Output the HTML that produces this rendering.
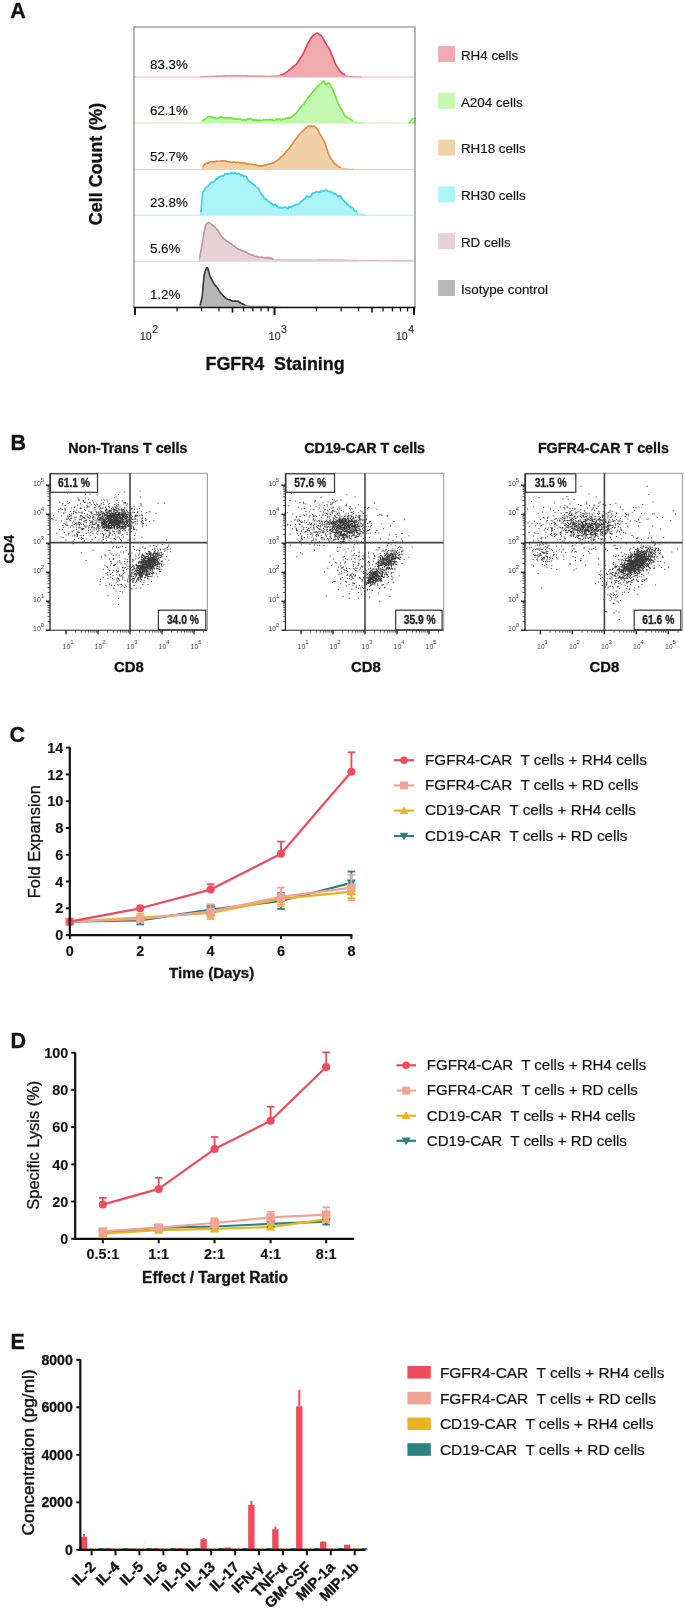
<!DOCTYPE html><html><head><meta charset="utf-8"><style>html,body{margin:0;padding:0;background:#fff;width:685px;height:1609px;overflow:hidden}svg{display:block;filter:blur(0.45px)}text{font-family:'Liberation Sans',sans-serif;white-space:pre}</style></head><body>
<svg width="685" height="1609" viewBox="0 0 685 1609">
<rect width="685" height="1609" fill="#fff"/>
<text x="10.2" y="17.8" font-size="21.5" font-weight="bold" text-anchor="start" fill="#111"  stroke="#111" stroke-width="0.3">A</text>
<line x1="134" y1="77" x2="415" y2="77" stroke="#e2485a" stroke-opacity="0.45" stroke-width="0.9"/>
<path d="M200.0,77.0 L200.4,77.0 L200.8,76.9 L201.2,76.9 L201.7,76.8 L202.3,76.8 L202.9,76.7 L203.5,76.6 L204.2,76.6 L205.0,76.5 L205.8,76.5 L206.8,76.4 L207.7,76.3 L208.8,76.3 L210.0,76.2 L210.5,76.2 L211.1,76.2 L211.6,76.1 L212.2,76.1 L212.8,76.1 L213.4,76.0 L214.1,76.0 L214.7,76.0 L215.4,76.0 L216.1,75.9 L216.8,75.9 L217.6,75.9 L218.3,75.8 L219.0,75.8 L219.8,75.8 L220.5,75.8 L221.3,75.7 L222.1,75.7 L222.9,75.7 L223.6,75.6 L224.4,75.6 L225.2,75.6 L226.0,75.6 L226.7,75.5 L227.5,75.5 L228.3,75.5 L229.0,75.5 L229.8,75.5 L230.5,75.5 L231.2,75.4 L231.9,75.4 L232.6,75.4 L233.3,75.4 L234.0,75.4 L234.7,75.4 L235.5,75.4 L236.2,75.4 L237.0,75.4 L237.7,75.4 L238.4,75.4 L239.1,75.4 L239.9,75.4 L240.6,75.4 L241.3,75.5 L242.0,75.5 L242.7,75.5 L243.4,75.5 L244.1,75.5 L244.8,75.6 L245.5,75.6 L246.2,75.6 L246.9,75.6 L247.6,75.6 L248.3,75.7 L248.9,75.7 L249.6,75.7 L250.3,75.7 L251.0,75.7 L251.7,75.7 L252.3,75.8 L253.0,75.8 L253.7,75.8 L254.3,75.8 L255.0,75.8 L255.7,75.8 L256.5,75.8 L257.2,75.8 L258.0,75.8 L258.8,75.9 L259.5,75.9 L260.3,75.9 L261.1,75.9 L261.8,75.9 L262.6,75.9 L263.3,75.9 L264.1,75.9 L264.8,76.0 L265.6,76.0 L266.3,76.0 L267.0,76.0 L267.7,76.0 L268.4,76.0 L269.1,76.0 L269.8,76.0 L270.4,76.0 L271.1,75.9 L271.7,75.9 L272.3,75.9 L272.9,75.9 L273.5,75.8 L274.0,75.8 L275.0,75.7 L275.9,75.7 L276.7,75.6 L277.5,75.5 L278.2,75.4 L278.9,75.3 L279.5,75.2 L280.1,75.1 L280.7,75.1 L281.3,74.5 L282.0,74.7 L282.6,74.5 L283.3,74.4 L284.0,74.1 L284.7,73.5 L285.4,72.9 L286.2,72.2 L286.9,72.0 L287.7,71.2 L288.5,70.5 L289.2,70.0 L290.0,69.4 L290.8,69.0 L291.5,68.3 L292.3,67.5 L293.0,67.0 L293.7,66.3 L294.4,65.9 L295.0,65.1 L295.9,64.7 L296.7,63.8 L297.5,62.5 L298.3,61.3 L299.0,60.2 L299.7,59.1 L300.4,57.8 L301.1,57.1 L301.8,56.4 L302.4,55.1 L303.0,54.0 L303.9,52.1 L304.7,50.3 L305.4,48.7 L306.1,47.2 L306.7,46.1 L307.4,44.4 L308.0,42.9 L308.9,41.8 L309.7,40.4 L310.4,38.9 L311.2,37.9 L312.0,36.6 L312.8,35.8 L313.6,35.3 L314.3,34.7 L315.1,34.1 L316.0,33.5 L316.7,33.3 L317.4,33.1 L318.1,33.6 L318.8,33.9 L319.5,34.5 L320.3,34.9 L321.0,35.3 L321.7,36.4 L322.4,37.6 L323.1,38.8 L323.8,39.9 L324.5,41.2 L325.2,42.5 L326.0,43.5 L326.7,44.8 L327.4,46.0 L328.2,47.1 L328.9,48.4 L329.7,50.0 L330.5,51.6 L331.2,53.5 L332.0,55.4 L332.7,56.9 L333.5,58.9 L334.2,60.9 L334.9,62.8 L335.6,64.1 L336.4,65.5 L337.2,66.8 L338.0,68.1 L338.6,68.9 L339.3,70.0 L340.0,71.1 L340.7,72.0 L341.4,72.5 L342.2,73.2 L342.9,73.9 L343.7,74.0 L344.5,74.6 L345.2,75.3 L346.0,75.4 L346.7,75.7 L347.5,76.0 L348.2,76.2 L349.0,76.3 L349.8,76.4 L350.6,76.5 L351.3,76.6 L352.1,76.6 L352.9,76.7 L353.6,76.7 L354.3,76.7 L355.0,76.8 L355.8,76.9 L356.6,76.9 L357.5,77.0 L358.3,77.0 L359.1,77.0 L359.8,77.0 L360.5,77.0 L361.1,77.0 L361.6,77.0 L362.0,77.0 L362.0,77 L200.0,77 Z" fill="#f0aab0" stroke="none"/>
<path d="M200.0,77.0 L200.4,77.0 L200.8,76.9 L201.2,76.9 L201.7,76.8 L202.3,76.8 L202.9,76.7 L203.5,76.6 L204.2,76.6 L205.0,76.5 L205.8,76.5 L206.8,76.4 L207.7,76.3 L208.8,76.3 L210.0,76.2 L210.5,76.2 L211.1,76.2 L211.6,76.1 L212.2,76.1 L212.8,76.1 L213.4,76.0 L214.1,76.0 L214.7,76.0 L215.4,76.0 L216.1,75.9 L216.8,75.9 L217.6,75.9 L218.3,75.8 L219.0,75.8 L219.8,75.8 L220.5,75.8 L221.3,75.7 L222.1,75.7 L222.9,75.7 L223.6,75.6 L224.4,75.6 L225.2,75.6 L226.0,75.6 L226.7,75.5 L227.5,75.5 L228.3,75.5 L229.0,75.5 L229.8,75.5 L230.5,75.5 L231.2,75.4 L231.9,75.4 L232.6,75.4 L233.3,75.4 L234.0,75.4 L234.7,75.4 L235.5,75.4 L236.2,75.4 L237.0,75.4 L237.7,75.4 L238.4,75.4 L239.1,75.4 L239.9,75.4 L240.6,75.4 L241.3,75.5 L242.0,75.5 L242.7,75.5 L243.4,75.5 L244.1,75.5 L244.8,75.6 L245.5,75.6 L246.2,75.6 L246.9,75.6 L247.6,75.6 L248.3,75.7 L248.9,75.7 L249.6,75.7 L250.3,75.7 L251.0,75.7 L251.7,75.7 L252.3,75.8 L253.0,75.8 L253.7,75.8 L254.3,75.8 L255.0,75.8 L255.7,75.8 L256.5,75.8 L257.2,75.8 L258.0,75.8 L258.8,75.9 L259.5,75.9 L260.3,75.9 L261.1,75.9 L261.8,75.9 L262.6,75.9 L263.3,75.9 L264.1,75.9 L264.8,76.0 L265.6,76.0 L266.3,76.0 L267.0,76.0 L267.7,76.0 L268.4,76.0 L269.1,76.0 L269.8,76.0 L270.4,76.0 L271.1,75.9 L271.7,75.9 L272.3,75.9 L272.9,75.9 L273.5,75.8 L274.0,75.8 L275.0,75.7 L275.9,75.7 L276.7,75.6 L277.5,75.5 L278.2,75.4 L278.9,75.3 L279.5,75.2 L280.1,75.1 L280.7,75.1 L281.3,74.5 L282.0,74.7 L282.6,74.5 L283.3,74.4 L284.0,74.1 L284.7,73.5 L285.4,72.9 L286.2,72.2 L286.9,72.0 L287.7,71.2 L288.5,70.5 L289.2,70.0 L290.0,69.4 L290.8,69.0 L291.5,68.3 L292.3,67.5 L293.0,67.0 L293.7,66.3 L294.4,65.9 L295.0,65.1 L295.9,64.7 L296.7,63.8 L297.5,62.5 L298.3,61.3 L299.0,60.2 L299.7,59.1 L300.4,57.8 L301.1,57.1 L301.8,56.4 L302.4,55.1 L303.0,54.0 L303.9,52.1 L304.7,50.3 L305.4,48.7 L306.1,47.2 L306.7,46.1 L307.4,44.4 L308.0,42.9 L308.9,41.8 L309.7,40.4 L310.4,38.9 L311.2,37.9 L312.0,36.6 L312.8,35.8 L313.6,35.3 L314.3,34.7 L315.1,34.1 L316.0,33.5 L316.7,33.3 L317.4,33.1 L318.1,33.6 L318.8,33.9 L319.5,34.5 L320.3,34.9 L321.0,35.3 L321.7,36.4 L322.4,37.6 L323.1,38.8 L323.8,39.9 L324.5,41.2 L325.2,42.5 L326.0,43.5 L326.7,44.8 L327.4,46.0 L328.2,47.1 L328.9,48.4 L329.7,50.0 L330.5,51.6 L331.2,53.5 L332.0,55.4 L332.7,56.9 L333.5,58.9 L334.2,60.9 L334.9,62.8 L335.6,64.1 L336.4,65.5 L337.2,66.8 L338.0,68.1 L338.6,68.9 L339.3,70.0 L340.0,71.1 L340.7,72.0 L341.4,72.5 L342.2,73.2 L342.9,73.9 L343.7,74.0 L344.5,74.6 L345.2,75.3 L346.0,75.4 L346.7,75.7 L347.5,76.0 L348.2,76.2 L349.0,76.3 L349.8,76.4 L350.6,76.5 L351.3,76.6 L352.1,76.6 L352.9,76.7 L353.6,76.7 L354.3,76.7 L355.0,76.8 L355.8,76.9 L356.6,76.9 L357.5,77.0 L358.3,77.0 L359.1,77.0 L359.8,77.0 L360.5,77.0 L361.1,77.0 L361.6,77.0 L362.0,77.0" fill="none" stroke="#e2485a" stroke-opacity="0.45" stroke-width="1.1" stroke-linejoin="round"/>
<path d="M281.3,74.5 L282.0,74.7 L282.6,74.5 L283.3,74.4 L284.0,74.1 L284.7,73.5 L285.4,72.9 L286.2,72.2 L286.9,72.0 L287.7,71.2 L288.5,70.5 L289.2,70.0 L290.0,69.4 L290.8,69.0 L291.5,68.3 L292.3,67.5 L293.0,67.0 L293.7,66.3 L294.4,65.9 L295.0,65.1 L295.9,64.7 L296.7,63.8 L297.5,62.5 L298.3,61.3 L299.0,60.2 L299.7,59.1 L300.4,57.8 L301.1,57.1 L301.8,56.4 L302.4,55.1 L303.0,54.0 L303.9,52.1 L304.7,50.3 L305.4,48.7 L306.1,47.2 L306.7,46.1 L307.4,44.4 L308.0,42.9 L308.9,41.8 L309.7,40.4 L310.4,38.9 L311.2,37.9 L312.0,36.6 L312.8,35.8 L313.6,35.3 L314.3,34.7 L315.1,34.1 L316.0,33.5 L316.7,33.3 L317.4,33.1 L318.1,33.6 L318.8,33.9 L319.5,34.5 L320.3,34.9 L321.0,35.3 L321.7,36.4 L322.4,37.6 L323.1,38.8 L323.8,39.9 L324.5,41.2 L325.2,42.5 L326.0,43.5 L326.7,44.8 L327.4,46.0 L328.2,47.1 L328.9,48.4 L329.7,50.0 L330.5,51.6 L331.2,53.5 L332.0,55.4 L332.7,56.9 L333.5,58.9 L334.2,60.9 L334.9,62.8 L335.6,64.1 L336.4,65.5 L337.2,66.8 L338.0,68.1 L338.6,68.9 L339.3,70.0 L340.0,71.1 L340.7,72.0 L341.4,72.5 L342.2,73.2 L342.9,73.9 L343.7,74.0 L344.5,74.6" fill="none" stroke="#e2485a" stroke-width="1.6" stroke-linejoin="round" stroke-linecap="round"/>
<text x="150" y="69" font-size="13.3" font-weight="normal" text-anchor="start" fill="#111" stroke="#111" stroke-width="0.15">83.3%</text>
<line x1="134" y1="123" x2="415" y2="123" stroke="#6ee63a" stroke-opacity="0.45" stroke-width="0.9"/>
<path d="M200.3,123.0 L200.9,122.2 L201.8,121.1 L203.0,120.2 L203.6,119.7 L204.2,119.8 L204.9,118.9 L205.6,118.7 L206.4,118.5 L207.2,117.4 L208.0,116.7 L208.6,116.5 L209.2,116.3 L209.8,116.7 L210.4,116.6 L211.1,116.8 L211.8,116.6 L212.5,117.6 L213.3,117.5 L214.1,117.6 L215.0,117.8 L215.6,118.4 L216.1,118.1 L216.7,118.6 L217.3,118.3 L217.9,118.2 L218.5,118.1 L219.1,117.3 L219.7,117.4 L220.4,117.2 L221.1,116.7 L221.9,117.6 L222.7,117.3 L223.5,117.5 L224.5,118.0 L225.4,118.1 L226.5,117.8 L227.0,118.0 L227.6,118.1 L228.2,118.5 L228.8,117.8 L229.4,118.1 L230.0,117.8 L230.7,117.7 L231.4,118.3 L232.0,118.4 L232.7,118.5 L233.4,118.9 L234.1,119.3 L234.9,119.0 L235.6,119.0 L236.3,118.9 L237.1,118.9 L237.8,119.1 L238.6,119.0 L239.4,119.0 L240.1,119.0 L240.9,119.6 L241.7,119.7 L242.5,120.0 L243.2,120.3 L244.0,119.5 L244.8,119.5 L245.5,120.1 L246.3,120.3 L247.1,119.4 L247.8,118.9 L248.5,119.1 L249.3,118.6 L250.0,118.6 L250.7,118.4 L251.4,119.1 L252.1,119.7 L252.8,120.3 L253.6,119.6 L254.3,119.9 L255.0,120.1 L255.8,119.5 L256.5,120.2 L257.3,120.7 L258.0,120.0 L258.8,120.6 L259.5,120.2 L260.2,120.1 L261.0,120.7 L261.7,120.9 L262.5,120.1 L263.2,120.0 L263.9,120.0 L264.7,119.8 L265.4,119.5 L266.1,119.5 L266.8,120.1 L267.5,119.4 L268.2,119.8 L268.9,119.8 L269.6,119.3 L270.2,119.4 L270.9,119.8 L271.5,119.9 L272.2,119.4 L272.8,120.3 L273.4,120.6 L274.0,121.0 L274.9,120.0 L275.8,119.6 L276.6,119.0 L277.5,119.7 L278.3,119.4 L279.1,118.9 L279.9,119.1 L280.7,119.8 L281.4,120.1 L282.2,119.4 L282.9,118.8 L283.6,119.5 L284.3,119.4 L285.0,119.4 L285.6,118.5 L286.3,117.9 L286.9,118.3 L287.6,118.1 L288.2,117.4 L288.8,118.1 L289.4,118.0 L290.0,118.1 L290.9,116.9 L291.8,117.0 L292.6,115.7 L293.4,115.8 L294.1,115.1 L294.8,114.2 L295.5,113.7 L296.2,113.7 L296.8,112.4 L297.5,111.2 L298.1,110.8 L298.7,109.8 L299.4,108.8 L300.0,108.0 L300.8,106.9 L301.6,106.1 L302.3,105.4 L303.1,104.5 L303.8,104.3 L304.5,103.1 L305.2,102.2 L305.9,100.9 L306.6,100.0 L307.3,98.5 L308.0,97.6 L308.7,96.4 L309.5,96.2 L310.2,95.4 L311.0,94.0 L311.7,93.2 L312.4,92.9 L313.2,91.2 L313.9,90.9 L314.6,89.7 L315.3,88.8 L316.0,88.5 L316.8,87.3 L317.5,86.4 L318.3,85.8 L319.1,85.5 L319.8,84.2 L320.5,83.8 L321.2,83.3 L321.9,82.7 L322.5,82.0 L323.0,81.4 L324.0,81.1 L324.7,82.0 L325.3,83.1 L326.0,84.6 L326.7,84.4 L327.5,83.6 L328.4,82.8 L329.2,83.5 L330.0,84.4 L330.8,85.6 L331.5,86.7 L332.2,88.3 L333.0,90.4 L334.0,92.9 L334.6,93.9 L335.2,95.6 L335.9,97.1 L336.6,99.7 L337.4,102.0 L338.1,103.4 L338.9,104.5 L339.6,106.8 L340.3,107.8 L341.0,108.9 L341.8,109.7 L342.5,111.3 L343.1,112.8 L343.8,114.1 L344.4,114.9 L345.2,116.2 L346.0,116.5 L347.0,117.4 L347.6,117.6 L348.3,118.3 L349.0,118.4 L349.7,118.5 L350.5,119.1 L351.3,119.5 L352.1,120.3 L352.9,121.1 L353.7,121.3 L354.5,121.6 L355.3,121.8 L356.0,122.0 L356.7,122.2 L357.4,122.3 L358.0,122.5 L359.0,122.7 L360.0,122.9 L360.9,123.0 L361.7,123.0 L362.4,123.0 L363.0,123.0 L363.6,123.0 L364.0,123.0 L364.0,123 L200.3,123 Z" fill="#c4f7b0" stroke="none"/>
<path d="M200.3,123.0 L200.9,122.2 L201.8,121.1 L203.0,120.2 L203.6,119.7 L204.2,119.8 L204.9,118.9 L205.6,118.7 L206.4,118.5 L207.2,117.4 L208.0,116.7 L208.6,116.5 L209.2,116.3 L209.8,116.7 L210.4,116.6 L211.1,116.8 L211.8,116.6 L212.5,117.6 L213.3,117.5 L214.1,117.6 L215.0,117.8 L215.6,118.4 L216.1,118.1 L216.7,118.6 L217.3,118.3 L217.9,118.2 L218.5,118.1 L219.1,117.3 L219.7,117.4 L220.4,117.2 L221.1,116.7 L221.9,117.6 L222.7,117.3 L223.5,117.5 L224.5,118.0 L225.4,118.1 L226.5,117.8 L227.0,118.0 L227.6,118.1 L228.2,118.5 L228.8,117.8 L229.4,118.1 L230.0,117.8 L230.7,117.7 L231.4,118.3 L232.0,118.4 L232.7,118.5 L233.4,118.9 L234.1,119.3 L234.9,119.0 L235.6,119.0 L236.3,118.9 L237.1,118.9 L237.8,119.1 L238.6,119.0 L239.4,119.0 L240.1,119.0 L240.9,119.6 L241.7,119.7 L242.5,120.0 L243.2,120.3 L244.0,119.5 L244.8,119.5 L245.5,120.1 L246.3,120.3 L247.1,119.4 L247.8,118.9 L248.5,119.1 L249.3,118.6 L250.0,118.6 L250.7,118.4 L251.4,119.1 L252.1,119.7 L252.8,120.3 L253.6,119.6 L254.3,119.9 L255.0,120.1 L255.8,119.5 L256.5,120.2 L257.3,120.7 L258.0,120.0 L258.8,120.6 L259.5,120.2 L260.2,120.1 L261.0,120.7 L261.7,120.9 L262.5,120.1 L263.2,120.0 L263.9,120.0 L264.7,119.8 L265.4,119.5 L266.1,119.5 L266.8,120.1 L267.5,119.4 L268.2,119.8 L268.9,119.8 L269.6,119.3 L270.2,119.4 L270.9,119.8 L271.5,119.9 L272.2,119.4 L272.8,120.3 L273.4,120.6 L274.0,121.0 L274.9,120.0 L275.8,119.6 L276.6,119.0 L277.5,119.7 L278.3,119.4 L279.1,118.9 L279.9,119.1 L280.7,119.8 L281.4,120.1 L282.2,119.4 L282.9,118.8 L283.6,119.5 L284.3,119.4 L285.0,119.4 L285.6,118.5 L286.3,117.9 L286.9,118.3 L287.6,118.1 L288.2,117.4 L288.8,118.1 L289.4,118.0 L290.0,118.1 L290.9,116.9 L291.8,117.0 L292.6,115.7 L293.4,115.8 L294.1,115.1 L294.8,114.2 L295.5,113.7 L296.2,113.7 L296.8,112.4 L297.5,111.2 L298.1,110.8 L298.7,109.8 L299.4,108.8 L300.0,108.0 L300.8,106.9 L301.6,106.1 L302.3,105.4 L303.1,104.5 L303.8,104.3 L304.5,103.1 L305.2,102.2 L305.9,100.9 L306.6,100.0 L307.3,98.5 L308.0,97.6 L308.7,96.4 L309.5,96.2 L310.2,95.4 L311.0,94.0 L311.7,93.2 L312.4,92.9 L313.2,91.2 L313.9,90.9 L314.6,89.7 L315.3,88.8 L316.0,88.5 L316.8,87.3 L317.5,86.4 L318.3,85.8 L319.1,85.5 L319.8,84.2 L320.5,83.8 L321.2,83.3 L321.9,82.7 L322.5,82.0 L323.0,81.4 L324.0,81.1 L324.7,82.0 L325.3,83.1 L326.0,84.6 L326.7,84.4 L327.5,83.6 L328.4,82.8 L329.2,83.5 L330.0,84.4 L330.8,85.6 L331.5,86.7 L332.2,88.3 L333.0,90.4 L334.0,92.9 L334.6,93.9 L335.2,95.6 L335.9,97.1 L336.6,99.7 L337.4,102.0 L338.1,103.4 L338.9,104.5 L339.6,106.8 L340.3,107.8 L341.0,108.9 L341.8,109.7 L342.5,111.3 L343.1,112.8 L343.8,114.1 L344.4,114.9 L345.2,116.2 L346.0,116.5 L347.0,117.4 L347.6,117.6 L348.3,118.3 L349.0,118.4 L349.7,118.5 L350.5,119.1 L351.3,119.5 L352.1,120.3 L352.9,121.1 L353.7,121.3 L354.5,121.6 L355.3,121.8 L356.0,122.0 L356.7,122.2 L357.4,122.3 L358.0,122.5 L359.0,122.7 L360.0,122.9 L360.9,123.0 L361.7,123.0 L362.4,123.0 L363.0,123.0 L363.6,123.0 L364.0,123.0" fill="none" stroke="#6ee63a" stroke-opacity="0.45" stroke-width="1.1" stroke-linejoin="round"/>
<path d="M203.0,120.2 L203.6,119.7 L204.2,119.8 L204.9,118.9 L205.6,118.7 L206.4,118.5 L207.2,117.4 L208.0,116.7 L208.6,116.5 L209.2,116.3 L209.8,116.7 L210.4,116.6 L211.1,116.8 L211.8,116.6 L212.5,117.6 L213.3,117.5 L214.1,117.6 L215.0,117.8 L215.6,118.4 L216.1,118.1 L216.7,118.6 L217.3,118.3 L217.9,118.2 L218.5,118.1 L219.1,117.3 L219.7,117.4 L220.4,117.2 L221.1,116.7 L221.9,117.6 L222.7,117.3 L223.5,117.5 L224.5,118.0 L225.4,118.1 L226.5,117.8 L227.0,118.0 L227.6,118.1 L228.2,118.5 L228.8,117.8 L229.4,118.1 L230.0,117.8 L230.7,117.7 L231.4,118.3 L232.0,118.4 L232.7,118.5 L233.4,118.9 L234.1,119.3 L234.9,119.0 L235.6,119.0 L236.3,118.9 L237.1,118.9 L237.8,119.1 L238.6,119.0 L239.4,119.0 L240.1,119.0 L240.9,119.6 L241.7,119.7 L242.5,120.0 L243.2,120.3 L244.0,119.5 L244.8,119.5 L245.5,120.1 L246.3,120.3 L247.1,119.4 L247.8,118.9 L248.5,119.1 L249.3,118.6 L250.0,118.6 L250.7,118.4 L251.4,119.1 L252.1,119.7 L252.8,120.3 L253.6,119.6 L254.3,119.9 L255.0,120.1 L255.8,119.5 L256.5,120.2 L257.3,120.7 L258.0,120.0 L258.8,120.6 L259.5,120.2 L260.2,120.1 L261.0,120.7M262.5,120.1 L263.2,120.0 L263.9,120.0 L264.7,119.8 L265.4,119.5 L266.1,119.5 L266.8,120.1 L267.5,119.4 L268.2,119.8 L268.9,119.8 L269.6,119.3 L270.2,119.4 L270.9,119.8 L271.5,119.9 L272.2,119.4 L272.8,120.3 L273.4,120.6M274.9,120.0 L275.8,119.6 L276.6,119.0 L277.5,119.7 L278.3,119.4 L279.1,118.9 L279.9,119.1 L280.7,119.8 L281.4,120.1 L282.2,119.4 L282.9,118.8 L283.6,119.5 L284.3,119.4 L285.0,119.4 L285.6,118.5 L286.3,117.9 L286.9,118.3 L287.6,118.1 L288.2,117.4 L288.8,118.1 L289.4,118.0 L290.0,118.1 L290.9,116.9 L291.8,117.0 L292.6,115.7 L293.4,115.8 L294.1,115.1 L294.8,114.2 L295.5,113.7 L296.2,113.7 L296.8,112.4 L297.5,111.2 L298.1,110.8 L298.7,109.8 L299.4,108.8 L300.0,108.0 L300.8,106.9 L301.6,106.1 L302.3,105.4 L303.1,104.5 L303.8,104.3 L304.5,103.1 L305.2,102.2 L305.9,100.9 L306.6,100.0 L307.3,98.5 L308.0,97.6 L308.7,96.4 L309.5,96.2 L310.2,95.4 L311.0,94.0 L311.7,93.2 L312.4,92.9 L313.2,91.2 L313.9,90.9 L314.6,89.7 L315.3,88.8 L316.0,88.5 L316.8,87.3 L317.5,86.4 L318.3,85.8 L319.1,85.5 L319.8,84.2 L320.5,83.8 L321.2,83.3 L321.9,82.7 L322.5,82.0 L323.0,81.4 L324.0,81.1 L324.7,82.0 L325.3,83.1 L326.0,84.6 L326.7,84.4 L327.5,83.6 L328.4,82.8 L329.2,83.5 L330.0,84.4 L330.8,85.6 L331.5,86.7 L332.2,88.3 L333.0,90.4 L334.0,92.9 L334.6,93.9 L335.2,95.6 L335.9,97.1 L336.6,99.7 L337.4,102.0 L338.1,103.4 L338.9,104.5 L339.6,106.8 L340.3,107.8 L341.0,108.9 L341.8,109.7 L342.5,111.3 L343.1,112.8 L343.8,114.1 L344.4,114.9 L345.2,116.2 L346.0,116.5 L347.0,117.4 L347.6,117.6 L348.3,118.3 L349.0,118.4 L349.7,118.5 L350.5,119.1 L351.3,119.5 L352.1,120.3" fill="none" stroke="#6ee63a" stroke-width="1.6" stroke-linejoin="round" stroke-linecap="round"/>
<text x="150" y="115" font-size="13.3" font-weight="normal" text-anchor="start" fill="#111" stroke="#111" stroke-width="0.15">62.1%</text>
<line x1="134" y1="169.4" x2="415" y2="169.4" stroke="#de8e3e" stroke-opacity="0.45" stroke-width="0.9"/>
<path d="M201.6,169.4 L202.2,168.2 L203.1,166.4 L204.0,165.0 L204.5,164.5 L204.8,164.1 L205.5,163.7 L207.0,163.1 L207.5,163.2 L208.0,163.0 L208.5,162.9 L209.1,162.4 L209.8,161.9 L210.4,161.7 L211.1,161.7 L211.9,161.4 L212.6,161.7 L213.4,161.7 L214.2,161.7 L214.9,161.6 L215.7,161.6 L216.5,161.4 L217.3,160.9 L218.1,161.2 L218.8,161.3 L219.6,161.2 L220.3,161.1 L221.0,161.2 L221.7,160.8 L222.5,161.1 L223.2,160.9 L223.9,160.7 L224.7,160.7 L225.4,161.1 L226.1,161.0 L226.8,161.4 L227.5,161.8 L228.2,161.8 L229.0,161.7 L229.7,161.8 L230.4,162.0 L231.1,162.2 L231.8,162.3 L232.5,162.4 L233.3,162.1 L234.0,162.0 L234.7,162.0 L235.4,162.4 L236.1,162.3 L236.8,162.5 L237.5,162.2 L238.2,162.2 L238.9,162.3 L239.6,162.6 L240.3,162.9 L241.0,163.1 L241.7,162.9 L242.4,163.0 L243.1,163.1 L243.9,163.2 L244.6,163.0 L245.3,163.4 L246.0,163.3 L246.8,163.8 L247.5,164.1 L248.2,163.6 L248.9,163.7 L249.6,164.1 L250.4,164.5 L251.1,164.4 L251.9,164.3 L252.6,164.3 L253.3,164.8 L254.1,164.7 L254.8,164.9 L255.6,164.8 L256.3,165.1 L257.1,165.6 L257.8,165.3 L258.5,165.7 L259.2,165.7 L260.0,166.0 L260.6,166.0 L261.3,165.7 L262.0,166.0 L262.8,165.8 L263.5,165.3 L264.3,165.0 L265.0,165.1 L265.8,165.0 L266.5,164.8 L267.2,164.5 L267.9,164.4 L268.6,164.2 L269.3,164.3 L270.0,163.7 L270.7,163.8 L271.4,163.8 L272.0,163.1 L272.7,163.2 L273.4,162.9 L274.0,162.7 L274.8,162.0 L275.6,161.4 L276.3,160.9 L277.1,160.7 L277.8,160.2 L278.5,159.4 L279.2,158.8 L280.0,158.0 L280.7,157.2 L281.3,156.4 L282.0,156.3 L282.7,155.5 L283.4,155.2 L284.0,154.3 L284.8,153.3 L285.6,152.5 L286.3,151.4 L287.1,150.5 L287.8,149.9 L288.5,149.2 L289.2,148.2 L289.9,147.2 L290.6,146.3 L291.3,145.5 L292.0,144.3 L292.7,143.4 L293.5,141.9 L294.2,141.1 L295.0,140.1 L295.7,139.3 L296.5,138.4 L297.2,137.2 L298.0,136.0 L298.7,135.6 L299.3,134.5 L300.0,133.8 L300.9,132.7 L301.7,131.8 L302.4,131.2 L303.2,130.8 L303.9,129.8 L304.6,129.2 L305.3,128.5 L306.0,128.0 L306.8,127.4 L307.5,126.7 L308.2,126.3 L308.9,125.9 L309.6,126.2 L310.3,126.0 L311.0,125.8 L311.7,126.2 L312.3,126.4 L313.0,126.3 L313.6,126.1 L314.4,126.3 L315.1,126.7 L316.0,127.7 L316.6,128.4 L317.3,129.3 L318.0,130.4 L318.8,131.7 L319.5,133.3 L320.3,134.8 L321.1,135.9 L321.9,137.2 L322.6,138.6 L323.3,139.9 L324.0,141.1 L324.8,142.8 L325.6,144.8 L326.3,147.4 L327.0,149.2 L327.7,151.4 L328.4,153.5 L329.2,155.6 L330.0,157.0 L330.6,157.9 L331.3,158.9 L332.0,159.9 L332.7,160.9 L333.4,162.2 L334.2,163.2 L334.9,164.1 L335.7,164.3 L336.5,164.7 L337.2,165.6 L338.0,166.4 L338.7,166.8 L339.5,167.2 L340.2,167.1 L341.0,167.7 L341.8,167.9 L342.6,168.1 L343.3,168.3 L344.1,168.4 L344.9,168.5 L345.6,168.7 L346.3,168.8 L347.0,168.9 L347.8,169.0 L348.6,169.1 L349.5,169.2 L350.3,169.3 L351.1,169.3 L351.8,169.3 L352.5,169.4 L353.1,169.4 L353.6,169.4 L354.0,169.4 L354.0,169.4 L201.6,169.4 Z" fill="#f2d0a8" stroke="none"/>
<path d="M201.6,169.4 L202.2,168.2 L203.1,166.4 L204.0,165.0 L204.5,164.5 L204.8,164.1 L205.5,163.7 L207.0,163.1 L207.5,163.2 L208.0,163.0 L208.5,162.9 L209.1,162.4 L209.8,161.9 L210.4,161.7 L211.1,161.7 L211.9,161.4 L212.6,161.7 L213.4,161.7 L214.2,161.7 L214.9,161.6 L215.7,161.6 L216.5,161.4 L217.3,160.9 L218.1,161.2 L218.8,161.3 L219.6,161.2 L220.3,161.1 L221.0,161.2 L221.7,160.8 L222.5,161.1 L223.2,160.9 L223.9,160.7 L224.7,160.7 L225.4,161.1 L226.1,161.0 L226.8,161.4 L227.5,161.8 L228.2,161.8 L229.0,161.7 L229.7,161.8 L230.4,162.0 L231.1,162.2 L231.8,162.3 L232.5,162.4 L233.3,162.1 L234.0,162.0 L234.7,162.0 L235.4,162.4 L236.1,162.3 L236.8,162.5 L237.5,162.2 L238.2,162.2 L238.9,162.3 L239.6,162.6 L240.3,162.9 L241.0,163.1 L241.7,162.9 L242.4,163.0 L243.1,163.1 L243.9,163.2 L244.6,163.0 L245.3,163.4 L246.0,163.3 L246.8,163.8 L247.5,164.1 L248.2,163.6 L248.9,163.7 L249.6,164.1 L250.4,164.5 L251.1,164.4 L251.9,164.3 L252.6,164.3 L253.3,164.8 L254.1,164.7 L254.8,164.9 L255.6,164.8 L256.3,165.1 L257.1,165.6 L257.8,165.3 L258.5,165.7 L259.2,165.7 L260.0,166.0 L260.6,166.0 L261.3,165.7 L262.0,166.0 L262.8,165.8 L263.5,165.3 L264.3,165.0 L265.0,165.1 L265.8,165.0 L266.5,164.8 L267.2,164.5 L267.9,164.4 L268.6,164.2 L269.3,164.3 L270.0,163.7 L270.7,163.8 L271.4,163.8 L272.0,163.1 L272.7,163.2 L273.4,162.9 L274.0,162.7 L274.8,162.0 L275.6,161.4 L276.3,160.9 L277.1,160.7 L277.8,160.2 L278.5,159.4 L279.2,158.8 L280.0,158.0 L280.7,157.2 L281.3,156.4 L282.0,156.3 L282.7,155.5 L283.4,155.2 L284.0,154.3 L284.8,153.3 L285.6,152.5 L286.3,151.4 L287.1,150.5 L287.8,149.9 L288.5,149.2 L289.2,148.2 L289.9,147.2 L290.6,146.3 L291.3,145.5 L292.0,144.3 L292.7,143.4 L293.5,141.9 L294.2,141.1 L295.0,140.1 L295.7,139.3 L296.5,138.4 L297.2,137.2 L298.0,136.0 L298.7,135.6 L299.3,134.5 L300.0,133.8 L300.9,132.7 L301.7,131.8 L302.4,131.2 L303.2,130.8 L303.9,129.8 L304.6,129.2 L305.3,128.5 L306.0,128.0 L306.8,127.4 L307.5,126.7 L308.2,126.3 L308.9,125.9 L309.6,126.2 L310.3,126.0 L311.0,125.8 L311.7,126.2 L312.3,126.4 L313.0,126.3 L313.6,126.1 L314.4,126.3 L315.1,126.7 L316.0,127.7 L316.6,128.4 L317.3,129.3 L318.0,130.4 L318.8,131.7 L319.5,133.3 L320.3,134.8 L321.1,135.9 L321.9,137.2 L322.6,138.6 L323.3,139.9 L324.0,141.1 L324.8,142.8 L325.6,144.8 L326.3,147.4 L327.0,149.2 L327.7,151.4 L328.4,153.5 L329.2,155.6 L330.0,157.0 L330.6,157.9 L331.3,158.9 L332.0,159.9 L332.7,160.9 L333.4,162.2 L334.2,163.2 L334.9,164.1 L335.7,164.3 L336.5,164.7 L337.2,165.6 L338.0,166.4 L338.7,166.8 L339.5,167.2 L340.2,167.1 L341.0,167.7 L341.8,167.9 L342.6,168.1 L343.3,168.3 L344.1,168.4 L344.9,168.5 L345.6,168.7 L346.3,168.8 L347.0,168.9 L347.8,169.0 L348.6,169.1 L349.5,169.2 L350.3,169.3 L351.1,169.3 L351.8,169.3 L352.5,169.4 L353.1,169.4 L353.6,169.4 L354.0,169.4" fill="none" stroke="#de8e3e" stroke-opacity="0.45" stroke-width="1.1" stroke-linejoin="round"/>
<path d="M203.1,166.4 L204.0,165.0 L204.5,164.5 L204.8,164.1 L205.5,163.7 L207.0,163.1 L207.5,163.2 L208.0,163.0 L208.5,162.9 L209.1,162.4 L209.8,161.9 L210.4,161.7 L211.1,161.7 L211.9,161.4 L212.6,161.7 L213.4,161.7 L214.2,161.7 L214.9,161.6 L215.7,161.6 L216.5,161.4 L217.3,160.9 L218.1,161.2 L218.8,161.3 L219.6,161.2 L220.3,161.1 L221.0,161.2 L221.7,160.8 L222.5,161.1 L223.2,160.9 L223.9,160.7 L224.7,160.7 L225.4,161.1 L226.1,161.0 L226.8,161.4 L227.5,161.8 L228.2,161.8 L229.0,161.7 L229.7,161.8 L230.4,162.0 L231.1,162.2 L231.8,162.3 L232.5,162.4 L233.3,162.1 L234.0,162.0 L234.7,162.0 L235.4,162.4 L236.1,162.3 L236.8,162.5 L237.5,162.2 L238.2,162.2 L238.9,162.3 L239.6,162.6 L240.3,162.9 L241.0,163.1 L241.7,162.9 L242.4,163.0 L243.1,163.1 L243.9,163.2 L244.6,163.0 L245.3,163.4 L246.0,163.3 L246.8,163.8 L247.5,164.1 L248.2,163.6 L248.9,163.7 L249.6,164.1 L250.4,164.5 L251.1,164.4 L251.9,164.3 L252.6,164.3 L253.3,164.8 L254.1,164.7 L254.8,164.9 L255.6,164.8 L256.3,165.1 L257.1,165.6 L257.8,165.3 L258.5,165.7 L259.2,165.7 L260.0,166.0 L260.6,166.0 L261.3,165.7 L262.0,166.0 L262.8,165.8 L263.5,165.3 L264.3,165.0 L265.0,165.1 L265.8,165.0 L266.5,164.8 L267.2,164.5 L267.9,164.4 L268.6,164.2 L269.3,164.3 L270.0,163.7 L270.7,163.8 L271.4,163.8 L272.0,163.1 L272.7,163.2 L273.4,162.9 L274.0,162.7 L274.8,162.0 L275.6,161.4 L276.3,160.9 L277.1,160.7 L277.8,160.2 L278.5,159.4 L279.2,158.8 L280.0,158.0 L280.7,157.2 L281.3,156.4 L282.0,156.3 L282.7,155.5 L283.4,155.2 L284.0,154.3 L284.8,153.3 L285.6,152.5 L286.3,151.4 L287.1,150.5 L287.8,149.9 L288.5,149.2 L289.2,148.2 L289.9,147.2 L290.6,146.3 L291.3,145.5 L292.0,144.3 L292.7,143.4 L293.5,141.9 L294.2,141.1 L295.0,140.1 L295.7,139.3 L296.5,138.4 L297.2,137.2 L298.0,136.0 L298.7,135.6 L299.3,134.5 L300.0,133.8 L300.9,132.7 L301.7,131.8 L302.4,131.2 L303.2,130.8 L303.9,129.8 L304.6,129.2 L305.3,128.5 L306.0,128.0 L306.8,127.4 L307.5,126.7 L308.2,126.3 L308.9,125.9 L309.6,126.2 L310.3,126.0 L311.0,125.8 L311.7,126.2 L312.3,126.4 L313.0,126.3 L313.6,126.1 L314.4,126.3 L315.1,126.7 L316.0,127.7 L316.6,128.4 L317.3,129.3 L318.0,130.4 L318.8,131.7 L319.5,133.3 L320.3,134.8 L321.1,135.9 L321.9,137.2 L322.6,138.6 L323.3,139.9 L324.0,141.1 L324.8,142.8 L325.6,144.8 L326.3,147.4 L327.0,149.2 L327.7,151.4 L328.4,153.5 L329.2,155.6 L330.0,157.0 L330.6,157.9 L331.3,158.9 L332.0,159.9 L332.7,160.9 L333.4,162.2 L334.2,163.2 L334.9,164.1 L335.7,164.3 L336.5,164.7 L337.2,165.6 L338.0,166.4 L338.7,166.8 L339.5,167.2 L340.2,167.1" fill="none" stroke="#de8e3e" stroke-width="1.6" stroke-linejoin="round" stroke-linecap="round"/>
<text x="150" y="161.4" font-size="13.3" font-weight="normal" text-anchor="start" fill="#111" stroke="#111" stroke-width="0.15">52.7%</text>
<line x1="134" y1="215.2" x2="415" y2="215.2" stroke="#3ed0ee" stroke-opacity="0.45" stroke-width="0.9"/>
<path d="M200.5,215.2 L200.9,211.6 L201.5,205.1 L202.1,198.0 L203.0,192.2 L203.6,191.1 L204.3,190.5 L205.1,188.8 L206.0,187.4 L206.7,187.0 L207.5,186.7 L208.3,185.8 L209.1,184.6 L210.0,184.3 L210.6,182.9 L211.3,182.3 L212.0,181.9 L212.7,182.4 L213.4,181.8 L214.2,181.6 L215.0,180.6 L215.6,179.4 L216.2,178.6 L216.8,179.2 L217.5,179.0 L218.1,178.0 L218.8,176.7 L219.5,176.6 L220.3,176.7 L221.1,176.2 L222.0,175.5 L222.6,175.7 L223.3,176.3 L223.9,175.2 L224.6,174.1 L225.3,173.9 L226.1,173.8 L226.8,174.1 L227.6,173.3 L228.3,173.8 L229.1,174.0 L229.9,173.6 L230.7,172.8 L231.5,173.7 L232.2,173.0 L233.0,173.6 L233.7,172.9 L234.4,172.5 L235.1,173.3 L235.8,173.1 L236.5,174.1 L237.2,174.1 L238.0,173.6 L238.7,173.4 L239.4,173.8 L240.2,174.6 L240.9,175.7 L241.6,175.1 L242.3,175.3 L243.0,175.2 L243.7,176.7 L244.3,176.2 L245.0,176.0 L245.8,176.1 L246.5,176.9 L247.3,178.6 L248.0,179.8 L248.7,180.5 L249.4,181.7 L250.1,182.5 L250.7,182.2 L251.4,182.1 L252.1,183.6 L252.8,184.5 L253.5,184.1 L254.3,185.3 L255.0,185.8 L255.7,186.5 L256.4,187.1 L257.2,187.6 L257.9,188.0 L258.7,189.2 L259.4,190.4 L260.2,192.6 L260.9,192.9 L261.7,194.9 L262.4,195.2 L263.2,195.9 L263.9,197.6 L264.6,198.8 L265.3,199.2 L266.0,198.9 L266.8,199.9 L267.6,200.5 L268.4,202.1 L269.1,201.9 L269.8,202.3 L270.6,203.7 L271.3,203.1 L272.0,203.6 L272.7,204.7 L273.5,205.4 L274.2,204.7 L275.0,204.4 L275.7,204.3 L276.4,206.0 L277.1,205.8 L277.8,206.7 L278.5,207.6 L279.2,207.2 L279.9,206.9 L280.6,208.0 L281.3,208.1 L282.0,207.6 L282.8,208.1 L283.5,207.7 L284.3,207.3 L285.0,206.6 L285.7,207.5 L286.4,208.3 L287.1,208.2 L287.8,208.6 L288.6,207.1 L289.3,206.5 L290.0,206.5 L290.7,207.2 L291.5,207.6 L292.2,206.6 L293.0,205.7 L293.7,205.3 L294.5,205.1 L295.2,205.5 L296.0,204.3 L296.7,204.6 L297.4,204.5 L298.1,204.4 L298.8,204.1 L299.5,203.4 L300.3,202.3 L301.0,201.4 L301.8,200.7 L302.5,200.9 L303.2,199.5 L303.9,198.7 L304.7,199.1 L305.4,198.2 L306.0,197.1 L306.7,196.3 L307.4,196.6 L308.0,196.2 L308.9,196.9 L309.7,196.9 L310.5,196.9 L311.3,195.4 L312.1,194.0 L312.8,193.1 L313.5,193.1 L314.3,193.3 L315.0,192.8 L315.7,192.0 L316.3,191.8 L317.0,191.9 L317.8,192.0 L318.5,192.1 L319.2,192.3 L319.8,192.1 L320.5,190.9 L321.2,191.6 L321.8,190.9 L322.5,191.1 L323.2,190.8 L324.0,191.3 L324.7,190.7 L325.4,190.4 L326.1,190.3 L326.9,190.0 L327.7,191.3 L328.4,191.5 L329.2,191.3 L330.0,191.3 L330.8,192.5 L331.5,192.4 L332.3,192.0 L333.0,192.9 L333.8,193.3 L334.5,194.4 L335.3,193.6 L336.0,193.9 L336.8,195.0 L337.5,195.8 L338.2,196.7 L338.9,195.9 L339.6,196.0 L340.3,196.0 L341.0,196.4 L341.7,198.3 L342.5,199.0 L343.2,200.4 L343.9,200.5 L344.6,201.8 L345.3,202.1 L346.0,202.2 L346.7,203.5 L347.3,204.9 L348.0,204.4 L348.8,205.4 L349.6,206.4 L350.4,206.6 L351.1,207.3 L351.9,207.6 L352.6,208.1 L353.3,208.8 L354.0,210.0 L354.8,211.1 L355.5,211.2 L356.2,211.1 L356.8,211.8 L357.5,213.2 L358.2,213.6 L359.0,214.0 L359.7,214.3 L360.6,214.5 L361.4,214.7 L362.3,214.8 L363.1,214.9 L363.9,215.0 L364.5,215.1 L365.0,215.2 L365.0,215.2 L200.5,215.2 Z" fill="#abf4f8" stroke="none"/>
<path d="M200.5,215.2 L200.9,211.6 L201.5,205.1 L202.1,198.0 L203.0,192.2 L203.6,191.1 L204.3,190.5 L205.1,188.8 L206.0,187.4 L206.7,187.0 L207.5,186.7 L208.3,185.8 L209.1,184.6 L210.0,184.3 L210.6,182.9 L211.3,182.3 L212.0,181.9 L212.7,182.4 L213.4,181.8 L214.2,181.6 L215.0,180.6 L215.6,179.4 L216.2,178.6 L216.8,179.2 L217.5,179.0 L218.1,178.0 L218.8,176.7 L219.5,176.6 L220.3,176.7 L221.1,176.2 L222.0,175.5 L222.6,175.7 L223.3,176.3 L223.9,175.2 L224.6,174.1 L225.3,173.9 L226.1,173.8 L226.8,174.1 L227.6,173.3 L228.3,173.8 L229.1,174.0 L229.9,173.6 L230.7,172.8 L231.5,173.7 L232.2,173.0 L233.0,173.6 L233.7,172.9 L234.4,172.5 L235.1,173.3 L235.8,173.1 L236.5,174.1 L237.2,174.1 L238.0,173.6 L238.7,173.4 L239.4,173.8 L240.2,174.6 L240.9,175.7 L241.6,175.1 L242.3,175.3 L243.0,175.2 L243.7,176.7 L244.3,176.2 L245.0,176.0 L245.8,176.1 L246.5,176.9 L247.3,178.6 L248.0,179.8 L248.7,180.5 L249.4,181.7 L250.1,182.5 L250.7,182.2 L251.4,182.1 L252.1,183.6 L252.8,184.5 L253.5,184.1 L254.3,185.3 L255.0,185.8 L255.7,186.5 L256.4,187.1 L257.2,187.6 L257.9,188.0 L258.7,189.2 L259.4,190.4 L260.2,192.6 L260.9,192.9 L261.7,194.9 L262.4,195.2 L263.2,195.9 L263.9,197.6 L264.6,198.8 L265.3,199.2 L266.0,198.9 L266.8,199.9 L267.6,200.5 L268.4,202.1 L269.1,201.9 L269.8,202.3 L270.6,203.7 L271.3,203.1 L272.0,203.6 L272.7,204.7 L273.5,205.4 L274.2,204.7 L275.0,204.4 L275.7,204.3 L276.4,206.0 L277.1,205.8 L277.8,206.7 L278.5,207.6 L279.2,207.2 L279.9,206.9 L280.6,208.0 L281.3,208.1 L282.0,207.6 L282.8,208.1 L283.5,207.7 L284.3,207.3 L285.0,206.6 L285.7,207.5 L286.4,208.3 L287.1,208.2 L287.8,208.6 L288.6,207.1 L289.3,206.5 L290.0,206.5 L290.7,207.2 L291.5,207.6 L292.2,206.6 L293.0,205.7 L293.7,205.3 L294.5,205.1 L295.2,205.5 L296.0,204.3 L296.7,204.6 L297.4,204.5 L298.1,204.4 L298.8,204.1 L299.5,203.4 L300.3,202.3 L301.0,201.4 L301.8,200.7 L302.5,200.9 L303.2,199.5 L303.9,198.7 L304.7,199.1 L305.4,198.2 L306.0,197.1 L306.7,196.3 L307.4,196.6 L308.0,196.2 L308.9,196.9 L309.7,196.9 L310.5,196.9 L311.3,195.4 L312.1,194.0 L312.8,193.1 L313.5,193.1 L314.3,193.3 L315.0,192.8 L315.7,192.0 L316.3,191.8 L317.0,191.9 L317.8,192.0 L318.5,192.1 L319.2,192.3 L319.8,192.1 L320.5,190.9 L321.2,191.6 L321.8,190.9 L322.5,191.1 L323.2,190.8 L324.0,191.3 L324.7,190.7 L325.4,190.4 L326.1,190.3 L326.9,190.0 L327.7,191.3 L328.4,191.5 L329.2,191.3 L330.0,191.3 L330.8,192.5 L331.5,192.4 L332.3,192.0 L333.0,192.9 L333.8,193.3 L334.5,194.4 L335.3,193.6 L336.0,193.9 L336.8,195.0 L337.5,195.8 L338.2,196.7 L338.9,195.9 L339.6,196.0 L340.3,196.0 L341.0,196.4 L341.7,198.3 L342.5,199.0 L343.2,200.4 L343.9,200.5 L344.6,201.8 L345.3,202.1 L346.0,202.2 L346.7,203.5 L347.3,204.9 L348.0,204.4 L348.8,205.4 L349.6,206.4 L350.4,206.6 L351.1,207.3 L351.9,207.6 L352.6,208.1 L353.3,208.8 L354.0,210.0 L354.8,211.1 L355.5,211.2 L356.2,211.1 L356.8,211.8 L357.5,213.2 L358.2,213.6 L359.0,214.0 L359.7,214.3 L360.6,214.5 L361.4,214.7 L362.3,214.8 L363.1,214.9 L363.9,215.0 L364.5,215.1 L365.0,215.2" fill="none" stroke="#3ed0ee" stroke-opacity="0.45" stroke-width="1.1" stroke-linejoin="round"/>
<path d="M200.9,211.6 L201.5,205.1 L202.1,198.0 L203.0,192.2 L203.6,191.1 L204.3,190.5 L205.1,188.8 L206.0,187.4 L206.7,187.0 L207.5,186.7 L208.3,185.8 L209.1,184.6 L210.0,184.3 L210.6,182.9 L211.3,182.3 L212.0,181.9 L212.7,182.4 L213.4,181.8 L214.2,181.6 L215.0,180.6 L215.6,179.4 L216.2,178.6 L216.8,179.2 L217.5,179.0 L218.1,178.0 L218.8,176.7 L219.5,176.6 L220.3,176.7 L221.1,176.2 L222.0,175.5 L222.6,175.7 L223.3,176.3 L223.9,175.2 L224.6,174.1 L225.3,173.9 L226.1,173.8 L226.8,174.1 L227.6,173.3 L228.3,173.8 L229.1,174.0 L229.9,173.6 L230.7,172.8 L231.5,173.7 L232.2,173.0 L233.0,173.6 L233.7,172.9 L234.4,172.5 L235.1,173.3 L235.8,173.1 L236.5,174.1 L237.2,174.1 L238.0,173.6 L238.7,173.4 L239.4,173.8 L240.2,174.6 L240.9,175.7 L241.6,175.1 L242.3,175.3 L243.0,175.2 L243.7,176.7 L244.3,176.2 L245.0,176.0 L245.8,176.1 L246.5,176.9 L247.3,178.6 L248.0,179.8 L248.7,180.5 L249.4,181.7 L250.1,182.5 L250.7,182.2 L251.4,182.1 L252.1,183.6 L252.8,184.5 L253.5,184.1 L254.3,185.3 L255.0,185.8 L255.7,186.5 L256.4,187.1 L257.2,187.6 L257.9,188.0 L258.7,189.2 L259.4,190.4 L260.2,192.6 L260.9,192.9 L261.7,194.9 L262.4,195.2 L263.2,195.9 L263.9,197.6 L264.6,198.8 L265.3,199.2 L266.0,198.9 L266.8,199.9 L267.6,200.5 L268.4,202.1 L269.1,201.9 L269.8,202.3 L270.6,203.7 L271.3,203.1 L272.0,203.6 L272.7,204.7 L273.5,205.4 L274.2,204.7 L275.0,204.4 L275.7,204.3 L276.4,206.0 L277.1,205.8 L277.8,206.7 L278.5,207.6 L279.2,207.2 L279.9,206.9 L280.6,208.0 L281.3,208.1 L282.0,207.6 L282.8,208.1 L283.5,207.7 L284.3,207.3 L285.0,206.6 L285.7,207.5 L286.4,208.3 L287.1,208.2 L287.8,208.6 L288.6,207.1 L289.3,206.5 L290.0,206.5 L290.7,207.2 L291.5,207.6 L292.2,206.6 L293.0,205.7 L293.7,205.3 L294.5,205.1 L295.2,205.5 L296.0,204.3 L296.7,204.6 L297.4,204.5 L298.1,204.4 L298.8,204.1 L299.5,203.4 L300.3,202.3 L301.0,201.4 L301.8,200.7 L302.5,200.9 L303.2,199.5 L303.9,198.7 L304.7,199.1 L305.4,198.2 L306.0,197.1 L306.7,196.3 L307.4,196.6 L308.0,196.2 L308.9,196.9 L309.7,196.9 L310.5,196.9 L311.3,195.4 L312.1,194.0 L312.8,193.1 L313.5,193.1 L314.3,193.3 L315.0,192.8 L315.7,192.0 L316.3,191.8 L317.0,191.9 L317.8,192.0 L318.5,192.1 L319.2,192.3 L319.8,192.1 L320.5,190.9 L321.2,191.6 L321.8,190.9 L322.5,191.1 L323.2,190.8 L324.0,191.3 L324.7,190.7 L325.4,190.4 L326.1,190.3 L326.9,190.0 L327.7,191.3 L328.4,191.5 L329.2,191.3 L330.0,191.3 L330.8,192.5 L331.5,192.4 L332.3,192.0 L333.0,192.9 L333.8,193.3 L334.5,194.4 L335.3,193.6 L336.0,193.9 L336.8,195.0 L337.5,195.8 L338.2,196.7 L338.9,195.9 L339.6,196.0 L340.3,196.0 L341.0,196.4 L341.7,198.3 L342.5,199.0 L343.2,200.4 L343.9,200.5 L344.6,201.8 L345.3,202.1 L346.0,202.2 L346.7,203.5 L347.3,204.9 L348.0,204.4 L348.8,205.4 L349.6,206.4 L350.4,206.6 L351.1,207.3 L351.9,207.6 L352.6,208.1 L353.3,208.8 L354.0,210.0 L354.8,211.1 L355.5,211.2 L356.2,211.1 L356.8,211.8" fill="none" stroke="#3ed0ee" stroke-width="1.6" stroke-linejoin="round" stroke-linecap="round"/>
<text x="150" y="207.2" font-size="13.3" font-weight="normal" text-anchor="start" fill="#111" stroke="#111" stroke-width="0.15">23.8%</text>
<line x1="134" y1="261.3" x2="415" y2="261.3" stroke="#c4959b" stroke-opacity="0.45" stroke-width="0.9"/>
<path d="M199.0,261.3 L199.5,258.0 L200.3,254.1 L201.2,249.4 L202.0,244.8 L202.8,240.3 L203.5,236.0 L204.2,231.4 L205.0,228.0 L205.7,225.5 L206.4,223.9 L207.2,223.1 L208.0,222.9 L208.7,222.6 L209.5,222.7 L210.4,223.6 L211.2,224.2 L212.0,224.6 L212.8,225.5 L213.6,226.0 L214.4,226.8 L215.2,227.3 L216.0,228.3 L216.8,229.2 L217.6,230.1 L218.4,231.1 L219.2,232.6 L220.0,234.0 L220.8,235.3 L221.5,236.0 L222.3,237.1 L223.1,238.0 L224.0,239.0 L224.6,239.3 L225.3,239.7 L226.1,240.4 L226.8,241.2 L227.6,241.3 L228.4,241.9 L229.2,242.6 L230.0,243.4 L230.7,243.5 L231.3,243.7 L232.0,244.6 L232.7,245.4 L233.4,245.7 L234.1,245.9 L234.8,246.7 L235.5,247.1 L236.3,247.8 L237.0,248.3 L237.7,248.8 L238.4,248.8 L239.1,249.4 L239.8,249.5 L240.5,249.8 L241.2,250.4 L241.9,250.9 L242.7,250.9 L243.4,251.1 L244.2,251.4 L245.0,251.9 L245.7,252.2 L246.4,252.3 L247.1,252.6 L247.9,253.2 L248.6,253.9 L249.4,253.8 L250.2,254.3 L250.9,254.8 L251.7,254.7 L252.4,255.3 L253.1,255.3 L253.8,255.7 L254.5,256.0 L255.3,256.3 L256.1,256.4 L256.9,256.6 L257.7,256.8 L258.4,256.9 L259.1,257.2 L259.8,257.2 L260.6,257.3 L261.3,257.0 L262.0,257.4 L262.7,257.5 L263.4,257.4 L264.1,257.7 L264.8,257.9 L265.5,257.9 L266.2,257.6 L266.8,257.7 L267.5,257.5 L268.3,257.4 L269.0,257.7 L269.6,257.6 L270.2,257.9 L270.7,258.2 L271.2,258.1 L271.7,258.5 L272.3,258.5 L272.9,258.9 L273.7,259.3 L274.6,259.4 L275.7,259.4 L277.0,259.5 L277.5,259.5 L278.0,259.6 L278.6,259.6 L279.1,259.6 L279.7,259.6 L280.3,259.6 L280.9,259.7 L281.5,259.7 L282.2,259.7 L282.8,259.7 L283.5,259.7 L284.2,259.7 L284.9,259.7 L285.6,259.7 L286.4,259.7 L287.1,259.8 L287.9,259.8 L288.6,259.8 L289.4,259.8 L290.2,259.8 L291.0,259.8 L291.8,259.8 L292.6,259.8 L293.4,259.8 L294.2,259.8 L295.0,259.8 L295.9,259.8 L296.7,259.8 L297.5,259.8 L298.3,259.8 L299.2,259.8 L300.0,259.8 L300.6,259.8 L301.3,259.8 L301.9,259.8 L302.6,259.8 L303.2,259.8 L303.9,259.8 L304.6,259.8 L305.3,259.8 L306.0,259.8 L306.7,259.8 L307.4,259.8 L308.1,259.8 L308.8,259.7 L309.5,259.7 L310.2,259.7 L310.9,259.7 L311.6,259.7 L312.4,259.7 L313.1,259.7 L313.8,259.7 L314.6,259.7 L315.3,259.7 L316.0,259.7 L316.8,259.7 L317.5,259.6 L318.3,259.6 L319.0,259.6 L319.7,259.6 L320.5,259.6 L321.2,259.6 L322.0,259.6 L322.7,259.6 L323.4,259.6 L324.2,259.6 L324.9,259.6 L325.7,259.6 L326.4,259.6 L327.1,259.6 L327.8,259.6 L328.6,259.6 L329.3,259.6 L330.0,259.6 L330.7,259.6 L331.4,259.6 L332.1,259.6 L332.8,259.6 L333.5,259.6 L334.2,259.6 L334.9,259.7 L335.6,259.7 L336.2,259.7 L336.9,259.7 L337.6,259.7 L338.3,259.7 L339.0,259.7 L339.6,259.7 L340.3,259.8 L341.0,259.8 L341.7,259.8 L342.3,259.8 L343.0,259.8 L343.7,259.8 L344.4,259.9 L345.1,259.9 L345.8,259.9 L346.4,259.9 L347.1,259.9 L347.8,260.0 L348.5,260.0 L349.3,260.0 L350.0,260.0 L350.7,260.0 L351.4,260.0 L352.2,260.1 L352.9,260.1 L353.7,260.1 L354.4,260.1 L355.2,260.1 L356.0,260.1 L356.8,260.1 L357.5,260.2 L358.4,260.2 L359.2,260.2 L360.0,260.2 L360.6,260.2 L361.3,260.2 L361.9,260.2 L362.6,260.2 L363.2,260.2 L363.9,260.3 L364.6,260.3 L365.3,260.3 L366.0,260.3 L366.8,260.3 L367.5,260.3 L368.2,260.3 L369.0,260.3 L369.7,260.3 L370.5,260.3 L371.3,260.3 L372.0,260.4 L372.8,260.4 L373.6,260.4 L374.4,260.4 L375.2,260.4 L375.9,260.4 L376.7,260.4 L377.5,260.4 L378.3,260.4 L379.1,260.4 L379.9,260.4 L380.7,260.5 L381.5,260.5 L382.2,260.5 L383.0,260.5 L383.8,260.5 L384.5,260.5 L385.3,260.5 L386.1,260.5 L386.8,260.5 L387.6,260.5 L388.3,260.5 L389.0,260.5 L389.7,260.5 L390.4,260.6 L391.1,260.6 L391.8,260.6 L392.5,260.6 L393.2,260.6 L393.8,260.6 L394.5,260.6 L395.1,260.6 L395.7,260.6 L396.3,260.6 L396.9,260.6 L397.4,260.6 L398.0,260.6 L398.5,260.6 L399.0,260.6 L399.5,260.6 L400.0,260.6 L401.4,260.6 L402.7,260.6 L403.9,260.6 L405.0,260.6 L405.9,260.5 L406.8,260.5 L407.6,260.5 L408.3,260.5 L409.0,260.4 L409.6,260.4 L410.1,260.4 L410.6,260.3 L411.1,260.3 L411.5,260.3 L411.9,260.3 L412.3,260.2 L412.6,260.2 L413.0,260.2 L413.0,261.3 L199.0,261.3 Z" fill="#e6d2d5" stroke="none"/>
<path d="M199.0,261.3 L199.5,258.0 L200.3,254.1 L201.2,249.4 L202.0,244.8 L202.8,240.3 L203.5,236.0 L204.2,231.4 L205.0,228.0 L205.7,225.5 L206.4,223.9 L207.2,223.1 L208.0,222.9 L208.7,222.6 L209.5,222.7 L210.4,223.6 L211.2,224.2 L212.0,224.6 L212.8,225.5 L213.6,226.0 L214.4,226.8 L215.2,227.3 L216.0,228.3 L216.8,229.2 L217.6,230.1 L218.4,231.1 L219.2,232.6 L220.0,234.0 L220.8,235.3 L221.5,236.0 L222.3,237.1 L223.1,238.0 L224.0,239.0 L224.6,239.3 L225.3,239.7 L226.1,240.4 L226.8,241.2 L227.6,241.3 L228.4,241.9 L229.2,242.6 L230.0,243.4 L230.7,243.5 L231.3,243.7 L232.0,244.6 L232.7,245.4 L233.4,245.7 L234.1,245.9 L234.8,246.7 L235.5,247.1 L236.3,247.8 L237.0,248.3 L237.7,248.8 L238.4,248.8 L239.1,249.4 L239.8,249.5 L240.5,249.8 L241.2,250.4 L241.9,250.9 L242.7,250.9 L243.4,251.1 L244.2,251.4 L245.0,251.9 L245.7,252.2 L246.4,252.3 L247.1,252.6 L247.9,253.2 L248.6,253.9 L249.4,253.8 L250.2,254.3 L250.9,254.8 L251.7,254.7 L252.4,255.3 L253.1,255.3 L253.8,255.7 L254.5,256.0 L255.3,256.3 L256.1,256.4 L256.9,256.6 L257.7,256.8 L258.4,256.9 L259.1,257.2 L259.8,257.2 L260.6,257.3 L261.3,257.0 L262.0,257.4 L262.7,257.5 L263.4,257.4 L264.1,257.7 L264.8,257.9 L265.5,257.9 L266.2,257.6 L266.8,257.7 L267.5,257.5 L268.3,257.4 L269.0,257.7 L269.6,257.6 L270.2,257.9 L270.7,258.2 L271.2,258.1 L271.7,258.5 L272.3,258.5 L272.9,258.9 L273.7,259.3 L274.6,259.4 L275.7,259.4 L277.0,259.5 L277.5,259.5 L278.0,259.6 L278.6,259.6 L279.1,259.6 L279.7,259.6 L280.3,259.6 L280.9,259.7 L281.5,259.7 L282.2,259.7 L282.8,259.7 L283.5,259.7 L284.2,259.7 L284.9,259.7 L285.6,259.7 L286.4,259.7 L287.1,259.8 L287.9,259.8 L288.6,259.8 L289.4,259.8 L290.2,259.8 L291.0,259.8 L291.8,259.8 L292.6,259.8 L293.4,259.8 L294.2,259.8 L295.0,259.8 L295.9,259.8 L296.7,259.8 L297.5,259.8 L298.3,259.8 L299.2,259.8 L300.0,259.8 L300.6,259.8 L301.3,259.8 L301.9,259.8 L302.6,259.8 L303.2,259.8 L303.9,259.8 L304.6,259.8 L305.3,259.8 L306.0,259.8 L306.7,259.8 L307.4,259.8 L308.1,259.8 L308.8,259.7 L309.5,259.7 L310.2,259.7 L310.9,259.7 L311.6,259.7 L312.4,259.7 L313.1,259.7 L313.8,259.7 L314.6,259.7 L315.3,259.7 L316.0,259.7 L316.8,259.7 L317.5,259.6 L318.3,259.6 L319.0,259.6 L319.7,259.6 L320.5,259.6 L321.2,259.6 L322.0,259.6 L322.7,259.6 L323.4,259.6 L324.2,259.6 L324.9,259.6 L325.7,259.6 L326.4,259.6 L327.1,259.6 L327.8,259.6 L328.6,259.6 L329.3,259.6 L330.0,259.6 L330.7,259.6 L331.4,259.6 L332.1,259.6 L332.8,259.6 L333.5,259.6 L334.2,259.6 L334.9,259.7 L335.6,259.7 L336.2,259.7 L336.9,259.7 L337.6,259.7 L338.3,259.7 L339.0,259.7 L339.6,259.7 L340.3,259.8 L341.0,259.8 L341.7,259.8 L342.3,259.8 L343.0,259.8 L343.7,259.8 L344.4,259.9 L345.1,259.9 L345.8,259.9 L346.4,259.9 L347.1,259.9 L347.8,260.0 L348.5,260.0 L349.3,260.0 L350.0,260.0 L350.7,260.0 L351.4,260.0 L352.2,260.1 L352.9,260.1 L353.7,260.1 L354.4,260.1 L355.2,260.1 L356.0,260.1 L356.8,260.1 L357.5,260.2 L358.4,260.2 L359.2,260.2 L360.0,260.2 L360.6,260.2 L361.3,260.2 L361.9,260.2 L362.6,260.2 L363.2,260.2 L363.9,260.3 L364.6,260.3 L365.3,260.3 L366.0,260.3 L366.8,260.3 L367.5,260.3 L368.2,260.3 L369.0,260.3 L369.7,260.3 L370.5,260.3 L371.3,260.3 L372.0,260.4 L372.8,260.4 L373.6,260.4 L374.4,260.4 L375.2,260.4 L375.9,260.4 L376.7,260.4 L377.5,260.4 L378.3,260.4 L379.1,260.4 L379.9,260.4 L380.7,260.5 L381.5,260.5 L382.2,260.5 L383.0,260.5 L383.8,260.5 L384.5,260.5 L385.3,260.5 L386.1,260.5 L386.8,260.5 L387.6,260.5 L388.3,260.5 L389.0,260.5 L389.7,260.5 L390.4,260.6 L391.1,260.6 L391.8,260.6 L392.5,260.6 L393.2,260.6 L393.8,260.6 L394.5,260.6 L395.1,260.6 L395.7,260.6 L396.3,260.6 L396.9,260.6 L397.4,260.6 L398.0,260.6 L398.5,260.6 L399.0,260.6 L399.5,260.6 L400.0,260.6 L401.4,260.6 L402.7,260.6 L403.9,260.6 L405.0,260.6 L405.9,260.5 L406.8,260.5 L407.6,260.5 L408.3,260.5 L409.0,260.4 L409.6,260.4 L410.1,260.4 L410.6,260.3 L411.1,260.3 L411.5,260.3 L411.9,260.3 L412.3,260.2 L412.6,260.2 L413.0,260.2" fill="none" stroke="#c4959b" stroke-opacity="0.45" stroke-width="1.1" stroke-linejoin="round"/>
<path d="M199.5,258.0 L200.3,254.1 L201.2,249.4 L202.0,244.8 L202.8,240.3 L203.5,236.0 L204.2,231.4 L205.0,228.0 L205.7,225.5 L206.4,223.9 L207.2,223.1 L208.0,222.9 L208.7,222.6 L209.5,222.7 L210.4,223.6 L211.2,224.2 L212.0,224.6 L212.8,225.5 L213.6,226.0 L214.4,226.8 L215.2,227.3 L216.0,228.3 L216.8,229.2 L217.6,230.1 L218.4,231.1 L219.2,232.6 L220.0,234.0 L220.8,235.3 L221.5,236.0 L222.3,237.1 L223.1,238.0 L224.0,239.0 L224.6,239.3 L225.3,239.7 L226.1,240.4 L226.8,241.2 L227.6,241.3 L228.4,241.9 L229.2,242.6 L230.0,243.4 L230.7,243.5 L231.3,243.7 L232.0,244.6 L232.7,245.4 L233.4,245.7 L234.1,245.9 L234.8,246.7 L235.5,247.1 L236.3,247.8 L237.0,248.3 L237.7,248.8 L238.4,248.8 L239.1,249.4 L239.8,249.5 L240.5,249.8 L241.2,250.4 L241.9,250.9 L242.7,250.9 L243.4,251.1 L244.2,251.4 L245.0,251.9 L245.7,252.2 L246.4,252.3 L247.1,252.6 L247.9,253.2 L248.6,253.9 L249.4,253.8 L250.2,254.3 L250.9,254.8 L251.7,254.7 L252.4,255.3 L253.1,255.3 L253.8,255.7 L254.5,256.0 L255.3,256.3 L256.1,256.4 L256.9,256.6 L257.7,256.8 L258.4,256.9 L259.1,257.2 L259.8,257.2 L260.6,257.3 L261.3,257.0 L262.0,257.4 L262.7,257.5 L263.4,257.4 L264.1,257.7 L264.8,257.9 L265.5,257.9 L266.2,257.6 L266.8,257.7 L267.5,257.5 L268.3,257.4 L269.0,257.7 L269.6,257.6 L270.2,257.9 L270.7,258.2 L271.2,258.1 L271.7,258.5 L272.3,258.5 L272.9,258.9" fill="none" stroke="#c4959b" stroke-width="1.6" stroke-linejoin="round" stroke-linecap="round"/>
<text x="150" y="253.3" font-size="13.3" font-weight="normal" text-anchor="start" fill="#111" stroke="#111" stroke-width="0.15">5.6%</text>
<line x1="134" y1="307.3" x2="415" y2="307.3" stroke="#3c3c3c" stroke-opacity="0.45" stroke-width="0.9"/>
<path d="M199.6,307.3 L200.3,304.7 L201.4,300.1 L202.3,295.3 L203.2,285.3 L204.0,276.2 L204.8,272.3 L205.8,269.7 L206.6,267.6 L207.5,268.0 L208.4,270.4 L209.1,273.0 L209.9,275.7 L211.0,278.5 L211.6,279.5 L212.3,280.4 L213.0,281.9 L213.8,283.2 L214.6,284.4 L215.4,285.6 L216.3,286.8 L216.9,287.4 L217.6,288.1 L218.2,289.0 L218.9,290.4 L219.6,291.3 L220.3,292.3 L221.0,293.4 L221.8,294.1 L222.5,295.0 L223.3,295.8 L224.0,296.7 L224.7,297.2 L225.4,297.6 L226.2,298.5 L227.0,298.8 L227.8,299.4 L228.5,299.8 L229.3,299.7 L230.0,300.0 L230.7,300.3 L231.4,300.8 L232.0,300.9 L232.9,301.3 L233.6,301.3 L234.2,301.1 L234.8,301.3 L235.5,300.9 L236.3,301.3 L237.3,301.2 L237.8,301.1 L238.4,301.3 L239.0,302.0 L239.6,302.7 L240.2,302.5 L240.9,303.0 L241.5,303.4 L242.2,303.9 L243.0,304.0 L243.7,304.4 L244.5,304.7 L245.3,305.3 L246.1,305.4 L246.9,305.6 L247.8,305.8 L248.4,305.9 L249.1,306.0 L249.7,306.1 L250.4,306.1 L251.1,306.2 L251.9,306.2 L252.6,306.2 L253.4,306.2 L254.2,306.2 L254.9,306.2 L255.7,306.2 L256.5,306.2 L257.3,306.2 L258.0,306.2 L258.8,306.2 L259.5,306.2 L260.3,306.2 L261.0,306.2 L261.7,306.2 L262.3,306.2 L263.0,306.2 L263.6,306.2 L264.5,306.2 L265.4,306.3 L266.2,306.4 L267.0,306.4 L267.8,306.5 L268.6,306.5 L269.3,306.6 L270.0,306.7 L270.7,306.7 L271.4,306.8 L272.0,306.9 L272.7,306.9 L273.3,307.0 L274.0,307.0 L274.8,307.0 L275.7,307.1 L276.6,307.1 L277.4,307.2 L278.2,307.2 L279.0,307.2 L279.8,307.2 L280.5,307.3 L281.1,307.3 L281.6,307.3 L282.0,307.3 L282.0,307.3 L199.6,307.3 Z" fill="#b7b7b7" stroke="none"/>
<path d="M199.6,307.3 L200.3,304.7 L201.4,300.1 L202.3,295.3 L203.2,285.3 L204.0,276.2 L204.8,272.3 L205.8,269.7 L206.6,267.6 L207.5,268.0 L208.4,270.4 L209.1,273.0 L209.9,275.7 L211.0,278.5 L211.6,279.5 L212.3,280.4 L213.0,281.9 L213.8,283.2 L214.6,284.4 L215.4,285.6 L216.3,286.8 L216.9,287.4 L217.6,288.1 L218.2,289.0 L218.9,290.4 L219.6,291.3 L220.3,292.3 L221.0,293.4 L221.8,294.1 L222.5,295.0 L223.3,295.8 L224.0,296.7 L224.7,297.2 L225.4,297.6 L226.2,298.5 L227.0,298.8 L227.8,299.4 L228.5,299.8 L229.3,299.7 L230.0,300.0 L230.7,300.3 L231.4,300.8 L232.0,300.9 L232.9,301.3 L233.6,301.3 L234.2,301.1 L234.8,301.3 L235.5,300.9 L236.3,301.3 L237.3,301.2 L237.8,301.1 L238.4,301.3 L239.0,302.0 L239.6,302.7 L240.2,302.5 L240.9,303.0 L241.5,303.4 L242.2,303.9 L243.0,304.0 L243.7,304.4 L244.5,304.7 L245.3,305.3 L246.1,305.4 L246.9,305.6 L247.8,305.8 L248.4,305.9 L249.1,306.0 L249.7,306.1 L250.4,306.1 L251.1,306.2 L251.9,306.2 L252.6,306.2 L253.4,306.2 L254.2,306.2 L254.9,306.2 L255.7,306.2 L256.5,306.2 L257.3,306.2 L258.0,306.2 L258.8,306.2 L259.5,306.2 L260.3,306.2 L261.0,306.2 L261.7,306.2 L262.3,306.2 L263.0,306.2 L263.6,306.2 L264.5,306.2 L265.4,306.3 L266.2,306.4 L267.0,306.4 L267.8,306.5 L268.6,306.5 L269.3,306.6 L270.0,306.7 L270.7,306.7 L271.4,306.8 L272.0,306.9 L272.7,306.9 L273.3,307.0 L274.0,307.0 L274.8,307.0 L275.7,307.1 L276.6,307.1 L277.4,307.2 L278.2,307.2 L279.0,307.2 L279.8,307.2 L280.5,307.3 L281.1,307.3 L281.6,307.3 L282.0,307.3" fill="none" stroke="#3c3c3c" stroke-opacity="0.45" stroke-width="1.1" stroke-linejoin="round"/>
<path d="M200.3,304.7 L201.4,300.1 L202.3,295.3 L203.2,285.3 L204.0,276.2 L204.8,272.3 L205.8,269.7 L206.6,267.6 L207.5,268.0 L208.4,270.4 L209.1,273.0 L209.9,275.7 L211.0,278.5 L211.6,279.5 L212.3,280.4 L213.0,281.9 L213.8,283.2 L214.6,284.4 L215.4,285.6 L216.3,286.8 L216.9,287.4 L217.6,288.1 L218.2,289.0 L218.9,290.4 L219.6,291.3 L220.3,292.3 L221.0,293.4 L221.8,294.1 L222.5,295.0 L223.3,295.8 L224.0,296.7 L224.7,297.2 L225.4,297.6 L226.2,298.5 L227.0,298.8 L227.8,299.4 L228.5,299.8 L229.3,299.7 L230.0,300.0 L230.7,300.3 L231.4,300.8 L232.0,300.9 L232.9,301.3 L233.6,301.3 L234.2,301.1 L234.8,301.3 L235.5,300.9 L236.3,301.3 L237.3,301.2 L237.8,301.1 L238.4,301.3 L239.0,302.0 L239.6,302.7 L240.2,302.5 L240.9,303.0 L241.5,303.4 L242.2,303.9 L243.0,304.0 L243.7,304.4 L244.5,304.7" fill="none" stroke="#3c3c3c" stroke-width="1.6" stroke-linejoin="round" stroke-linecap="round"/>
<text x="150" y="299.3" font-size="13.3" font-weight="normal" text-anchor="start" fill="#111" stroke="#111" stroke-width="0.15">1.2%</text>
<path d="M409,123 L412,119 L415,118 L415,123 Z" fill="#c4f7b0" stroke="#6ee63a" stroke-width="1.2"/>
<path d="M134,307.5 L134,27 L415,27 L415,307.5" fill="none" stroke="#7a7a7a" stroke-width="1.1"/>
<line x1="133.5" y1="307.5" x2="415.5" y2="307.5" stroke="#111" stroke-width="1.5"/>
<line x1="177.0" y1="307.5" x2="177.0" y2="311.5" stroke="#111" stroke-width="1.2"/>
<line x1="201.6" y1="307.5" x2="201.6" y2="311.5" stroke="#111" stroke-width="1.2"/>
<line x1="219.0" y1="307.5" x2="219.0" y2="311.5" stroke="#111" stroke-width="1.2"/>
<line x1="232.5" y1="307.5" x2="232.5" y2="312.5" stroke="#111" stroke-width="1.6"/>
<line x1="243.6" y1="307.5" x2="243.6" y2="311.5" stroke="#111" stroke-width="1.2"/>
<line x1="252.9" y1="307.5" x2="252.9" y2="311.5" stroke="#111" stroke-width="1.2"/>
<line x1="261.0" y1="307.5" x2="261.0" y2="311.5" stroke="#111" stroke-width="1.2"/>
<line x1="268.1" y1="307.5" x2="268.1" y2="311.5" stroke="#111" stroke-width="1.2"/>
<line x1="316.5" y1="307.5" x2="316.5" y2="311.5" stroke="#111" stroke-width="1.2"/>
<line x1="341.1" y1="307.5" x2="341.1" y2="311.5" stroke="#111" stroke-width="1.2"/>
<line x1="358.5" y1="307.5" x2="358.5" y2="311.5" stroke="#111" stroke-width="1.2"/>
<line x1="372.0" y1="307.5" x2="372.0" y2="312.5" stroke="#111" stroke-width="1.6"/>
<line x1="383.1" y1="307.5" x2="383.1" y2="311.5" stroke="#111" stroke-width="1.2"/>
<line x1="392.4" y1="307.5" x2="392.4" y2="311.5" stroke="#111" stroke-width="1.2"/>
<line x1="400.5" y1="307.5" x2="400.5" y2="311.5" stroke="#111" stroke-width="1.2"/>
<line x1="407.6" y1="307.5" x2="407.6" y2="311.5" stroke="#111" stroke-width="1.2"/>
<line x1="135" y1="307.5" x2="135" y2="315" stroke="#111" stroke-width="2"/>
<line x1="274.5" y1="307.5" x2="274.5" y2="315" stroke="#111" stroke-width="2"/>
<line x1="414" y1="307.5" x2="414" y2="315" stroke="#111" stroke-width="2"/>
<text x="140" y="340" font-size="10.5" font-weight="normal" text-anchor="start" fill="#333"  stroke="#333" stroke-width="0.18">10</text>
<text x="152.2" y="333" font-size="10.5" font-weight="normal" text-anchor="start" fill="#333"  stroke="#333" stroke-width="0.18">2</text>
<text x="268.8" y="340" font-size="10.5" font-weight="normal" text-anchor="start" fill="#333"  stroke="#333" stroke-width="0.18">10</text>
<text x="281.0" y="333" font-size="10.5" font-weight="normal" text-anchor="start" fill="#333"  stroke="#333" stroke-width="0.18">3</text>
<text x="396" y="340" font-size="10.5" font-weight="normal" text-anchor="start" fill="#333"  stroke="#333" stroke-width="0.18">10</text>
<text x="408.2" y="333" font-size="10.5" font-weight="normal" text-anchor="start" fill="#333"  stroke="#333" stroke-width="0.18">4</text>
<text x="205.5" y="370.3" font-size="17.9" font-weight="bold" text-anchor="start" fill="#111"  stroke="#111" stroke-width="0.3">FGFR4  Staining</text>
<text x="0" y="0" font-size="17.9" font-weight="bold" text-anchor="middle" fill="#111" transform="translate(102.2,164) rotate(-90)" stroke="#111" stroke-width="0.3">Cell Count (%)</text>
<rect x="438.2" y="46.0" width="16.8" height="16" fill="#f0aab0"/>
<text x="460.9" y="59.7" font-size="13.4" font-weight="normal" text-anchor="start" fill="#111" stroke="#111" stroke-width="0.15">RH4 cells</text>
<rect x="438.2" y="92.8" width="16.8" height="16" fill="#c6f8b2"/>
<text x="460.9" y="106.5" font-size="13.4" font-weight="normal" text-anchor="start" fill="#111" stroke="#111" stroke-width="0.15">A204 cells</text>
<rect x="438.2" y="139.6" width="16.8" height="16" fill="#f2d2aa"/>
<text x="460.9" y="153.3" font-size="13.4" font-weight="normal" text-anchor="start" fill="#111" stroke="#111" stroke-width="0.15">RH18 cells</text>
<rect x="438.2" y="186.4" width="16.8" height="16" fill="#abf6f8"/>
<text x="460.9" y="200.1" font-size="13.4" font-weight="normal" text-anchor="start" fill="#111" stroke="#111" stroke-width="0.15">RH30 cells</text>
<rect x="438.2" y="233.2" width="16.8" height="16" fill="#e6d2d5"/>
<text x="460.9" y="246.9" font-size="13.4" font-weight="normal" text-anchor="start" fill="#111" stroke="#111" stroke-width="0.15">RD cells</text>
<rect x="438.2" y="280.0" width="16.8" height="16" fill="#b8b8b8"/>
<text x="460.9" y="293.7" font-size="13.4" font-weight="normal" text-anchor="start" fill="#111" stroke="#111" stroke-width="0.15">Isotype control</text>
<text x="10.6" y="450.3" font-size="21.5" font-weight="bold" text-anchor="start" fill="#111"  stroke="#111" stroke-width="0.3">B</text>
<text x="68.3" y="453" font-size="14.3" font-weight="bold" text-anchor="start" fill="#111"  stroke="#111" stroke-width="0.3">Non-Trans T cells</text>
<path d="M117.5,521.9h1v1h-1zM114.6,524.2h1v1h-1zM109.2,519.5h1v1h-1zM111.8,522.7h1v1h-1zM128.9,517.5h1v1h-1zM133.0,526.4h1v1h-1zM121.6,522.2h1v1h-1zM130.4,517.7h1v1h-1zM113.5,514.2h1v1h-1zM118.8,526.3h1v1h-1zM119.3,521.5h1v1h-1zM112.7,520.6h1v1h-1zM101.7,525.8h1v1h-1zM110.8,514.1h1v1h-1zM107.7,515.7h1v1h-1zM122.2,524.6h1v1h-1zM102.3,525.1h1v1h-1zM122.5,516.1h1v1h-1zM101.1,516.5h1v1h-1zM108.8,521.7h1v1h-1zM111.3,509.3h1v1h-1zM116.6,511.5h1v1h-1zM122.6,512.9h1v1h-1zM108.3,515.5h1v1h-1zM109.6,526.6h1v1h-1zM122.2,522.3h1v1h-1zM117.4,511.4h1v1h-1zM109.8,517.0h1v1h-1zM105.7,522.7h1v1h-1zM107.8,516.3h1v1h-1zM105.1,509.5h1v1h-1zM119.9,526.2h1v1h-1zM116.1,514.5h1v1h-1zM90.2,521.9h1v1h-1zM125.4,520.5h1v1h-1zM122.8,526.8h1v1h-1zM124.6,516.7h1v1h-1zM124.0,523.1h1v1h-1zM100.7,518.3h1v1h-1zM101.7,519.8h1v1h-1zM119.7,513.8h1v1h-1zM96.0,527.4h1v1h-1zM117.9,527.0h1v1h-1zM102.6,525.8h1v1h-1zM133.2,528.9h1v1h-1zM112.6,521.1h1v1h-1zM113.1,524.8h1v1h-1zM123.8,519.5h1v1h-1zM102.3,524.1h1v1h-1zM110.3,523.1h1v1h-1zM116.9,527.9h1v1h-1zM124.7,516.7h1v1h-1zM117.6,528.5h1v1h-1zM109.7,522.1h1v1h-1zM125.2,525.5h1v1h-1zM119.2,512.5h1v1h-1zM103.2,521.5h1v1h-1zM118.0,532.6h1v1h-1zM106.7,525.9h1v1h-1zM121.4,510.6h1v1h-1zM107.1,520.9h1v1h-1zM110.1,519.1h1v1h-1zM118.7,515.2h1v1h-1zM118.7,516.1h1v1h-1zM109.6,522.7h1v1h-1zM109.3,521.4h1v1h-1zM128.9,518.9h1v1h-1zM113.2,523.5h1v1h-1zM111.2,525.4h1v1h-1zM103.0,523.5h1v1h-1zM109.9,515.7h1v1h-1zM130.4,514.3h1v1h-1zM130.3,522.1h1v1h-1zM127.6,513.8h1v1h-1zM125.3,526.5h1v1h-1zM113.5,519.0h1v1h-1zM136.6,519.2h1v1h-1zM110.7,516.6h1v1h-1zM118.5,521.1h1v1h-1zM116.1,528.4h1v1h-1zM111.5,522.2h1v1h-1zM127.6,513.6h1v1h-1zM123.8,528.5h1v1h-1zM102.3,514.6h1v1h-1zM105.2,510.6h1v1h-1zM118.6,509.8h1v1h-1zM119.0,526.9h1v1h-1zM100.0,518.8h1v1h-1zM97.2,524.6h1v1h-1zM107.9,518.6h1v1h-1zM115.0,522.4h1v1h-1zM111.4,519.9h1v1h-1zM109.6,520.5h1v1h-1zM103.9,520.5h1v1h-1zM97.1,518.1h1v1h-1zM131.7,519.0h1v1h-1zM103.2,521.6h1v1h-1zM105.7,511.6h1v1h-1zM107.9,523.8h1v1h-1zM118.0,518.9h1v1h-1zM106.2,514.5h1v1h-1zM126.6,520.2h1v1h-1zM105.9,509.2h1v1h-1zM102.2,533.1h1v1h-1zM104.2,519.8h1v1h-1zM116.4,518.7h1v1h-1zM112.0,512.6h1v1h-1zM105.0,528.9h1v1h-1zM107.7,524.4h1v1h-1zM99.3,519.1h1v1h-1zM116.8,524.8h1v1h-1zM104.4,523.3h1v1h-1zM118.0,515.6h1v1h-1zM118.8,514.7h1v1h-1zM107.3,519.9h1v1h-1zM90.1,520.4h1v1h-1zM105.5,512.6h1v1h-1zM110.7,523.8h1v1h-1zM110.9,526.4h1v1h-1zM104.1,513.4h1v1h-1zM128.5,520.9h1v1h-1zM123.0,514.8h1v1h-1zM121.7,520.5h1v1h-1zM120.3,519.4h1v1h-1zM125.4,515.6h1v1h-1zM105.8,512.5h1v1h-1zM124.9,515.2h1v1h-1zM105.1,515.3h1v1h-1zM110.5,513.3h1v1h-1zM111.9,516.5h1v1h-1zM109.5,514.9h1v1h-1zM114.8,517.2h1v1h-1zM115.5,520.8h1v1h-1zM117.6,508.1h1v1h-1zM109.7,515.8h1v1h-1zM121.5,511.0h1v1h-1zM108.1,518.5h1v1h-1zM111.5,524.9h1v1h-1zM110.5,524.8h1v1h-1zM101.3,511.0h1v1h-1zM125.5,521.2h1v1h-1zM118.9,520.0h1v1h-1zM118.9,513.1h1v1h-1zM123.0,516.4h1v1h-1zM123.4,519.5h1v1h-1zM96.7,514.0h1v1h-1zM124.6,518.3h1v1h-1zM110.9,521.1h1v1h-1zM110.7,517.0h1v1h-1zM115.4,520.3h1v1h-1zM128.2,519.0h1v1h-1zM131.4,527.9h1v1h-1zM129.9,524.2h1v1h-1zM115.7,520.2h1v1h-1zM113.2,515.9h1v1h-1zM113.9,516.3h1v1h-1zM129.3,521.5h1v1h-1zM110.5,509.9h1v1h-1zM114.0,517.5h1v1h-1zM104.7,514.3h1v1h-1zM94.2,523.7h1v1h-1zM113.9,533.0h1v1h-1zM114.2,518.8h1v1h-1zM127.5,519.5h1v1h-1zM116.0,517.6h1v1h-1zM109.1,527.7h1v1h-1zM123.5,528.0h1v1h-1zM111.4,519.9h1v1h-1zM106.6,525.1h1v1h-1zM102.0,523.2h1v1h-1zM124.4,526.3h1v1h-1zM106.0,525.7h1v1h-1zM108.1,516.1h1v1h-1zM102.6,526.3h1v1h-1zM129.3,515.7h1v1h-1zM107.7,518.2h1v1h-1zM137.1,523.5h1v1h-1zM109.6,510.6h1v1h-1zM108.4,526.1h1v1h-1zM131.3,517.3h1v1h-1zM108.3,517.3h1v1h-1zM97.5,525.3h1v1h-1zM104.7,525.7h1v1h-1zM99.1,513.9h1v1h-1zM117.1,515.5h1v1h-1zM121.5,519.2h1v1h-1zM103.9,523.4h1v1h-1zM122.1,509.3h1v1h-1zM130.9,521.2h1v1h-1zM121.3,509.6h1v1h-1zM108.0,518.2h1v1h-1zM124.2,511.5h1v1h-1zM106.5,509.6h1v1h-1zM112.3,521.5h1v1h-1zM99.3,517.4h1v1h-1zM119.1,527.5h1v1h-1zM120.5,517.7h1v1h-1zM103.9,515.4h1v1h-1zM108.5,520.7h1v1h-1zM114.1,528.3h1v1h-1zM117.1,513.9h1v1h-1zM128.4,523.7h1v1h-1zM115.4,515.8h1v1h-1zM97.7,515.3h1v1h-1zM122.7,515.0h1v1h-1zM102.6,521.3h1v1h-1zM116.7,522.6h1v1h-1zM120.4,526.5h1v1h-1zM106.9,525.1h1v1h-1zM105.6,523.7h1v1h-1zM116.1,520.8h1v1h-1zM123.2,519.0h1v1h-1zM124.5,523.6h1v1h-1zM115.7,516.6h1v1h-1zM107.7,517.3h1v1h-1zM112.7,519.6h1v1h-1zM141.3,521.4h1v1h-1zM121.4,514.7h1v1h-1zM108.1,518.3h1v1h-1zM116.2,514.1h1v1h-1zM129.0,515.8h1v1h-1zM124.2,507.0h1v1h-1zM114.4,521.0h1v1h-1zM116.2,522.6h1v1h-1zM117.0,520.3h1v1h-1zM97.5,516.9h1v1h-1zM93.4,524.1h1v1h-1zM117.3,518.4h1v1h-1zM107.1,517.0h1v1h-1zM131.1,527.6h1v1h-1zM114.0,526.3h1v1h-1zM100.2,510.4h1v1h-1zM110.2,515.3h1v1h-1zM109.5,520.9h1v1h-1zM141.7,514.6h1v1h-1zM114.9,521.0h1v1h-1zM114.2,524.4h1v1h-1zM130.5,512.2h1v1h-1zM116.0,518.1h1v1h-1zM117.7,511.5h1v1h-1zM98.7,508.5h1v1h-1zM119.2,520.3h1v1h-1zM115.2,507.3h1v1h-1zM111.1,515.9h1v1h-1zM101.8,515.6h1v1h-1zM120.8,522.1h1v1h-1zM114.3,522.3h1v1h-1zM109.1,520.3h1v1h-1zM114.9,522.4h1v1h-1zM113.9,518.9h1v1h-1zM113.3,516.3h1v1h-1zM134.6,521.1h1v1h-1zM118.4,531.2h1v1h-1zM127.1,510.8h1v1h-1zM120.8,523.6h1v1h-1zM131.5,525.4h1v1h-1zM121.4,513.1h1v1h-1zM106.7,521.4h1v1h-1zM119.0,514.1h1v1h-1zM111.0,517.7h1v1h-1zM115.0,521.3h1v1h-1zM111.9,513.3h1v1h-1zM125.7,527.2h1v1h-1zM113.5,525.0h1v1h-1zM118.5,522.8h1v1h-1zM118.8,515.4h1v1h-1zM119.7,524.5h1v1h-1zM106.4,530.2h1v1h-1zM133.3,527.9h1v1h-1zM132.4,522.4h1v1h-1zM111.5,516.7h1v1h-1zM107.2,520.6h1v1h-1zM114.2,523.1h1v1h-1zM96.3,532.6h1v1h-1zM135.0,518.3h1v1h-1zM120.6,521.7h1v1h-1zM117.0,518.4h1v1h-1zM113.4,515.4h1v1h-1zM116.1,519.4h1v1h-1zM117.4,515.0h1v1h-1zM114.9,519.8h1v1h-1zM119.9,513.8h1v1h-1zM118.3,524.5h1v1h-1zM119.9,517.4h1v1h-1zM110.1,518.6h1v1h-1zM121.1,527.3h1v1h-1zM113.1,516.4h1v1h-1zM117.9,520.5h1v1h-1zM106.3,516.3h1v1h-1zM113.6,523.1h1v1h-1zM103.8,515.0h1v1h-1zM119.0,513.0h1v1h-1zM115.5,521.4h1v1h-1zM113.5,514.4h1v1h-1zM114.0,517.9h1v1h-1zM117.5,515.1h1v1h-1zM124.3,510.4h1v1h-1zM112.9,519.7h1v1h-1zM123.2,516.0h1v1h-1zM119.4,516.4h1v1h-1zM121.1,528.2h1v1h-1zM110.9,522.1h1v1h-1zM106.2,525.1h1v1h-1zM125.4,519.2h1v1h-1zM104.3,522.3h1v1h-1zM124.8,524.6h1v1h-1zM121.8,509.7h1v1h-1zM108.4,527.3h1v1h-1zM103.5,526.1h1v1h-1zM131.4,522.6h1v1h-1zM124.6,517.3h1v1h-1zM103.5,519.7h1v1h-1zM112.7,519.5h1v1h-1zM120.8,518.5h1v1h-1zM116.2,521.7h1v1h-1zM114.5,529.1h1v1h-1zM118.5,519.8h1v1h-1zM112.6,516.5h1v1h-1zM126.6,519.7h1v1h-1zM104.8,517.3h1v1h-1zM113.3,517.4h1v1h-1zM124.3,513.0h1v1h-1zM118.9,520.1h1v1h-1zM103.9,520.5h1v1h-1zM113.7,522.2h1v1h-1zM110.4,521.4h1v1h-1zM99.5,514.9h1v1h-1zM121.6,524.6h1v1h-1zM114.4,516.5h1v1h-1zM124.2,508.2h1v1h-1zM107.3,523.5h1v1h-1zM120.4,513.9h1v1h-1zM97.5,528.1h1v1h-1zM115.9,514.9h1v1h-1zM115.0,524.2h1v1h-1zM91.2,526.7h1v1h-1zM121.2,508.4h1v1h-1zM121.4,510.0h1v1h-1zM124.8,521.1h1v1h-1zM134.8,515.3h1v1h-1zM114.5,525.0h1v1h-1zM108.7,516.3h1v1h-1zM111.2,519.4h1v1h-1zM104.8,522.7h1v1h-1zM119.4,519.7h1v1h-1zM129.8,517.0h1v1h-1zM126.3,516.1h1v1h-1zM121.3,509.2h1v1h-1zM116.3,518.6h1v1h-1zM110.0,516.7h1v1h-1zM111.4,516.1h1v1h-1zM94.8,517.7h1v1h-1zM109.6,517.2h1v1h-1zM105.0,519.4h1v1h-1zM121.6,517.9h1v1h-1zM110.1,526.9h1v1h-1zM123.3,523.9h1v1h-1zM124.9,517.3h1v1h-1zM113.3,525.4h1v1h-1zM109.5,519.3h1v1h-1zM117.9,521.3h1v1h-1zM112.0,524.8h1v1h-1zM112.9,523.4h1v1h-1zM124.1,522.5h1v1h-1zM121.1,513.2h1v1h-1zM102.7,517.1h1v1h-1zM118.8,527.1h1v1h-1zM103.5,521.8h1v1h-1zM106.8,516.3h1v1h-1zM112.0,523.3h1v1h-1zM116.4,525.6h1v1h-1zM105.6,524.7h1v1h-1zM122.9,519.5h1v1h-1zM118.8,516.4h1v1h-1zM104.7,518.1h1v1h-1zM108.7,534.9h1v1h-1zM110.1,528.4h1v1h-1zM116.3,521.1h1v1h-1zM121.2,515.2h1v1h-1zM122.7,521.1h1v1h-1zM100.9,523.5h1v1h-1zM119.5,521.7h1v1h-1zM128.8,516.6h1v1h-1zM119.1,523.2h1v1h-1zM106.4,526.3h1v1h-1zM101.4,513.6h1v1h-1zM119.2,513.7h1v1h-1zM113.5,511.1h1v1h-1zM115.1,513.7h1v1h-1zM117.6,511.5h1v1h-1zM118.5,518.0h1v1h-1zM115.1,519.2h1v1h-1zM115.7,512.7h1v1h-1zM91.4,521.1h1v1h-1zM106.1,517.7h1v1h-1zM118.3,509.1h1v1h-1zM107.6,516.8h1v1h-1zM105.0,521.8h1v1h-1zM113.2,515.4h1v1h-1zM105.6,524.3h1v1h-1zM108.6,523.0h1v1h-1zM118.5,509.6h1v1h-1zM104.7,520.2h1v1h-1zM117.6,523.5h1v1h-1zM121.7,524.5h1v1h-1zM111.1,518.7h1v1h-1zM121.5,517.0h1v1h-1zM124.0,510.8h1v1h-1zM120.4,518.4h1v1h-1zM96.8,525.7h1v1h-1zM117.3,519.5h1v1h-1zM104.8,517.8h1v1h-1zM128.1,514.5h1v1h-1zM83.3,517.0h1v1h-1zM103.7,519.5h1v1h-1zM111.0,515.1h1v1h-1zM106.9,525.5h1v1h-1zM101.5,530.5h1v1h-1zM109.6,514.2h1v1h-1zM121.6,522.1h1v1h-1zM105.1,524.0h1v1h-1zM97.9,515.8h1v1h-1zM124.6,517.7h1v1h-1zM102.8,522.9h1v1h-1zM122.8,519.0h1v1h-1zM98.2,518.7h1v1h-1zM118.3,523.4h1v1h-1zM131.2,517.3h1v1h-1zM110.2,519.7h1v1h-1zM125.4,514.1h1v1h-1zM126.2,504.7h1v1h-1zM121.7,515.7h1v1h-1zM118.6,522.9h1v1h-1zM103.9,519.8h1v1h-1zM116.7,522.5h1v1h-1zM106.1,515.0h1v1h-1zM97.2,533.7h1v1h-1zM112.8,518.5h1v1h-1zM101.0,525.2h1v1h-1zM109.7,527.3h1v1h-1zM122.2,519.3h1v1h-1zM121.0,513.5h1v1h-1zM111.6,516.8h1v1h-1zM103.1,520.3h1v1h-1zM113.2,527.1h1v1h-1zM84.3,517.9h1v1h-1zM106.2,517.7h1v1h-1zM118.3,521.5h1v1h-1zM114.8,517.1h1v1h-1zM119.0,521.2h1v1h-1zM97.9,519.2h1v1h-1zM102.1,514.2h1v1h-1zM115.8,519.8h1v1h-1zM115.5,515.0h1v1h-1zM112.7,515.0h1v1h-1zM117.9,523.0h1v1h-1zM130.3,525.2h1v1h-1zM107.3,517.7h1v1h-1zM106.1,521.7h1v1h-1zM132.3,522.2h1v1h-1zM94.7,514.2h1v1h-1zM102.9,522.9h1v1h-1zM114.5,521.2h1v1h-1zM130.5,514.4h1v1h-1zM106.9,530.2h1v1h-1zM117.6,515.4h1v1h-1zM96.2,512.8h1v1h-1zM92.5,521.2h1v1h-1zM114.9,524.7h1v1h-1zM113.2,516.1h1v1h-1zM107.8,529.8h1v1h-1zM98.6,521.4h1v1h-1zM114.7,522.8h1v1h-1zM110.9,522.4h1v1h-1zM121.8,518.4h1v1h-1zM110.4,518.9h1v1h-1zM105.8,519.0h1v1h-1zM111.8,520.8h1v1h-1zM126.5,525.7h1v1h-1zM110.5,523.0h1v1h-1zM117.2,523.4h1v1h-1zM114.7,521.0h1v1h-1zM110.3,515.8h1v1h-1zM122.3,525.9h1v1h-1zM120.5,521.5h1v1h-1zM116.9,517.1h1v1h-1zM98.5,524.0h1v1h-1zM116.3,516.6h1v1h-1zM105.8,526.7h1v1h-1zM98.3,529.7h1v1h-1zM120.3,531.5h1v1h-1zM108.0,519.9h1v1h-1zM109.9,520.7h1v1h-1zM112.6,515.8h1v1h-1zM124.2,515.0h1v1h-1zM109.9,522.7h1v1h-1zM109.7,517.6h1v1h-1zM117.7,517.5h1v1h-1zM103.3,519.7h1v1h-1zM112.5,528.5h1v1h-1zM104.6,525.2h1v1h-1zM107.4,518.2h1v1h-1zM111.6,521.2h1v1h-1zM122.3,528.2h1v1h-1zM108.8,526.8h1v1h-1zM123.5,523.3h1v1h-1zM107.7,524.7h1v1h-1zM113.5,521.5h1v1h-1zM112.1,523.2h1v1h-1zM124.5,524.9h1v1h-1zM112.7,524.9h1v1h-1zM127.6,514.0h1v1h-1zM127.8,511.9h1v1h-1zM119.4,522.4h1v1h-1zM127.8,520.3h1v1h-1zM110.2,515.7h1v1h-1zM103.2,524.2h1v1h-1zM112.4,516.0h1v1h-1zM119.3,515.4h1v1h-1zM110.6,517.5h1v1h-1zM129.4,526.3h1v1h-1zM113.1,511.6h1v1h-1zM117.0,519.8h1v1h-1zM117.6,522.3h1v1h-1zM111.6,524.6h1v1h-1zM122.0,520.3h1v1h-1zM110.8,517.3h1v1h-1zM120.7,513.6h1v1h-1zM113.1,515.8h1v1h-1zM102.0,523.4h1v1h-1zM114.3,519.8h1v1h-1zM122.4,511.4h1v1h-1zM113.9,521.1h1v1h-1zM122.0,513.6h1v1h-1zM120.9,520.4h1v1h-1zM126.7,524.8h1v1h-1zM119.4,530.4h1v1h-1zM114.5,517.4h1v1h-1zM111.4,514.9h1v1h-1zM114.2,509.9h1v1h-1zM113.7,521.8h1v1h-1zM123.4,517.3h1v1h-1zM127.0,515.5h1v1h-1zM113.3,510.0h1v1h-1zM107.6,515.9h1v1h-1zM127.6,521.5h1v1h-1zM104.8,522.9h1v1h-1zM118.7,518.2h1v1h-1zM114.7,518.0h1v1h-1zM109.7,510.9h1v1h-1zM113.7,526.1h1v1h-1zM127.1,517.5h1v1h-1zM107.9,518.9h1v1h-1zM122.4,520.9h1v1h-1zM109.4,521.7h1v1h-1zM112.7,522.3h1v1h-1zM110.9,512.4h1v1h-1zM115.0,523.4h1v1h-1zM104.8,519.6h1v1h-1zM122.2,517.3h1v1h-1zM108.8,530.2h1v1h-1zM121.8,524.4h1v1h-1zM106.2,528.3h1v1h-1zM100.0,517.8h1v1h-1zM121.0,525.9h1v1h-1zM106.4,516.7h1v1h-1zM116.2,509.8h1v1h-1zM120.1,522.1h1v1h-1zM110.6,522.5h1v1h-1zM121.3,520.8h1v1h-1zM119.1,526.9h1v1h-1zM110.3,520.7h1v1h-1zM109.9,525.1h1v1h-1zM110.9,522.2h1v1h-1zM115.7,519.9h1v1h-1zM129.5,518.3h1v1h-1zM126.9,523.0h1v1h-1zM126.0,518.1h1v1h-1zM122.6,522.9h1v1h-1zM109.2,521.3h1v1h-1zM113.4,519.5h1v1h-1zM125.8,515.3h1v1h-1zM99.9,511.7h1v1h-1zM110.6,516.6h1v1h-1zM114.6,522.4h1v1h-1zM129.8,520.3h1v1h-1zM118.5,515.7h1v1h-1zM119.5,526.1h1v1h-1zM126.1,509.2h1v1h-1zM122.2,527.1h1v1h-1zM121.7,511.7h1v1h-1zM111.8,522.7h1v1h-1zM118.1,515.3h1v1h-1zM106.8,524.9h1v1h-1zM102.9,527.4h1v1h-1zM114.7,521.1h1v1h-1zM102.9,517.3h1v1h-1zM120.5,511.9h1v1h-1zM132.4,511.6h1v1h-1zM103.9,520.4h1v1h-1zM118.7,523.0h1v1h-1zM111.3,518.8h1v1h-1zM112.5,516.9h1v1h-1zM92.2,525.7h1v1h-1zM116.7,520.3h1v1h-1zM109.1,521.2h1v1h-1zM114.4,519.2h1v1h-1zM124.1,510.5h1v1h-1zM116.7,514.2h1v1h-1zM111.8,527.2h1v1h-1zM105.1,519.6h1v1h-1zM109.4,524.6h1v1h-1zM106.0,511.7h1v1h-1zM118.9,517.6h1v1h-1zM111.7,525.1h1v1h-1zM106.8,518.2h1v1h-1zM115.8,521.6h1v1h-1zM110.0,525.0h1v1h-1zM133.9,516.5h1v1h-1zM130.7,508.2h1v1h-1zM126.7,517.2h1v1h-1zM115.7,517.8h1v1h-1zM109.0,513.6h1v1h-1zM111.1,526.2h1v1h-1zM124.4,517.3h1v1h-1zM109.9,516.4h1v1h-1zM104.1,529.2h1v1h-1zM120.2,519.9h1v1h-1zM110.3,514.8h1v1h-1zM125.9,522.8h1v1h-1zM106.3,525.0h1v1h-1zM104.9,523.3h1v1h-1zM106.2,518.0h1v1h-1zM118.8,521.5h1v1h-1zM123.2,514.9h1v1h-1zM128.1,525.5h1v1h-1zM114.4,521.9h1v1h-1zM107.8,519.2h1v1h-1zM103.1,520.7h1v1h-1zM116.2,526.2h1v1h-1zM122.7,523.2h1v1h-1zM111.4,518.7h1v1h-1zM111.6,520.9h1v1h-1zM97.8,524.4h1v1h-1zM101.0,517.8h1v1h-1zM114.7,517.0h1v1h-1zM128.9,518.3h1v1h-1zM128.1,524.6h1v1h-1zM110.2,521.8h1v1h-1zM125.7,517.3h1v1h-1zM115.3,516.8h1v1h-1zM115.0,517.8h1v1h-1zM115.2,524.5h1v1h-1zM126.5,519.6h1v1h-1zM116.2,523.8h1v1h-1zM112.0,514.5h1v1h-1zM124.1,514.4h1v1h-1zM122.5,514.3h1v1h-1zM130.3,513.5h1v1h-1zM121.8,526.6h1v1h-1zM106.2,527.5h1v1h-1zM107.4,511.2h1v1h-1zM120.7,522.7h1v1h-1zM112.7,507.2h1v1h-1zM114.0,518.1h1v1h-1zM111.2,518.4h1v1h-1zM99.0,517.7h1v1h-1zM130.1,526.4h1v1h-1zM111.4,516.2h1v1h-1zM117.9,524.7h1v1h-1zM120.7,513.4h1v1h-1zM115.9,520.2h1v1h-1zM126.9,524.8h1v1h-1zM119.0,525.4h1v1h-1zM111.1,527.4h1v1h-1zM110.8,521.8h1v1h-1zM122.4,514.6h1v1h-1zM108.4,511.2h1v1h-1zM115.9,519.2h1v1h-1zM111.7,522.2h1v1h-1zM96.2,520.5h1v1h-1zM115.3,518.2h1v1h-1zM121.4,527.9h1v1h-1zM110.6,515.2h1v1h-1zM109.3,520.4h1v1h-1zM119.6,515.0h1v1h-1zM123.1,514.0h1v1h-1zM121.6,521.3h1v1h-1zM118.5,530.1h1v1h-1zM112.2,518.9h1v1h-1zM118.6,523.6h1v1h-1zM102.9,521.6h1v1h-1zM108.1,523.1h1v1h-1zM126.3,519.2h1v1h-1zM113.6,520.6h1v1h-1zM89.0,524.9h1v1h-1zM119.3,520.1h1v1h-1zM111.1,516.2h1v1h-1zM113.0,525.7h1v1h-1zM113.6,526.3h1v1h-1zM92.3,518.6h1v1h-1zM116.9,519.4h1v1h-1zM100.2,517.1h1v1h-1zM125.3,512.6h1v1h-1zM105.9,514.6h1v1h-1zM109.7,523.1h1v1h-1zM119.6,509.2h1v1h-1zM127.1,515.9h1v1h-1zM109.4,528.2h1v1h-1zM113.8,513.5h1v1h-1zM109.0,516.3h1v1h-1zM105.8,518.4h1v1h-1zM122.1,520.9h1v1h-1zM102.6,534.1h1v1h-1zM105.9,520.7h1v1h-1zM114.8,523.4h1v1h-1zM111.7,522.0h1v1h-1zM132.7,519.0h1v1h-1zM105.1,521.8h1v1h-1zM107.6,518.2h1v1h-1zM116.1,521.2h1v1h-1zM112.0,524.0h1v1h-1zM112.8,513.2h1v1h-1zM122.1,517.4h1v1h-1zM125.0,515.7h1v1h-1zM119.4,520.9h1v1h-1zM91.2,513.5h1v1h-1zM104.8,527.1h1v1h-1zM98.2,525.1h1v1h-1zM123.9,521.5h1v1h-1zM120.3,516.8h1v1h-1zM114.4,520.7h1v1h-1zM118.1,522.9h1v1h-1zM112.7,516.2h1v1h-1zM109.6,521.9h1v1h-1zM100.1,514.2h1v1h-1zM110.9,517.1h1v1h-1zM112.2,506.5h1v1h-1zM111.6,518.5h1v1h-1zM121.2,509.4h1v1h-1zM111.9,522.1h1v1h-1zM118.7,525.3h1v1h-1zM123.6,513.9h1v1h-1zM120.0,517.6h1v1h-1zM107.6,527.6h1v1h-1zM109.1,515.7h1v1h-1zM111.0,515.6h1v1h-1zM123.2,521.0h1v1h-1zM126.6,520.9h1v1h-1zM109.2,525.1h1v1h-1zM108.8,517.6h1v1h-1zM113.0,519.9h1v1h-1zM124.8,516.0h1v1h-1zM117.5,519.3h1v1h-1zM103.6,514.8h1v1h-1zM112.6,521.7h1v1h-1zM117.3,521.8h1v1h-1zM114.9,517.3h1v1h-1zM118.2,514.4h1v1h-1zM102.9,518.6h1v1h-1zM102.1,517.8h1v1h-1zM108.0,517.2h1v1h-1zM114.1,515.6h1v1h-1zM110.8,511.3h1v1h-1zM115.8,515.1h1v1h-1zM118.0,505.3h1v1h-1zM107.5,521.2h1v1h-1zM93.3,519.0h1v1h-1zM115.3,520.1h1v1h-1zM101.5,521.5h1v1h-1zM115.8,514.7h1v1h-1zM121.0,519.0h1v1h-1zM114.7,517.3h1v1h-1zM119.3,519.8h1v1h-1zM124.4,521.3h1v1h-1zM109.1,518.8h1v1h-1zM122.5,517.3h1v1h-1zM117.8,522.0h1v1h-1zM112.9,508.1h1v1h-1zM115.6,520.6h1v1h-1zM115.7,515.7h1v1h-1zM125.0,518.3h1v1h-1zM109.1,516.3h1v1h-1zM117.6,514.0h1v1h-1zM105.8,530.1h1v1h-1zM125.9,524.2h1v1h-1zM126.4,521.9h1v1h-1zM99.8,526.4h1v1h-1zM125.3,521.4h1v1h-1zM97.5,526.8h1v1h-1zM126.4,516.4h1v1h-1zM115.6,523.4h1v1h-1zM113.8,525.1h1v1h-1zM115.2,523.0h1v1h-1zM115.2,512.1h1v1h-1zM105.8,536.0h1v1h-1zM116.9,526.0h1v1h-1zM124.4,527.6h1v1h-1zM119.3,516.3h1v1h-1zM114.7,510.0h1v1h-1zM112.9,524.2h1v1h-1zM95.6,521.7h1v1h-1zM121.7,525.8h1v1h-1zM106.4,516.8h1v1h-1zM98.1,515.4h1v1h-1zM119.2,529.7h1v1h-1zM104.5,527.1h1v1h-1zM118.2,516.9h1v1h-1zM133.7,505.8h1v1h-1zM113.9,520.7h1v1h-1zM133.1,527.6h1v1h-1zM134.3,519.1h1v1h-1zM123.1,526.0h1v1h-1zM119.0,521.2h1v1h-1zM112.9,517.6h1v1h-1zM103.8,530.0h1v1h-1zM110.6,509.4h1v1h-1zM116.8,519.3h1v1h-1zM116.0,528.6h1v1h-1zM113.6,518.3h1v1h-1zM108.0,519.9h1v1h-1zM110.7,520.9h1v1h-1zM141.8,520.0h1v1h-1zM107.0,529.7h1v1h-1zM122.1,523.3h1v1h-1zM120.8,523.4h1v1h-1zM120.4,526.4h1v1h-1zM123.3,525.9h1v1h-1zM110.1,519.8h1v1h-1zM108.1,524.8h1v1h-1zM121.8,516.8h1v1h-1zM119.6,532.5h1v1h-1zM125.3,513.4h1v1h-1zM113.7,522.8h1v1h-1zM114.2,521.6h1v1h-1zM124.8,520.7h1v1h-1zM104.9,523.8h1v1h-1zM113.6,520.2h1v1h-1zM109.5,512.9h1v1h-1zM103.6,518.5h1v1h-1zM105.1,506.5h1v1h-1zM124.6,513.2h1v1h-1zM108.1,522.6h1v1h-1zM93.4,527.6h1v1h-1zM107.8,523.3h1v1h-1zM110.3,521.4h1v1h-1zM115.4,519.5h1v1h-1zM98.5,513.1h1v1h-1zM114.1,526.7h1v1h-1zM109.7,522.6h1v1h-1zM115.9,522.0h1v1h-1zM123.2,511.5h1v1h-1zM116.9,518.6h1v1h-1zM111.8,515.5h1v1h-1zM107.6,514.8h1v1h-1zM104.9,532.8h1v1h-1zM129.4,518.8h1v1h-1zM121.0,514.3h1v1h-1zM90.1,511.8h1v1h-1zM115.7,526.8h1v1h-1zM114.1,514.6h1v1h-1zM112.4,514.7h1v1h-1zM102.3,519.1h1v1h-1zM111.0,515.7h1v1h-1zM106.7,515.4h1v1h-1zM116.6,526.5h1v1h-1zM112.7,531.0h1v1h-1zM100.3,521.8h1v1h-1zM104.4,519.4h1v1h-1zM115.4,522.4h1v1h-1zM124.4,516.2h1v1h-1zM103.6,519.3h1v1h-1zM117.1,515.9h1v1h-1zM122.3,527.6h1v1h-1zM102.0,522.1h1v1h-1zM123.4,509.4h1v1h-1zM116.3,518.4h1v1h-1zM102.0,527.0h1v1h-1zM116.4,517.1h1v1h-1zM118.4,522.6h1v1h-1zM121.2,522.1h1v1h-1zM118.1,513.5h1v1h-1zM110.8,520.5h1v1h-1zM90.2,531.8h1v1h-1zM111.2,514.5h1v1h-1zM98.5,521.8h1v1h-1zM114.8,516.6h1v1h-1zM110.8,515.3h1v1h-1zM107.9,519.5h1v1h-1zM108.9,523.3h1v1h-1zM113.2,520.3h1v1h-1zM118.1,525.8h1v1h-1zM119.8,520.4h1v1h-1zM113.1,515.6h1v1h-1zM111.5,523.2h1v1h-1zM116.5,517.5h1v1h-1zM102.8,512.5h1v1h-1zM117.3,524.6h1v1h-1zM117.8,512.5h1v1h-1zM112.6,520.8h1v1h-1zM106.4,521.8h1v1h-1zM112.7,515.5h1v1h-1zM103.6,524.3h1v1h-1zM117.6,514.9h1v1h-1zM105.6,524.6h1v1h-1zM119.7,517.8h1v1h-1zM128.5,517.3h1v1h-1zM105.2,525.6h1v1h-1zM112.8,521.4h1v1h-1zM114.8,514.5h1v1h-1zM104.1,519.2h1v1h-1zM126.8,513.8h1v1h-1zM126.4,520.0h1v1h-1zM104.8,521.5h1v1h-1zM119.5,514.8h1v1h-1zM95.8,522.5h1v1h-1zM104.8,522.4h1v1h-1zM97.8,519.9h1v1h-1zM107.4,512.6h1v1h-1zM112.4,520.6h1v1h-1zM109.6,513.9h1v1h-1zM116.4,510.7h1v1h-1zM119.2,521.8h1v1h-1zM129.2,523.2h1v1h-1zM117.6,520.7h1v1h-1zM114.7,512.9h1v1h-1zM127.3,521.5h1v1h-1zM112.0,514.0h1v1h-1zM127.5,521.5h1v1h-1zM104.1,523.6h1v1h-1zM131.1,518.5h1v1h-1zM118.0,517.3h1v1h-1zM109.0,525.3h1v1h-1zM141.4,518.6h1v1h-1zM113.4,523.7h1v1h-1zM111.8,523.4h1v1h-1zM121.7,514.1h1v1h-1zM105.1,519.8h1v1h-1zM121.8,520.6h1v1h-1zM125.3,512.1h1v1h-1zM118.8,516.2h1v1h-1zM115.4,521.2h1v1h-1zM106.0,518.9h1v1h-1zM104.3,521.5h1v1h-1zM107.1,517.5h1v1h-1zM116.4,516.2h1v1h-1zM124.5,515.8h1v1h-1zM121.9,520.6h1v1h-1zM105.5,519.0h1v1h-1zM107.2,518.2h1v1h-1zM103.0,535.6h1v1h-1zM100.3,533.2h1v1h-1zM116.2,505.3h1v1h-1zM65.4,524.6h1v1h-1zM71.3,525.0h1v1h-1zM126.9,521.8h1v1h-1zM104.1,515.6h1v1h-1zM112.8,515.1h1v1h-1zM98.1,514.4h1v1h-1zM129.5,512.0h1v1h-1zM115.0,506.8h1v1h-1zM94.9,504.7h1v1h-1zM104.4,524.6h1v1h-1zM113.6,513.2h1v1h-1zM119.3,514.6h1v1h-1zM114.8,520.6h1v1h-1zM118.0,494.0h1v1h-1zM84.0,525.5h1v1h-1zM106.0,539.7h1v1h-1zM103.7,512.7h1v1h-1zM135.5,523.4h1v1h-1zM142.9,522.9h1v1h-1zM104.3,525.0h1v1h-1zM93.5,513.7h1v1h-1zM97.8,515.9h1v1h-1zM122.3,513.3h1v1h-1zM113.9,513.2h1v1h-1zM124.2,491.3h1v1h-1zM104.2,519.6h1v1h-1zM88.2,527.8h1v1h-1zM112.0,530.4h1v1h-1zM125.7,524.2h1v1h-1zM105.3,507.5h1v1h-1zM104.0,513.6h1v1h-1zM112.6,513.5h1v1h-1zM164.1,502.6h1v1h-1zM129.6,513.5h1v1h-1zM103.5,526.9h1v1h-1zM108.1,506.3h1v1h-1zM115.6,516.1h1v1h-1zM70.2,519.9h1v1h-1zM88.6,510.8h1v1h-1zM116.9,520.9h1v1h-1zM102.7,539.0h1v1h-1zM115.7,512.1h1v1h-1zM112.3,516.8h1v1h-1zM67.6,502.8h1v1h-1zM82.5,537.9h1v1h-1zM104.6,515.3h1v1h-1zM97.6,527.5h1v1h-1zM108.5,534.5h1v1h-1zM122.5,533.9h1v1h-1zM105.8,521.6h1v1h-1zM100.1,516.4h1v1h-1zM76.3,512.4h1v1h-1zM90.6,511.7h1v1h-1zM130.3,520.5h1v1h-1zM130.5,526.3h1v1h-1zM124.9,527.7h1v1h-1zM96.9,525.7h1v1h-1zM102.1,512.9h1v1h-1zM129.9,538.9h1v1h-1zM90.1,534.7h1v1h-1zM123.2,509.8h1v1h-1zM113.0,521.6h1v1h-1zM114.9,514.6h1v1h-1zM84.5,518.3h1v1h-1zM123.8,525.6h1v1h-1zM120.1,528.6h1v1h-1zM89.8,517.6h1v1h-1zM114.2,527.6h1v1h-1zM110.9,523.0h1v1h-1zM110.4,538.2h1v1h-1zM68.0,517.8h1v1h-1zM153.3,520.3h1v1h-1zM74.5,519.3h1v1h-1zM81.8,511.5h1v1h-1zM112.1,534.5h1v1h-1zM116.5,524.4h1v1h-1zM126.6,519.9h1v1h-1zM92.3,517.1h1v1h-1zM114.2,515.3h1v1h-1zM95.8,514.5h1v1h-1zM80.5,508.1h1v1h-1zM106.3,514.5h1v1h-1zM108.7,531.5h1v1h-1zM113.5,517.7h1v1h-1zM86.5,507.6h1v1h-1zM114.9,509.6h1v1h-1zM115.9,507.7h1v1h-1zM110.5,517.3h1v1h-1zM126.2,514.2h1v1h-1zM101.2,520.4h1v1h-1zM109.0,534.3h1v1h-1zM103.3,512.8h1v1h-1zM102.2,522.6h1v1h-1zM112.3,524.7h1v1h-1zM82.7,541.8h1v1h-1zM141.6,517.7h1v1h-1zM85.9,519.5h1v1h-1zM115.6,496.5h1v1h-1zM108.2,503.8h1v1h-1zM116.4,531.3h1v1h-1zM126.9,503.5h1v1h-1zM133.3,526.7h1v1h-1zM101.4,522.8h1v1h-1zM135.7,514.8h1v1h-1zM107.7,512.6h1v1h-1zM129.1,497.3h1v1h-1zM134.0,508.7h1v1h-1zM124.9,502.4h1v1h-1zM90.9,512.2h1v1h-1zM123.1,502.4h1v1h-1zM119.0,511.9h1v1h-1zM130.7,515.0h1v1h-1zM116.9,516.3h1v1h-1zM140.8,514.5h1v1h-1zM107.5,537.1h1v1h-1zM109.4,524.6h1v1h-1zM94.5,519.9h1v1h-1zM66.5,519.0h1v1h-1zM96.2,503.5h1v1h-1zM82.1,529.0h1v1h-1zM115.8,503.4h1v1h-1zM141.2,511.3h1v1h-1zM101.3,520.4h1v1h-1zM87.2,502.4h1v1h-1zM94.4,529.4h1v1h-1zM125.4,502.8h1v1h-1zM130.0,518.3h1v1h-1zM117.2,518.5h1v1h-1zM115.6,508.4h1v1h-1zM91.4,511.2h1v1h-1zM101.3,524.0h1v1h-1zM85.8,533.3h1v1h-1zM96.4,512.3h1v1h-1zM120.9,522.2h1v1h-1zM101.8,507.7h1v1h-1zM89.7,502.6h1v1h-1zM128.9,528.4h1v1h-1zM142.2,522.8h1v1h-1zM114.1,525.3h1v1h-1zM125.4,515.5h1v1h-1zM114.4,538.7h1v1h-1zM77.0,504.5h1v1h-1zM90.4,525.3h1v1h-1zM129.7,514.7h1v1h-1zM120.3,517.5h1v1h-1zM113.5,512.8h1v1h-1zM107.5,518.0h1v1h-1zM128.7,539.5h1v1h-1zM74.8,523.1h1v1h-1zM107.9,527.3h1v1h-1zM127.4,525.5h1v1h-1zM122.8,508.9h1v1h-1zM76.8,534.1h1v1h-1zM130.1,508.8h1v1h-1zM131.6,524.4h1v1h-1zM63.1,526.7h1v1h-1zM89.9,529.2h1v1h-1zM95.5,510.8h1v1h-1zM79.7,515.9h1v1h-1zM126.6,511.5h1v1h-1zM74.0,538.7h1v1h-1zM141.8,524.6h1v1h-1zM98.2,506.3h1v1h-1zM78.0,523.4h1v1h-1zM131.8,507.8h1v1h-1zM108.0,515.3h1v1h-1zM103.3,522.8h1v1h-1zM146.3,511.9h1v1h-1zM123.6,528.5h1v1h-1zM102.8,516.6h1v1h-1zM83.4,528.4h1v1h-1zM98.3,511.7h1v1h-1zM109.2,509.7h1v1h-1zM88.9,515.1h1v1h-1zM135.2,516.0h1v1h-1zM117.7,503.9h1v1h-1zM72.3,535.5h1v1h-1zM100.7,503.2h1v1h-1zM106.1,523.9h1v1h-1zM76.4,509.5h1v1h-1zM112.8,509.1h1v1h-1zM122.6,527.3h1v1h-1zM116.1,513.9h1v1h-1zM107.1,511.9h1v1h-1zM105.6,521.1h1v1h-1zM102.5,527.4h1v1h-1zM155.6,512.7h1v1h-1zM114.3,525.9h1v1h-1zM119.8,515.7h1v1h-1zM99.2,527.7h1v1h-1zM119.5,522.9h1v1h-1zM93.3,524.1h1v1h-1zM122.6,516.2h1v1h-1zM119.9,539.0h1v1h-1zM73.6,523.9h1v1h-1zM86.5,504.8h1v1h-1zM103.7,523.3h1v1h-1zM109.0,506.7h1v1h-1zM81.6,512.6h1v1h-1zM108.3,510.0h1v1h-1zM80.4,535.0h1v1h-1zM92.6,516.5h1v1h-1zM97.9,512.3h1v1h-1zM108.7,515.1h1v1h-1zM119.4,506.5h1v1h-1zM80.7,536.9h1v1h-1zM106.6,525.4h1v1h-1zM129.7,523.4h1v1h-1zM108.7,502.9h1v1h-1zM78.6,527.5h1v1h-1zM120.5,523.5h1v1h-1zM77.5,497.4h1v1h-1zM88.6,506.6h1v1h-1zM110.9,508.1h1v1h-1zM137.1,512.0h1v1h-1zM97.7,526.4h1v1h-1zM114.0,509.3h1v1h-1zM123.1,536.6h1v1h-1zM85.4,515.6h1v1h-1zM88.2,499.2h1v1h-1zM119.5,524.8h1v1h-1zM126.0,522.2h1v1h-1zM70.9,517.7h1v1h-1zM95.7,506.6h1v1h-1zM87.6,525.4h1v1h-1zM102.5,537.1h1v1h-1zM116.7,499.5h1v1h-1zM124.5,530.1h1v1h-1zM108.6,506.2h1v1h-1zM140.7,505.2h1v1h-1zM106.5,499.5h1v1h-1zM84.8,501.5h1v1h-1zM128.1,529.5h1v1h-1zM100.5,504.8h1v1h-1zM106.9,521.7h1v1h-1zM79.8,506.7h1v1h-1zM106.1,524.9h1v1h-1zM109.4,522.4h1v1h-1zM84.9,493.7h1v1h-1zM113.8,509.1h1v1h-1zM105.7,514.3h1v1h-1zM116.9,510.5h1v1h-1zM134.8,518.3h1v1h-1zM117.8,524.1h1v1h-1zM127.2,521.9h1v1h-1zM75.5,511.9h1v1h-1zM142.5,522.6h1v1h-1zM118.4,522.6h1v1h-1zM96.1,511.4h1v1h-1zM96.0,529.3h1v1h-1zM114.8,535.4h1v1h-1zM117.3,536.5h1v1h-1zM116.5,506.4h1v1h-1zM140.4,521.3h1v1h-1zM130.2,520.1h1v1h-1zM101.9,519.7h1v1h-1zM87.1,506.3h1v1h-1zM91.5,512.9h1v1h-1zM82.7,517.0h1v1h-1zM113.7,537.9h1v1h-1zM142.3,517.5h1v1h-1zM124.5,515.8h1v1h-1zM115.3,517.7h1v1h-1zM97.9,518.7h1v1h-1zM80.4,522.3h1v1h-1zM102.6,507.4h1v1h-1zM101.3,523.4h1v1h-1zM95.3,522.7h1v1h-1zM118.6,533.3h1v1h-1zM87.7,516.9h1v1h-1zM117.6,532.8h1v1h-1zM112.9,525.4h1v1h-1zM80.6,512.3h1v1h-1zM139.1,515.2h1v1h-1zM148.5,510.8h1v1h-1zM102.8,502.3h1v1h-1zM119.9,520.6h1v1h-1zM145.8,519.6h1v1h-1zM103.3,504.1h1v1h-1zM106.5,527.3h1v1h-1zM121.9,530.1h1v1h-1zM124.2,517.5h1v1h-1zM119.3,519.7h1v1h-1zM83.0,534.9h1v1h-1zM115.0,507.6h1v1h-1zM115.2,520.8h1v1h-1zM126.7,532.3h1v1h-1zM136.7,508.6h1v1h-1zM73.1,520.8h1v1h-1zM114.3,521.5h1v1h-1zM87.1,513.4h1v1h-1zM111.7,525.4h1v1h-1zM149.2,520.9h1v1h-1zM96.7,494.6h1v1h-1zM128.2,516.7h1v1h-1zM105.9,508.2h1v1h-1zM121.8,500.2h1v1h-1zM110.0,519.2h1v1h-1zM113.6,530.9h1v1h-1zM106.1,518.9h1v1h-1zM124.1,502.6h1v1h-1zM102.5,518.7h1v1h-1zM126.0,510.1h1v1h-1zM123.2,521.8h1v1h-1zM80.0,503.3h1v1h-1zM81.0,519.4h1v1h-1zM111.9,525.2h1v1h-1zM123.5,512.5h1v1h-1zM128.2,526.1h1v1h-1zM116.9,522.8h1v1h-1zM83.7,521.6h1v1h-1zM88.5,506.2h1v1h-1zM101.4,519.4h1v1h-1zM107.0,514.7h1v1h-1zM89.1,519.9h1v1h-1zM94.0,504.0h1v1h-1zM109.8,532.5h1v1h-1zM100.4,507.4h1v1h-1zM134.2,535.0h1v1h-1zM102.4,515.9h1v1h-1zM112.0,547.4h1v1h-1zM110.5,527.9h1v1h-1zM116.4,499.9h1v1h-1zM87.2,505.7h1v1h-1zM116.2,519.1h1v1h-1zM141.8,515.3h1v1h-1zM113.8,518.7h1v1h-1zM110.6,541.1h1v1h-1zM113.4,532.7h1v1h-1zM132.6,512.0h1v1h-1zM121.0,514.2h1v1h-1zM110.1,519.6h1v1h-1zM108.4,513.3h1v1h-1zM137.5,515.4h1v1h-1zM121.3,534.7h1v1h-1zM119.9,528.2h1v1h-1zM134.3,528.8h1v1h-1zM140.6,503.8h1v1h-1zM145.1,518.3h1v1h-1zM74.9,511.6h1v1h-1zM81.6,517.8h1v1h-1zM79.8,508.0h1v1h-1zM113.6,519.6h1v1h-1zM92.9,515.7h1v1h-1zM106.1,518.7h1v1h-1zM107.9,515.8h1v1h-1zM124.7,502.0h1v1h-1zM98.6,519.3h1v1h-1zM100.4,512.5h1v1h-1zM99.7,520.1h1v1h-1zM131.6,516.1h1v1h-1zM102.9,521.6h1v1h-1zM103.4,498.7h1v1h-1zM113.1,514.2h1v1h-1zM97.1,524.3h1v1h-1zM108.8,512.4h1v1h-1zM66.7,500.8h1v1h-1zM108.3,516.8h1v1h-1zM116.3,520.2h1v1h-1zM98.9,505.4h1v1h-1zM87.2,516.6h1v1h-1zM86.2,525.6h1v1h-1zM82.8,500.1h1v1h-1zM104.3,500.3h1v1h-1zM138.9,508.1h1v1h-1zM107.0,515.6h1v1h-1zM92.4,500.3h1v1h-1zM72.6,526.6h1v1h-1zM127.4,539.6h1v1h-1zM80.2,523.6h1v1h-1zM107.7,526.5h1v1h-1zM98.2,525.2h1v1h-1zM125.0,524.1h1v1h-1zM135.5,516.3h1v1h-1zM137.3,511.0h1v1h-1zM139.7,490.5h1v1h-1zM108.3,510.0h1v1h-1zM108.0,528.3h1v1h-1zM121.6,518.9h1v1h-1zM140.3,503.2h1v1h-1zM92.5,533.1h1v1h-1zM114.2,497.3h1v1h-1zM114.5,506.2h1v1h-1zM136.1,529.4h1v1h-1zM97.6,530.9h1v1h-1zM92.2,527.2h1v1h-1zM119.0,516.7h1v1h-1zM81.0,515.2h1v1h-1zM64.5,512.4h1v1h-1zM72.8,530.2h1v1h-1zM89.6,493.7h1v1h-1zM119.1,521.7h1v1h-1zM98.4,539.2h1v1h-1zM122.7,518.7h1v1h-1zM95.7,488.4h1v1h-1zM117.1,527.6h1v1h-1zM96.8,503.9h1v1h-1zM107.2,501.3h1v1h-1zM108.1,525.7h1v1h-1zM136.7,520.7h1v1h-1zM111.7,525.5h1v1h-1zM134.6,514.8h1v1h-1zM84.7,510.1h1v1h-1zM84.1,509.1h1v1h-1zM105.7,521.4h1v1h-1zM111.0,518.7h1v1h-1zM101.2,522.2h1v1h-1zM124.8,525.6h1v1h-1zM136.5,515.1h1v1h-1zM103.2,534.9h1v1h-1zM111.8,522.1h1v1h-1zM101.6,527.7h1v1h-1zM100.4,507.9h1v1h-1zM106.8,513.6h1v1h-1zM123.8,514.2h1v1h-1zM110.3,515.8h1v1h-1zM114.5,511.7h1v1h-1zM129.0,503.8h1v1h-1zM100.7,510.9h1v1h-1zM120.3,518.4h1v1h-1zM117.2,514.7h1v1h-1zM94.4,506.8h1v1h-1zM101.7,512.6h1v1h-1zM113.3,521.5h1v1h-1zM126.6,516.9h1v1h-1zM93.8,507.4h1v1h-1zM109.2,521.6h1v1h-1zM145.0,519.8h1v1h-1zM141.4,536.7h1v1h-1zM88.1,530.1h1v1h-1zM129.6,531.5h1v1h-1zM107.8,527.6h1v1h-1zM98.9,517.3h1v1h-1zM108.4,535.8h1v1h-1zM103.9,527.6h1v1h-1zM109.3,510.9h1v1h-1zM112.6,524.6h1v1h-1zM94.5,524.3h1v1h-1zM94.5,509.2h1v1h-1zM112.2,515.6h1v1h-1zM89.3,501.7h1v1h-1zM108.4,520.4h1v1h-1zM99.3,519.9h1v1h-1zM79.0,521.9h1v1h-1zM115.9,520.8h1v1h-1zM96.4,518.8h1v1h-1zM77.0,534.8h1v1h-1zM79.1,525.0h1v1h-1zM64.1,532.3h1v1h-1zM92.6,516.1h1v1h-1zM84.6,525.7h1v1h-1zM74.3,506.6h1v1h-1zM101.3,499.6h1v1h-1zM79.5,517.5h1v1h-1zM92.2,516.9h1v1h-1zM75.6,529.3h1v1h-1zM81.8,515.8h1v1h-1zM85.2,526.7h1v1h-1zM89.8,515.9h1v1h-1zM74.3,517.3h1v1h-1zM62.4,525.1h1v1h-1zM81.1,539.0h1v1h-1zM70.1,526.6h1v1h-1zM92.1,520.6h1v1h-1zM75.9,523.6h1v1h-1zM64.7,510.2h1v1h-1zM91.7,524.1h1v1h-1zM73.9,507.1h1v1h-1zM76.8,536.0h1v1h-1zM57.8,511.3h1v1h-1zM91.6,539.1h1v1h-1zM98.2,515.4h1v1h-1zM84.0,513.0h1v1h-1zM82.8,517.6h1v1h-1zM77.9,538.0h1v1h-1zM80.1,519.1h1v1h-1zM75.8,525.2h1v1h-1zM67.3,524.5h1v1h-1zM84.0,540.6h1v1h-1zM56.5,532.5h1v1h-1zM111.4,524.3h1v1h-1zM76.8,535.6h1v1h-1zM67.4,516.2h1v1h-1zM80.1,515.0h1v1h-1zM91.6,522.0h1v1h-1zM80.7,552.3h1v1h-1zM68.3,533.0h1v1h-1zM62.7,536.9h1v1h-1zM89.4,523.7h1v1h-1zM89.8,541.2h1v1h-1zM95.5,522.0h1v1h-1zM74.2,535.2h1v1h-1zM53.1,514.8h1v1h-1zM82.2,528.8h1v1h-1zM102.7,542.9h1v1h-1zM79.8,527.3h1v1h-1zM55.4,519.8h1v1h-1zM78.9,519.3h1v1h-1zM75.9,529.2h1v1h-1zM60.9,515.3h1v1h-1zM59.3,501.8h1v1h-1zM86.4,519.5h1v1h-1zM89.3,517.6h1v1h-1zM106.6,530.5h1v1h-1zM77.2,523.4h1v1h-1zM71.9,531.6h1v1h-1zM104.7,517.0h1v1h-1zM58.9,529.1h1v1h-1zM90.8,504.3h1v1h-1zM64.7,510.2h1v1h-1zM83.3,528.0h1v1h-1zM64.1,508.6h1v1h-1zM85.1,497.6h1v1h-1zM84.5,520.2h1v1h-1zM103.4,533.8h1v1h-1zM66.4,518.8h1v1h-1zM70.9,513.4h1v1h-1zM76.2,533.4h1v1h-1zM52.7,519.3h1v1h-1zM97.1,530.8h1v1h-1zM63.0,512.5h1v1h-1zM62.4,503.0h1v1h-1zM92.0,522.8h1v1h-1zM64.7,505.0h1v1h-1zM69.3,515.9h1v1h-1zM100.4,516.6h1v1h-1zM76.7,534.7h1v1h-1zM84.9,519.9h1v1h-1zM83.8,516.9h1v1h-1zM73.7,510.7h1v1h-1zM61.7,504.5h1v1h-1zM82.4,528.1h1v1h-1zM77.6,531.2h1v1h-1zM82.9,523.4h1v1h-1zM62.0,529.0h1v1h-1zM92.5,529.4h1v1h-1zM93.4,516.4h1v1h-1zM60.6,536.8h1v1h-1zM66.4,524.9h1v1h-1zM72.2,522.3h1v1h-1zM71.0,515.6h1v1h-1zM78.0,499.3h1v1h-1zM61.6,508.7h1v1h-1zM64.1,492.0h1v1h-1zM83.5,541.3h1v1h-1zM71.4,530.8h1v1h-1zM83.8,507.3h1v1h-1zM92.9,502.2h1v1h-1zM66.5,517.8h1v1h-1zM93.5,523.4h1v1h-1zM73.2,512.5h1v1h-1zM76.3,522.5h1v1h-1zM85.7,538.4h1v1h-1zM85.8,522.2h1v1h-1zM72.8,540.8h1v1h-1zM78.0,521.8h1v1h-1zM101.4,540.4h1v1h-1zM83.4,520.7h1v1h-1zM65.7,534.5h1v1h-1zM68.3,533.3h1v1h-1zM63.5,523.2h1v1h-1zM80.9,523.7h1v1h-1zM78.4,526.5h1v1h-1zM58.5,509.0h1v1h-1zM72.8,543.2h1v1h-1zM73.2,511.1h1v1h-1zM65.3,522.4h1v1h-1zM92.3,515.4h1v1h-1zM83.2,524.2h1v1h-1zM69.8,510.9h1v1h-1zM72.8,513.5h1v1h-1zM82.9,501.3h1v1h-1zM91.5,530.9h1v1h-1zM83.5,539.6h1v1h-1zM83.8,502.0h1v1h-1zM75.8,527.3h1v1h-1zM65.0,508.7h1v1h-1zM81.3,528.0h1v1h-1zM68.8,519.2h1v1h-1zM67.6,515.4h1v1h-1zM74.2,534.6h1v1h-1zM51.4,518.0h1v1h-1zM98.6,525.7h1v1h-1zM77.3,531.8h1v1h-1zM60.3,507.8h1v1h-1zM78.6,531.9h1v1h-1zM68.9,514.0h1v1h-1zM80.9,529.2h1v1h-1zM78.8,499.7h1v1h-1zM67.0,492.4h1v1h-1zM78.6,512.1h1v1h-1zM65.4,539.6h1v1h-1zM94.3,527.6h1v1h-1zM79.0,524.0h1v1h-1zM66.4,521.4h1v1h-1zM102.9,511.8h1v1h-1zM65.3,523.9h1v1h-1zM88.0,531.7h1v1h-1zM60.9,520.5h1v1h-1zM71.1,507.6h1v1h-1zM76.1,516.4h1v1h-1zM88.4,527.1h1v1h-1zM63.6,522.9h1v1h-1zM69.8,514.6h1v1h-1zM67.9,534.4h1v1h-1zM69.0,502.0h1v1h-1zM63.7,531.4h1v1h-1zM106.4,509.7h1v1h-1zM69.8,518.2h1v1h-1zM137.8,571.4h1v1h-1zM146.4,565.6h1v1h-1zM160.9,554.2h1v1h-1zM151.7,565.2h1v1h-1zM142.7,563.4h1v1h-1zM156.5,561.7h1v1h-1zM147.6,557.9h1v1h-1zM152.3,563.3h1v1h-1zM160.6,563.1h1v1h-1zM151.8,562.3h1v1h-1zM147.1,561.0h1v1h-1zM148.7,564.1h1v1h-1zM150.8,567.0h1v1h-1zM148.7,560.1h1v1h-1zM151.8,568.8h1v1h-1zM141.4,569.3h1v1h-1zM150.2,564.6h1v1h-1zM149.9,561.6h1v1h-1zM146.1,572.9h1v1h-1zM157.6,550.3h1v1h-1zM130.7,575.8h1v1h-1zM142.4,563.9h1v1h-1zM136.6,571.8h1v1h-1zM146.4,561.5h1v1h-1zM152.4,572.9h1v1h-1zM156.0,564.3h1v1h-1zM144.1,568.9h1v1h-1zM146.5,570.0h1v1h-1zM150.4,561.6h1v1h-1zM150.2,558.3h1v1h-1zM151.7,568.6h1v1h-1zM144.4,568.2h1v1h-1zM136.2,575.0h1v1h-1zM152.2,555.5h1v1h-1zM157.7,558.0h1v1h-1zM135.8,563.6h1v1h-1zM152.2,559.3h1v1h-1zM153.7,552.0h1v1h-1zM146.1,569.3h1v1h-1zM142.4,570.0h1v1h-1zM144.4,567.1h1v1h-1zM148.7,574.1h1v1h-1zM138.9,572.6h1v1h-1zM155.0,553.3h1v1h-1zM147.2,575.4h1v1h-1zM153.3,545.0h1v1h-1zM145.2,556.3h1v1h-1zM148.6,559.2h1v1h-1zM143.2,561.9h1v1h-1zM148.6,560.5h1v1h-1zM141.0,566.3h1v1h-1zM149.3,558.1h1v1h-1zM153.7,551.4h1v1h-1zM149.3,560.5h1v1h-1zM156.6,554.8h1v1h-1zM142.5,559.7h1v1h-1zM159.2,559.6h1v1h-1zM139.9,566.4h1v1h-1zM140.7,575.3h1v1h-1zM149.3,552.1h1v1h-1zM148.0,567.8h1v1h-1zM146.7,566.4h1v1h-1zM146.0,565.5h1v1h-1zM148.0,559.6h1v1h-1zM148.9,563.5h1v1h-1zM146.5,560.7h1v1h-1zM140.3,569.1h1v1h-1zM151.9,548.7h1v1h-1zM143.3,572.9h1v1h-1zM152.5,556.9h1v1h-1zM155.2,553.9h1v1h-1zM141.7,576.8h1v1h-1zM143.9,564.6h1v1h-1zM136.3,565.1h1v1h-1zM139.3,567.8h1v1h-1zM135.1,576.3h1v1h-1zM144.5,562.3h1v1h-1zM142.7,570.2h1v1h-1zM156.4,556.1h1v1h-1zM156.9,566.0h1v1h-1zM155.2,560.4h1v1h-1zM137.3,573.1h1v1h-1zM144.1,566.5h1v1h-1zM134.8,569.7h1v1h-1zM148.2,558.4h1v1h-1zM148.6,571.3h1v1h-1zM148.2,559.7h1v1h-1zM161.8,544.1h1v1h-1zM140.9,569.6h1v1h-1zM143.0,554.6h1v1h-1zM148.3,567.2h1v1h-1zM141.7,574.4h1v1h-1zM149.9,568.1h1v1h-1zM137.0,569.8h1v1h-1zM156.8,568.1h1v1h-1zM155.0,559.0h1v1h-1zM147.9,560.1h1v1h-1zM153.7,556.3h1v1h-1zM147.5,553.1h1v1h-1zM137.2,578.7h1v1h-1zM147.1,564.9h1v1h-1zM132.8,572.2h1v1h-1zM159.8,548.5h1v1h-1zM131.6,572.2h1v1h-1zM143.3,565.0h1v1h-1zM138.7,561.9h1v1h-1zM138.9,572.0h1v1h-1zM146.4,568.4h1v1h-1zM139.9,571.1h1v1h-1zM143.9,566.1h1v1h-1zM152.6,560.6h1v1h-1zM144.5,556.9h1v1h-1zM147.1,567.7h1v1h-1zM142.7,566.1h1v1h-1zM135.5,564.0h1v1h-1zM149.3,569.1h1v1h-1zM144.7,556.7h1v1h-1zM144.3,557.5h1v1h-1zM144.9,574.9h1v1h-1zM148.6,562.1h1v1h-1zM153.3,558.1h1v1h-1zM148.8,563.8h1v1h-1zM149.5,554.8h1v1h-1zM151.2,565.8h1v1h-1zM132.2,558.9h1v1h-1zM141.0,575.0h1v1h-1zM146.8,567.4h1v1h-1zM150.2,566.4h1v1h-1zM142.6,563.5h1v1h-1zM149.1,565.7h1v1h-1zM150.4,563.5h1v1h-1zM143.6,571.5h1v1h-1zM149.7,567.6h1v1h-1zM130.5,578.9h1v1h-1zM131.1,574.4h1v1h-1zM142.5,567.2h1v1h-1zM143.7,564.2h1v1h-1zM147.9,565.0h1v1h-1zM141.6,554.1h1v1h-1zM141.7,569.8h1v1h-1zM141.3,569.4h1v1h-1zM144.3,560.6h1v1h-1zM154.2,568.0h1v1h-1zM146.0,564.1h1v1h-1zM152.8,553.5h1v1h-1zM141.1,573.2h1v1h-1zM152.5,558.0h1v1h-1zM141.7,568.8h1v1h-1zM137.7,566.9h1v1h-1zM145.2,552.3h1v1h-1zM150.5,565.7h1v1h-1zM153.6,552.5h1v1h-1zM138.4,564.8h1v1h-1zM138.3,579.6h1v1h-1zM140.4,566.2h1v1h-1zM148.0,565.6h1v1h-1zM156.0,552.8h1v1h-1zM152.4,561.4h1v1h-1zM139.2,569.3h1v1h-1zM137.7,577.8h1v1h-1zM142.0,572.0h1v1h-1zM155.1,555.8h1v1h-1zM140.9,568.1h1v1h-1zM139.9,572.7h1v1h-1zM147.8,559.4h1v1h-1zM142.3,570.4h1v1h-1zM137.3,578.3h1v1h-1zM141.6,566.0h1v1h-1zM140.7,576.0h1v1h-1zM152.0,567.5h1v1h-1zM150.9,561.9h1v1h-1zM157.7,560.9h1v1h-1zM149.5,565.3h1v1h-1zM151.5,562.6h1v1h-1zM145.6,556.4h1v1h-1zM160.0,549.3h1v1h-1zM132.8,568.7h1v1h-1zM159.2,562.8h1v1h-1zM142.8,567.7h1v1h-1zM146.5,553.8h1v1h-1zM144.5,566.8h1v1h-1zM154.3,553.2h1v1h-1zM132.1,564.6h1v1h-1zM148.8,563.1h1v1h-1zM147.7,564.2h1v1h-1zM144.3,558.3h1v1h-1zM149.6,564.2h1v1h-1zM150.4,568.2h1v1h-1zM138.7,556.7h1v1h-1zM135.1,582.0h1v1h-1zM140.8,569.6h1v1h-1zM146.6,567.8h1v1h-1zM167.5,548.8h1v1h-1zM145.6,561.6h1v1h-1zM148.3,565.7h1v1h-1zM140.4,574.6h1v1h-1zM154.1,561.8h1v1h-1zM146.0,563.2h1v1h-1zM136.0,573.8h1v1h-1zM140.4,565.2h1v1h-1zM153.2,555.3h1v1h-1zM143.3,570.5h1v1h-1zM158.8,553.2h1v1h-1zM153.9,556.3h1v1h-1zM149.2,565.0h1v1h-1zM139.3,573.8h1v1h-1zM158.4,557.3h1v1h-1zM148.5,556.9h1v1h-1zM158.3,557.4h1v1h-1zM138.4,573.0h1v1h-1zM137.2,566.1h1v1h-1zM132.8,579.5h1v1h-1zM161.1,552.1h1v1h-1zM142.5,563.5h1v1h-1zM143.0,569.1h1v1h-1zM156.2,553.1h1v1h-1zM149.6,552.9h1v1h-1zM156.6,557.6h1v1h-1zM142.1,574.7h1v1h-1zM146.0,571.5h1v1h-1zM153.7,568.4h1v1h-1zM141.5,567.4h1v1h-1zM149.1,561.6h1v1h-1zM156.6,554.3h1v1h-1zM153.2,567.2h1v1h-1zM134.0,566.6h1v1h-1zM140.8,564.7h1v1h-1zM149.2,561.6h1v1h-1zM147.2,561.3h1v1h-1zM146.2,566.8h1v1h-1zM151.5,557.0h1v1h-1zM146.0,560.5h1v1h-1zM145.5,557.2h1v1h-1zM152.9,563.8h1v1h-1zM145.9,560.9h1v1h-1zM143.7,562.3h1v1h-1zM136.7,578.5h1v1h-1zM168.1,544.8h1v1h-1zM139.1,571.6h1v1h-1zM150.6,553.5h1v1h-1zM134.2,574.3h1v1h-1zM133.8,579.2h1v1h-1zM143.5,566.4h1v1h-1zM146.7,561.1h1v1h-1zM145.8,563.0h1v1h-1zM154.8,558.7h1v1h-1zM146.5,561.4h1v1h-1zM142.6,562.6h1v1h-1zM146.8,573.5h1v1h-1zM153.9,560.9h1v1h-1zM157.5,562.8h1v1h-1zM148.0,562.3h1v1h-1zM139.6,569.6h1v1h-1zM144.6,557.0h1v1h-1zM138.3,579.1h1v1h-1zM148.1,565.8h1v1h-1zM148.0,560.8h1v1h-1zM149.7,567.8h1v1h-1zM144.7,567.9h1v1h-1zM153.4,557.5h1v1h-1zM147.8,559.5h1v1h-1zM150.6,559.7h1v1h-1zM154.2,555.6h1v1h-1zM157.7,555.8h1v1h-1zM141.2,562.6h1v1h-1zM151.0,557.0h1v1h-1zM158.4,563.6h1v1h-1zM150.1,554.6h1v1h-1zM146.5,560.3h1v1h-1zM134.9,573.3h1v1h-1zM161.0,552.6h1v1h-1zM152.0,567.5h1v1h-1zM140.5,566.0h1v1h-1zM148.4,565.4h1v1h-1zM139.3,569.6h1v1h-1zM146.0,569.4h1v1h-1zM136.3,567.3h1v1h-1zM143.4,564.3h1v1h-1zM151.4,557.9h1v1h-1zM164.5,549.6h1v1h-1zM152.2,566.0h1v1h-1zM153.0,559.2h1v1h-1zM141.3,565.9h1v1h-1zM151.0,562.0h1v1h-1zM150.5,564.7h1v1h-1zM141.0,562.6h1v1h-1zM156.1,555.9h1v1h-1zM136.4,579.8h1v1h-1zM141.3,562.4h1v1h-1zM153.0,554.3h1v1h-1zM141.0,572.8h1v1h-1zM141.4,580.2h1v1h-1zM147.3,577.6h1v1h-1zM147.5,563.8h1v1h-1zM142.5,565.3h1v1h-1zM143.4,565.8h1v1h-1zM151.7,554.4h1v1h-1zM140.7,556.7h1v1h-1zM156.5,557.7h1v1h-1zM146.6,563.8h1v1h-1zM153.2,561.8h1v1h-1zM152.2,559.8h1v1h-1zM145.9,564.2h1v1h-1zM134.6,576.9h1v1h-1zM136.4,565.0h1v1h-1zM151.1,561.7h1v1h-1zM152.0,569.7h1v1h-1zM158.8,563.9h1v1h-1zM145.2,575.5h1v1h-1zM141.0,567.0h1v1h-1zM153.2,559.0h1v1h-1zM145.9,562.6h1v1h-1zM155.6,545.8h1v1h-1zM155.0,564.5h1v1h-1zM146.2,567.2h1v1h-1zM140.4,573.5h1v1h-1zM166.6,547.3h1v1h-1zM155.8,558.3h1v1h-1zM144.5,562.8h1v1h-1zM145.5,558.2h1v1h-1zM137.9,577.9h1v1h-1zM146.6,566.9h1v1h-1zM148.7,565.3h1v1h-1zM136.8,565.0h1v1h-1zM150.8,566.7h1v1h-1zM139.3,565.5h1v1h-1zM139.8,571.6h1v1h-1zM148.9,562.8h1v1h-1zM142.5,568.3h1v1h-1zM146.9,560.0h1v1h-1zM148.9,559.2h1v1h-1zM152.9,563.5h1v1h-1zM142.2,569.7h1v1h-1zM147.1,560.1h1v1h-1zM140.8,558.9h1v1h-1zM139.4,570.2h1v1h-1zM154.5,556.0h1v1h-1zM147.7,565.2h1v1h-1zM151.8,563.3h1v1h-1zM154.7,563.2h1v1h-1zM141.7,569.0h1v1h-1zM131.5,572.2h1v1h-1zM146.8,566.9h1v1h-1zM144.7,569.5h1v1h-1zM155.3,554.5h1v1h-1zM143.2,567.5h1v1h-1zM149.9,562.8h1v1h-1zM152.1,554.6h1v1h-1zM151.7,567.0h1v1h-1zM153.9,561.9h1v1h-1zM145.2,567.0h1v1h-1zM146.2,556.0h1v1h-1zM142.8,566.2h1v1h-1zM143.3,561.2h1v1h-1zM145.2,563.0h1v1h-1zM147.1,563.5h1v1h-1zM147.8,568.5h1v1h-1zM147.6,565.6h1v1h-1zM138.8,553.4h1v1h-1zM144.1,569.1h1v1h-1zM144.5,562.1h1v1h-1zM138.6,573.5h1v1h-1zM143.3,567.3h1v1h-1zM154.1,562.4h1v1h-1zM161.3,554.6h1v1h-1zM152.9,563.9h1v1h-1zM142.4,566.8h1v1h-1zM143.0,560.9h1v1h-1zM148.6,558.8h1v1h-1zM157.6,553.6h1v1h-1zM143.2,566.6h1v1h-1zM143.3,566.3h1v1h-1zM142.7,559.0h1v1h-1zM131.0,566.7h1v1h-1zM156.6,560.4h1v1h-1zM147.7,561.0h1v1h-1zM145.8,566.1h1v1h-1zM137.7,565.3h1v1h-1zM140.9,574.0h1v1h-1zM139.8,574.2h1v1h-1zM143.7,580.0h1v1h-1zM146.2,564.5h1v1h-1zM155.5,563.3h1v1h-1zM152.8,554.8h1v1h-1zM154.1,568.3h1v1h-1zM146.0,561.9h1v1h-1zM139.6,573.5h1v1h-1zM148.6,562.9h1v1h-1zM138.7,577.2h1v1h-1zM152.4,560.5h1v1h-1zM156.3,553.3h1v1h-1zM152.4,555.4h1v1h-1zM155.9,557.1h1v1h-1zM154.6,557.1h1v1h-1zM149.3,568.4h1v1h-1zM140.8,568.0h1v1h-1zM141.3,571.7h1v1h-1zM142.8,564.4h1v1h-1zM145.4,570.8h1v1h-1zM139.9,567.9h1v1h-1zM144.6,562.4h1v1h-1zM141.6,566.2h1v1h-1zM148.0,555.2h1v1h-1zM148.2,556.9h1v1h-1zM146.8,575.8h1v1h-1zM140.4,567.4h1v1h-1zM145.0,570.1h1v1h-1zM143.6,556.6h1v1h-1zM136.2,571.2h1v1h-1zM148.3,568.6h1v1h-1zM143.2,569.6h1v1h-1zM139.8,574.9h1v1h-1zM146.2,560.8h1v1h-1zM147.9,572.4h1v1h-1zM141.2,560.9h1v1h-1zM140.1,562.0h1v1h-1zM146.4,566.0h1v1h-1zM145.6,565.7h1v1h-1zM154.4,557.9h1v1h-1zM138.6,557.0h1v1h-1zM148.3,559.5h1v1h-1zM145.1,567.1h1v1h-1zM149.7,554.0h1v1h-1zM140.5,568.1h1v1h-1zM145.8,570.5h1v1h-1zM143.4,555.2h1v1h-1zM154.3,550.9h1v1h-1zM140.4,569.8h1v1h-1zM139.8,581.1h1v1h-1zM148.2,565.9h1v1h-1zM143.9,577.2h1v1h-1zM150.2,558.2h1v1h-1zM154.9,550.3h1v1h-1zM142.9,567.8h1v1h-1zM147.6,558.5h1v1h-1zM157.0,565.5h1v1h-1zM140.6,569.6h1v1h-1zM142.6,564.2h1v1h-1zM153.1,560.8h1v1h-1zM146.0,565.0h1v1h-1zM139.1,574.9h1v1h-1zM141.8,573.7h1v1h-1zM143.7,563.4h1v1h-1zM156.4,559.2h1v1h-1zM142.5,563.7h1v1h-1zM150.6,571.4h1v1h-1zM150.7,559.6h1v1h-1zM139.4,564.9h1v1h-1zM145.9,565.7h1v1h-1zM142.4,573.2h1v1h-1zM140.5,564.0h1v1h-1zM149.9,564.6h1v1h-1zM144.2,570.5h1v1h-1zM137.5,578.0h1v1h-1zM160.9,565.6h1v1h-1zM147.5,573.8h1v1h-1zM147.0,570.7h1v1h-1zM145.4,565.8h1v1h-1zM150.1,552.9h1v1h-1zM145.3,573.7h1v1h-1zM127.7,577.4h1v1h-1zM152.7,562.1h1v1h-1zM148.0,570.5h1v1h-1zM148.9,552.9h1v1h-1zM140.6,566.1h1v1h-1zM147.6,561.1h1v1h-1zM146.0,573.1h1v1h-1zM127.6,581.4h1v1h-1zM152.8,563.5h1v1h-1zM146.8,564.3h1v1h-1zM149.1,563.8h1v1h-1zM142.0,570.9h1v1h-1zM141.3,567.0h1v1h-1zM144.4,559.4h1v1h-1zM150.6,561.3h1v1h-1zM139.1,568.1h1v1h-1zM137.8,576.8h1v1h-1zM150.1,572.3h1v1h-1zM143.0,569.9h1v1h-1zM140.4,563.3h1v1h-1zM146.1,566.5h1v1h-1zM152.7,559.0h1v1h-1zM153.9,564.7h1v1h-1zM141.0,566.5h1v1h-1zM140.8,576.4h1v1h-1zM143.1,570.7h1v1h-1zM152.6,559.1h1v1h-1zM143.5,567.7h1v1h-1zM141.7,560.5h1v1h-1zM140.4,569.5h1v1h-1zM147.9,572.4h1v1h-1zM134.9,573.7h1v1h-1zM139.2,574.5h1v1h-1zM151.2,562.0h1v1h-1zM156.2,556.3h1v1h-1zM143.3,560.6h1v1h-1zM142.5,567.1h1v1h-1zM151.1,568.0h1v1h-1zM145.0,561.3h1v1h-1zM144.5,563.1h1v1h-1zM143.7,563.7h1v1h-1zM141.1,567.1h1v1h-1zM143.4,565.1h1v1h-1zM137.7,570.1h1v1h-1zM150.4,565.1h1v1h-1zM143.2,560.2h1v1h-1zM138.3,563.0h1v1h-1zM142.5,564.9h1v1h-1zM135.3,574.3h1v1h-1zM136.8,566.4h1v1h-1zM142.0,571.1h1v1h-1zM158.6,555.1h1v1h-1zM144.9,563.0h1v1h-1zM145.4,563.9h1v1h-1zM162.6,548.8h1v1h-1zM146.0,560.4h1v1h-1zM149.0,559.9h1v1h-1zM150.4,556.2h1v1h-1zM160.3,556.9h1v1h-1zM135.3,574.4h1v1h-1zM143.7,559.9h1v1h-1zM149.5,559.6h1v1h-1zM151.5,558.3h1v1h-1zM152.5,561.3h1v1h-1zM149.0,563.4h1v1h-1zM144.4,563.6h1v1h-1zM149.6,565.9h1v1h-1zM144.1,577.1h1v1h-1zM157.6,551.6h1v1h-1zM153.7,559.4h1v1h-1zM148.2,559.1h1v1h-1zM157.3,553.4h1v1h-1zM146.2,560.6h1v1h-1zM159.1,563.0h1v1h-1zM138.2,566.8h1v1h-1zM149.0,560.4h1v1h-1zM144.4,559.8h1v1h-1zM148.3,557.4h1v1h-1zM152.0,573.1h1v1h-1zM144.6,573.7h1v1h-1zM149.1,559.1h1v1h-1zM144.5,560.4h1v1h-1zM147.4,567.1h1v1h-1zM152.7,559.0h1v1h-1zM139.0,568.2h1v1h-1zM157.4,559.0h1v1h-1zM146.3,553.6h1v1h-1zM143.9,568.5h1v1h-1zM140.6,574.5h1v1h-1zM143.1,561.7h1v1h-1zM143.0,565.8h1v1h-1zM153.1,557.3h1v1h-1zM135.3,570.5h1v1h-1zM150.0,569.9h1v1h-1zM139.5,575.9h1v1h-1zM151.0,563.7h1v1h-1zM141.8,562.5h1v1h-1zM140.6,572.4h1v1h-1zM148.1,568.6h1v1h-1zM158.3,557.1h1v1h-1zM146.4,574.0h1v1h-1zM138.4,566.7h1v1h-1zM144.3,563.5h1v1h-1zM147.6,559.2h1v1h-1zM154.1,552.6h1v1h-1zM141.5,558.5h1v1h-1zM137.7,572.4h1v1h-1zM150.7,560.6h1v1h-1zM152.1,563.9h1v1h-1zM143.0,566.0h1v1h-1zM149.0,572.9h1v1h-1zM143.9,567.6h1v1h-1zM150.2,568.1h1v1h-1zM149.4,567.9h1v1h-1zM139.9,566.8h1v1h-1zM134.3,571.2h1v1h-1zM161.6,556.3h1v1h-1zM147.3,565.0h1v1h-1zM147.6,556.7h1v1h-1zM142.3,565.8h1v1h-1zM147.8,559.0h1v1h-1zM146.0,560.7h1v1h-1zM138.3,565.7h1v1h-1zM141.6,571.4h1v1h-1zM155.3,561.8h1v1h-1zM145.3,562.0h1v1h-1zM136.7,567.4h1v1h-1zM156.7,563.9h1v1h-1zM148.1,561.9h1v1h-1zM146.7,566.2h1v1h-1zM146.7,566.2h1v1h-1zM141.8,567.2h1v1h-1zM144.5,570.8h1v1h-1zM138.8,575.4h1v1h-1zM146.2,561.8h1v1h-1zM146.8,564.6h1v1h-1zM145.2,567.1h1v1h-1zM143.0,557.7h1v1h-1zM151.1,561.2h1v1h-1zM157.3,559.6h1v1h-1zM133.9,578.0h1v1h-1zM142.3,569.4h1v1h-1zM160.9,561.1h1v1h-1zM139.7,567.8h1v1h-1zM136.4,573.6h1v1h-1zM150.3,556.7h1v1h-1zM149.6,567.0h1v1h-1zM151.9,557.5h1v1h-1zM142.3,561.0h1v1h-1zM138.4,570.6h1v1h-1zM147.0,570.5h1v1h-1zM148.5,561.4h1v1h-1zM137.6,577.3h1v1h-1zM147.8,563.3h1v1h-1zM140.3,562.6h1v1h-1zM150.7,556.7h1v1h-1zM150.4,565.0h1v1h-1zM144.3,557.3h1v1h-1zM149.3,569.6h1v1h-1zM141.4,560.8h1v1h-1zM153.7,560.6h1v1h-1zM142.7,572.6h1v1h-1zM144.9,567.4h1v1h-1zM144.1,561.8h1v1h-1zM148.1,558.9h1v1h-1zM135.4,568.1h1v1h-1zM154.6,564.9h1v1h-1zM160.6,560.7h1v1h-1zM157.0,559.1h1v1h-1zM143.9,568.1h1v1h-1zM140.6,571.4h1v1h-1zM143.8,567.1h1v1h-1zM141.3,566.6h1v1h-1zM153.0,559.2h1v1h-1zM142.4,568.1h1v1h-1zM152.3,559.7h1v1h-1zM139.2,560.7h1v1h-1zM138.2,574.6h1v1h-1zM146.1,566.8h1v1h-1zM153.5,561.4h1v1h-1zM149.8,559.7h1v1h-1zM136.4,573.4h1v1h-1zM146.1,567.3h1v1h-1zM139.9,567.4h1v1h-1zM159.5,552.1h1v1h-1zM147.3,570.3h1v1h-1zM145.2,565.6h1v1h-1zM133.1,576.1h1v1h-1zM143.9,572.2h1v1h-1zM146.1,562.5h1v1h-1zM149.5,561.2h1v1h-1zM143.4,573.8h1v1h-1zM153.0,560.9h1v1h-1zM151.9,565.1h1v1h-1zM150.4,562.1h1v1h-1zM147.2,565.8h1v1h-1zM150.3,563.7h1v1h-1zM143.2,565.8h1v1h-1zM149.6,557.4h1v1h-1zM146.6,567.9h1v1h-1zM147.8,562.0h1v1h-1zM146.6,561.7h1v1h-1zM153.0,558.4h1v1h-1zM136.1,564.4h1v1h-1zM148.6,564.0h1v1h-1zM143.7,559.3h1v1h-1zM145.8,560.4h1v1h-1zM142.5,566.6h1v1h-1zM141.8,568.6h1v1h-1zM142.0,564.6h1v1h-1zM145.3,572.2h1v1h-1zM156.7,562.8h1v1h-1zM142.0,566.9h1v1h-1zM152.5,564.6h1v1h-1zM136.3,570.0h1v1h-1zM142.0,570.6h1v1h-1zM150.8,559.0h1v1h-1zM160.3,554.5h1v1h-1zM162.2,553.9h1v1h-1zM146.2,573.9h1v1h-1zM143.4,563.7h1v1h-1zM156.1,558.3h1v1h-1zM149.7,556.0h1v1h-1zM158.1,562.1h1v1h-1zM149.0,566.2h1v1h-1zM143.5,563.6h1v1h-1zM136.7,571.9h1v1h-1zM154.6,563.6h1v1h-1zM152.6,564.1h1v1h-1zM140.8,561.1h1v1h-1zM150.8,562.5h1v1h-1zM153.0,559.0h1v1h-1zM141.1,569.7h1v1h-1zM143.2,558.1h1v1h-1zM142.8,562.0h1v1h-1zM139.6,565.6h1v1h-1zM152.7,572.1h1v1h-1zM157.7,555.4h1v1h-1zM154.0,559.4h1v1h-1zM149.3,559.2h1v1h-1zM146.2,556.1h1v1h-1zM158.1,553.5h1v1h-1zM150.4,558.9h1v1h-1zM148.4,557.2h1v1h-1zM144.3,570.0h1v1h-1zM150.5,552.2h1v1h-1zM152.1,554.3h1v1h-1zM148.5,565.6h1v1h-1zM142.6,565.0h1v1h-1zM145.1,567.0h1v1h-1zM152.5,567.3h1v1h-1zM148.8,572.7h1v1h-1zM140.7,576.5h1v1h-1zM145.0,568.9h1v1h-1zM145.9,565.0h1v1h-1zM140.9,569.5h1v1h-1zM159.6,557.1h1v1h-1zM146.6,564.2h1v1h-1zM151.2,560.4h1v1h-1zM146.7,565.2h1v1h-1zM155.0,563.8h1v1h-1zM140.0,565.0h1v1h-1zM146.8,568.2h1v1h-1zM152.9,559.4h1v1h-1zM160.2,555.2h1v1h-1zM155.6,565.8h1v1h-1zM156.9,559.0h1v1h-1zM150.4,554.3h1v1h-1zM135.4,567.9h1v1h-1zM151.3,566.6h1v1h-1zM146.0,569.6h1v1h-1zM150.4,569.4h1v1h-1zM136.6,566.1h1v1h-1zM140.6,562.6h1v1h-1zM157.2,553.2h1v1h-1zM141.4,565.3h1v1h-1zM152.3,558.4h1v1h-1zM151.4,564.0h1v1h-1zM142.6,554.9h1v1h-1zM140.9,561.4h1v1h-1zM157.1,554.3h1v1h-1zM139.9,570.0h1v1h-1zM147.0,559.3h1v1h-1zM153.7,564.4h1v1h-1zM148.5,559.3h1v1h-1zM141.1,557.3h1v1h-1zM149.1,564.6h1v1h-1zM140.8,567.7h1v1h-1zM167.6,546.0h1v1h-1zM135.8,573.6h1v1h-1zM141.8,563.3h1v1h-1zM152.1,561.4h1v1h-1zM155.7,564.5h1v1h-1zM157.4,560.9h1v1h-1zM124.9,584.7h1v1h-1zM129.3,580.3h1v1h-1zM148.5,553.7h1v1h-1zM146.7,571.3h1v1h-1zM136.0,569.9h1v1h-1zM138.8,560.9h1v1h-1zM139.9,577.3h1v1h-1zM152.7,561.9h1v1h-1zM145.2,566.4h1v1h-1zM148.8,565.2h1v1h-1zM129.2,579.5h1v1h-1zM137.6,549.6h1v1h-1zM152.9,553.1h1v1h-1zM144.6,565.0h1v1h-1zM140.2,571.7h1v1h-1zM143.3,564.2h1v1h-1zM136.6,567.2h1v1h-1zM135.8,570.0h1v1h-1zM159.0,566.7h1v1h-1zM150.2,553.1h1v1h-1zM156.1,567.5h1v1h-1zM166.2,539.3h1v1h-1zM146.2,562.5h1v1h-1zM156.7,552.2h1v1h-1zM142.3,584.0h1v1h-1zM155.8,545.9h1v1h-1zM146.2,575.1h1v1h-1zM139.9,572.2h1v1h-1zM147.0,553.8h1v1h-1zM139.8,576.3h1v1h-1zM157.6,555.4h1v1h-1zM157.1,554.8h1v1h-1zM148.4,563.8h1v1h-1zM133.7,573.0h1v1h-1zM142.2,546.4h1v1h-1zM137.9,562.5h1v1h-1zM137.8,561.5h1v1h-1zM139.2,549.9h1v1h-1zM154.8,561.7h1v1h-1zM148.5,562.0h1v1h-1zM146.6,562.8h1v1h-1zM135.3,558.6h1v1h-1zM146.7,572.3h1v1h-1zM148.3,576.0h1v1h-1zM132.6,569.1h1v1h-1zM139.9,576.9h1v1h-1zM162.7,553.7h1v1h-1zM153.2,560.0h1v1h-1zM136.2,568.6h1v1h-1zM135.8,581.2h1v1h-1zM151.8,571.3h1v1h-1zM149.5,545.4h1v1h-1zM153.9,562.2h1v1h-1zM122.6,576.4h1v1h-1zM155.9,573.3h1v1h-1zM135.9,575.4h1v1h-1zM149.3,562.3h1v1h-1zM143.2,570.2h1v1h-1zM151.7,567.4h1v1h-1zM142.0,557.0h1v1h-1zM159.0,568.9h1v1h-1zM140.4,567.3h1v1h-1zM153.9,548.4h1v1h-1zM150.9,580.9h1v1h-1zM148.7,558.6h1v1h-1zM166.1,556.1h1v1h-1zM148.1,560.9h1v1h-1zM147.8,550.8h1v1h-1zM133.4,559.7h1v1h-1zM154.9,560.3h1v1h-1zM157.3,544.7h1v1h-1zM140.1,578.5h1v1h-1zM138.2,554.6h1v1h-1zM138.7,565.7h1v1h-1zM145.9,574.8h1v1h-1zM159.1,570.7h1v1h-1zM151.7,558.7h1v1h-1zM141.1,556.2h1v1h-1zM158.5,568.7h1v1h-1zM146.9,558.0h1v1h-1zM152.6,565.7h1v1h-1zM147.5,555.7h1v1h-1zM148.4,559.7h1v1h-1zM153.3,566.2h1v1h-1zM150.3,559.9h1v1h-1zM161.0,564.1h1v1h-1zM158.5,565.7h1v1h-1zM152.5,565.0h1v1h-1zM135.5,556.2h1v1h-1zM136.8,573.7h1v1h-1zM155.0,562.4h1v1h-1zM146.9,578.3h1v1h-1zM142.1,553.4h1v1h-1zM130.8,569.4h1v1h-1zM152.9,567.4h1v1h-1zM143.8,572.1h1v1h-1zM145.5,559.8h1v1h-1zM142.3,572.3h1v1h-1zM155.4,552.4h1v1h-1zM136.3,570.3h1v1h-1zM166.9,546.9h1v1h-1zM133.7,573.7h1v1h-1zM151.0,558.2h1v1h-1zM145.7,568.7h1v1h-1zM128.9,572.5h1v1h-1zM151.9,569.3h1v1h-1zM157.4,559.3h1v1h-1zM131.9,581.4h1v1h-1zM153.6,556.8h1v1h-1zM156.2,568.2h1v1h-1zM144.6,548.0h1v1h-1zM141.4,561.4h1v1h-1zM137.8,568.1h1v1h-1zM135.4,572.7h1v1h-1zM164.5,547.8h1v1h-1zM156.2,556.4h1v1h-1zM151.3,561.7h1v1h-1zM158.6,554.0h1v1h-1zM153.2,556.0h1v1h-1zM148.2,563.9h1v1h-1zM156.7,548.4h1v1h-1zM132.8,581.4h1v1h-1zM149.8,576.0h1v1h-1zM135.9,571.1h1v1h-1zM151.9,575.5h1v1h-1zM145.5,561.9h1v1h-1zM153.0,561.1h1v1h-1zM138.7,574.0h1v1h-1zM127.4,565.8h1v1h-1zM159.3,555.3h1v1h-1zM142.8,569.2h1v1h-1zM157.0,564.0h1v1h-1zM136.6,565.0h1v1h-1zM156.3,559.5h1v1h-1zM139.8,574.3h1v1h-1zM157.2,576.2h1v1h-1zM135.5,564.5h1v1h-1zM139.2,570.7h1v1h-1zM141.3,575.4h1v1h-1zM119.7,584.0h1v1h-1zM139.7,565.8h1v1h-1zM151.6,564.0h1v1h-1zM136.1,580.7h1v1h-1zM151.6,558.8h1v1h-1zM148.0,555.8h1v1h-1zM134.0,568.2h1v1h-1zM149.6,564.2h1v1h-1zM138.4,558.1h1v1h-1zM129.6,584.3h1v1h-1zM149.6,557.4h1v1h-1zM157.6,563.8h1v1h-1zM142.0,562.2h1v1h-1zM157.1,562.4h1v1h-1zM162.0,560.5h1v1h-1zM140.3,563.1h1v1h-1zM139.1,570.0h1v1h-1zM148.5,568.4h1v1h-1zM150.4,555.2h1v1h-1zM144.0,558.9h1v1h-1zM150.7,553.1h1v1h-1zM140.3,561.1h1v1h-1zM140.0,565.8h1v1h-1zM160.7,556.5h1v1h-1zM132.0,569.0h1v1h-1zM153.3,565.9h1v1h-1zM148.3,578.8h1v1h-1zM156.8,560.8h1v1h-1zM157.8,549.7h1v1h-1zM144.4,559.3h1v1h-1zM147.7,576.3h1v1h-1zM141.2,579.1h1v1h-1zM136.1,580.1h1v1h-1zM129.5,566.1h1v1h-1zM155.7,559.9h1v1h-1zM147.4,564.3h1v1h-1zM147.8,562.9h1v1h-1zM136.5,567.1h1v1h-1zM147.1,557.8h1v1h-1zM150.5,576.1h1v1h-1zM130.0,568.1h1v1h-1zM143.3,566.4h1v1h-1zM146.9,559.2h1v1h-1zM145.7,565.2h1v1h-1zM145.2,576.9h1v1h-1zM147.3,553.4h1v1h-1zM130.8,576.3h1v1h-1zM142.7,561.9h1v1h-1zM132.8,568.6h1v1h-1zM145.1,560.3h1v1h-1zM142.6,573.2h1v1h-1zM153.6,565.7h1v1h-1zM144.3,555.6h1v1h-1zM153.5,572.8h1v1h-1zM158.4,568.1h1v1h-1zM148.7,566.6h1v1h-1zM145.9,574.4h1v1h-1zM143.4,582.2h1v1h-1zM153.6,559.2h1v1h-1zM146.0,553.0h1v1h-1zM138.9,566.0h1v1h-1zM169.8,548.2h1v1h-1zM154.9,561.6h1v1h-1zM143.1,571.0h1v1h-1zM126.6,580.8h1v1h-1zM164.8,558.8h1v1h-1zM145.4,566.5h1v1h-1zM152.4,558.4h1v1h-1zM147.2,568.2h1v1h-1zM142.6,569.4h1v1h-1zM149.2,568.9h1v1h-1zM136.4,565.3h1v1h-1zM141.9,575.8h1v1h-1zM148.4,551.5h1v1h-1zM133.6,585.1h1v1h-1zM149.3,553.8h1v1h-1zM137.2,570.0h1v1h-1zM159.9,570.9h1v1h-1zM142.5,564.4h1v1h-1zM164.6,549.3h1v1h-1zM161.2,560.7h1v1h-1zM146.9,574.2h1v1h-1zM150.7,556.6h1v1h-1zM131.2,571.8h1v1h-1zM151.0,573.0h1v1h-1zM120.6,586.5h1v1h-1zM152.0,573.6h1v1h-1zM153.7,563.1h1v1h-1zM150.2,566.1h1v1h-1zM139.9,566.9h1v1h-1zM147.2,561.1h1v1h-1zM131.8,560.6h1v1h-1zM150.9,566.7h1v1h-1zM147.1,555.8h1v1h-1zM154.3,558.4h1v1h-1zM125.9,585.8h1v1h-1zM131.5,588.4h1v1h-1zM151.2,559.4h1v1h-1zM123.2,570.0h1v1h-1zM160.4,568.7h1v1h-1zM148.5,551.0h1v1h-1zM142.3,564.5h1v1h-1zM150.5,562.0h1v1h-1zM149.4,551.3h1v1h-1zM139.8,578.6h1v1h-1zM131.9,578.3h1v1h-1zM168.4,559.8h1v1h-1zM132.5,580.4h1v1h-1zM128.0,575.6h1v1h-1zM142.0,576.1h1v1h-1zM157.4,561.3h1v1h-1zM163.4,564.5h1v1h-1zM141.4,559.7h1v1h-1zM169.9,551.2h1v1h-1zM150.0,562.3h1v1h-1zM141.4,555.0h1v1h-1zM144.6,564.8h1v1h-1zM126.6,561.6h1v1h-1zM104.3,554.6h1v1h-1zM117.7,571.1h1v1h-1zM124.3,563.2h1v1h-1zM122.7,569.8h1v1h-1zM132.8,567.3h1v1h-1zM119.3,575.1h1v1h-1zM128.7,556.5h1v1h-1zM113.9,564.6h1v1h-1zM99.4,584.3h1v1h-1zM127.4,568.3h1v1h-1zM147.4,583.9h1v1h-1zM135.7,587.7h1v1h-1zM125.9,550.3h1v1h-1zM131.4,573.3h1v1h-1zM107.5,568.7h1v1h-1zM124.6,580.3h1v1h-1zM119.5,561.5h1v1h-1zM124.7,558.5h1v1h-1zM117.3,577.6h1v1h-1zM105.4,572.7h1v1h-1zM100.9,556.4h1v1h-1zM107.2,566.9h1v1h-1zM124.3,567.4h1v1h-1zM126.0,569.2h1v1h-1zM116.2,574.2h1v1h-1zM115.9,569.7h1v1h-1zM127.1,560.9h1v1h-1zM128.1,554.1h1v1h-1zM116.1,546.3h1v1h-1zM113.4,587.9h1v1h-1zM121.1,583.9h1v1h-1zM105.2,555.3h1v1h-1zM122.1,578.4h1v1h-1zM125.3,547.0h1v1h-1zM122.5,567.1h1v1h-1zM119.1,574.0h1v1h-1zM115.6,546.8h1v1h-1zM108.7,549.9h1v1h-1zM106.5,566.3h1v1h-1zM129.4,559.1h1v1h-1zM111.3,553.6h1v1h-1zM102.9,568.8h1v1h-1zM113.8,565.0h1v1h-1zM109.6,574.1h1v1h-1zM107.5,574.9h1v1h-1zM112.2,577.9h1v1h-1zM110.2,573.6h1v1h-1zM121.9,567.0h1v1h-1zM132.3,570.2h1v1h-1zM110.2,576.7h1v1h-1zM110.8,561.2h1v1h-1zM118.1,570.3h1v1h-1zM132.9,546.1h1v1h-1zM115.7,582.2h1v1h-1zM116.6,572.0h1v1h-1zM131.4,552.6h1v1h-1zM118.4,578.0h1v1h-1zM112.9,546.0h1v1h-1zM109.3,570.4h1v1h-1zM119.7,591.1h1v1h-1zM129.6,548.6h1v1h-1zM127.1,579.5h1v1h-1zM132.2,566.1h1v1h-1zM113.1,569.8h1v1h-1zM131.6,575.8h1v1h-1zM132.9,577.9h1v1h-1zM112.8,555.3h1v1h-1zM134.2,549.0h1v1h-1zM114.9,564.0h1v1h-1zM110.0,560.8h1v1h-1zM118.1,597.9h1v1h-1zM117.4,561.4h1v1h-1zM119.1,579.8h1v1h-1zM110.8,562.9h1v1h-1zM102.7,576.8h1v1h-1zM124.0,586.9h1v1h-1zM107.5,595.3h1v1h-1zM125.7,564.5h1v1h-1zM114.6,564.1h1v1h-1zM107.4,577.7h1v1h-1zM112.7,558.9h1v1h-1zM122.5,569.4h1v1h-1zM112.9,565.0h1v1h-1zM113.7,584.9h1v1h-1zM126.8,558.9h1v1h-1zM117.6,585.3h1v1h-1zM115.5,590.4h1v1h-1zM121.9,576.4h1v1h-1zM99.8,578.7h1v1h-1zM121.0,575.3h1v1h-1zM122.2,574.6h1v1h-1zM113.5,579.3h1v1h-1zM118.6,554.8h1v1h-1zM109.1,570.0h1v1h-1zM120.9,540.2h1v1h-1zM99.9,581.2h1v1h-1zM117.9,603.9h1v1h-1zM104.5,564.9h1v1h-1zM112.7,575.0h1v1h-1zM130.4,588.3h1v1h-1zM109.1,583.5h1v1h-1zM107.3,571.9h1v1h-1zM119.5,575.8h1v1h-1zM111.0,584.8h1v1h-1zM117.4,567.8h1v1h-1zM115.7,554.6h1v1h-1zM124.3,572.2h1v1h-1zM122.0,591.5h1v1h-1zM110.4,564.4h1v1h-1zM118.1,578.8h1v1h-1zM116.4,579.8h1v1h-1zM122.0,545.8h1v1h-1zM112.0,542.4h1v1h-1zM115.5,562.7h1v1h-1zM123.2,570.2h1v1h-1zM117.4,583.9h1v1h-1zM123.2,552.5h1v1h-1zM111.9,572.1h1v1h-1zM133.0,565.5h1v1h-1zM116.5,571.4h1v1h-1zM124.9,566.9h1v1h-1zM120.6,562.7h1v1h-1zM113.2,558.0h1v1h-1zM123.8,561.0h1v1h-1zM122.8,573.1h1v1h-1zM126.6,534.1h1v1h-1zM109.5,552.6h1v1h-1zM116.6,578.2h1v1h-1zM140.3,587.5h1v1h-1zM154.5,548.2h1v1h-1zM120.4,551.4h1v1h-1zM85.5,559.9h1v1h-1zM128.2,553.2h1v1h-1zM107.9,516.6h1v1h-1zM115.4,539.1h1v1h-1zM134.8,532.4h1v1h-1zM134.8,554.5h1v1h-1zM105.3,537.8h1v1h-1zM97.6,528.3h1v1h-1zM145.7,524.7h1v1h-1zM164.4,550.8h1v1h-1zM145.4,542.2h1v1h-1zM144.9,563.4h1v1h-1zM130.1,528.7h1v1h-1zM117.3,581.3h1v1h-1zM124.4,530.2h1v1h-1zM114.2,504.0h1v1h-1zM118.2,546.9h1v1h-1zM118.5,523.8h1v1h-1zM136.0,549.8h1v1h-1zM119.5,546.6h1v1h-1zM109.0,558.4h1v1h-1zM108.7,532.8h1v1h-1zM130.7,531.0h1v1h-1zM105.6,584.9h1v1h-1zM157.6,502.7h1v1h-1zM130.4,512.9h1v1h-1zM134.1,512.1h1v1h-1zM139.4,551.4h1v1h-1zM161.4,565.8h1v1h-1zM119.1,560.2h1v1h-1zM119.0,537.6h1v1h-1zM118.2,502.3h1v1h-1zM139.8,496.5h1v1h-1zM123.4,551.2h1v1h-1zM130.2,506.3h1v1h-1zM115.3,554.6h1v1h-1zM149.5,574.2h1v1h-1zM92.5,549.8h1v1h-1zM118.6,556.4h1v1h-1zM95.0,537.0h1v1h-1zM141.8,526.2h1v1h-1zM120.9,519.0h1v1h-1zM149.8,511.6h1v1h-1zM110.2,532.9h1v1h-1zM121.8,585.2h1v1h-1zM133.4,522.2h1v1h-1zM139.4,547.4h1v1h-1zM133.5,538.6h1v1h-1z" fill="#0a0a0a" fill-opacity="0.8"/>
<path d="M50,630.2 L50,473.3 L207.4,473.3 L207.4,630.2" fill="none" stroke="#9a9a9a" stroke-width="1"/>
<line x1="49.5" y1="630.2" x2="207.4" y2="630.2" stroke="#222" stroke-width="1.1"/>
<line x1="50" y1="473.3" x2="50" y2="630.2" stroke="#222" stroke-width="1.1"/>
<line x1="130" y1="473.3" x2="130" y2="630.2" stroke="#444" stroke-width="1.6"/>
<line x1="50" y1="542.6" x2="207.4" y2="542.6" stroke="#444" stroke-width="1.6"/>
<rect x="50.5" y="473.8" width="47" height="18.5" fill="#fff" stroke="#333" stroke-width="1.2"/>
<text x="74.0" y="487" font-size="12" font-weight="bold" text-anchor="middle" fill="#222" textLength="32" lengthAdjust="spacingAndGlyphs"  stroke="#222" stroke-width="0.3">61.1 %</text>
<rect x="158.4" y="610.2" width="47.4" height="19.6" fill="#fff" stroke="#333" stroke-width="1.2"/>
<text x="182.9" y="624" font-size="12" font-weight="bold" text-anchor="middle" fill="#222" textLength="32" lengthAdjust="spacingAndGlyphs"  stroke="#222" stroke-width="0.3">34.0 %</text>
<line x1="46" y1="630.2" x2="50" y2="630.2" stroke="#111" stroke-width="1.3"/>
<text x="33" y="631.2" font-size="7" font-weight="normal" text-anchor="start" fill="#444" >10</text>
<text x="40.7" y="626.6" font-size="6" font-weight="normal" text-anchor="start" fill="#444" >0</text>
<line x1="47.5" y1="621.5" x2="50" y2="621.5" stroke="#333" stroke-width="0.8"/>
<line x1="47.5" y1="616.4" x2="50" y2="616.4" stroke="#333" stroke-width="0.8"/>
<line x1="47.5" y1="612.7" x2="50" y2="612.7" stroke="#333" stroke-width="0.8"/>
<line x1="47.5" y1="609.9" x2="50" y2="609.9" stroke="#333" stroke-width="0.8"/>
<line x1="47.5" y1="607.6" x2="50" y2="607.6" stroke="#333" stroke-width="0.8"/>
<line x1="47.5" y1="605.7" x2="50" y2="605.7" stroke="#333" stroke-width="0.8"/>
<line x1="47.5" y1="604.0" x2="50" y2="604.0" stroke="#333" stroke-width="0.8"/>
<line x1="47.5" y1="602.5" x2="50" y2="602.5" stroke="#333" stroke-width="0.8"/>
<line x1="46" y1="601.2" x2="50" y2="601.2" stroke="#111" stroke-width="1.3"/>
<text x="33" y="602.2" font-size="7" font-weight="normal" text-anchor="start" fill="#444" >10</text>
<text x="40.7" y="597.6" font-size="6" font-weight="normal" text-anchor="start" fill="#444" >1</text>
<line x1="47.5" y1="592.5" x2="50" y2="592.5" stroke="#333" stroke-width="0.8"/>
<line x1="47.5" y1="587.4" x2="50" y2="587.4" stroke="#333" stroke-width="0.8"/>
<line x1="47.5" y1="583.7" x2="50" y2="583.7" stroke="#333" stroke-width="0.8"/>
<line x1="47.5" y1="580.9" x2="50" y2="580.9" stroke="#333" stroke-width="0.8"/>
<line x1="47.5" y1="578.6" x2="50" y2="578.6" stroke="#333" stroke-width="0.8"/>
<line x1="47.5" y1="576.7" x2="50" y2="576.7" stroke="#333" stroke-width="0.8"/>
<line x1="47.5" y1="575.0" x2="50" y2="575.0" stroke="#333" stroke-width="0.8"/>
<line x1="47.5" y1="573.5" x2="50" y2="573.5" stroke="#333" stroke-width="0.8"/>
<line x1="46" y1="572.2" x2="50" y2="572.2" stroke="#111" stroke-width="1.3"/>
<text x="33" y="573.2" font-size="7" font-weight="normal" text-anchor="start" fill="#444" >10</text>
<text x="40.7" y="568.6" font-size="6" font-weight="normal" text-anchor="start" fill="#444" >2</text>
<line x1="47.5" y1="563.5" x2="50" y2="563.5" stroke="#333" stroke-width="0.8"/>
<line x1="47.5" y1="558.4" x2="50" y2="558.4" stroke="#333" stroke-width="0.8"/>
<line x1="47.5" y1="554.7" x2="50" y2="554.7" stroke="#333" stroke-width="0.8"/>
<line x1="47.5" y1="551.9" x2="50" y2="551.9" stroke="#333" stroke-width="0.8"/>
<line x1="47.5" y1="549.6" x2="50" y2="549.6" stroke="#333" stroke-width="0.8"/>
<line x1="47.5" y1="547.7" x2="50" y2="547.7" stroke="#333" stroke-width="0.8"/>
<line x1="47.5" y1="546.0" x2="50" y2="546.0" stroke="#333" stroke-width="0.8"/>
<line x1="47.5" y1="544.5" x2="50" y2="544.5" stroke="#333" stroke-width="0.8"/>
<line x1="46" y1="543.2" x2="50" y2="543.2" stroke="#111" stroke-width="1.3"/>
<text x="33" y="544.2" font-size="7" font-weight="normal" text-anchor="start" fill="#444" >10</text>
<text x="40.7" y="539.6" font-size="6" font-weight="normal" text-anchor="start" fill="#444" >3</text>
<line x1="47.5" y1="534.5" x2="50" y2="534.5" stroke="#333" stroke-width="0.8"/>
<line x1="47.5" y1="529.4" x2="50" y2="529.4" stroke="#333" stroke-width="0.8"/>
<line x1="47.5" y1="525.7" x2="50" y2="525.7" stroke="#333" stroke-width="0.8"/>
<line x1="47.5" y1="522.9" x2="50" y2="522.9" stroke="#333" stroke-width="0.8"/>
<line x1="47.5" y1="520.6" x2="50" y2="520.6" stroke="#333" stroke-width="0.8"/>
<line x1="47.5" y1="518.7" x2="50" y2="518.7" stroke="#333" stroke-width="0.8"/>
<line x1="47.5" y1="517.0" x2="50" y2="517.0" stroke="#333" stroke-width="0.8"/>
<line x1="47.5" y1="515.5" x2="50" y2="515.5" stroke="#333" stroke-width="0.8"/>
<line x1="46" y1="514.2" x2="50" y2="514.2" stroke="#111" stroke-width="1.3"/>
<text x="33" y="515.2" font-size="7" font-weight="normal" text-anchor="start" fill="#444" >10</text>
<text x="40.7" y="510.6" font-size="6" font-weight="normal" text-anchor="start" fill="#444" >4</text>
<line x1="47.5" y1="505.5" x2="50" y2="505.5" stroke="#333" stroke-width="0.8"/>
<line x1="47.5" y1="500.4" x2="50" y2="500.4" stroke="#333" stroke-width="0.8"/>
<line x1="47.5" y1="496.7" x2="50" y2="496.7" stroke="#333" stroke-width="0.8"/>
<line x1="47.5" y1="493.9" x2="50" y2="493.9" stroke="#333" stroke-width="0.8"/>
<line x1="47.5" y1="491.6" x2="50" y2="491.6" stroke="#333" stroke-width="0.8"/>
<line x1="47.5" y1="489.7" x2="50" y2="489.7" stroke="#333" stroke-width="0.8"/>
<line x1="47.5" y1="488.0" x2="50" y2="488.0" stroke="#333" stroke-width="0.8"/>
<line x1="47.5" y1="486.5" x2="50" y2="486.5" stroke="#333" stroke-width="0.8"/>
<line x1="46" y1="485.2" x2="50" y2="485.2" stroke="#111" stroke-width="1.3"/>
<text x="33" y="486.2" font-size="7" font-weight="normal" text-anchor="start" fill="#444" >10</text>
<text x="40.7" y="481.6" font-size="6" font-weight="normal" text-anchor="start" fill="#444" >5</text>
<line x1="66.0" y1="630.2" x2="66.0" y2="634.2" stroke="#111" stroke-width="1.3"/>
<line x1="75.6" y1="630.2" x2="75.6" y2="632.7" stroke="#333" stroke-width="0.8"/>
<line x1="81.3" y1="630.2" x2="81.3" y2="632.7" stroke="#333" stroke-width="0.8"/>
<line x1="85.3" y1="630.2" x2="85.3" y2="632.7" stroke="#333" stroke-width="0.8"/>
<line x1="88.4" y1="630.2" x2="88.4" y2="632.7" stroke="#333" stroke-width="0.8"/>
<line x1="90.9" y1="630.2" x2="90.9" y2="632.7" stroke="#333" stroke-width="0.8"/>
<line x1="93.0" y1="630.2" x2="93.0" y2="632.7" stroke="#333" stroke-width="0.8"/>
<line x1="94.9" y1="630.2" x2="94.9" y2="632.7" stroke="#333" stroke-width="0.8"/>
<line x1="96.5" y1="630.2" x2="96.5" y2="632.7" stroke="#333" stroke-width="0.8"/>
<text x="62.5" y="648.5" font-size="7" font-weight="normal" text-anchor="start" fill="#444" >10</text>
<text x="70.2" y="644" font-size="6" font-weight="normal" text-anchor="start" fill="#444" >1</text>
<line x1="98.0" y1="630.2" x2="98.0" y2="634.2" stroke="#111" stroke-width="1.3"/>
<line x1="107.6" y1="630.2" x2="107.6" y2="632.7" stroke="#333" stroke-width="0.8"/>
<line x1="113.3" y1="630.2" x2="113.3" y2="632.7" stroke="#333" stroke-width="0.8"/>
<line x1="117.3" y1="630.2" x2="117.3" y2="632.7" stroke="#333" stroke-width="0.8"/>
<line x1="120.4" y1="630.2" x2="120.4" y2="632.7" stroke="#333" stroke-width="0.8"/>
<line x1="122.9" y1="630.2" x2="122.9" y2="632.7" stroke="#333" stroke-width="0.8"/>
<line x1="125.0" y1="630.2" x2="125.0" y2="632.7" stroke="#333" stroke-width="0.8"/>
<line x1="126.9" y1="630.2" x2="126.9" y2="632.7" stroke="#333" stroke-width="0.8"/>
<line x1="128.5" y1="630.2" x2="128.5" y2="632.7" stroke="#333" stroke-width="0.8"/>
<text x="94.5" y="648.5" font-size="7" font-weight="normal" text-anchor="start" fill="#444" >10</text>
<text x="102.2" y="644" font-size="6" font-weight="normal" text-anchor="start" fill="#444" >2</text>
<line x1="130.0" y1="630.2" x2="130.0" y2="634.2" stroke="#111" stroke-width="1.3"/>
<line x1="139.6" y1="630.2" x2="139.6" y2="632.7" stroke="#333" stroke-width="0.8"/>
<line x1="145.3" y1="630.2" x2="145.3" y2="632.7" stroke="#333" stroke-width="0.8"/>
<line x1="149.3" y1="630.2" x2="149.3" y2="632.7" stroke="#333" stroke-width="0.8"/>
<line x1="152.4" y1="630.2" x2="152.4" y2="632.7" stroke="#333" stroke-width="0.8"/>
<line x1="154.9" y1="630.2" x2="154.9" y2="632.7" stroke="#333" stroke-width="0.8"/>
<line x1="157.0" y1="630.2" x2="157.0" y2="632.7" stroke="#333" stroke-width="0.8"/>
<line x1="158.9" y1="630.2" x2="158.9" y2="632.7" stroke="#333" stroke-width="0.8"/>
<line x1="160.5" y1="630.2" x2="160.5" y2="632.7" stroke="#333" stroke-width="0.8"/>
<text x="126.5" y="648.5" font-size="7" font-weight="normal" text-anchor="start" fill="#444" >10</text>
<text x="134.2" y="644" font-size="6" font-weight="normal" text-anchor="start" fill="#444" >3</text>
<line x1="162.0" y1="630.2" x2="162.0" y2="634.2" stroke="#111" stroke-width="1.3"/>
<line x1="171.6" y1="630.2" x2="171.6" y2="632.7" stroke="#333" stroke-width="0.8"/>
<line x1="177.3" y1="630.2" x2="177.3" y2="632.7" stroke="#333" stroke-width="0.8"/>
<line x1="181.3" y1="630.2" x2="181.3" y2="632.7" stroke="#333" stroke-width="0.8"/>
<line x1="184.4" y1="630.2" x2="184.4" y2="632.7" stroke="#333" stroke-width="0.8"/>
<line x1="186.9" y1="630.2" x2="186.9" y2="632.7" stroke="#333" stroke-width="0.8"/>
<line x1="189.0" y1="630.2" x2="189.0" y2="632.7" stroke="#333" stroke-width="0.8"/>
<line x1="190.9" y1="630.2" x2="190.9" y2="632.7" stroke="#333" stroke-width="0.8"/>
<line x1="192.5" y1="630.2" x2="192.5" y2="632.7" stroke="#333" stroke-width="0.8"/>
<text x="158.5" y="648.5" font-size="7" font-weight="normal" text-anchor="start" fill="#444" >10</text>
<text x="166.2" y="644" font-size="6" font-weight="normal" text-anchor="start" fill="#444" >4</text>
<line x1="194.0" y1="630.2" x2="194.0" y2="634.2" stroke="#111" stroke-width="1.3"/>
<line x1="203.6" y1="630.2" x2="203.6" y2="632.7" stroke="#333" stroke-width="0.8"/>
<text x="190.5" y="648.5" font-size="7" font-weight="normal" text-anchor="start" fill="#444" >10</text>
<text x="198.2" y="644" font-size="6" font-weight="normal" text-anchor="start" fill="#444" >5</text>
<text x="113.9" y="672.3" font-size="14.9" font-weight="bold" text-anchor="start" fill="#111"  stroke="#111" stroke-width="0.3">CD8</text>
<text x="304.3" y="453" font-size="14.3" font-weight="bold" text-anchor="start" fill="#111"  stroke="#111" stroke-width="0.3">CD19-CAR T cells</text>
<path d="M349.0,519.7h1v1h-1zM332.8,525.2h1v1h-1zM333.7,531.9h1v1h-1zM363.5,533.2h1v1h-1zM348.9,528.8h1v1h-1zM337.8,519.6h1v1h-1zM349.9,517.8h1v1h-1zM347.5,526.0h1v1h-1zM351.8,526.8h1v1h-1zM345.5,523.4h1v1h-1zM327.7,526.0h1v1h-1zM351.3,532.9h1v1h-1zM358.0,520.2h1v1h-1zM335.3,531.8h1v1h-1zM340.1,542.7h1v1h-1zM347.6,517.7h1v1h-1zM339.1,536.8h1v1h-1zM326.7,529.0h1v1h-1zM331.0,537.5h1v1h-1zM340.1,521.1h1v1h-1zM327.8,523.8h1v1h-1zM319.5,525.7h1v1h-1zM365.8,526.3h1v1h-1zM341.9,520.2h1v1h-1zM347.8,524.0h1v1h-1zM336.2,535.8h1v1h-1zM348.8,521.4h1v1h-1zM359.0,525.8h1v1h-1zM349.4,527.6h1v1h-1zM356.0,530.0h1v1h-1zM341.1,531.5h1v1h-1zM340.7,528.0h1v1h-1zM360.5,519.6h1v1h-1zM334.4,525.2h1v1h-1zM339.6,535.1h1v1h-1zM328.9,541.8h1v1h-1zM360.0,523.3h1v1h-1zM346.3,524.7h1v1h-1zM351.1,530.6h1v1h-1zM351.9,531.1h1v1h-1zM363.4,524.8h1v1h-1zM351.3,525.5h1v1h-1zM344.9,528.3h1v1h-1zM344.0,529.1h1v1h-1zM336.2,526.6h1v1h-1zM338.6,520.3h1v1h-1zM337.6,524.4h1v1h-1zM343.0,517.7h1v1h-1zM342.0,520.4h1v1h-1zM336.5,528.6h1v1h-1zM355.3,528.0h1v1h-1zM339.7,524.7h1v1h-1zM357.6,516.4h1v1h-1zM355.6,517.3h1v1h-1zM338.3,527.7h1v1h-1zM342.3,537.1h1v1h-1zM349.3,526.4h1v1h-1zM353.8,526.6h1v1h-1zM336.6,534.2h1v1h-1zM359.2,533.8h1v1h-1zM333.0,539.2h1v1h-1zM340.4,531.9h1v1h-1zM356.2,540.6h1v1h-1zM328.7,521.8h1v1h-1zM356.0,529.3h1v1h-1zM341.4,509.6h1v1h-1zM348.8,525.6h1v1h-1zM318.9,544.7h1v1h-1zM320.0,525.2h1v1h-1zM344.5,528.4h1v1h-1zM351.9,524.9h1v1h-1zM335.7,525.4h1v1h-1zM323.9,521.5h1v1h-1zM363.8,521.7h1v1h-1zM343.7,538.5h1v1h-1zM354.8,527.1h1v1h-1zM351.7,524.9h1v1h-1zM335.6,533.6h1v1h-1zM345.8,536.6h1v1h-1zM341.9,524.9h1v1h-1zM347.9,525.6h1v1h-1zM341.4,521.8h1v1h-1zM347.0,528.8h1v1h-1zM362.4,525.7h1v1h-1zM327.3,530.9h1v1h-1zM366.9,523.0h1v1h-1zM336.6,526.5h1v1h-1zM316.5,526.7h1v1h-1zM342.7,518.0h1v1h-1zM350.2,521.4h1v1h-1zM326.4,523.8h1v1h-1zM350.7,538.2h1v1h-1zM356.8,527.4h1v1h-1zM339.5,525.7h1v1h-1zM354.0,523.3h1v1h-1zM348.6,532.6h1v1h-1zM335.6,524.0h1v1h-1zM348.9,526.8h1v1h-1zM343.3,523.9h1v1h-1zM343.9,538.2h1v1h-1zM357.8,516.4h1v1h-1zM345.0,527.5h1v1h-1zM344.9,518.6h1v1h-1zM343.2,528.0h1v1h-1zM337.8,529.3h1v1h-1zM320.6,519.4h1v1h-1zM345.5,529.3h1v1h-1zM342.9,524.3h1v1h-1zM346.3,533.4h1v1h-1zM353.3,526.0h1v1h-1zM339.9,533.7h1v1h-1zM349.8,532.0h1v1h-1zM341.8,522.0h1v1h-1zM346.3,523.1h1v1h-1zM355.8,531.5h1v1h-1zM323.1,532.3h1v1h-1zM357.6,532.5h1v1h-1zM339.9,522.1h1v1h-1zM354.0,532.5h1v1h-1zM345.1,520.0h1v1h-1zM329.5,529.5h1v1h-1zM336.4,523.4h1v1h-1zM348.9,533.1h1v1h-1zM324.2,524.2h1v1h-1zM357.3,526.0h1v1h-1zM341.1,531.1h1v1h-1zM333.3,520.3h1v1h-1zM344.7,536.4h1v1h-1zM354.5,526.4h1v1h-1zM354.4,523.9h1v1h-1zM332.9,517.6h1v1h-1zM347.2,532.3h1v1h-1zM348.2,526.5h1v1h-1zM340.6,533.8h1v1h-1zM344.0,518.3h1v1h-1zM358.0,522.2h1v1h-1zM348.3,526.8h1v1h-1zM354.9,527.9h1v1h-1zM356.5,527.5h1v1h-1zM340.0,524.2h1v1h-1zM350.9,521.6h1v1h-1zM353.6,525.0h1v1h-1zM335.4,522.3h1v1h-1zM343.1,537.8h1v1h-1zM352.1,526.6h1v1h-1zM335.6,539.1h1v1h-1zM341.8,527.2h1v1h-1zM340.3,535.3h1v1h-1zM346.2,524.1h1v1h-1zM346.3,520.9h1v1h-1zM334.2,526.7h1v1h-1zM316.2,535.9h1v1h-1zM364.0,519.1h1v1h-1zM343.1,517.5h1v1h-1zM346.2,528.2h1v1h-1zM351.8,518.5h1v1h-1zM338.6,523.5h1v1h-1zM342.1,541.0h1v1h-1zM342.5,526.9h1v1h-1zM339.5,532.1h1v1h-1zM369.7,532.5h1v1h-1zM359.6,519.6h1v1h-1zM354.9,526.5h1v1h-1zM356.8,532.6h1v1h-1zM350.9,516.5h1v1h-1zM345.8,523.9h1v1h-1zM348.9,527.0h1v1h-1zM354.8,516.7h1v1h-1zM337.2,527.0h1v1h-1zM347.7,524.4h1v1h-1zM344.2,527.4h1v1h-1zM354.8,525.7h1v1h-1zM346.9,515.9h1v1h-1zM318.8,519.7h1v1h-1zM348.0,512.8h1v1h-1zM348.5,526.2h1v1h-1zM344.5,522.6h1v1h-1zM340.4,532.3h1v1h-1zM348.0,526.6h1v1h-1zM339.7,528.6h1v1h-1zM356.2,526.2h1v1h-1zM340.9,520.1h1v1h-1zM345.5,521.4h1v1h-1zM330.4,533.1h1v1h-1zM338.4,515.0h1v1h-1zM337.4,538.6h1v1h-1zM343.5,519.0h1v1h-1zM333.7,532.0h1v1h-1zM348.5,528.0h1v1h-1zM342.6,530.1h1v1h-1zM359.6,529.0h1v1h-1zM342.9,518.6h1v1h-1zM348.9,536.2h1v1h-1zM350.9,519.0h1v1h-1zM346.3,534.8h1v1h-1zM338.3,530.4h1v1h-1zM356.4,536.2h1v1h-1zM328.8,517.4h1v1h-1zM348.2,531.0h1v1h-1zM341.0,527.1h1v1h-1zM340.5,534.5h1v1h-1zM322.7,529.9h1v1h-1zM331.9,523.7h1v1h-1zM329.4,522.4h1v1h-1zM344.3,527.2h1v1h-1zM362.1,524.6h1v1h-1zM347.9,528.9h1v1h-1zM347.0,535.7h1v1h-1zM345.9,527.8h1v1h-1zM343.4,527.1h1v1h-1zM344.0,533.1h1v1h-1zM344.7,527.4h1v1h-1zM344.0,531.6h1v1h-1zM339.8,533.0h1v1h-1zM338.9,531.6h1v1h-1zM363.4,527.2h1v1h-1zM343.6,519.9h1v1h-1zM351.8,526.6h1v1h-1zM353.5,522.5h1v1h-1zM349.6,537.7h1v1h-1zM348.5,524.8h1v1h-1zM331.7,527.7h1v1h-1zM351.0,530.2h1v1h-1zM333.5,521.4h1v1h-1zM334.9,521.4h1v1h-1zM341.8,528.8h1v1h-1zM363.5,527.0h1v1h-1zM358.8,516.1h1v1h-1zM359.7,530.9h1v1h-1zM348.8,531.7h1v1h-1zM350.6,538.3h1v1h-1zM352.4,515.9h1v1h-1zM327.3,537.9h1v1h-1zM343.7,535.1h1v1h-1zM341.1,523.2h1v1h-1zM341.1,529.1h1v1h-1zM346.3,523.1h1v1h-1zM349.8,530.4h1v1h-1zM335.4,520.8h1v1h-1zM325.1,526.3h1v1h-1zM344.6,522.8h1v1h-1zM338.6,526.6h1v1h-1zM344.8,530.5h1v1h-1zM352.7,529.2h1v1h-1zM355.5,520.4h1v1h-1zM350.5,528.9h1v1h-1zM334.2,523.5h1v1h-1zM348.9,527.2h1v1h-1zM332.1,524.4h1v1h-1zM359.6,531.2h1v1h-1zM345.3,535.2h1v1h-1zM335.5,526.5h1v1h-1zM354.0,524.4h1v1h-1zM333.5,531.3h1v1h-1zM360.3,510.6h1v1h-1zM346.0,519.3h1v1h-1zM341.6,518.6h1v1h-1zM370.2,521.3h1v1h-1zM344.9,522.7h1v1h-1zM334.7,524.8h1v1h-1zM346.6,537.6h1v1h-1zM347.3,536.4h1v1h-1zM334.0,528.1h1v1h-1zM340.2,517.7h1v1h-1zM381.3,523.2h1v1h-1zM346.9,522.3h1v1h-1zM338.8,521.0h1v1h-1zM354.6,523.9h1v1h-1zM343.1,528.2h1v1h-1zM332.4,529.2h1v1h-1zM342.8,529.8h1v1h-1zM340.7,527.5h1v1h-1zM349.6,532.6h1v1h-1zM337.7,533.3h1v1h-1zM334.8,526.5h1v1h-1zM345.8,527.8h1v1h-1zM319.8,522.6h1v1h-1zM342.7,532.7h1v1h-1zM337.5,536.6h1v1h-1zM326.7,528.6h1v1h-1zM349.8,526.8h1v1h-1zM347.1,532.5h1v1h-1zM336.5,531.1h1v1h-1zM355.0,524.9h1v1h-1zM321.6,521.2h1v1h-1zM336.1,521.1h1v1h-1zM348.8,521.8h1v1h-1zM369.0,529.0h1v1h-1zM331.6,526.1h1v1h-1zM359.6,530.2h1v1h-1zM334.4,533.9h1v1h-1zM339.8,540.8h1v1h-1zM339.0,531.0h1v1h-1zM350.1,523.9h1v1h-1zM343.0,534.2h1v1h-1zM349.4,526.3h1v1h-1zM348.9,537.4h1v1h-1zM353.7,529.3h1v1h-1zM347.8,517.3h1v1h-1zM345.8,523.9h1v1h-1zM351.7,522.9h1v1h-1zM348.9,520.3h1v1h-1zM353.3,522.0h1v1h-1zM344.2,530.5h1v1h-1zM341.3,527.2h1v1h-1zM355.0,537.1h1v1h-1zM326.7,522.6h1v1h-1zM351.2,532.3h1v1h-1zM339.8,527.9h1v1h-1zM342.6,541.0h1v1h-1zM342.5,519.9h1v1h-1zM329.2,520.2h1v1h-1zM357.4,523.8h1v1h-1zM363.8,529.7h1v1h-1zM348.3,530.7h1v1h-1zM352.3,532.1h1v1h-1zM334.9,524.2h1v1h-1zM339.1,528.0h1v1h-1zM342.0,519.6h1v1h-1zM337.6,538.3h1v1h-1zM365.5,520.5h1v1h-1zM348.3,526.5h1v1h-1zM336.1,531.9h1v1h-1zM343.8,537.2h1v1h-1zM349.0,524.8h1v1h-1zM318.3,528.0h1v1h-1zM352.9,522.1h1v1h-1zM353.2,530.6h1v1h-1zM327.1,526.9h1v1h-1zM347.7,531.4h1v1h-1zM346.0,526.8h1v1h-1zM341.1,525.4h1v1h-1zM344.5,520.5h1v1h-1zM350.8,524.6h1v1h-1zM349.7,523.6h1v1h-1zM348.6,527.5h1v1h-1zM353.3,529.3h1v1h-1zM353.7,525.4h1v1h-1zM344.0,525.4h1v1h-1zM332.1,527.0h1v1h-1zM355.3,531.0h1v1h-1zM336.1,529.3h1v1h-1zM351.9,518.3h1v1h-1zM347.9,528.8h1v1h-1zM351.9,528.1h1v1h-1zM327.3,515.8h1v1h-1zM364.1,523.4h1v1h-1zM357.1,533.9h1v1h-1zM345.4,520.0h1v1h-1zM358.0,525.9h1v1h-1zM349.6,529.6h1v1h-1zM353.9,532.6h1v1h-1zM330.5,519.3h1v1h-1zM345.9,527.0h1v1h-1zM352.2,525.7h1v1h-1zM342.7,539.4h1v1h-1zM358.1,533.2h1v1h-1zM354.7,521.6h1v1h-1zM343.7,526.6h1v1h-1zM333.7,522.4h1v1h-1zM346.1,519.5h1v1h-1zM349.9,529.5h1v1h-1zM342.2,525.1h1v1h-1zM350.5,529.5h1v1h-1zM348.1,519.3h1v1h-1zM328.5,540.4h1v1h-1zM338.1,525.2h1v1h-1zM326.5,523.3h1v1h-1zM337.3,532.3h1v1h-1zM318.4,520.1h1v1h-1zM340.4,524.3h1v1h-1zM336.8,524.8h1v1h-1zM328.9,529.6h1v1h-1zM356.3,527.2h1v1h-1zM339.2,535.0h1v1h-1zM349.3,520.4h1v1h-1zM338.8,523.6h1v1h-1zM344.1,534.4h1v1h-1zM337.5,526.5h1v1h-1zM345.6,519.7h1v1h-1zM339.8,531.0h1v1h-1zM355.7,514.9h1v1h-1zM351.5,524.8h1v1h-1zM357.2,530.0h1v1h-1zM364.0,527.7h1v1h-1zM340.6,522.2h1v1h-1zM330.4,531.2h1v1h-1zM349.6,531.7h1v1h-1zM348.0,517.7h1v1h-1zM340.5,525.8h1v1h-1zM346.1,531.6h1v1h-1zM358.5,527.9h1v1h-1zM324.1,522.1h1v1h-1zM323.4,523.7h1v1h-1zM332.7,529.2h1v1h-1zM342.3,533.9h1v1h-1zM355.2,523.6h1v1h-1zM353.8,526.5h1v1h-1zM349.0,534.9h1v1h-1zM333.2,527.3h1v1h-1zM359.7,521.4h1v1h-1zM346.6,527.7h1v1h-1zM340.4,519.3h1v1h-1zM337.7,521.5h1v1h-1zM355.2,527.8h1v1h-1zM351.4,519.4h1v1h-1zM349.5,527.6h1v1h-1zM354.9,522.0h1v1h-1zM352.5,534.8h1v1h-1zM362.3,520.3h1v1h-1zM333.4,518.8h1v1h-1zM354.0,530.0h1v1h-1zM347.9,521.6h1v1h-1zM356.9,535.9h1v1h-1zM344.2,526.3h1v1h-1zM356.3,529.3h1v1h-1zM357.8,523.7h1v1h-1zM347.9,524.8h1v1h-1zM338.9,525.6h1v1h-1zM341.7,530.2h1v1h-1zM341.5,527.6h1v1h-1zM336.5,520.1h1v1h-1zM358.6,520.2h1v1h-1zM362.4,531.6h1v1h-1zM321.9,524.5h1v1h-1zM340.4,527.4h1v1h-1zM342.7,523.5h1v1h-1zM356.9,525.5h1v1h-1zM354.0,522.3h1v1h-1zM337.7,535.5h1v1h-1zM341.7,520.5h1v1h-1zM342.8,533.5h1v1h-1zM342.9,522.8h1v1h-1zM350.8,532.5h1v1h-1zM342.5,525.2h1v1h-1zM340.9,543.5h1v1h-1zM342.7,537.7h1v1h-1zM343.0,529.5h1v1h-1zM324.4,529.3h1v1h-1zM345.0,525.1h1v1h-1zM340.5,519.0h1v1h-1zM329.8,528.9h1v1h-1zM338.2,526.9h1v1h-1zM342.7,524.1h1v1h-1zM337.3,538.7h1v1h-1zM333.6,524.6h1v1h-1zM341.6,520.2h1v1h-1zM335.0,532.8h1v1h-1zM353.7,527.2h1v1h-1zM376.5,530.0h1v1h-1zM356.7,521.3h1v1h-1zM355.2,536.5h1v1h-1zM340.8,538.1h1v1h-1zM336.6,520.7h1v1h-1zM344.1,522.2h1v1h-1zM350.8,519.9h1v1h-1zM345.3,515.2h1v1h-1zM344.2,533.4h1v1h-1zM341.9,529.0h1v1h-1zM355.3,519.7h1v1h-1zM332.0,528.3h1v1h-1zM347.3,525.2h1v1h-1zM335.0,534.9h1v1h-1zM333.0,526.1h1v1h-1zM344.1,531.4h1v1h-1zM340.1,522.3h1v1h-1zM364.4,520.7h1v1h-1zM352.4,525.6h1v1h-1zM339.8,527.0h1v1h-1zM342.0,529.0h1v1h-1zM319.4,528.4h1v1h-1zM345.2,521.1h1v1h-1zM340.7,541.3h1v1h-1zM362.8,529.7h1v1h-1zM346.8,525.0h1v1h-1zM358.2,523.5h1v1h-1zM336.4,531.7h1v1h-1zM335.0,522.8h1v1h-1zM358.8,516.4h1v1h-1zM343.9,527.8h1v1h-1zM347.1,518.1h1v1h-1zM342.3,525.1h1v1h-1zM363.5,531.9h1v1h-1zM337.1,532.7h1v1h-1zM351.0,525.9h1v1h-1zM342.1,525.5h1v1h-1zM329.3,524.2h1v1h-1zM353.8,535.1h1v1h-1zM362.8,523.6h1v1h-1zM350.6,512.1h1v1h-1zM341.9,519.6h1v1h-1zM352.7,516.5h1v1h-1zM334.3,521.0h1v1h-1zM348.5,531.8h1v1h-1zM335.5,538.4h1v1h-1zM346.1,521.9h1v1h-1zM348.0,526.7h1v1h-1zM352.8,528.6h1v1h-1zM366.2,532.7h1v1h-1zM338.2,532.1h1v1h-1zM352.1,520.5h1v1h-1zM337.2,522.6h1v1h-1zM320.2,532.3h1v1h-1zM342.4,534.6h1v1h-1zM339.0,527.8h1v1h-1zM351.7,532.4h1v1h-1zM347.7,520.5h1v1h-1zM366.3,530.9h1v1h-1zM358.0,535.9h1v1h-1zM358.4,528.6h1v1h-1zM349.2,530.5h1v1h-1zM329.7,532.8h1v1h-1zM334.9,530.1h1v1h-1zM334.6,531.9h1v1h-1zM339.8,542.3h1v1h-1zM346.5,529.9h1v1h-1zM335.6,525.8h1v1h-1zM344.0,525.3h1v1h-1zM340.3,522.0h1v1h-1zM352.1,524.2h1v1h-1zM336.5,529.7h1v1h-1zM336.6,526.4h1v1h-1zM339.5,521.7h1v1h-1zM342.3,522.2h1v1h-1zM332.2,529.9h1v1h-1zM341.6,518.4h1v1h-1zM340.7,528.4h1v1h-1zM348.8,529.0h1v1h-1zM347.1,530.4h1v1h-1zM339.7,522.5h1v1h-1zM350.6,524.2h1v1h-1zM344.7,530.9h1v1h-1zM353.8,533.8h1v1h-1zM337.8,525.2h1v1h-1zM350.1,518.1h1v1h-1zM332.2,531.4h1v1h-1zM338.5,521.8h1v1h-1zM352.5,529.7h1v1h-1zM353.6,524.5h1v1h-1zM341.7,525.1h1v1h-1zM347.5,514.6h1v1h-1zM337.8,531.7h1v1h-1zM336.9,527.1h1v1h-1zM345.8,530.1h1v1h-1zM339.9,520.5h1v1h-1zM369.2,521.2h1v1h-1zM361.4,515.4h1v1h-1zM345.7,525.8h1v1h-1zM363.2,538.1h1v1h-1zM354.2,520.3h1v1h-1zM336.7,523.0h1v1h-1zM339.5,528.9h1v1h-1zM336.8,526.0h1v1h-1zM359.1,534.7h1v1h-1zM326.3,522.4h1v1h-1zM340.9,535.0h1v1h-1zM341.3,538.7h1v1h-1zM348.2,535.4h1v1h-1zM336.1,525.7h1v1h-1zM354.6,529.8h1v1h-1zM326.2,526.5h1v1h-1zM346.4,530.7h1v1h-1zM338.3,537.8h1v1h-1zM346.1,535.6h1v1h-1zM348.6,527.3h1v1h-1zM341.5,520.2h1v1h-1zM353.1,531.0h1v1h-1zM353.8,524.2h1v1h-1zM334.7,525.3h1v1h-1zM341.5,527.1h1v1h-1zM354.3,520.9h1v1h-1zM339.8,531.4h1v1h-1zM353.5,539.7h1v1h-1zM349.8,521.6h1v1h-1zM334.4,522.9h1v1h-1zM345.3,528.5h1v1h-1zM344.0,523.4h1v1h-1zM342.8,526.7h1v1h-1zM350.4,527.1h1v1h-1zM336.7,520.5h1v1h-1zM359.2,525.6h1v1h-1zM342.9,527.0h1v1h-1zM355.7,524.4h1v1h-1zM346.3,525.5h1v1h-1zM350.3,520.6h1v1h-1zM346.6,533.0h1v1h-1zM356.2,530.0h1v1h-1zM347.5,536.2h1v1h-1zM351.6,534.9h1v1h-1zM332.8,521.2h1v1h-1zM352.5,524.9h1v1h-1zM340.4,521.6h1v1h-1zM359.2,519.0h1v1h-1zM345.7,518.6h1v1h-1zM342.9,540.5h1v1h-1zM368.5,522.6h1v1h-1zM334.7,537.4h1v1h-1zM336.2,516.9h1v1h-1zM348.0,520.3h1v1h-1zM330.4,534.6h1v1h-1zM337.5,521.1h1v1h-1zM346.3,525.8h1v1h-1zM355.6,526.9h1v1h-1zM360.2,532.8h1v1h-1zM362.1,532.6h1v1h-1zM345.3,530.2h1v1h-1zM344.9,517.7h1v1h-1zM333.1,532.1h1v1h-1zM321.5,523.5h1v1h-1zM332.1,527.4h1v1h-1zM334.5,529.1h1v1h-1zM342.7,524.3h1v1h-1zM336.4,514.3h1v1h-1zM345.4,519.2h1v1h-1zM341.8,529.4h1v1h-1zM354.9,530.6h1v1h-1zM359.1,517.6h1v1h-1zM351.3,536.0h1v1h-1zM348.5,520.1h1v1h-1zM348.5,523.7h1v1h-1zM338.3,533.7h1v1h-1zM342.9,520.4h1v1h-1zM338.0,539.1h1v1h-1zM336.4,531.5h1v1h-1zM346.4,533.9h1v1h-1zM341.9,521.5h1v1h-1zM338.4,521.3h1v1h-1zM370.0,526.6h1v1h-1zM341.5,534.7h1v1h-1zM351.1,525.5h1v1h-1zM350.7,528.2h1v1h-1zM355.7,536.2h1v1h-1zM341.6,527.0h1v1h-1zM342.9,534.4h1v1h-1zM348.4,531.4h1v1h-1zM353.5,522.7h1v1h-1zM345.9,535.2h1v1h-1zM353.7,531.3h1v1h-1zM341.9,525.0h1v1h-1zM336.3,525.9h1v1h-1zM344.0,518.5h1v1h-1zM356.0,521.7h1v1h-1zM347.1,530.4h1v1h-1zM339.3,516.5h1v1h-1zM354.1,528.9h1v1h-1zM342.2,533.9h1v1h-1zM353.4,520.8h1v1h-1zM343.9,516.5h1v1h-1zM342.1,535.6h1v1h-1zM336.5,532.4h1v1h-1zM329.9,526.2h1v1h-1zM353.9,536.7h1v1h-1zM349.1,531.2h1v1h-1zM361.5,511.4h1v1h-1zM328.0,539.3h1v1h-1zM368.7,529.1h1v1h-1zM345.3,528.5h1v1h-1zM344.9,523.3h1v1h-1zM344.5,526.3h1v1h-1zM351.2,530.7h1v1h-1zM354.2,529.9h1v1h-1zM335.2,535.9h1v1h-1zM318.6,529.3h1v1h-1zM347.9,523.6h1v1h-1zM362.9,519.4h1v1h-1zM333.3,524.7h1v1h-1zM348.7,531.5h1v1h-1zM345.7,530.9h1v1h-1zM337.8,523.8h1v1h-1zM345.9,518.9h1v1h-1zM346.5,524.5h1v1h-1zM351.3,520.6h1v1h-1zM339.5,523.9h1v1h-1zM341.1,521.3h1v1h-1zM342.1,519.1h1v1h-1zM349.9,530.7h1v1h-1zM344.5,525.9h1v1h-1zM336.0,521.8h1v1h-1zM342.5,521.7h1v1h-1zM333.2,528.7h1v1h-1zM344.5,524.6h1v1h-1zM336.8,527.2h1v1h-1zM337.9,524.9h1v1h-1zM346.5,531.2h1v1h-1zM352.0,522.9h1v1h-1zM356.4,519.4h1v1h-1zM343.0,534.9h1v1h-1zM367.7,526.3h1v1h-1zM341.2,525.0h1v1h-1zM332.9,526.9h1v1h-1zM340.6,522.8h1v1h-1zM356.3,521.6h1v1h-1zM361.1,531.0h1v1h-1zM350.9,523.1h1v1h-1zM339.7,515.4h1v1h-1zM347.3,525.2h1v1h-1zM348.4,522.8h1v1h-1zM349.4,517.8h1v1h-1zM323.5,531.2h1v1h-1zM355.1,507.6h1v1h-1zM357.1,524.2h1v1h-1zM343.1,517.9h1v1h-1zM335.0,531.8h1v1h-1zM337.5,527.2h1v1h-1zM343.2,539.0h1v1h-1zM353.3,518.6h1v1h-1zM340.0,520.5h1v1h-1zM331.2,523.8h1v1h-1zM355.3,526.6h1v1h-1zM351.2,525.8h1v1h-1zM340.6,527.7h1v1h-1zM343.9,538.5h1v1h-1zM362.0,528.2h1v1h-1zM350.5,514.8h1v1h-1zM343.5,541.3h1v1h-1zM336.9,532.3h1v1h-1zM356.4,523.9h1v1h-1zM342.5,524.4h1v1h-1zM352.3,526.7h1v1h-1zM359.2,533.2h1v1h-1zM344.5,542.5h1v1h-1zM341.7,523.6h1v1h-1zM342.4,521.9h1v1h-1zM340.6,526.8h1v1h-1zM353.2,517.0h1v1h-1zM331.1,523.2h1v1h-1zM341.7,529.9h1v1h-1zM337.0,536.5h1v1h-1zM339.5,526.0h1v1h-1zM345.2,534.0h1v1h-1zM347.5,527.0h1v1h-1zM339.4,528.3h1v1h-1zM348.5,524.7h1v1h-1zM344.4,516.0h1v1h-1zM339.5,534.4h1v1h-1zM358.3,525.7h1v1h-1zM323.8,539.2h1v1h-1zM343.0,542.4h1v1h-1zM340.7,533.2h1v1h-1zM338.7,535.6h1v1h-1zM355.8,519.9h1v1h-1zM357.1,543.3h1v1h-1zM342.5,519.9h1v1h-1zM347.3,524.4h1v1h-1zM330.2,521.6h1v1h-1zM347.0,517.8h1v1h-1zM355.0,529.0h1v1h-1zM342.9,535.5h1v1h-1zM335.7,531.7h1v1h-1zM331.6,525.9h1v1h-1zM350.8,523.4h1v1h-1zM343.5,531.0h1v1h-1zM359.3,533.9h1v1h-1zM349.0,525.2h1v1h-1zM330.7,538.1h1v1h-1zM362.7,513.0h1v1h-1zM353.0,526.2h1v1h-1zM351.4,528.5h1v1h-1zM342.7,527.1h1v1h-1zM344.2,534.0h1v1h-1zM342.1,523.9h1v1h-1zM350.9,530.5h1v1h-1zM348.8,528.4h1v1h-1zM358.8,532.8h1v1h-1zM346.6,525.6h1v1h-1zM351.0,515.4h1v1h-1zM339.6,523.1h1v1h-1zM346.3,524.6h1v1h-1zM368.3,529.9h1v1h-1zM348.5,540.2h1v1h-1zM344.6,525.1h1v1h-1zM356.5,531.2h1v1h-1zM353.5,533.7h1v1h-1zM341.1,523.3h1v1h-1zM337.7,528.0h1v1h-1zM354.2,520.1h1v1h-1zM339.5,519.3h1v1h-1zM363.8,530.6h1v1h-1zM346.7,519.6h1v1h-1zM334.7,523.7h1v1h-1zM344.9,519.4h1v1h-1zM342.4,534.5h1v1h-1zM344.7,527.6h1v1h-1zM324.5,526.6h1v1h-1zM343.2,522.9h1v1h-1zM331.3,527.4h1v1h-1zM334.8,524.3h1v1h-1zM329.3,527.4h1v1h-1zM353.3,521.4h1v1h-1zM347.7,517.7h1v1h-1zM350.2,529.9h1v1h-1zM340.9,532.5h1v1h-1zM336.2,527.8h1v1h-1zM360.8,525.9h1v1h-1zM333.8,534.6h1v1h-1zM349.7,525.0h1v1h-1zM327.1,516.8h1v1h-1zM330.0,536.8h1v1h-1zM347.4,521.7h1v1h-1zM355.7,535.1h1v1h-1zM317.0,527.2h1v1h-1zM301.5,526.0h1v1h-1zM368.1,506.9h1v1h-1zM334.3,515.2h1v1h-1zM331.4,522.9h1v1h-1zM338.6,531.6h1v1h-1zM343.0,533.2h1v1h-1zM352.7,533.8h1v1h-1zM320.2,526.4h1v1h-1zM326.0,513.0h1v1h-1zM370.8,525.1h1v1h-1zM334.1,499.4h1v1h-1zM328.7,530.3h1v1h-1zM329.3,516.2h1v1h-1zM361.5,518.7h1v1h-1zM326.8,520.9h1v1h-1zM328.6,533.3h1v1h-1zM344.1,521.3h1v1h-1zM326.3,519.6h1v1h-1zM365.6,518.7h1v1h-1zM345.7,505.1h1v1h-1zM339.4,529.4h1v1h-1zM357.6,525.4h1v1h-1zM344.3,525.5h1v1h-1zM353.6,544.0h1v1h-1zM337.0,513.3h1v1h-1zM344.6,520.8h1v1h-1zM345.4,530.3h1v1h-1zM336.1,517.3h1v1h-1zM339.1,508.6h1v1h-1zM338.4,512.5h1v1h-1zM341.8,523.3h1v1h-1zM329.0,509.1h1v1h-1zM334.2,514.7h1v1h-1zM330.5,529.5h1v1h-1zM351.4,508.2h1v1h-1zM351.1,536.6h1v1h-1zM354.8,525.0h1v1h-1zM331.5,540.7h1v1h-1zM327.1,505.6h1v1h-1zM334.9,525.1h1v1h-1zM313.4,508.9h1v1h-1zM371.1,523.2h1v1h-1zM348.1,515.7h1v1h-1zM304.2,520.1h1v1h-1zM358.9,514.8h1v1h-1zM298.9,520.1h1v1h-1zM327.8,522.2h1v1h-1zM313.2,518.7h1v1h-1zM322.8,531.5h1v1h-1zM336.1,531.4h1v1h-1zM332.2,499.1h1v1h-1zM295.8,527.7h1v1h-1zM350.0,531.4h1v1h-1zM331.8,502.8h1v1h-1zM323.8,526.3h1v1h-1zM359.6,518.3h1v1h-1zM322.5,513.7h1v1h-1zM352.7,531.3h1v1h-1zM298.3,535.0h1v1h-1zM315.6,506.2h1v1h-1zM302.7,514.2h1v1h-1zM377.6,549.4h1v1h-1zM309.4,514.8h1v1h-1zM336.2,526.5h1v1h-1zM324.1,505.0h1v1h-1zM325.3,514.7h1v1h-1zM298.9,523.6h1v1h-1zM305.2,503.4h1v1h-1zM362.2,532.1h1v1h-1zM360.9,523.3h1v1h-1zM325.3,521.1h1v1h-1zM307.1,530.0h1v1h-1zM338.4,518.7h1v1h-1zM297.4,520.8h1v1h-1zM364.4,537.6h1v1h-1zM350.0,518.2h1v1h-1zM335.9,528.0h1v1h-1zM337.0,533.3h1v1h-1zM320.5,497.1h1v1h-1zM286.8,512.2h1v1h-1zM306.8,529.1h1v1h-1zM353.8,522.0h1v1h-1zM343.5,522.8h1v1h-1zM336.6,516.9h1v1h-1zM325.5,534.8h1v1h-1zM328.1,521.6h1v1h-1zM356.1,532.6h1v1h-1zM325.7,524.7h1v1h-1zM313.9,523.4h1v1h-1zM339.3,522.0h1v1h-1zM336.3,525.9h1v1h-1zM334.7,516.7h1v1h-1zM314.8,519.5h1v1h-1zM364.0,519.6h1v1h-1zM320.8,516.8h1v1h-1zM310.5,527.2h1v1h-1zM314.4,531.8h1v1h-1zM350.6,528.2h1v1h-1zM353.1,521.1h1v1h-1zM299.5,521.3h1v1h-1zM345.5,505.4h1v1h-1zM309.8,533.8h1v1h-1zM341.6,536.5h1v1h-1zM346.0,522.7h1v1h-1zM341.5,531.1h1v1h-1zM332.7,519.7h1v1h-1zM339.3,518.6h1v1h-1zM379.4,513.8h1v1h-1zM304.2,508.1h1v1h-1zM353.3,517.6h1v1h-1zM336.3,519.7h1v1h-1zM338.6,506.4h1v1h-1zM334.9,515.8h1v1h-1zM354.1,528.7h1v1h-1zM309.1,511.6h1v1h-1zM344.2,534.9h1v1h-1zM348.0,520.4h1v1h-1zM354.6,496.6h1v1h-1zM323.0,511.5h1v1h-1zM313.4,528.1h1v1h-1zM338.6,525.1h1v1h-1zM330.7,528.7h1v1h-1zM348.3,515.8h1v1h-1zM351.3,512.0h1v1h-1zM367.2,508.0h1v1h-1zM327.7,510.4h1v1h-1zM334.0,536.2h1v1h-1zM318.8,541.1h1v1h-1zM360.4,526.2h1v1h-1zM321.9,531.7h1v1h-1zM351.8,521.6h1v1h-1zM381.2,514.7h1v1h-1zM307.6,519.7h1v1h-1zM344.4,540.4h1v1h-1zM299.3,523.7h1v1h-1zM357.7,514.8h1v1h-1zM324.5,508.9h1v1h-1zM348.1,530.9h1v1h-1zM344.7,524.7h1v1h-1zM352.4,520.7h1v1h-1zM347.1,530.8h1v1h-1zM358.4,527.5h1v1h-1zM334.9,529.6h1v1h-1zM303.3,503.0h1v1h-1zM364.6,523.5h1v1h-1zM312.9,515.7h1v1h-1zM330.4,522.8h1v1h-1zM318.5,532.7h1v1h-1zM300.2,552.3h1v1h-1zM312.3,539.9h1v1h-1zM346.2,503.8h1v1h-1zM309.5,522.7h1v1h-1zM338.5,517.4h1v1h-1zM333.5,523.8h1v1h-1zM311.1,522.7h1v1h-1zM377.4,515.0h1v1h-1zM313.6,529.2h1v1h-1zM359.4,533.3h1v1h-1zM321.0,521.2h1v1h-1zM337.2,519.7h1v1h-1zM341.0,533.7h1v1h-1zM343.9,521.9h1v1h-1zM329.3,541.4h1v1h-1zM309.3,543.7h1v1h-1zM347.6,523.0h1v1h-1zM318.7,541.9h1v1h-1zM357.0,531.9h1v1h-1zM374.0,502.6h1v1h-1zM335.2,518.7h1v1h-1zM319.0,522.8h1v1h-1zM343.8,527.7h1v1h-1zM330.6,507.7h1v1h-1zM344.2,528.6h1v1h-1zM374.8,532.1h1v1h-1zM333.6,509.6h1v1h-1zM386.6,514.7h1v1h-1zM337.1,530.1h1v1h-1zM343.1,536.4h1v1h-1zM313.0,514.5h1v1h-1zM336.7,508.6h1v1h-1zM321.2,537.0h1v1h-1zM339.1,520.9h1v1h-1zM322.1,522.5h1v1h-1zM332.6,510.3h1v1h-1zM348.8,508.1h1v1h-1zM358.5,518.3h1v1h-1zM288.3,505.2h1v1h-1zM338.9,512.6h1v1h-1zM368.9,537.0h1v1h-1zM374.7,531.7h1v1h-1zM359.9,515.4h1v1h-1zM358.9,517.3h1v1h-1zM332.3,507.2h1v1h-1zM334.4,526.4h1v1h-1zM332.0,510.0h1v1h-1zM351.1,531.9h1v1h-1zM331.5,530.5h1v1h-1zM352.8,511.3h1v1h-1zM332.6,501.7h1v1h-1zM312.8,526.7h1v1h-1zM315.9,526.3h1v1h-1zM340.4,499.5h1v1h-1zM323.6,538.6h1v1h-1zM333.5,523.4h1v1h-1zM319.3,504.5h1v1h-1zM301.7,553.4h1v1h-1zM329.6,512.5h1v1h-1zM335.5,500.8h1v1h-1zM361.0,540.7h1v1h-1zM318.3,525.5h1v1h-1zM315.4,531.4h1v1h-1zM316.5,520.4h1v1h-1zM359.2,527.7h1v1h-1zM326.8,505.4h1v1h-1zM301.6,535.2h1v1h-1zM343.5,522.6h1v1h-1zM358.3,523.6h1v1h-1zM318.8,520.9h1v1h-1zM331.3,521.9h1v1h-1zM382.9,528.3h1v1h-1zM338.7,519.3h1v1h-1zM319.7,511.1h1v1h-1zM295.8,517.0h1v1h-1zM303.0,501.7h1v1h-1zM314.5,499.8h1v1h-1zM360.7,535.7h1v1h-1zM313.9,544.4h1v1h-1zM346.4,494.3h1v1h-1zM333.7,511.1h1v1h-1zM298.5,519.1h1v1h-1zM356.3,526.9h1v1h-1zM304.0,514.7h1v1h-1zM318.1,534.6h1v1h-1zM331.3,511.3h1v1h-1zM315.0,500.4h1v1h-1zM316.3,531.8h1v1h-1zM295.0,524.1h1v1h-1zM330.9,531.0h1v1h-1zM310.3,532.0h1v1h-1zM364.3,547.2h1v1h-1zM300.6,521.7h1v1h-1zM329.0,523.4h1v1h-1zM313.4,531.4h1v1h-1zM380.2,538.6h1v1h-1zM314.1,515.7h1v1h-1zM347.8,523.5h1v1h-1zM317.9,535.6h1v1h-1zM343.6,533.3h1v1h-1zM329.7,536.1h1v1h-1zM323.8,509.7h1v1h-1zM333.0,506.6h1v1h-1zM358.3,530.1h1v1h-1zM299.4,523.9h1v1h-1zM350.2,518.1h1v1h-1zM341.5,515.6h1v1h-1zM331.8,521.1h1v1h-1zM342.9,511.3h1v1h-1zM310.5,525.6h1v1h-1zM322.9,527.7h1v1h-1zM323.0,507.6h1v1h-1zM348.0,524.9h1v1h-1zM347.8,518.3h1v1h-1zM325.9,535.9h1v1h-1zM299.2,541.2h1v1h-1zM343.5,521.4h1v1h-1zM334.9,528.7h1v1h-1zM317.6,525.1h1v1h-1zM313.9,501.6h1v1h-1zM337.2,523.1h1v1h-1zM346.1,528.1h1v1h-1zM347.2,530.7h1v1h-1zM311.9,535.4h1v1h-1zM386.9,515.8h1v1h-1zM307.8,529.6h1v1h-1zM351.5,533.2h1v1h-1zM364.0,506.7h1v1h-1zM340.7,527.1h1v1h-1zM358.2,512.2h1v1h-1zM333.6,517.9h1v1h-1zM329.8,520.4h1v1h-1zM330.0,502.5h1v1h-1zM332.3,522.7h1v1h-1zM325.3,482.8h1v1h-1zM319.1,514.8h1v1h-1zM315.6,539.7h1v1h-1zM351.7,520.0h1v1h-1zM345.2,558.3h1v1h-1zM313.6,527.2h1v1h-1zM321.0,538.4h1v1h-1zM355.4,520.6h1v1h-1zM345.4,513.2h1v1h-1zM301.2,531.3h1v1h-1zM366.0,518.6h1v1h-1zM322.5,502.2h1v1h-1zM376.3,508.8h1v1h-1zM313.6,519.9h1v1h-1zM357.4,522.6h1v1h-1zM332.7,522.2h1v1h-1zM350.1,521.6h1v1h-1zM336.2,521.2h1v1h-1zM310.7,536.8h1v1h-1zM319.1,507.4h1v1h-1zM324.3,522.4h1v1h-1zM349.6,505.8h1v1h-1zM307.6,524.0h1v1h-1zM340.8,509.9h1v1h-1zM310.2,523.9h1v1h-1zM330.2,504.1h1v1h-1zM315.4,538.4h1v1h-1zM311.8,533.6h1v1h-1zM302.2,538.4h1v1h-1zM365.3,515.0h1v1h-1zM319.3,528.9h1v1h-1zM308.1,528.1h1v1h-1zM357.5,524.9h1v1h-1zM339.6,520.3h1v1h-1zM353.2,513.0h1v1h-1zM365.0,521.7h1v1h-1zM326.5,504.0h1v1h-1zM324.2,524.6h1v1h-1zM358.1,504.2h1v1h-1zM330.5,514.4h1v1h-1zM309.0,522.1h1v1h-1zM317.8,531.6h1v1h-1zM294.8,500.5h1v1h-1zM343.5,518.3h1v1h-1zM335.6,511.3h1v1h-1zM311.9,513.9h1v1h-1zM331.9,512.7h1v1h-1zM324.6,512.5h1v1h-1zM337.7,509.4h1v1h-1zM291.2,493.0h1v1h-1zM332.6,523.1h1v1h-1zM352.3,513.8h1v1h-1zM310.1,505.5h1v1h-1zM348.3,515.1h1v1h-1zM352.8,521.1h1v1h-1zM327.5,501.5h1v1h-1zM319.4,530.7h1v1h-1zM320.8,529.5h1v1h-1zM300.0,533.2h1v1h-1zM388.9,534.3h1v1h-1zM339.5,508.4h1v1h-1zM322.4,514.8h1v1h-1zM336.7,499.7h1v1h-1zM315.7,530.7h1v1h-1zM336.0,530.2h1v1h-1zM350.2,509.4h1v1h-1zM306.0,527.1h1v1h-1zM333.7,522.9h1v1h-1zM316.7,533.2h1v1h-1zM343.0,534.6h1v1h-1zM325.9,529.6h1v1h-1zM331.8,511.6h1v1h-1zM331.4,503.7h1v1h-1zM329.4,524.0h1v1h-1zM314.8,515.3h1v1h-1zM341.8,529.7h1v1h-1zM294.3,519.8h1v1h-1zM329.8,514.0h1v1h-1zM303.4,527.1h1v1h-1zM294.7,519.3h1v1h-1zM323.3,545.1h1v1h-1zM301.0,536.5h1v1h-1zM311.5,529.3h1v1h-1zM303.1,542.6h1v1h-1zM313.0,525.3h1v1h-1zM301.7,539.2h1v1h-1zM296.7,519.4h1v1h-1zM301.1,522.0h1v1h-1zM322.7,532.3h1v1h-1zM303.8,521.7h1v1h-1zM324.9,533.3h1v1h-1zM334.3,538.9h1v1h-1zM302.0,521.4h1v1h-1zM301.0,530.2h1v1h-1zM316.1,533.9h1v1h-1zM327.1,509.7h1v1h-1zM305.4,510.9h1v1h-1zM290.5,520.8h1v1h-1zM295.9,516.3h1v1h-1zM300.5,539.6h1v1h-1zM289.5,500.1h1v1h-1zM296.6,538.6h1v1h-1zM297.2,532.8h1v1h-1zM289.9,544.8h1v1h-1zM311.1,540.6h1v1h-1zM301.1,543.4h1v1h-1zM306.0,522.1h1v1h-1zM296.0,528.7h1v1h-1zM292.2,513.6h1v1h-1zM306.8,536.5h1v1h-1zM300.9,538.1h1v1h-1zM327.3,512.7h1v1h-1zM308.6,516.4h1v1h-1zM296.0,530.1h1v1h-1zM316.8,534.5h1v1h-1zM314.1,549.8h1v1h-1zM299.9,541.2h1v1h-1zM325.3,533.9h1v1h-1zM300.9,508.5h1v1h-1zM304.1,537.1h1v1h-1zM301.4,525.8h1v1h-1zM325.6,520.6h1v1h-1zM291.8,528.5h1v1h-1zM320.7,535.1h1v1h-1zM306.0,522.1h1v1h-1zM322.3,538.6h1v1h-1zM313.6,520.4h1v1h-1zM286.9,524.4h1v1h-1zM297.8,506.7h1v1h-1zM304.7,542.2h1v1h-1zM287.2,523.7h1v1h-1zM330.5,530.2h1v1h-1zM297.2,530.3h1v1h-1zM315.9,515.9h1v1h-1zM303.6,508.3h1v1h-1zM316.8,531.7h1v1h-1zM315.3,542.6h1v1h-1zM305.6,530.8h1v1h-1zM310.7,533.6h1v1h-1zM290.1,524.7h1v1h-1zM302.9,528.4h1v1h-1zM294.5,526.4h1v1h-1zM309.0,530.2h1v1h-1zM313.3,537.9h1v1h-1zM312.8,539.6h1v1h-1zM316.8,544.7h1v1h-1zM313.8,520.5h1v1h-1zM337.7,541.6h1v1h-1zM322.5,536.8h1v1h-1zM305.7,514.2h1v1h-1zM311.1,523.7h1v1h-1zM299.4,502.3h1v1h-1zM326.7,513.9h1v1h-1zM289.6,533.6h1v1h-1zM313.0,518.5h1v1h-1zM304.9,531.0h1v1h-1zM307.2,534.3h1v1h-1zM315.9,523.6h1v1h-1zM299.6,516.1h1v1h-1zM315.5,535.0h1v1h-1zM296.3,556.3h1v1h-1zM304.5,531.7h1v1h-1zM374.4,575.3h1v1h-1zM374.4,571.4h1v1h-1zM371.2,584.1h1v1h-1zM361.4,585.4h1v1h-1zM362.9,577.1h1v1h-1zM377.0,573.8h1v1h-1zM370.4,572.1h1v1h-1zM372.5,576.2h1v1h-1zM370.1,572.0h1v1h-1zM373.7,578.0h1v1h-1zM378.1,576.8h1v1h-1zM379.9,578.7h1v1h-1zM360.2,587.4h1v1h-1zM372.5,573.0h1v1h-1zM375.0,579.5h1v1h-1zM366.0,574.6h1v1h-1zM376.1,573.6h1v1h-1zM379.6,575.2h1v1h-1zM370.5,572.7h1v1h-1zM375.7,569.4h1v1h-1zM367.1,574.0h1v1h-1zM380.7,580.2h1v1h-1zM372.0,575.6h1v1h-1zM376.2,580.2h1v1h-1zM369.3,586.1h1v1h-1zM372.1,581.2h1v1h-1zM362.3,580.3h1v1h-1zM369.8,585.1h1v1h-1zM372.0,572.4h1v1h-1zM381.8,571.0h1v1h-1zM373.0,572.1h1v1h-1zM376.1,576.3h1v1h-1zM371.7,575.7h1v1h-1zM370.4,575.0h1v1h-1zM366.6,583.4h1v1h-1zM377.0,570.1h1v1h-1zM367.7,580.1h1v1h-1zM383.2,572.3h1v1h-1zM371.6,576.3h1v1h-1zM374.1,575.7h1v1h-1zM377.9,578.6h1v1h-1zM375.5,581.6h1v1h-1zM371.9,575.0h1v1h-1zM386.4,564.8h1v1h-1zM365.9,570.5h1v1h-1zM374.6,572.2h1v1h-1zM377.8,567.3h1v1h-1zM372.4,575.5h1v1h-1zM368.1,582.5h1v1h-1zM371.2,579.0h1v1h-1zM370.6,578.1h1v1h-1zM371.0,577.7h1v1h-1zM372.5,574.4h1v1h-1zM375.0,575.3h1v1h-1zM368.6,574.4h1v1h-1zM375.0,580.9h1v1h-1zM367.1,577.3h1v1h-1zM375.0,579.8h1v1h-1zM376.2,571.2h1v1h-1zM373.2,579.9h1v1h-1zM374.1,575.5h1v1h-1zM367.7,579.2h1v1h-1zM372.7,576.9h1v1h-1zM379.8,578.7h1v1h-1zM369.4,578.8h1v1h-1zM371.6,577.6h1v1h-1zM380.4,577.4h1v1h-1zM373.2,574.2h1v1h-1zM372.3,578.3h1v1h-1zM370.7,581.6h1v1h-1zM373.1,572.3h1v1h-1zM382.2,562.7h1v1h-1zM371.8,576.7h1v1h-1zM377.5,579.2h1v1h-1zM379.6,580.1h1v1h-1zM374.4,576.6h1v1h-1zM377.6,575.0h1v1h-1zM367.3,577.1h1v1h-1zM376.0,577.9h1v1h-1zM368.0,582.9h1v1h-1zM374.4,570.7h1v1h-1zM375.1,579.6h1v1h-1zM375.4,574.7h1v1h-1zM369.4,582.1h1v1h-1zM374.0,576.3h1v1h-1zM371.2,573.5h1v1h-1zM364.5,578.4h1v1h-1zM378.0,577.7h1v1h-1zM369.9,583.4h1v1h-1zM372.0,573.4h1v1h-1zM377.4,580.2h1v1h-1zM371.2,572.8h1v1h-1zM372.7,567.9h1v1h-1zM373.2,582.2h1v1h-1zM374.2,573.6h1v1h-1zM376.2,573.7h1v1h-1zM378.7,573.3h1v1h-1zM382.2,572.1h1v1h-1zM373.9,572.9h1v1h-1zM367.2,580.0h1v1h-1zM374.6,572.6h1v1h-1zM375.5,574.3h1v1h-1zM370.5,577.3h1v1h-1zM374.8,578.7h1v1h-1zM378.6,576.1h1v1h-1zM369.7,575.3h1v1h-1zM374.7,571.7h1v1h-1zM372.2,575.6h1v1h-1zM372.6,577.5h1v1h-1zM377.7,581.1h1v1h-1zM377.0,579.0h1v1h-1zM368.2,582.2h1v1h-1zM378.9,569.6h1v1h-1zM384.4,570.6h1v1h-1zM362.2,587.0h1v1h-1zM373.3,573.6h1v1h-1zM370.4,581.6h1v1h-1zM374.2,574.9h1v1h-1zM378.2,571.4h1v1h-1zM369.2,576.0h1v1h-1zM369.6,580.4h1v1h-1zM372.0,573.2h1v1h-1zM370.9,570.1h1v1h-1zM373.7,576.8h1v1h-1zM375.8,574.9h1v1h-1zM374.8,572.6h1v1h-1zM373.1,577.2h1v1h-1zM367.5,580.8h1v1h-1zM373.6,576.7h1v1h-1zM370.8,584.8h1v1h-1zM373.0,573.9h1v1h-1zM369.2,580.2h1v1h-1zM372.1,574.1h1v1h-1zM369.7,581.3h1v1h-1zM373.4,580.4h1v1h-1zM372.9,572.4h1v1h-1zM376.9,576.5h1v1h-1zM370.0,576.6h1v1h-1zM368.6,581.3h1v1h-1zM371.1,579.1h1v1h-1zM374.2,575.3h1v1h-1zM374.7,575.2h1v1h-1zM367.7,577.1h1v1h-1zM367.7,581.4h1v1h-1zM375.9,573.5h1v1h-1zM375.8,576.6h1v1h-1zM377.4,571.7h1v1h-1zM373.1,573.0h1v1h-1zM369.9,582.8h1v1h-1zM363.9,576.6h1v1h-1zM375.2,578.8h1v1h-1zM369.5,570.5h1v1h-1zM365.3,580.8h1v1h-1zM378.0,578.3h1v1h-1zM369.7,582.8h1v1h-1zM372.2,579.3h1v1h-1zM372.1,582.8h1v1h-1zM370.7,569.7h1v1h-1zM371.6,577.9h1v1h-1zM374.2,573.6h1v1h-1zM372.0,572.9h1v1h-1zM371.9,577.4h1v1h-1zM374.1,582.3h1v1h-1zM364.0,581.8h1v1h-1zM374.9,571.8h1v1h-1zM373.3,576.6h1v1h-1zM368.5,580.9h1v1h-1zM381.6,576.1h1v1h-1zM376.5,579.4h1v1h-1zM372.4,580.5h1v1h-1zM369.4,578.6h1v1h-1zM376.2,580.4h1v1h-1zM371.7,576.1h1v1h-1zM375.1,575.7h1v1h-1zM373.6,579.4h1v1h-1zM369.6,581.1h1v1h-1zM374.7,575.1h1v1h-1zM367.4,576.4h1v1h-1zM372.8,580.2h1v1h-1zM364.2,582.4h1v1h-1zM373.9,572.3h1v1h-1zM376.8,576.8h1v1h-1zM375.0,572.4h1v1h-1zM368.0,581.8h1v1h-1zM379.3,575.8h1v1h-1zM372.1,575.4h1v1h-1zM365.3,583.0h1v1h-1zM372.6,581.3h1v1h-1zM369.8,581.7h1v1h-1zM369.8,580.0h1v1h-1zM379.2,571.9h1v1h-1zM377.1,575.2h1v1h-1zM368.8,578.9h1v1h-1zM375.9,573.1h1v1h-1zM371.8,575.1h1v1h-1zM369.6,577.2h1v1h-1zM376.7,573.6h1v1h-1zM378.6,573.3h1v1h-1zM369.9,581.7h1v1h-1zM379.3,572.1h1v1h-1zM375.6,571.5h1v1h-1zM371.2,576.0h1v1h-1zM376.2,571.0h1v1h-1zM370.7,575.0h1v1h-1zM373.4,572.1h1v1h-1zM367.0,589.1h1v1h-1zM374.0,570.9h1v1h-1zM376.7,570.6h1v1h-1zM364.6,585.7h1v1h-1zM378.6,571.7h1v1h-1zM368.1,580.1h1v1h-1zM382.1,575.7h1v1h-1zM375.9,571.3h1v1h-1zM365.1,580.9h1v1h-1zM377.5,575.6h1v1h-1zM373.0,581.7h1v1h-1zM369.3,582.0h1v1h-1zM376.7,573.1h1v1h-1zM373.5,576.9h1v1h-1zM375.6,572.2h1v1h-1zM372.0,577.4h1v1h-1zM373.1,576.7h1v1h-1zM374.1,575.6h1v1h-1zM370.8,581.2h1v1h-1zM370.1,576.6h1v1h-1zM369.1,573.9h1v1h-1zM375.0,575.8h1v1h-1zM372.4,578.5h1v1h-1zM372.2,579.4h1v1h-1zM381.0,575.1h1v1h-1zM371.8,583.1h1v1h-1zM376.1,569.6h1v1h-1zM378.9,575.4h1v1h-1zM376.8,571.2h1v1h-1zM369.2,575.7h1v1h-1zM375.4,571.8h1v1h-1zM369.9,581.3h1v1h-1zM370.1,578.1h1v1h-1zM369.0,572.0h1v1h-1zM372.6,576.4h1v1h-1zM366.7,582.5h1v1h-1zM376.6,578.6h1v1h-1zM370.7,573.4h1v1h-1zM372.6,577.4h1v1h-1zM372.2,574.9h1v1h-1zM368.6,575.6h1v1h-1zM372.6,575.1h1v1h-1zM380.4,573.1h1v1h-1zM375.0,574.3h1v1h-1zM372.2,573.5h1v1h-1zM370.9,572.1h1v1h-1zM363.8,584.8h1v1h-1zM368.3,579.9h1v1h-1zM372.4,574.8h1v1h-1zM376.2,573.6h1v1h-1zM374.9,574.7h1v1h-1zM377.3,578.6h1v1h-1zM373.3,580.5h1v1h-1zM375.2,581.5h1v1h-1zM372.5,571.3h1v1h-1zM373.9,577.2h1v1h-1zM371.4,576.5h1v1h-1zM371.8,572.6h1v1h-1zM380.6,571.2h1v1h-1zM368.3,572.7h1v1h-1zM369.3,577.9h1v1h-1zM379.5,576.5h1v1h-1zM369.8,573.4h1v1h-1zM368.1,578.2h1v1h-1zM376.8,573.6h1v1h-1zM380.1,581.1h1v1h-1zM373.7,568.7h1v1h-1zM377.8,574.6h1v1h-1zM375.9,579.2h1v1h-1zM368.6,578.5h1v1h-1zM373.8,573.7h1v1h-1zM376.1,575.1h1v1h-1zM371.2,584.1h1v1h-1zM373.7,582.3h1v1h-1zM372.3,580.7h1v1h-1zM369.7,578.4h1v1h-1zM377.8,567.2h1v1h-1zM375.4,574.9h1v1h-1zM377.8,575.6h1v1h-1zM372.7,572.2h1v1h-1zM385.9,569.4h1v1h-1zM371.6,574.6h1v1h-1zM371.7,578.0h1v1h-1zM367.1,582.6h1v1h-1zM371.8,579.3h1v1h-1zM363.7,578.1h1v1h-1zM371.7,575.8h1v1h-1zM370.0,578.9h1v1h-1zM374.8,572.5h1v1h-1zM364.4,582.4h1v1h-1zM371.6,581.0h1v1h-1zM376.8,575.0h1v1h-1zM366.7,577.6h1v1h-1zM369.8,582.3h1v1h-1zM365.5,582.6h1v1h-1zM381.5,559.4h1v1h-1zM382.1,558.7h1v1h-1zM386.8,561.0h1v1h-1zM386.1,562.4h1v1h-1zM397.5,556.8h1v1h-1zM383.3,560.2h1v1h-1zM388.5,557.9h1v1h-1zM394.6,561.3h1v1h-1zM398.8,557.7h1v1h-1zM376.0,562.7h1v1h-1zM392.2,555.1h1v1h-1zM386.0,563.2h1v1h-1zM389.7,554.7h1v1h-1zM386.1,548.8h1v1h-1zM389.0,554.6h1v1h-1zM388.7,554.8h1v1h-1zM384.4,558.6h1v1h-1zM402.6,550.4h1v1h-1zM383.2,558.9h1v1h-1zM394.1,560.2h1v1h-1zM392.4,556.7h1v1h-1zM389.6,556.0h1v1h-1zM388.1,556.4h1v1h-1zM381.9,557.7h1v1h-1zM398.4,557.4h1v1h-1zM385.3,559.8h1v1h-1zM386.8,564.1h1v1h-1zM388.8,556.8h1v1h-1zM392.3,559.1h1v1h-1zM385.6,557.3h1v1h-1zM389.7,552.9h1v1h-1zM384.5,564.1h1v1h-1zM393.2,561.7h1v1h-1zM386.8,557.6h1v1h-1zM387.6,557.7h1v1h-1zM395.2,556.2h1v1h-1zM395.6,554.3h1v1h-1zM390.8,564.2h1v1h-1zM385.3,557.8h1v1h-1zM386.0,554.1h1v1h-1zM387.5,557.2h1v1h-1zM399.7,553.8h1v1h-1zM378.5,565.7h1v1h-1zM393.6,557.4h1v1h-1zM390.4,561.1h1v1h-1zM386.2,560.0h1v1h-1zM389.6,564.7h1v1h-1zM395.8,557.4h1v1h-1zM382.4,564.3h1v1h-1zM388.7,563.3h1v1h-1zM389.2,559.6h1v1h-1zM392.1,555.4h1v1h-1zM385.7,568.3h1v1h-1zM384.7,563.7h1v1h-1zM392.3,560.9h1v1h-1zM395.6,552.1h1v1h-1zM393.6,550.1h1v1h-1zM389.2,560.1h1v1h-1zM394.0,561.3h1v1h-1zM384.4,559.5h1v1h-1zM388.2,556.8h1v1h-1zM385.0,557.9h1v1h-1zM394.5,562.1h1v1h-1zM392.6,563.9h1v1h-1zM389.4,555.0h1v1h-1zM385.8,560.8h1v1h-1zM393.9,561.8h1v1h-1zM384.6,563.8h1v1h-1zM386.3,562.0h1v1h-1zM393.4,562.9h1v1h-1zM386.4,560.7h1v1h-1zM391.0,556.8h1v1h-1zM389.4,561.0h1v1h-1zM380.9,559.3h1v1h-1zM400.2,557.0h1v1h-1zM386.2,553.3h1v1h-1zM384.3,562.4h1v1h-1zM392.2,559.6h1v1h-1zM391.8,555.9h1v1h-1zM396.7,552.5h1v1h-1zM391.4,557.3h1v1h-1zM380.6,564.9h1v1h-1zM387.6,562.0h1v1h-1zM395.1,557.6h1v1h-1zM385.7,559.3h1v1h-1zM388.6,564.3h1v1h-1zM393.1,563.4h1v1h-1zM392.6,555.1h1v1h-1zM393.4,561.1h1v1h-1zM388.3,560.9h1v1h-1zM387.4,555.0h1v1h-1zM388.5,561.9h1v1h-1zM387.2,551.5h1v1h-1zM385.0,564.2h1v1h-1zM390.0,562.7h1v1h-1zM385.3,558.7h1v1h-1zM384.1,557.8h1v1h-1zM391.4,558.7h1v1h-1zM386.6,560.8h1v1h-1zM382.6,559.6h1v1h-1zM381.6,556.0h1v1h-1zM382.3,557.2h1v1h-1zM396.6,561.5h1v1h-1zM395.0,555.0h1v1h-1zM392.0,554.0h1v1h-1zM386.3,560.7h1v1h-1zM381.2,562.2h1v1h-1zM391.9,550.6h1v1h-1zM377.0,561.8h1v1h-1zM388.3,559.7h1v1h-1zM383.4,562.8h1v1h-1zM389.5,556.2h1v1h-1zM396.9,557.4h1v1h-1zM392.5,564.6h1v1h-1zM386.5,559.0h1v1h-1zM380.5,560.9h1v1h-1zM391.1,567.4h1v1h-1zM391.7,558.9h1v1h-1zM382.8,557.9h1v1h-1zM379.9,556.9h1v1h-1zM389.5,559.9h1v1h-1zM384.5,559.7h1v1h-1zM385.0,562.5h1v1h-1zM392.0,556.0h1v1h-1zM386.7,555.3h1v1h-1zM386.6,567.6h1v1h-1zM388.9,562.1h1v1h-1zM391.7,563.5h1v1h-1zM387.3,556.3h1v1h-1zM394.0,560.7h1v1h-1zM385.7,564.0h1v1h-1zM388.9,558.9h1v1h-1zM397.9,558.1h1v1h-1zM390.4,557.4h1v1h-1zM389.9,562.5h1v1h-1zM391.1,555.6h1v1h-1zM391.1,557.9h1v1h-1zM390.4,557.8h1v1h-1zM378.3,556.6h1v1h-1zM387.0,551.6h1v1h-1zM381.6,568.7h1v1h-1zM392.3,556.3h1v1h-1zM390.5,550.4h1v1h-1zM390.1,562.2h1v1h-1zM389.8,554.0h1v1h-1zM393.6,555.6h1v1h-1zM386.1,560.6h1v1h-1zM387.4,566.9h1v1h-1zM388.2,567.0h1v1h-1zM391.1,553.8h1v1h-1zM388.9,559.2h1v1h-1zM395.9,561.4h1v1h-1zM401.4,552.6h1v1h-1zM386.8,568.2h1v1h-1zM384.5,561.7h1v1h-1zM396.8,552.8h1v1h-1zM387.2,556.9h1v1h-1zM391.5,559.7h1v1h-1zM388.7,561.5h1v1h-1zM385.1,558.9h1v1h-1zM391.2,565.6h1v1h-1zM388.7,559.3h1v1h-1zM395.3,557.3h1v1h-1zM395.3,557.9h1v1h-1zM394.6,557.9h1v1h-1zM384.4,557.4h1v1h-1zM391.0,565.2h1v1h-1zM398.0,555.0h1v1h-1zM401.1,551.1h1v1h-1zM384.8,563.7h1v1h-1zM381.5,564.7h1v1h-1zM390.8,560.7h1v1h-1zM383.0,562.3h1v1h-1zM393.5,557.4h1v1h-1zM394.0,557.5h1v1h-1zM390.6,557.3h1v1h-1zM382.3,560.6h1v1h-1zM391.4,555.5h1v1h-1zM379.4,556.4h1v1h-1zM395.4,556.1h1v1h-1zM385.2,564.7h1v1h-1zM388.1,553.8h1v1h-1zM386.8,556.5h1v1h-1zM388.0,556.0h1v1h-1zM389.3,560.6h1v1h-1zM386.1,559.2h1v1h-1zM388.2,562.3h1v1h-1zM385.4,562.9h1v1h-1zM395.0,556.4h1v1h-1zM384.2,559.4h1v1h-1zM380.2,559.8h1v1h-1zM383.1,560.3h1v1h-1zM387.1,561.5h1v1h-1zM389.5,560.4h1v1h-1zM388.7,560.1h1v1h-1zM383.4,563.2h1v1h-1zM395.3,561.0h1v1h-1zM382.3,562.7h1v1h-1zM380.9,564.3h1v1h-1zM387.9,557.7h1v1h-1zM385.3,559.3h1v1h-1zM388.9,555.5h1v1h-1zM389.2,559.9h1v1h-1zM391.5,558.0h1v1h-1zM388.9,567.5h1v1h-1zM393.9,558.6h1v1h-1zM382.1,563.5h1v1h-1zM391.7,548.4h1v1h-1zM388.1,560.7h1v1h-1zM389.1,559.3h1v1h-1zM388.2,564.3h1v1h-1zM390.8,557.4h1v1h-1zM387.8,567.0h1v1h-1zM384.7,558.5h1v1h-1zM390.5,559.1h1v1h-1zM390.4,563.5h1v1h-1zM394.5,558.8h1v1h-1zM389.1,558.7h1v1h-1zM387.8,563.1h1v1h-1zM382.7,557.2h1v1h-1zM386.7,556.2h1v1h-1zM385.3,564.6h1v1h-1zM377.9,564.7h1v1h-1zM382.5,560.2h1v1h-1zM386.1,556.3h1v1h-1zM381.6,561.6h1v1h-1zM374.4,555.9h1v1h-1zM387.0,563.7h1v1h-1zM398.1,555.0h1v1h-1zM385.0,559.2h1v1h-1zM391.2,561.7h1v1h-1zM384.2,562.3h1v1h-1zM388.8,563.3h1v1h-1zM386.9,558.9h1v1h-1zM384.7,555.5h1v1h-1zM390.3,561.2h1v1h-1zM394.5,558.2h1v1h-1zM386.7,556.4h1v1h-1zM383.2,558.2h1v1h-1zM390.6,558.8h1v1h-1zM377.6,562.3h1v1h-1zM387.5,555.6h1v1h-1zM388.8,561.0h1v1h-1zM383.8,555.7h1v1h-1zM387.3,560.5h1v1h-1zM387.7,565.1h1v1h-1zM389.7,555.1h1v1h-1zM392.8,555.4h1v1h-1zM392.3,558.3h1v1h-1zM395.0,553.4h1v1h-1zM392.5,559.4h1v1h-1zM384.5,563.0h1v1h-1zM400.1,556.7h1v1h-1zM385.2,559.7h1v1h-1zM395.4,557.9h1v1h-1zM396.3,554.3h1v1h-1zM395.4,551.2h1v1h-1zM388.1,558.2h1v1h-1zM386.5,564.3h1v1h-1zM386.0,561.3h1v1h-1zM395.6,563.7h1v1h-1zM377.6,564.7h1v1h-1zM365.1,583.0h1v1h-1zM388.0,571.6h1v1h-1zM382.8,583.9h1v1h-1zM387.1,545.0h1v1h-1zM373.9,579.7h1v1h-1zM377.8,577.1h1v1h-1zM401.3,546.7h1v1h-1zM398.5,554.3h1v1h-1zM369.3,577.6h1v1h-1zM388.1,558.0h1v1h-1zM393.5,551.7h1v1h-1zM379.4,576.6h1v1h-1zM379.3,564.9h1v1h-1zM380.8,573.4h1v1h-1zM394.7,568.6h1v1h-1zM395.8,556.7h1v1h-1zM367.8,577.6h1v1h-1zM377.7,562.5h1v1h-1zM376.9,570.6h1v1h-1zM381.4,575.1h1v1h-1zM373.7,582.7h1v1h-1zM381.3,573.7h1v1h-1zM390.8,550.7h1v1h-1zM393.7,552.8h1v1h-1zM384.1,574.4h1v1h-1zM388.3,550.0h1v1h-1zM382.3,576.2h1v1h-1zM380.0,568.1h1v1h-1zM381.5,580.8h1v1h-1zM376.6,563.7h1v1h-1zM372.2,570.4h1v1h-1zM379.1,572.2h1v1h-1zM380.3,554.8h1v1h-1zM368.4,582.9h1v1h-1zM386.7,552.8h1v1h-1zM388.4,543.0h1v1h-1zM399.5,558.9h1v1h-1zM367.7,582.0h1v1h-1zM380.7,564.6h1v1h-1zM378.0,568.4h1v1h-1zM380.2,561.4h1v1h-1zM376.4,575.9h1v1h-1zM385.2,554.2h1v1h-1zM377.1,583.5h1v1h-1zM386.7,577.0h1v1h-1zM370.2,567.8h1v1h-1zM363.6,565.5h1v1h-1zM378.0,561.9h1v1h-1zM372.3,569.0h1v1h-1zM379.5,575.8h1v1h-1zM385.5,550.6h1v1h-1zM392.9,556.4h1v1h-1zM373.0,573.8h1v1h-1zM377.8,559.3h1v1h-1zM393.4,554.0h1v1h-1zM376.2,575.9h1v1h-1zM394.4,561.8h1v1h-1zM373.8,576.9h1v1h-1zM389.8,564.4h1v1h-1zM386.2,560.3h1v1h-1zM380.4,554.9h1v1h-1zM375.2,563.2h1v1h-1zM381.0,580.0h1v1h-1zM363.0,570.9h1v1h-1zM373.5,572.9h1v1h-1zM390.3,554.8h1v1h-1zM374.7,582.5h1v1h-1zM384.0,570.0h1v1h-1zM387.7,557.1h1v1h-1zM382.8,561.4h1v1h-1zM375.2,573.4h1v1h-1zM384.5,555.2h1v1h-1zM374.8,577.5h1v1h-1zM382.3,572.3h1v1h-1zM378.5,563.5h1v1h-1zM387.3,568.1h1v1h-1zM358.2,592.0h1v1h-1zM374.9,577.9h1v1h-1zM393.6,556.3h1v1h-1zM373.2,575.9h1v1h-1zM381.7,572.0h1v1h-1zM369.7,578.4h1v1h-1zM388.2,568.2h1v1h-1zM386.0,573.8h1v1h-1zM374.4,582.8h1v1h-1zM382.7,558.8h1v1h-1zM378.6,572.0h1v1h-1zM383.7,576.8h1v1h-1zM382.5,562.8h1v1h-1zM398.5,552.2h1v1h-1zM374.4,580.4h1v1h-1zM377.7,564.2h1v1h-1zM372.5,583.9h1v1h-1zM372.5,575.2h1v1h-1zM377.3,569.2h1v1h-1zM374.4,574.2h1v1h-1zM385.8,572.8h1v1h-1zM378.1,560.8h1v1h-1zM369.1,577.0h1v1h-1zM361.1,593.7h1v1h-1zM381.2,568.8h1v1h-1zM369.8,571.3h1v1h-1zM375.0,577.9h1v1h-1zM377.7,575.4h1v1h-1zM385.1,549.5h1v1h-1zM379.1,579.6h1v1h-1zM376.9,572.2h1v1h-1zM380.0,559.0h1v1h-1zM398.5,553.8h1v1h-1zM386.1,560.6h1v1h-1zM392.3,568.8h1v1h-1zM390.5,568.6h1v1h-1zM386.6,574.9h1v1h-1zM384.2,566.7h1v1h-1zM387.5,556.0h1v1h-1zM360.6,589.8h1v1h-1zM382.2,561.5h1v1h-1zM378.8,562.0h1v1h-1zM374.2,574.6h1v1h-1zM382.0,574.0h1v1h-1zM380.3,573.7h1v1h-1zM386.5,558.3h1v1h-1zM367.4,572.7h1v1h-1zM379.0,565.3h1v1h-1zM398.7,549.3h1v1h-1zM384.8,559.1h1v1h-1zM386.5,553.8h1v1h-1zM388.6,563.8h1v1h-1zM377.8,560.9h1v1h-1zM394.4,553.4h1v1h-1zM392.6,540.1h1v1h-1zM371.4,589.8h1v1h-1zM395.3,557.5h1v1h-1zM389.0,566.9h1v1h-1zM378.1,571.3h1v1h-1zM371.8,564.3h1v1h-1zM382.0,573.2h1v1h-1zM382.3,557.3h1v1h-1zM387.8,563.7h1v1h-1zM387.0,561.2h1v1h-1zM378.9,578.1h1v1h-1zM392.0,550.2h1v1h-1zM372.1,582.5h1v1h-1zM383.9,566.3h1v1h-1zM373.1,582.1h1v1h-1zM382.5,568.7h1v1h-1zM384.1,561.6h1v1h-1zM384.2,566.7h1v1h-1zM386.8,566.8h1v1h-1zM370.7,570.2h1v1h-1zM378.8,579.0h1v1h-1zM375.8,581.1h1v1h-1zM389.7,568.6h1v1h-1zM399.1,554.5h1v1h-1zM383.6,575.9h1v1h-1zM384.3,573.6h1v1h-1zM380.0,580.2h1v1h-1zM383.8,550.7h1v1h-1zM389.7,560.0h1v1h-1zM373.9,571.0h1v1h-1zM378.7,579.0h1v1h-1zM383.7,565.5h1v1h-1zM380.9,561.0h1v1h-1zM375.9,568.2h1v1h-1zM379.2,560.2h1v1h-1zM377.8,578.5h1v1h-1zM384.6,565.4h1v1h-1zM383.8,564.1h1v1h-1zM371.5,582.3h1v1h-1zM399.0,558.7h1v1h-1zM386.5,583.6h1v1h-1zM371.3,579.6h1v1h-1zM378.3,568.0h1v1h-1zM367.7,577.5h1v1h-1zM384.2,553.0h1v1h-1zM379.2,565.5h1v1h-1zM373.0,579.2h1v1h-1zM394.2,561.5h1v1h-1zM389.3,568.0h1v1h-1zM380.5,573.1h1v1h-1zM391.6,556.8h1v1h-1zM379.8,558.0h1v1h-1zM366.1,572.8h1v1h-1zM388.2,565.6h1v1h-1zM383.1,577.0h1v1h-1zM366.8,589.7h1v1h-1zM381.7,573.8h1v1h-1zM392.1,553.3h1v1h-1zM374.0,576.6h1v1h-1zM380.5,563.8h1v1h-1zM380.0,563.1h1v1h-1zM382.1,564.2h1v1h-1zM394.7,549.6h1v1h-1zM385.7,565.2h1v1h-1zM393.7,550.9h1v1h-1zM377.3,584.7h1v1h-1zM375.7,569.1h1v1h-1zM377.8,562.7h1v1h-1zM390.8,572.8h1v1h-1zM379.8,563.1h1v1h-1zM370.1,581.5h1v1h-1zM376.7,575.7h1v1h-1zM361.7,579.3h1v1h-1zM386.0,567.6h1v1h-1zM358.0,587.7h1v1h-1zM382.0,567.2h1v1h-1zM378.3,566.7h1v1h-1zM382.2,571.3h1v1h-1zM355.6,587.1h1v1h-1zM388.5,560.8h1v1h-1zM390.8,553.3h1v1h-1zM396.4,564.2h1v1h-1zM377.7,592.4h1v1h-1zM392.6,572.0h1v1h-1zM371.4,574.4h1v1h-1zM384.8,573.6h1v1h-1zM381.6,557.4h1v1h-1zM390.8,559.4h1v1h-1zM384.5,562.9h1v1h-1zM380.1,557.9h1v1h-1zM386.4,559.1h1v1h-1zM366.7,582.1h1v1h-1zM380.7,575.9h1v1h-1zM387.6,553.6h1v1h-1zM379.6,569.2h1v1h-1zM381.7,559.2h1v1h-1zM381.6,575.4h1v1h-1zM391.0,572.2h1v1h-1zM387.1,543.6h1v1h-1zM378.8,565.4h1v1h-1zM357.7,597.8h1v1h-1zM388.3,562.6h1v1h-1zM383.9,569.8h1v1h-1zM379.3,580.3h1v1h-1zM395.7,563.6h1v1h-1zM376.5,573.4h1v1h-1zM388.9,567.9h1v1h-1zM375.5,579.8h1v1h-1zM391.8,567.9h1v1h-1zM378.0,568.6h1v1h-1zM360.0,578.3h1v1h-1zM377.7,565.7h1v1h-1zM379.6,564.4h1v1h-1zM384.0,566.6h1v1h-1zM375.6,568.7h1v1h-1zM381.9,572.2h1v1h-1zM388.3,559.3h1v1h-1zM373.1,553.2h1v1h-1zM367.9,578.8h1v1h-1zM371.9,590.0h1v1h-1zM381.1,562.9h1v1h-1zM381.1,561.1h1v1h-1zM375.4,571.0h1v1h-1zM365.6,577.1h1v1h-1zM381.9,556.7h1v1h-1zM395.4,563.5h1v1h-1zM396.1,551.6h1v1h-1zM368.0,561.0h1v1h-1zM364.1,555.3h1v1h-1zM401.9,550.6h1v1h-1zM385.3,558.9h1v1h-1zM381.3,584.6h1v1h-1zM362.1,566.5h1v1h-1zM384.6,555.1h1v1h-1zM391.3,576.0h1v1h-1zM393.8,568.6h1v1h-1zM381.0,578.3h1v1h-1zM373.4,558.1h1v1h-1zM379.9,565.0h1v1h-1zM397.7,547.1h1v1h-1zM396.8,550.0h1v1h-1zM367.8,555.5h1v1h-1zM382.6,550.3h1v1h-1zM385.6,565.2h1v1h-1zM378.2,547.3h1v1h-1zM376.8,574.4h1v1h-1zM361.5,585.4h1v1h-1zM383.2,559.9h1v1h-1zM385.5,572.0h1v1h-1zM382.7,557.6h1v1h-1zM392.5,553.4h1v1h-1zM387.4,574.6h1v1h-1zM398.7,575.3h1v1h-1zM395.3,561.0h1v1h-1zM380.6,569.5h1v1h-1zM389.3,595.9h1v1h-1zM390.9,552.6h1v1h-1zM401.3,538.5h1v1h-1zM395.1,545.3h1v1h-1zM369.9,567.6h1v1h-1zM379.6,552.9h1v1h-1zM390.5,560.8h1v1h-1zM399.2,546.0h1v1h-1zM361.2,585.5h1v1h-1zM380.3,578.4h1v1h-1zM354.9,567.4h1v1h-1zM384.1,587.2h1v1h-1zM368.2,552.9h1v1h-1zM377.5,584.8h1v1h-1zM402.0,540.6h1v1h-1zM375.7,549.6h1v1h-1zM372.9,560.8h1v1h-1zM388.1,575.9h1v1h-1zM411.7,546.5h1v1h-1zM392.9,563.2h1v1h-1zM384.5,586.8h1v1h-1zM391.5,578.9h1v1h-1zM386.6,573.7h1v1h-1zM389.1,561.7h1v1h-1zM374.6,566.1h1v1h-1zM383.2,561.7h1v1h-1zM378.9,560.4h1v1h-1zM393.3,557.7h1v1h-1zM381.6,564.4h1v1h-1zM398.8,551.5h1v1h-1zM400.0,547.3h1v1h-1zM401.4,562.9h1v1h-1zM377.1,574.3h1v1h-1zM396.7,548.0h1v1h-1zM380.3,571.0h1v1h-1zM380.5,564.2h1v1h-1zM383.3,569.4h1v1h-1zM392.4,577.4h1v1h-1zM379.1,600.8h1v1h-1zM379.1,588.0h1v1h-1zM381.5,550.7h1v1h-1zM377.8,565.0h1v1h-1zM395.9,536.6h1v1h-1zM375.4,568.7h1v1h-1zM390.9,566.2h1v1h-1zM393.3,558.7h1v1h-1zM380.2,581.0h1v1h-1zM403.7,559.1h1v1h-1zM384.9,555.5h1v1h-1zM408.3,556.8h1v1h-1zM390.5,544.2h1v1h-1zM390.3,589.2h1v1h-1zM381.1,564.8h1v1h-1zM401.5,554.0h1v1h-1zM393.2,582.2h1v1h-1zM369.0,564.4h1v1h-1zM391.2,562.9h1v1h-1zM383.5,563.9h1v1h-1zM384.6,569.2h1v1h-1zM377.3,566.0h1v1h-1zM385.8,552.4h1v1h-1zM388.3,538.7h1v1h-1zM390.7,560.5h1v1h-1zM369.0,588.7h1v1h-1zM369.0,596.7h1v1h-1zM374.3,584.2h1v1h-1zM382.3,584.4h1v1h-1zM380.4,579.0h1v1h-1zM379.2,547.2h1v1h-1zM387.7,568.8h1v1h-1zM387.8,582.1h1v1h-1zM374.2,554.9h1v1h-1zM386.1,556.6h1v1h-1zM348.8,568.0h1v1h-1zM340.3,583.2h1v1h-1zM348.6,592.9h1v1h-1zM353.0,582.7h1v1h-1zM346.6,558.9h1v1h-1zM343.7,555.9h1v1h-1zM355.4,570.0h1v1h-1zM337.1,546.7h1v1h-1zM339.8,542.8h1v1h-1zM339.5,547.0h1v1h-1zM358.5,552.0h1v1h-1zM343.0,566.4h1v1h-1zM350.4,573.9h1v1h-1zM359.2,577.0h1v1h-1zM345.9,585.4h1v1h-1zM354.5,558.2h1v1h-1zM367.9,551.7h1v1h-1zM355.7,585.5h1v1h-1zM351.4,572.8h1v1h-1zM351.5,577.3h1v1h-1zM352.7,568.2h1v1h-1zM358.5,541.8h1v1h-1zM353.1,563.9h1v1h-1zM373.4,572.1h1v1h-1zM342.2,577.1h1v1h-1zM345.5,551.6h1v1h-1zM346.7,575.0h1v1h-1zM364.2,582.6h1v1h-1zM352.8,565.8h1v1h-1zM352.4,584.8h1v1h-1zM348.6,584.1h1v1h-1zM340.6,567.9h1v1h-1zM359.3,577.8h1v1h-1zM352.5,560.9h1v1h-1zM328.7,562.0h1v1h-1zM340.0,562.5h1v1h-1zM368.8,557.4h1v1h-1zM360.1,567.8h1v1h-1zM336.9,569.6h1v1h-1zM359.0,551.6h1v1h-1zM336.3,562.8h1v1h-1zM358.7,559.7h1v1h-1zM355.1,574.4h1v1h-1zM350.2,574.3h1v1h-1zM365.1,565.4h1v1h-1zM353.9,553.3h1v1h-1zM341.5,566.7h1v1h-1zM359.7,558.7h1v1h-1zM333.6,580.9h1v1h-1zM378.2,532.4h1v1h-1zM337.5,569.7h1v1h-1zM355.8,554.9h1v1h-1zM354.0,583.3h1v1h-1zM346.8,578.1h1v1h-1zM351.6,555.2h1v1h-1zM342.8,559.6h1v1h-1zM365.8,584.0h1v1h-1zM352.9,546.4h1v1h-1zM344.3,562.5h1v1h-1zM327.3,567.8h1v1h-1zM353.4,549.7h1v1h-1zM345.0,561.7h1v1h-1zM371.8,577.2h1v1h-1zM359.1,569.2h1v1h-1zM334.9,580.8h1v1h-1zM342.1,541.4h1v1h-1zM358.6,563.2h1v1h-1zM350.0,575.1h1v1h-1zM347.3,573.7h1v1h-1zM365.2,563.6h1v1h-1zM345.9,568.3h1v1h-1zM357.7,562.5h1v1h-1zM351.0,558.6h1v1h-1zM349.2,575.5h1v1h-1zM340.4,565.5h1v1h-1zM332.9,558.4h1v1h-1zM351.0,575.4h1v1h-1zM337.9,566.6h1v1h-1zM339.1,572.4h1v1h-1zM353.1,574.2h1v1h-1zM347.6,548.3h1v1h-1zM343.5,549.5h1v1h-1zM342.1,567.2h1v1h-1zM362.7,559.1h1v1h-1zM341.0,570.8h1v1h-1zM325.8,595.5h1v1h-1zM332.0,582.0h1v1h-1zM361.5,581.3h1v1h-1zM348.8,578.1h1v1h-1zM346.0,581.3h1v1h-1zM342.4,556.8h1v1h-1zM354.5,561.8h1v1h-1zM357.9,556.2h1v1h-1zM353.2,554.5h1v1h-1zM348.8,597.7h1v1h-1zM337.4,551.0h1v1h-1zM331.3,564.9h1v1h-1zM369.0,561.8h1v1h-1zM360.9,565.5h1v1h-1zM342.6,595.7h1v1h-1zM362.6,542.7h1v1h-1zM338.6,573.7h1v1h-1zM357.6,564.9h1v1h-1zM353.7,575.4h1v1h-1zM345.9,581.8h1v1h-1zM340.1,578.4h1v1h-1zM360.7,570.8h1v1h-1zM346.0,567.8h1v1h-1zM324.1,571.5h1v1h-1zM333.4,540.2h1v1h-1zM358.9,555.4h1v1h-1zM354.2,568.6h1v1h-1zM329.5,555.6h1v1h-1zM346.9,574.5h1v1h-1zM350.8,550.6h1v1h-1zM343.9,569.5h1v1h-1zM335.2,561.9h1v1h-1zM343.7,538.7h1v1h-1zM370.1,580.1h1v1h-1zM344.6,581.1h1v1h-1zM337.9,589.1h1v1h-1zM345.7,569.9h1v1h-1zM343.3,569.3h1v1h-1zM353.9,568.5h1v1h-1zM340.4,578.4h1v1h-1zM356.5,568.0h1v1h-1zM362.3,557.9h1v1h-1zM364.9,565.8h1v1h-1zM367.6,561.9h1v1h-1zM347.1,570.9h1v1h-1zM362.8,587.9h1v1h-1zM344.7,558.0h1v1h-1zM358.9,585.1h1v1h-1zM358.2,563.5h1v1h-1zM364.8,567.7h1v1h-1zM352.0,576.6h1v1h-1zM343.4,536.8h1v1h-1zM352.6,577.9h1v1h-1zM355.1,575.5h1v1h-1zM351.9,582.4h1v1h-1zM351.4,588.6h1v1h-1zM350.6,579.0h1v1h-1zM343.6,572.2h1v1h-1zM355.0,569.9h1v1h-1zM368.0,568.6h1v1h-1zM363.1,572.9h1v1h-1zM362.7,555.6h1v1h-1zM345.8,581.3h1v1h-1zM340.5,573.4h1v1h-1zM356.6,570.7h1v1h-1zM408.5,535.3h1v1h-1zM395.5,534.1h1v1h-1zM390.0,525.6h1v1h-1zM369.3,529.0h1v1h-1zM367.1,530.3h1v1h-1zM404.1,519.3h1v1h-1zM401.4,532.9h1v1h-1zM393.3,521.0h1v1h-1z" fill="#0a0a0a" fill-opacity="0.8"/>
<path d="M285.4,630.2 L285.4,473.3 L443.7,473.3 L443.7,630.2" fill="none" stroke="#9a9a9a" stroke-width="1"/>
<line x1="284.9" y1="630.2" x2="443.7" y2="630.2" stroke="#222" stroke-width="1.1"/>
<line x1="285.4" y1="473.3" x2="285.4" y2="630.2" stroke="#222" stroke-width="1.1"/>
<line x1="365" y1="473.3" x2="365" y2="630.2" stroke="#444" stroke-width="1.6"/>
<line x1="285.4" y1="542.6" x2="443.7" y2="542.6" stroke="#444" stroke-width="1.6"/>
<rect x="285.9" y="473.8" width="48.6" height="18.5" fill="#fff" stroke="#333" stroke-width="1.2"/>
<text x="310.2" y="487" font-size="12" font-weight="bold" text-anchor="middle" fill="#222" textLength="32" lengthAdjust="spacingAndGlyphs"  stroke="#222" stroke-width="0.3">57.6 %</text>
<rect x="395.7" y="610.2" width="46.4" height="19.6" fill="#fff" stroke="#333" stroke-width="1.2"/>
<text x="419.7" y="624" font-size="12" font-weight="bold" text-anchor="middle" fill="#222" textLength="32" lengthAdjust="spacingAndGlyphs"  stroke="#222" stroke-width="0.3">35.9 %</text>
<line x1="281.4" y1="630.2" x2="285.4" y2="630.2" stroke="#111" stroke-width="1.3"/>
<text x="268.4" y="631.2" font-size="7" font-weight="normal" text-anchor="start" fill="#444" >10</text>
<text x="276.09999999999997" y="626.6" font-size="6" font-weight="normal" text-anchor="start" fill="#444" >0</text>
<line x1="282.9" y1="621.5" x2="285.4" y2="621.5" stroke="#333" stroke-width="0.8"/>
<line x1="282.9" y1="616.4" x2="285.4" y2="616.4" stroke="#333" stroke-width="0.8"/>
<line x1="282.9" y1="612.7" x2="285.4" y2="612.7" stroke="#333" stroke-width="0.8"/>
<line x1="282.9" y1="609.9" x2="285.4" y2="609.9" stroke="#333" stroke-width="0.8"/>
<line x1="282.9" y1="607.6" x2="285.4" y2="607.6" stroke="#333" stroke-width="0.8"/>
<line x1="282.9" y1="605.7" x2="285.4" y2="605.7" stroke="#333" stroke-width="0.8"/>
<line x1="282.9" y1="604.0" x2="285.4" y2="604.0" stroke="#333" stroke-width="0.8"/>
<line x1="282.9" y1="602.5" x2="285.4" y2="602.5" stroke="#333" stroke-width="0.8"/>
<line x1="281.4" y1="601.2" x2="285.4" y2="601.2" stroke="#111" stroke-width="1.3"/>
<text x="268.4" y="602.2" font-size="7" font-weight="normal" text-anchor="start" fill="#444" >10</text>
<text x="276.09999999999997" y="597.6" font-size="6" font-weight="normal" text-anchor="start" fill="#444" >1</text>
<line x1="282.9" y1="592.5" x2="285.4" y2="592.5" stroke="#333" stroke-width="0.8"/>
<line x1="282.9" y1="587.4" x2="285.4" y2="587.4" stroke="#333" stroke-width="0.8"/>
<line x1="282.9" y1="583.7" x2="285.4" y2="583.7" stroke="#333" stroke-width="0.8"/>
<line x1="282.9" y1="580.9" x2="285.4" y2="580.9" stroke="#333" stroke-width="0.8"/>
<line x1="282.9" y1="578.6" x2="285.4" y2="578.6" stroke="#333" stroke-width="0.8"/>
<line x1="282.9" y1="576.7" x2="285.4" y2="576.7" stroke="#333" stroke-width="0.8"/>
<line x1="282.9" y1="575.0" x2="285.4" y2="575.0" stroke="#333" stroke-width="0.8"/>
<line x1="282.9" y1="573.5" x2="285.4" y2="573.5" stroke="#333" stroke-width="0.8"/>
<line x1="281.4" y1="572.2" x2="285.4" y2="572.2" stroke="#111" stroke-width="1.3"/>
<text x="268.4" y="573.2" font-size="7" font-weight="normal" text-anchor="start" fill="#444" >10</text>
<text x="276.09999999999997" y="568.6" font-size="6" font-weight="normal" text-anchor="start" fill="#444" >2</text>
<line x1="282.9" y1="563.5" x2="285.4" y2="563.5" stroke="#333" stroke-width="0.8"/>
<line x1="282.9" y1="558.4" x2="285.4" y2="558.4" stroke="#333" stroke-width="0.8"/>
<line x1="282.9" y1="554.7" x2="285.4" y2="554.7" stroke="#333" stroke-width="0.8"/>
<line x1="282.9" y1="551.9" x2="285.4" y2="551.9" stroke="#333" stroke-width="0.8"/>
<line x1="282.9" y1="549.6" x2="285.4" y2="549.6" stroke="#333" stroke-width="0.8"/>
<line x1="282.9" y1="547.7" x2="285.4" y2="547.7" stroke="#333" stroke-width="0.8"/>
<line x1="282.9" y1="546.0" x2="285.4" y2="546.0" stroke="#333" stroke-width="0.8"/>
<line x1="282.9" y1="544.5" x2="285.4" y2="544.5" stroke="#333" stroke-width="0.8"/>
<line x1="281.4" y1="543.2" x2="285.4" y2="543.2" stroke="#111" stroke-width="1.3"/>
<text x="268.4" y="544.2" font-size="7" font-weight="normal" text-anchor="start" fill="#444" >10</text>
<text x="276.09999999999997" y="539.6" font-size="6" font-weight="normal" text-anchor="start" fill="#444" >3</text>
<line x1="282.9" y1="534.5" x2="285.4" y2="534.5" stroke="#333" stroke-width="0.8"/>
<line x1="282.9" y1="529.4" x2="285.4" y2="529.4" stroke="#333" stroke-width="0.8"/>
<line x1="282.9" y1="525.7" x2="285.4" y2="525.7" stroke="#333" stroke-width="0.8"/>
<line x1="282.9" y1="522.9" x2="285.4" y2="522.9" stroke="#333" stroke-width="0.8"/>
<line x1="282.9" y1="520.6" x2="285.4" y2="520.6" stroke="#333" stroke-width="0.8"/>
<line x1="282.9" y1="518.7" x2="285.4" y2="518.7" stroke="#333" stroke-width="0.8"/>
<line x1="282.9" y1="517.0" x2="285.4" y2="517.0" stroke="#333" stroke-width="0.8"/>
<line x1="282.9" y1="515.5" x2="285.4" y2="515.5" stroke="#333" stroke-width="0.8"/>
<line x1="281.4" y1="514.2" x2="285.4" y2="514.2" stroke="#111" stroke-width="1.3"/>
<text x="268.4" y="515.2" font-size="7" font-weight="normal" text-anchor="start" fill="#444" >10</text>
<text x="276.09999999999997" y="510.6" font-size="6" font-weight="normal" text-anchor="start" fill="#444" >4</text>
<line x1="282.9" y1="505.5" x2="285.4" y2="505.5" stroke="#333" stroke-width="0.8"/>
<line x1="282.9" y1="500.4" x2="285.4" y2="500.4" stroke="#333" stroke-width="0.8"/>
<line x1="282.9" y1="496.7" x2="285.4" y2="496.7" stroke="#333" stroke-width="0.8"/>
<line x1="282.9" y1="493.9" x2="285.4" y2="493.9" stroke="#333" stroke-width="0.8"/>
<line x1="282.9" y1="491.6" x2="285.4" y2="491.6" stroke="#333" stroke-width="0.8"/>
<line x1="282.9" y1="489.7" x2="285.4" y2="489.7" stroke="#333" stroke-width="0.8"/>
<line x1="282.9" y1="488.0" x2="285.4" y2="488.0" stroke="#333" stroke-width="0.8"/>
<line x1="282.9" y1="486.5" x2="285.4" y2="486.5" stroke="#333" stroke-width="0.8"/>
<line x1="281.4" y1="485.2" x2="285.4" y2="485.2" stroke="#111" stroke-width="1.3"/>
<text x="268.4" y="486.2" font-size="7" font-weight="normal" text-anchor="start" fill="#444" >10</text>
<text x="276.09999999999997" y="481.6" font-size="6" font-weight="normal" text-anchor="start" fill="#444" >5</text>
<line x1="301.0" y1="630.2" x2="301.0" y2="634.2" stroke="#111" stroke-width="1.3"/>
<line x1="310.6" y1="630.2" x2="310.6" y2="632.7" stroke="#333" stroke-width="0.8"/>
<line x1="316.3" y1="630.2" x2="316.3" y2="632.7" stroke="#333" stroke-width="0.8"/>
<line x1="320.3" y1="630.2" x2="320.3" y2="632.7" stroke="#333" stroke-width="0.8"/>
<line x1="323.4" y1="630.2" x2="323.4" y2="632.7" stroke="#333" stroke-width="0.8"/>
<line x1="325.9" y1="630.2" x2="325.9" y2="632.7" stroke="#333" stroke-width="0.8"/>
<line x1="328.0" y1="630.2" x2="328.0" y2="632.7" stroke="#333" stroke-width="0.8"/>
<line x1="329.9" y1="630.2" x2="329.9" y2="632.7" stroke="#333" stroke-width="0.8"/>
<line x1="331.5" y1="630.2" x2="331.5" y2="632.7" stroke="#333" stroke-width="0.8"/>
<text x="297.5" y="648.5" font-size="7" font-weight="normal" text-anchor="start" fill="#444" >10</text>
<text x="305.2" y="644" font-size="6" font-weight="normal" text-anchor="start" fill="#444" >1</text>
<line x1="333.0" y1="630.2" x2="333.0" y2="634.2" stroke="#111" stroke-width="1.3"/>
<line x1="342.6" y1="630.2" x2="342.6" y2="632.7" stroke="#333" stroke-width="0.8"/>
<line x1="348.3" y1="630.2" x2="348.3" y2="632.7" stroke="#333" stroke-width="0.8"/>
<line x1="352.3" y1="630.2" x2="352.3" y2="632.7" stroke="#333" stroke-width="0.8"/>
<line x1="355.4" y1="630.2" x2="355.4" y2="632.7" stroke="#333" stroke-width="0.8"/>
<line x1="357.9" y1="630.2" x2="357.9" y2="632.7" stroke="#333" stroke-width="0.8"/>
<line x1="360.0" y1="630.2" x2="360.0" y2="632.7" stroke="#333" stroke-width="0.8"/>
<line x1="361.9" y1="630.2" x2="361.9" y2="632.7" stroke="#333" stroke-width="0.8"/>
<line x1="363.5" y1="630.2" x2="363.5" y2="632.7" stroke="#333" stroke-width="0.8"/>
<text x="329.5" y="648.5" font-size="7" font-weight="normal" text-anchor="start" fill="#444" >10</text>
<text x="337.2" y="644" font-size="6" font-weight="normal" text-anchor="start" fill="#444" >2</text>
<line x1="365.0" y1="630.2" x2="365.0" y2="634.2" stroke="#111" stroke-width="1.3"/>
<line x1="374.6" y1="630.2" x2="374.6" y2="632.7" stroke="#333" stroke-width="0.8"/>
<line x1="380.3" y1="630.2" x2="380.3" y2="632.7" stroke="#333" stroke-width="0.8"/>
<line x1="384.3" y1="630.2" x2="384.3" y2="632.7" stroke="#333" stroke-width="0.8"/>
<line x1="387.4" y1="630.2" x2="387.4" y2="632.7" stroke="#333" stroke-width="0.8"/>
<line x1="389.9" y1="630.2" x2="389.9" y2="632.7" stroke="#333" stroke-width="0.8"/>
<line x1="392.0" y1="630.2" x2="392.0" y2="632.7" stroke="#333" stroke-width="0.8"/>
<line x1="393.9" y1="630.2" x2="393.9" y2="632.7" stroke="#333" stroke-width="0.8"/>
<line x1="395.5" y1="630.2" x2="395.5" y2="632.7" stroke="#333" stroke-width="0.8"/>
<text x="361.5" y="648.5" font-size="7" font-weight="normal" text-anchor="start" fill="#444" >10</text>
<text x="369.2" y="644" font-size="6" font-weight="normal" text-anchor="start" fill="#444" >3</text>
<line x1="397.0" y1="630.2" x2="397.0" y2="634.2" stroke="#111" stroke-width="1.3"/>
<line x1="406.6" y1="630.2" x2="406.6" y2="632.7" stroke="#333" stroke-width="0.8"/>
<line x1="412.3" y1="630.2" x2="412.3" y2="632.7" stroke="#333" stroke-width="0.8"/>
<line x1="416.3" y1="630.2" x2="416.3" y2="632.7" stroke="#333" stroke-width="0.8"/>
<line x1="419.4" y1="630.2" x2="419.4" y2="632.7" stroke="#333" stroke-width="0.8"/>
<line x1="421.9" y1="630.2" x2="421.9" y2="632.7" stroke="#333" stroke-width="0.8"/>
<line x1="424.0" y1="630.2" x2="424.0" y2="632.7" stroke="#333" stroke-width="0.8"/>
<line x1="425.9" y1="630.2" x2="425.9" y2="632.7" stroke="#333" stroke-width="0.8"/>
<line x1="427.5" y1="630.2" x2="427.5" y2="632.7" stroke="#333" stroke-width="0.8"/>
<text x="393.5" y="648.5" font-size="7" font-weight="normal" text-anchor="start" fill="#444" >10</text>
<text x="401.2" y="644" font-size="6" font-weight="normal" text-anchor="start" fill="#444" >4</text>
<line x1="429.0" y1="630.2" x2="429.0" y2="634.2" stroke="#111" stroke-width="1.3"/>
<line x1="438.6" y1="630.2" x2="438.6" y2="632.7" stroke="#333" stroke-width="0.8"/>
<text x="425.5" y="648.5" font-size="7" font-weight="normal" text-anchor="start" fill="#444" >10</text>
<text x="433.2" y="644" font-size="6" font-weight="normal" text-anchor="start" fill="#444" >5</text>
<text x="350.9" y="672.3" font-size="14.9" font-weight="bold" text-anchor="start" fill="#111"  stroke="#111" stroke-width="0.3">CD8</text>
<text x="537.9" y="453" font-size="14.3" font-weight="bold" text-anchor="start" fill="#111"  stroke="#111" stroke-width="0.3">FGFR4-CAR T cells</text>
<path d="M587.7,529.6h1v1h-1zM600.2,538.4h1v1h-1zM565.1,530.3h1v1h-1zM594.3,522.8h1v1h-1zM592.9,539.7h1v1h-1zM590.4,535.4h1v1h-1zM601.9,523.6h1v1h-1zM561.0,535.6h1v1h-1zM607.6,515.2h1v1h-1zM586.6,522.8h1v1h-1zM591.5,527.3h1v1h-1zM602.8,522.7h1v1h-1zM612.3,515.3h1v1h-1zM591.6,543.4h1v1h-1zM587.8,531.0h1v1h-1zM583.3,547.7h1v1h-1zM599.8,524.3h1v1h-1zM565.9,529.5h1v1h-1zM597.9,513.9h1v1h-1zM583.1,530.8h1v1h-1zM559.9,527.3h1v1h-1zM569.8,519.7h1v1h-1zM593.9,533.8h1v1h-1zM603.1,522.2h1v1h-1zM595.2,515.7h1v1h-1zM571.1,531.3h1v1h-1zM584.2,520.9h1v1h-1zM566.4,526.7h1v1h-1zM616.0,513.2h1v1h-1zM576.4,534.6h1v1h-1zM565.8,524.3h1v1h-1zM589.8,534.0h1v1h-1zM588.1,538.3h1v1h-1zM588.7,526.3h1v1h-1zM594.4,528.9h1v1h-1zM570.9,522.0h1v1h-1zM586.2,529.3h1v1h-1zM574.2,523.3h1v1h-1zM580.0,529.6h1v1h-1zM583.8,531.0h1v1h-1zM593.7,521.1h1v1h-1zM585.4,519.5h1v1h-1zM590.3,532.0h1v1h-1zM577.0,516.6h1v1h-1zM595.3,524.9h1v1h-1zM588.7,529.9h1v1h-1zM593.6,532.5h1v1h-1zM583.5,513.6h1v1h-1zM583.1,525.4h1v1h-1zM584.0,529.7h1v1h-1zM586.0,535.2h1v1h-1zM581.3,527.3h1v1h-1zM584.7,540.4h1v1h-1zM577.4,521.4h1v1h-1zM584.4,532.0h1v1h-1zM589.2,525.9h1v1h-1zM571.2,515.0h1v1h-1zM586.4,525.7h1v1h-1zM610.4,528.2h1v1h-1zM594.2,532.8h1v1h-1zM578.1,519.9h1v1h-1zM584.5,536.4h1v1h-1zM601.0,522.8h1v1h-1zM573.9,533.5h1v1h-1zM602.3,519.5h1v1h-1zM608.6,521.2h1v1h-1zM598.1,525.3h1v1h-1zM585.0,523.4h1v1h-1zM597.5,530.4h1v1h-1zM598.8,524.8h1v1h-1zM578.7,540.9h1v1h-1zM609.9,524.7h1v1h-1zM575.0,537.0h1v1h-1zM590.6,527.3h1v1h-1zM599.4,528.7h1v1h-1zM590.4,539.3h1v1h-1zM566.0,532.2h1v1h-1zM577.0,528.1h1v1h-1zM586.9,528.8h1v1h-1zM559.5,532.8h1v1h-1zM617.5,523.0h1v1h-1zM600.0,530.3h1v1h-1zM592.6,523.7h1v1h-1zM596.8,528.3h1v1h-1zM606.7,531.3h1v1h-1zM580.3,509.2h1v1h-1zM607.5,529.1h1v1h-1zM591.1,523.1h1v1h-1zM619.7,533.8h1v1h-1zM590.2,524.6h1v1h-1zM596.1,535.1h1v1h-1zM595.4,532.6h1v1h-1zM592.2,529.1h1v1h-1zM573.4,528.6h1v1h-1zM589.6,526.5h1v1h-1zM586.0,529.1h1v1h-1zM581.9,526.1h1v1h-1zM572.9,542.3h1v1h-1zM578.0,520.0h1v1h-1zM582.4,524.7h1v1h-1zM575.8,512.4h1v1h-1zM609.2,532.4h1v1h-1zM584.3,530.7h1v1h-1zM575.3,517.6h1v1h-1zM593.1,530.4h1v1h-1zM580.5,527.4h1v1h-1zM551.1,528.1h1v1h-1zM602.0,527.4h1v1h-1zM591.2,530.5h1v1h-1zM563.3,520.2h1v1h-1zM573.3,529.3h1v1h-1zM581.2,515.6h1v1h-1zM600.0,525.3h1v1h-1zM601.3,538.9h1v1h-1zM568.6,520.1h1v1h-1zM602.3,535.1h1v1h-1zM593.9,529.0h1v1h-1zM597.6,530.7h1v1h-1zM573.2,532.5h1v1h-1zM601.2,523.9h1v1h-1zM577.7,524.5h1v1h-1zM581.7,530.7h1v1h-1zM598.6,526.7h1v1h-1zM585.2,516.1h1v1h-1zM583.7,521.0h1v1h-1zM582.1,529.5h1v1h-1zM591.0,548.8h1v1h-1zM578.2,524.2h1v1h-1zM574.8,526.1h1v1h-1zM585.5,533.5h1v1h-1zM564.8,533.9h1v1h-1zM597.0,523.3h1v1h-1zM580.5,528.7h1v1h-1zM595.5,525.7h1v1h-1zM587.1,527.2h1v1h-1zM575.5,529.4h1v1h-1zM596.1,527.0h1v1h-1zM574.8,527.7h1v1h-1zM587.6,529.0h1v1h-1zM583.8,532.4h1v1h-1zM602.4,531.5h1v1h-1zM591.9,534.4h1v1h-1zM588.5,526.0h1v1h-1zM571.2,528.0h1v1h-1zM604.1,520.3h1v1h-1zM598.6,518.6h1v1h-1zM592.7,538.2h1v1h-1zM589.5,519.7h1v1h-1zM592.5,525.9h1v1h-1zM598.8,523.3h1v1h-1zM567.5,525.1h1v1h-1zM596.3,533.0h1v1h-1zM592.4,527.0h1v1h-1zM597.5,525.4h1v1h-1zM583.3,528.7h1v1h-1zM602.5,523.2h1v1h-1zM595.1,522.7h1v1h-1zM579.8,528.5h1v1h-1zM572.4,522.6h1v1h-1zM574.2,524.1h1v1h-1zM577.6,542.0h1v1h-1zM596.5,527.1h1v1h-1zM572.3,513.2h1v1h-1zM594.4,522.9h1v1h-1zM601.9,523.9h1v1h-1zM572.7,523.9h1v1h-1zM570.0,519.3h1v1h-1zM597.8,523.3h1v1h-1zM597.5,523.1h1v1h-1zM586.0,523.8h1v1h-1zM582.1,523.3h1v1h-1zM607.5,525.8h1v1h-1zM564.7,538.6h1v1h-1zM604.5,533.1h1v1h-1zM587.6,526.1h1v1h-1zM583.0,528.1h1v1h-1zM594.7,526.7h1v1h-1zM578.7,521.6h1v1h-1zM609.6,536.3h1v1h-1zM573.5,523.9h1v1h-1zM588.4,530.6h1v1h-1zM587.5,528.6h1v1h-1zM593.4,533.8h1v1h-1zM572.7,534.6h1v1h-1zM594.3,530.0h1v1h-1zM570.1,526.6h1v1h-1zM585.7,531.1h1v1h-1zM597.4,530.8h1v1h-1zM572.8,535.5h1v1h-1zM589.7,532.7h1v1h-1zM588.7,522.7h1v1h-1zM621.5,529.4h1v1h-1zM598.4,523.7h1v1h-1zM586.1,534.0h1v1h-1zM594.4,537.4h1v1h-1zM603.8,519.7h1v1h-1zM569.7,535.1h1v1h-1zM596.3,525.1h1v1h-1zM585.2,523.8h1v1h-1zM611.2,524.9h1v1h-1zM571.7,533.4h1v1h-1zM587.8,529.3h1v1h-1zM584.1,527.0h1v1h-1zM565.4,531.5h1v1h-1zM580.3,525.1h1v1h-1zM592.8,534.6h1v1h-1zM562.0,527.6h1v1h-1zM595.6,532.8h1v1h-1zM577.5,529.5h1v1h-1zM593.8,532.4h1v1h-1zM581.1,526.3h1v1h-1zM582.4,534.3h1v1h-1zM602.3,523.7h1v1h-1zM587.1,528.5h1v1h-1zM577.6,526.9h1v1h-1zM599.6,531.2h1v1h-1zM580.3,523.6h1v1h-1zM587.4,518.3h1v1h-1zM592.7,527.6h1v1h-1zM572.2,526.5h1v1h-1zM580.6,525.8h1v1h-1zM577.9,535.8h1v1h-1zM576.8,532.3h1v1h-1zM591.4,535.6h1v1h-1zM588.1,527.1h1v1h-1zM589.6,515.7h1v1h-1zM618.8,524.3h1v1h-1zM584.9,520.5h1v1h-1zM587.1,536.8h1v1h-1zM579.4,530.2h1v1h-1zM601.7,532.1h1v1h-1zM583.7,516.9h1v1h-1zM593.9,530.2h1v1h-1zM584.7,524.7h1v1h-1zM610.6,516.5h1v1h-1zM582.4,523.8h1v1h-1zM569.3,523.9h1v1h-1zM578.8,535.0h1v1h-1zM567.0,520.0h1v1h-1zM592.0,517.6h1v1h-1zM563.8,524.6h1v1h-1zM573.7,522.0h1v1h-1zM586.8,529.9h1v1h-1zM580.7,525.8h1v1h-1zM597.7,525.7h1v1h-1zM597.9,523.1h1v1h-1zM594.9,534.4h1v1h-1zM571.5,545.8h1v1h-1zM584.7,525.3h1v1h-1zM586.8,530.0h1v1h-1zM573.7,528.1h1v1h-1zM581.5,536.0h1v1h-1zM567.2,532.0h1v1h-1zM584.8,522.8h1v1h-1zM590.5,525.6h1v1h-1zM589.3,528.5h1v1h-1zM603.8,523.9h1v1h-1zM609.6,510.0h1v1h-1zM611.5,533.2h1v1h-1zM608.3,527.3h1v1h-1zM592.3,520.9h1v1h-1zM605.4,519.4h1v1h-1zM578.8,527.6h1v1h-1zM591.7,529.0h1v1h-1zM574.3,525.8h1v1h-1zM594.9,533.8h1v1h-1zM598.3,529.1h1v1h-1zM585.5,524.0h1v1h-1zM582.4,526.9h1v1h-1zM595.4,523.8h1v1h-1zM614.4,519.9h1v1h-1zM598.9,525.4h1v1h-1zM587.0,524.9h1v1h-1zM607.9,524.4h1v1h-1zM595.6,527.5h1v1h-1zM598.1,530.1h1v1h-1zM609.4,521.7h1v1h-1zM578.5,537.7h1v1h-1zM604.6,526.7h1v1h-1zM585.2,528.8h1v1h-1zM605.0,521.7h1v1h-1zM606.9,525.9h1v1h-1zM584.3,525.0h1v1h-1zM562.7,530.3h1v1h-1zM572.4,524.6h1v1h-1zM577.6,529.1h1v1h-1zM597.8,526.9h1v1h-1zM591.1,529.4h1v1h-1zM608.8,529.5h1v1h-1zM608.3,525.7h1v1h-1zM593.2,523.0h1v1h-1zM596.2,521.7h1v1h-1zM594.6,523.1h1v1h-1zM584.4,534.5h1v1h-1zM590.6,531.7h1v1h-1zM585.8,516.2h1v1h-1zM607.1,525.1h1v1h-1zM580.7,533.1h1v1h-1zM574.6,523.4h1v1h-1zM603.0,522.3h1v1h-1zM602.8,524.6h1v1h-1zM586.1,527.6h1v1h-1zM582.6,533.8h1v1h-1zM602.4,526.8h1v1h-1zM596.4,529.9h1v1h-1zM609.7,516.7h1v1h-1zM601.5,531.9h1v1h-1zM584.9,527.4h1v1h-1zM584.5,534.6h1v1h-1zM574.5,531.4h1v1h-1zM604.8,529.7h1v1h-1zM582.8,524.7h1v1h-1zM562.4,522.4h1v1h-1zM602.4,520.8h1v1h-1zM568.4,526.7h1v1h-1zM570.2,530.8h1v1h-1zM577.9,533.3h1v1h-1zM587.3,518.8h1v1h-1zM579.2,523.8h1v1h-1zM578.3,534.9h1v1h-1zM576.3,529.9h1v1h-1zM581.5,531.0h1v1h-1zM571.0,518.8h1v1h-1zM595.1,535.2h1v1h-1zM571.5,526.1h1v1h-1zM582.5,521.9h1v1h-1zM600.9,526.8h1v1h-1zM571.5,526.7h1v1h-1zM605.4,522.1h1v1h-1zM582.4,522.6h1v1h-1zM590.8,523.7h1v1h-1zM599.9,521.7h1v1h-1zM570.6,530.7h1v1h-1zM549.2,523.5h1v1h-1zM592.3,528.4h1v1h-1zM581.6,524.9h1v1h-1zM595.3,548.8h1v1h-1zM578.8,526.6h1v1h-1zM583.1,530.7h1v1h-1zM588.9,530.4h1v1h-1zM609.1,524.5h1v1h-1zM585.2,529.5h1v1h-1zM614.9,523.7h1v1h-1zM609.9,533.1h1v1h-1zM554.7,523.0h1v1h-1zM576.6,530.1h1v1h-1zM605.4,526.6h1v1h-1zM590.8,539.8h1v1h-1zM593.2,539.6h1v1h-1zM577.6,537.4h1v1h-1zM582.5,513.1h1v1h-1zM578.5,524.8h1v1h-1zM588.3,531.6h1v1h-1zM597.4,529.8h1v1h-1zM579.5,538.1h1v1h-1zM603.7,526.6h1v1h-1zM581.7,527.2h1v1h-1zM586.0,523.1h1v1h-1zM588.7,523.2h1v1h-1zM596.8,522.9h1v1h-1zM594.9,528.7h1v1h-1zM590.9,530.1h1v1h-1zM576.0,543.0h1v1h-1zM580.2,531.9h1v1h-1zM589.1,524.5h1v1h-1zM610.5,532.5h1v1h-1zM585.4,530.6h1v1h-1zM597.4,536.0h1v1h-1zM601.5,525.5h1v1h-1zM585.7,520.4h1v1h-1zM592.1,532.1h1v1h-1zM584.0,531.3h1v1h-1zM590.5,524.3h1v1h-1zM573.6,534.5h1v1h-1zM620.5,528.7h1v1h-1zM575.4,521.7h1v1h-1zM592.0,530.8h1v1h-1zM607.8,511.9h1v1h-1zM611.9,526.9h1v1h-1zM590.5,529.3h1v1h-1zM584.4,525.6h1v1h-1zM602.0,516.2h1v1h-1zM587.4,530.5h1v1h-1zM568.3,527.2h1v1h-1zM608.0,528.4h1v1h-1zM597.7,530.8h1v1h-1zM591.6,529.1h1v1h-1zM578.7,526.4h1v1h-1zM611.9,518.7h1v1h-1zM586.8,519.7h1v1h-1zM582.2,522.9h1v1h-1zM573.6,529.3h1v1h-1zM577.1,530.8h1v1h-1zM611.5,510.8h1v1h-1zM586.8,514.8h1v1h-1zM587.3,529.4h1v1h-1zM591.5,534.1h1v1h-1zM590.9,516.7h1v1h-1zM607.7,520.5h1v1h-1zM587.7,529.1h1v1h-1zM577.9,528.2h1v1h-1zM607.6,516.1h1v1h-1zM568.1,525.5h1v1h-1zM586.8,519.6h1v1h-1zM560.1,534.0h1v1h-1zM593.8,519.0h1v1h-1zM596.1,526.4h1v1h-1zM590.9,519.0h1v1h-1zM586.2,530.1h1v1h-1zM567.0,521.9h1v1h-1zM601.0,538.4h1v1h-1zM597.2,526.2h1v1h-1zM575.4,525.3h1v1h-1zM585.8,529.9h1v1h-1zM585.7,542.0h1v1h-1zM605.5,513.2h1v1h-1zM574.3,527.8h1v1h-1zM601.2,528.9h1v1h-1zM554.5,519.0h1v1h-1zM605.8,529.8h1v1h-1zM621.0,530.2h1v1h-1zM594.7,535.9h1v1h-1zM583.4,524.1h1v1h-1zM576.3,529.2h1v1h-1zM594.4,532.4h1v1h-1zM607.1,529.9h1v1h-1zM604.4,524.8h1v1h-1zM576.9,532.1h1v1h-1zM601.6,534.4h1v1h-1zM586.9,524.4h1v1h-1zM584.4,529.5h1v1h-1zM588.3,526.0h1v1h-1zM592.1,525.2h1v1h-1zM593.2,523.3h1v1h-1zM569.6,526.2h1v1h-1zM612.6,521.0h1v1h-1zM600.4,534.6h1v1h-1zM582.2,529.0h1v1h-1zM560.4,531.9h1v1h-1zM608.2,527.2h1v1h-1zM564.1,524.8h1v1h-1zM579.7,528.2h1v1h-1zM592.6,524.4h1v1h-1zM585.1,522.4h1v1h-1zM596.1,527.9h1v1h-1zM593.3,523.8h1v1h-1zM595.2,525.0h1v1h-1zM592.7,525.9h1v1h-1zM580.7,520.9h1v1h-1zM565.6,520.0h1v1h-1zM594.8,546.4h1v1h-1zM568.4,523.2h1v1h-1zM588.9,548.5h1v1h-1zM586.4,520.2h1v1h-1zM594.2,539.3h1v1h-1zM554.0,521.8h1v1h-1zM604.5,519.3h1v1h-1zM587.7,523.3h1v1h-1zM598.5,517.8h1v1h-1zM592.9,528.2h1v1h-1zM596.1,529.3h1v1h-1zM590.9,516.2h1v1h-1zM584.9,521.6h1v1h-1zM595.6,525.3h1v1h-1zM590.9,533.6h1v1h-1zM587.6,537.3h1v1h-1zM599.5,517.6h1v1h-1zM581.7,534.8h1v1h-1zM582.7,534.6h1v1h-1zM581.9,526.7h1v1h-1zM601.9,516.9h1v1h-1zM589.9,524.2h1v1h-1zM591.1,537.3h1v1h-1zM595.1,518.6h1v1h-1zM601.0,523.7h1v1h-1zM591.1,533.9h1v1h-1zM585.1,533.0h1v1h-1zM591.2,521.5h1v1h-1zM585.1,519.0h1v1h-1zM603.8,527.3h1v1h-1zM601.1,519.7h1v1h-1zM599.6,519.3h1v1h-1zM592.5,526.8h1v1h-1zM581.6,529.3h1v1h-1zM589.4,521.8h1v1h-1zM579.7,519.6h1v1h-1zM606.2,527.1h1v1h-1zM584.4,531.4h1v1h-1zM578.2,520.5h1v1h-1zM593.5,536.4h1v1h-1zM592.8,527.8h1v1h-1zM610.8,516.6h1v1h-1zM627.3,518.4h1v1h-1zM588.1,518.9h1v1h-1zM573.8,526.3h1v1h-1zM619.6,519.8h1v1h-1zM581.3,529.0h1v1h-1zM576.3,526.1h1v1h-1zM599.2,513.3h1v1h-1zM585.2,525.4h1v1h-1zM582.6,526.6h1v1h-1zM566.5,525.5h1v1h-1zM582.5,521.1h1v1h-1zM604.8,538.3h1v1h-1zM599.0,521.3h1v1h-1zM606.8,529.1h1v1h-1zM578.8,531.2h1v1h-1zM581.8,530.8h1v1h-1zM600.5,533.4h1v1h-1zM575.8,526.9h1v1h-1zM589.0,519.6h1v1h-1zM594.2,530.9h1v1h-1zM571.7,524.5h1v1h-1zM575.2,520.0h1v1h-1zM575.7,536.0h1v1h-1zM580.7,525.0h1v1h-1zM601.4,532.6h1v1h-1zM606.6,513.5h1v1h-1zM598.4,515.9h1v1h-1zM581.1,524.9h1v1h-1zM581.9,539.3h1v1h-1zM586.9,534.2h1v1h-1zM586.7,526.8h1v1h-1zM595.4,529.4h1v1h-1zM595.3,516.1h1v1h-1zM595.3,528.6h1v1h-1zM596.5,526.3h1v1h-1zM594.1,518.8h1v1h-1zM603.2,518.9h1v1h-1zM606.5,532.3h1v1h-1zM588.2,525.3h1v1h-1zM598.7,524.7h1v1h-1zM574.1,529.4h1v1h-1zM573.7,525.0h1v1h-1zM611.4,530.8h1v1h-1zM583.4,526.9h1v1h-1zM580.9,527.3h1v1h-1zM570.9,532.1h1v1h-1zM589.2,523.3h1v1h-1zM581.3,543.4h1v1h-1zM583.5,524.4h1v1h-1zM581.7,524.4h1v1h-1zM605.4,530.3h1v1h-1zM594.2,529.0h1v1h-1zM574.8,513.0h1v1h-1zM607.9,530.4h1v1h-1zM591.7,528.6h1v1h-1zM591.5,527.0h1v1h-1zM585.7,513.6h1v1h-1zM596.1,526.9h1v1h-1zM601.2,528.3h1v1h-1zM585.4,530.9h1v1h-1zM591.3,524.2h1v1h-1zM584.3,524.7h1v1h-1zM585.3,524.5h1v1h-1zM601.3,544.2h1v1h-1zM587.6,533.9h1v1h-1zM564.3,508.5h1v1h-1zM583.1,526.4h1v1h-1zM579.7,519.2h1v1h-1zM578.4,524.4h1v1h-1zM590.9,524.9h1v1h-1zM574.0,525.5h1v1h-1zM607.9,520.7h1v1h-1zM589.8,533.1h1v1h-1zM578.9,524.0h1v1h-1zM625.2,532.7h1v1h-1zM582.4,528.3h1v1h-1zM590.3,527.8h1v1h-1zM594.8,524.9h1v1h-1zM561.3,522.5h1v1h-1zM590.9,518.6h1v1h-1zM585.0,536.4h1v1h-1zM592.0,522.9h1v1h-1zM590.7,533.3h1v1h-1zM567.6,520.5h1v1h-1zM580.7,524.7h1v1h-1zM587.9,523.5h1v1h-1zM590.3,527.5h1v1h-1zM574.4,523.9h1v1h-1zM573.5,529.5h1v1h-1zM592.3,530.8h1v1h-1zM578.1,524.3h1v1h-1zM561.3,528.5h1v1h-1zM568.8,530.1h1v1h-1zM602.5,529.0h1v1h-1zM596.8,528.0h1v1h-1zM593.6,532.5h1v1h-1zM604.8,538.5h1v1h-1zM585.7,532.2h1v1h-1zM599.8,529.1h1v1h-1zM592.3,519.1h1v1h-1zM602.6,520.9h1v1h-1zM580.8,522.2h1v1h-1zM596.0,520.8h1v1h-1zM594.7,530.1h1v1h-1zM590.3,524.9h1v1h-1zM596.4,534.6h1v1h-1zM583.2,520.9h1v1h-1zM581.5,522.0h1v1h-1zM572.3,520.3h1v1h-1zM558.5,517.4h1v1h-1zM531.1,501.0h1v1h-1zM553.7,524.4h1v1h-1zM598.3,502.7h1v1h-1zM583.3,538.2h1v1h-1zM571.2,531.8h1v1h-1zM585.4,512.1h1v1h-1zM601.8,515.5h1v1h-1zM586.5,517.7h1v1h-1zM572.8,523.6h1v1h-1zM609.7,504.0h1v1h-1zM551.3,523.1h1v1h-1zM601.3,520.0h1v1h-1zM573.5,527.6h1v1h-1zM615.7,512.3h1v1h-1zM539.8,519.0h1v1h-1zM596.3,508.0h1v1h-1zM605.0,532.0h1v1h-1zM596.9,513.0h1v1h-1zM547.0,529.0h1v1h-1zM584.2,529.3h1v1h-1zM545.7,490.5h1v1h-1zM604.8,532.7h1v1h-1zM571.4,521.9h1v1h-1zM588.8,530.0h1v1h-1zM573.5,516.5h1v1h-1zM554.6,532.9h1v1h-1zM580.4,485.7h1v1h-1zM586.2,515.9h1v1h-1zM547.5,516.5h1v1h-1zM547.4,517.2h1v1h-1zM564.9,527.4h1v1h-1zM553.7,502.6h1v1h-1zM563.5,507.3h1v1h-1zM595.7,519.8h1v1h-1zM537.9,512.7h1v1h-1zM577.3,521.6h1v1h-1zM533.9,520.6h1v1h-1zM585.1,532.5h1v1h-1zM604.3,520.7h1v1h-1zM546.8,518.0h1v1h-1zM593.5,512.2h1v1h-1zM608.1,511.8h1v1h-1zM551.0,530.8h1v1h-1zM575.6,525.4h1v1h-1zM570.7,522.3h1v1h-1zM564.0,542.2h1v1h-1zM593.7,520.7h1v1h-1zM589.3,530.9h1v1h-1zM565.4,523.9h1v1h-1zM582.9,516.0h1v1h-1zM559.5,519.9h1v1h-1zM570.8,517.6h1v1h-1zM531.5,522.8h1v1h-1zM593.6,522.8h1v1h-1zM619.0,531.2h1v1h-1zM569.5,514.8h1v1h-1zM590.0,518.0h1v1h-1zM539.3,523.3h1v1h-1zM570.9,519.6h1v1h-1zM592.6,524.1h1v1h-1zM626.4,514.1h1v1h-1zM575.7,525.3h1v1h-1zM567.4,516.5h1v1h-1zM619.9,506.5h1v1h-1zM586.3,503.3h1v1h-1zM586.1,501.6h1v1h-1zM550.1,534.1h1v1h-1zM614.8,523.4h1v1h-1zM583.8,510.2h1v1h-1zM569.5,507.9h1v1h-1zM575.7,521.1h1v1h-1zM580.9,530.4h1v1h-1zM562.6,498.5h1v1h-1zM550.0,508.6h1v1h-1zM569.2,517.3h1v1h-1zM577.0,536.5h1v1h-1zM578.6,510.5h1v1h-1zM570.7,512.7h1v1h-1zM572.2,528.1h1v1h-1zM550.9,529.5h1v1h-1zM620.7,538.2h1v1h-1zM616.9,522.9h1v1h-1zM545.7,543.3h1v1h-1zM576.8,524.4h1v1h-1zM569.5,512.0h1v1h-1zM592.8,507.2h1v1h-1zM545.1,527.8h1v1h-1zM569.0,513.1h1v1h-1zM589.9,537.1h1v1h-1zM571.2,520.6h1v1h-1zM591.4,531.9h1v1h-1zM602.7,529.2h1v1h-1zM562.1,527.6h1v1h-1zM578.2,504.0h1v1h-1zM607.5,528.1h1v1h-1zM610.7,521.3h1v1h-1zM595.4,521.2h1v1h-1zM581.9,531.6h1v1h-1zM579.4,528.5h1v1h-1zM577.2,535.0h1v1h-1zM593.6,504.5h1v1h-1zM617.7,526.6h1v1h-1zM565.8,515.4h1v1h-1zM625.5,522.9h1v1h-1zM590.2,528.3h1v1h-1zM563.7,540.5h1v1h-1zM628.2,513.8h1v1h-1zM605.1,504.8h1v1h-1zM570.0,522.6h1v1h-1zM579.2,528.0h1v1h-1zM587.6,525.9h1v1h-1zM574.8,525.2h1v1h-1zM564.8,542.8h1v1h-1zM579.5,535.1h1v1h-1zM580.5,520.4h1v1h-1zM573.7,508.4h1v1h-1zM627.6,526.4h1v1h-1zM581.1,517.1h1v1h-1zM608.6,518.5h1v1h-1zM567.0,516.3h1v1h-1zM614.8,525.3h1v1h-1zM574.5,515.2h1v1h-1zM608.7,525.1h1v1h-1zM570.1,531.4h1v1h-1zM598.9,511.5h1v1h-1zM605.4,533.5h1v1h-1zM572.3,508.0h1v1h-1zM604.1,518.4h1v1h-1zM573.2,519.0h1v1h-1zM571.6,530.8h1v1h-1zM552.0,527.6h1v1h-1zM605.6,533.1h1v1h-1zM595.2,524.8h1v1h-1zM573.4,520.8h1v1h-1zM557.2,539.6h1v1h-1zM575.3,511.4h1v1h-1zM597.9,537.9h1v1h-1zM584.7,518.7h1v1h-1zM551.7,528.8h1v1h-1zM572.4,515.1h1v1h-1zM592.4,508.4h1v1h-1zM595.6,496.5h1v1h-1zM563.5,507.0h1v1h-1zM572.4,530.4h1v1h-1zM547.3,536.3h1v1h-1zM562.0,517.0h1v1h-1zM601.7,514.4h1v1h-1zM612.6,519.9h1v1h-1zM575.9,511.9h1v1h-1zM605.4,521.3h1v1h-1zM566.7,512.1h1v1h-1zM563.2,521.0h1v1h-1zM561.2,530.4h1v1h-1zM577.4,515.5h1v1h-1zM589.1,537.0h1v1h-1zM529.1,525.8h1v1h-1zM603.8,523.5h1v1h-1zM597.7,505.9h1v1h-1zM560.6,532.6h1v1h-1zM576.1,522.7h1v1h-1zM593.1,525.9h1v1h-1zM588.9,516.8h1v1h-1zM571.2,535.7h1v1h-1zM566.7,507.0h1v1h-1zM570.0,531.4h1v1h-1zM620.5,523.6h1v1h-1zM563.7,528.4h1v1h-1zM585.4,534.4h1v1h-1zM590.5,529.9h1v1h-1zM590.3,526.4h1v1h-1zM556.9,520.3h1v1h-1zM616.0,535.9h1v1h-1zM601.1,526.1h1v1h-1zM575.8,525.7h1v1h-1zM570.7,533.4h1v1h-1zM571.1,514.1h1v1h-1zM540.6,538.2h1v1h-1zM560.7,513.1h1v1h-1zM587.9,540.8h1v1h-1zM594.1,518.6h1v1h-1zM591.7,513.4h1v1h-1zM572.6,522.3h1v1h-1zM578.8,530.2h1v1h-1zM591.1,541.7h1v1h-1zM598.0,519.1h1v1h-1zM584.5,513.2h1v1h-1zM564.2,518.5h1v1h-1zM602.3,514.8h1v1h-1zM542.0,511.5h1v1h-1zM550.5,520.1h1v1h-1zM571.5,509.9h1v1h-1zM560.1,517.7h1v1h-1zM587.8,528.4h1v1h-1zM609.5,519.4h1v1h-1zM593.4,522.8h1v1h-1zM553.1,515.4h1v1h-1zM629.8,520.4h1v1h-1zM617.2,530.6h1v1h-1zM617.5,520.1h1v1h-1zM600.5,518.9h1v1h-1zM552.9,509.9h1v1h-1zM589.0,505.3h1v1h-1zM587.3,513.0h1v1h-1zM587.1,507.8h1v1h-1zM598.6,519.6h1v1h-1zM543.2,507.1h1v1h-1zM580.3,505.0h1v1h-1zM586.5,527.1h1v1h-1zM563.6,536.5h1v1h-1zM612.5,525.3h1v1h-1zM589.5,526.9h1v1h-1zM572.8,535.7h1v1h-1zM566.4,495.9h1v1h-1zM579.4,526.6h1v1h-1zM598.1,510.5h1v1h-1zM611.2,513.5h1v1h-1zM593.6,529.6h1v1h-1zM583.0,533.8h1v1h-1zM567.4,543.3h1v1h-1zM590.3,517.7h1v1h-1zM639.5,522.0h1v1h-1zM541.3,536.8h1v1h-1zM614.9,516.0h1v1h-1zM556.0,533.8h1v1h-1zM580.3,512.0h1v1h-1zM567.8,522.7h1v1h-1zM601.8,538.3h1v1h-1zM564.5,538.0h1v1h-1zM543.9,529.4h1v1h-1zM575.7,526.6h1v1h-1zM568.8,514.6h1v1h-1zM585.5,533.8h1v1h-1zM527.5,522.6h1v1h-1zM569.6,510.9h1v1h-1zM547.7,527.4h1v1h-1zM591.9,528.7h1v1h-1zM532.8,506.2h1v1h-1zM564.7,517.5h1v1h-1zM619.9,518.0h1v1h-1zM581.9,532.4h1v1h-1zM617.8,525.9h1v1h-1zM586.9,542.2h1v1h-1zM569.6,503.4h1v1h-1zM561.6,518.8h1v1h-1zM609.4,525.3h1v1h-1zM606.9,523.1h1v1h-1zM580.0,516.0h1v1h-1zM550.4,527.3h1v1h-1zM587.4,528.0h1v1h-1zM566.6,517.7h1v1h-1zM587.8,528.4h1v1h-1zM625.2,512.9h1v1h-1zM602.0,531.2h1v1h-1zM572.9,523.5h1v1h-1zM577.7,537.9h1v1h-1zM638.1,525.4h1v1h-1zM573.1,531.9h1v1h-1zM590.5,520.1h1v1h-1zM596.5,531.1h1v1h-1zM569.9,530.9h1v1h-1zM527.0,508.6h1v1h-1zM571.8,523.7h1v1h-1zM545.2,537.4h1v1h-1zM570.2,523.6h1v1h-1zM578.0,529.9h1v1h-1zM565.6,529.8h1v1h-1zM559.8,506.6h1v1h-1zM590.9,523.7h1v1h-1zM599.5,501.8h1v1h-1zM581.6,515.3h1v1h-1zM574.7,517.9h1v1h-1zM570.3,515.1h1v1h-1zM602.7,504.1h1v1h-1zM540.2,525.6h1v1h-1zM625.7,514.1h1v1h-1zM558.0,509.8h1v1h-1zM555.3,535.1h1v1h-1zM594.8,531.4h1v1h-1zM587.1,524.5h1v1h-1zM565.5,511.9h1v1h-1zM593.4,547.9h1v1h-1zM570.5,535.3h1v1h-1zM562.7,522.4h1v1h-1zM618.4,521.3h1v1h-1zM593.8,516.2h1v1h-1zM622.6,509.2h1v1h-1zM592.0,519.5h1v1h-1zM583.6,525.8h1v1h-1zM609.5,531.2h1v1h-1zM603.5,525.9h1v1h-1zM554.2,536.0h1v1h-1zM614.7,527.1h1v1h-1zM597.4,519.6h1v1h-1zM545.6,532.3h1v1h-1zM562.2,542.0h1v1h-1zM595.0,521.8h1v1h-1zM564.7,523.1h1v1h-1zM555.6,518.1h1v1h-1zM616.1,518.9h1v1h-1zM621.7,521.0h1v1h-1zM588.7,512.4h1v1h-1zM572.0,517.4h1v1h-1zM546.7,542.2h1v1h-1zM592.7,521.1h1v1h-1zM553.6,522.4h1v1h-1zM554.5,511.9h1v1h-1zM574.6,544.6h1v1h-1zM538.5,527.9h1v1h-1zM566.3,491.7h1v1h-1zM546.1,520.6h1v1h-1zM580.4,514.1h1v1h-1zM620.2,527.6h1v1h-1zM564.3,504.8h1v1h-1zM583.0,515.0h1v1h-1zM602.7,511.1h1v1h-1zM606.7,517.2h1v1h-1zM583.4,519.2h1v1h-1zM593.4,534.0h1v1h-1zM566.3,512.6h1v1h-1zM623.0,532.0h1v1h-1zM623.3,532.0h1v1h-1zM582.0,539.1h1v1h-1zM563.3,517.5h1v1h-1zM569.6,529.2h1v1h-1zM559.0,520.2h1v1h-1zM559.2,519.6h1v1h-1zM605.0,533.7h1v1h-1zM573.7,548.7h1v1h-1zM562.5,526.8h1v1h-1zM567.7,498.8h1v1h-1zM551.2,535.0h1v1h-1zM540.3,552.7h1v1h-1zM576.0,524.9h1v1h-1zM608.0,522.3h1v1h-1zM564.0,515.6h1v1h-1zM556.9,527.8h1v1h-1zM567.8,527.4h1v1h-1zM543.8,517.5h1v1h-1zM626.8,525.8h1v1h-1zM576.4,534.5h1v1h-1zM585.2,538.1h1v1h-1zM551.7,530.1h1v1h-1zM554.1,529.2h1v1h-1zM636.1,538.1h1v1h-1zM558.8,526.4h1v1h-1zM589.4,514.5h1v1h-1zM584.4,510.8h1v1h-1zM601.3,531.6h1v1h-1zM575.0,529.2h1v1h-1zM634.3,520.3h1v1h-1zM535.1,525.5h1v1h-1zM568.2,513.8h1v1h-1zM599.8,532.5h1v1h-1zM592.6,539.2h1v1h-1zM564.0,517.6h1v1h-1zM588.5,493.6h1v1h-1zM573.7,522.6h1v1h-1zM556.3,524.4h1v1h-1zM603.3,515.4h1v1h-1zM591.9,520.4h1v1h-1zM575.0,523.2h1v1h-1zM613.9,527.5h1v1h-1zM594.7,523.6h1v1h-1zM528.5,531.9h1v1h-1zM578.2,523.0h1v1h-1zM566.8,505.8h1v1h-1zM613.5,541.3h1v1h-1zM615.3,502.7h1v1h-1zM591.5,509.6h1v1h-1zM574.3,516.6h1v1h-1zM564.1,513.9h1v1h-1zM567.3,530.2h1v1h-1zM616.2,531.8h1v1h-1zM578.3,520.5h1v1h-1zM572.8,521.8h1v1h-1zM564.1,520.1h1v1h-1zM598.4,519.7h1v1h-1zM559.5,520.7h1v1h-1zM580.6,521.2h1v1h-1zM572.4,529.4h1v1h-1zM577.5,511.4h1v1h-1zM591.8,514.5h1v1h-1zM596.6,530.6h1v1h-1zM589.8,525.3h1v1h-1zM547.0,519.9h1v1h-1zM581.4,528.7h1v1h-1zM552.2,520.4h1v1h-1zM542.5,523.9h1v1h-1zM580.3,523.3h1v1h-1zM617.2,529.8h1v1h-1zM573.9,515.9h1v1h-1zM568.0,530.3h1v1h-1zM599.9,516.7h1v1h-1zM575.7,517.5h1v1h-1zM594.6,524.0h1v1h-1zM538.6,547.9h1v1h-1zM548.5,545.0h1v1h-1zM533.2,535.4h1v1h-1zM552.0,549.9h1v1h-1zM546.3,556.2h1v1h-1zM546.2,559.5h1v1h-1zM539.8,552.9h1v1h-1zM546.9,556.2h1v1h-1zM538.4,548.7h1v1h-1zM535.0,554.5h1v1h-1zM539.5,544.1h1v1h-1zM539.4,554.9h1v1h-1zM543.0,551.7h1v1h-1zM542.9,556.8h1v1h-1zM536.2,548.3h1v1h-1zM546.9,557.2h1v1h-1zM535.2,548.9h1v1h-1zM549.2,557.3h1v1h-1zM541.4,558.9h1v1h-1zM548.8,561.1h1v1h-1zM535.3,545.6h1v1h-1zM539.6,552.7h1v1h-1zM540.4,554.4h1v1h-1zM549.4,559.3h1v1h-1zM547.0,553.0h1v1h-1zM550.2,555.6h1v1h-1zM543.3,552.9h1v1h-1zM533.1,565.4h1v1h-1zM542.0,558.2h1v1h-1zM553.2,551.9h1v1h-1zM536.4,558.9h1v1h-1zM543.3,547.6h1v1h-1zM546.8,553.1h1v1h-1zM537.4,538.5h1v1h-1zM537.2,555.2h1v1h-1zM537.0,558.6h1v1h-1zM552.9,554.8h1v1h-1zM543.2,552.6h1v1h-1zM546.3,553.2h1v1h-1zM547.2,561.2h1v1h-1zM546.3,547.5h1v1h-1zM545.4,551.5h1v1h-1zM543.6,558.6h1v1h-1zM538.8,554.2h1v1h-1zM549.3,548.2h1v1h-1zM541.1,557.2h1v1h-1zM541.0,558.9h1v1h-1zM537.1,544.4h1v1h-1zM544.0,552.2h1v1h-1zM543.6,558.5h1v1h-1zM547.3,551.0h1v1h-1zM540.2,541.9h1v1h-1zM537.3,554.4h1v1h-1zM543.2,544.5h1v1h-1zM546.0,552.8h1v1h-1zM547.5,551.0h1v1h-1zM546.9,546.7h1v1h-1zM532.9,548.4h1v1h-1zM545.5,555.4h1v1h-1zM532.8,553.9h1v1h-1zM545.4,562.6h1v1h-1zM545.9,555.9h1v1h-1zM534.3,555.1h1v1h-1zM532.4,551.3h1v1h-1zM540.3,547.5h1v1h-1zM537.1,552.2h1v1h-1zM545.0,549.3h1v1h-1zM543.6,557.1h1v1h-1zM542.0,563.9h1v1h-1zM540.5,548.8h1v1h-1zM532.7,559.1h1v1h-1zM545.4,552.0h1v1h-1zM543.6,552.3h1v1h-1zM546.4,553.0h1v1h-1zM543.2,552.6h1v1h-1zM537.7,540.4h1v1h-1zM544.8,545.9h1v1h-1zM544.1,556.7h1v1h-1zM551.4,548.8h1v1h-1zM542.8,558.4h1v1h-1zM538.8,549.7h1v1h-1zM544.3,564.8h1v1h-1zM547.4,558.5h1v1h-1zM537.3,556.8h1v1h-1zM547.7,545.8h1v1h-1zM542.1,551.9h1v1h-1zM545.3,543.1h1v1h-1zM545.6,553.0h1v1h-1zM540.8,541.0h1v1h-1zM531.8,549.9h1v1h-1zM545.3,555.4h1v1h-1zM545.8,543.4h1v1h-1zM543.1,560.7h1v1h-1zM534.4,556.7h1v1h-1zM538.5,556.1h1v1h-1zM542.6,543.8h1v1h-1zM536.9,560.2h1v1h-1zM541.5,560.1h1v1h-1zM543.8,558.1h1v1h-1zM540.1,554.3h1v1h-1zM551.2,560.5h1v1h-1zM546.2,563.9h1v1h-1zM599.3,524.3h1v1h-1zM556.2,554.3h1v1h-1zM604.3,564.7h1v1h-1zM562.5,515.6h1v1h-1zM581.2,535.0h1v1h-1zM565.2,551.9h1v1h-1zM583.1,554.9h1v1h-1zM575.1,551.1h1v1h-1zM580.6,539.4h1v1h-1zM561.0,551.4h1v1h-1zM562.5,549.4h1v1h-1zM572.4,545.1h1v1h-1zM533.1,540.5h1v1h-1zM584.0,533.5h1v1h-1zM572.0,550.3h1v1h-1zM538.6,497.0h1v1h-1zM559.9,531.8h1v1h-1zM544.9,560.9h1v1h-1zM541.4,551.0h1v1h-1zM563.3,548.4h1v1h-1zM609.6,511.5h1v1h-1zM584.2,542.6h1v1h-1zM553.5,533.7h1v1h-1zM561.3,545.8h1v1h-1zM537.7,572.9h1v1h-1zM542.0,542.7h1v1h-1zM529.0,547.6h1v1h-1zM569.2,563.5h1v1h-1zM584.6,536.5h1v1h-1zM600.0,543.2h1v1h-1zM598.7,574.1h1v1h-1zM550.4,526.8h1v1h-1zM573.7,569.5h1v1h-1zM570.2,563.6h1v1h-1zM575.0,560.1h1v1h-1zM593.0,540.0h1v1h-1zM540.9,524.8h1v1h-1zM556.2,557.1h1v1h-1zM580.1,530.0h1v1h-1zM550.7,568.0h1v1h-1zM588.0,551.1h1v1h-1zM573.6,498.9h1v1h-1zM574.1,551.5h1v1h-1zM526.0,548.1h1v1h-1zM571.6,543.1h1v1h-1zM579.9,560.0h1v1h-1zM561.6,540.8h1v1h-1zM531.2,564.4h1v1h-1zM546.2,550.4h1v1h-1zM598.1,558.2h1v1h-1zM529.0,543.6h1v1h-1zM542.8,517.1h1v1h-1zM540.6,554.9h1v1h-1zM568.7,541.5h1v1h-1zM564.6,525.3h1v1h-1zM541.4,542.2h1v1h-1zM579.9,539.6h1v1h-1zM556.2,550.7h1v1h-1zM596.5,523.7h1v1h-1zM573.4,548.2h1v1h-1zM558.6,549.2h1v1h-1zM554.5,524.1h1v1h-1zM581.1,543.0h1v1h-1zM551.9,557.9h1v1h-1zM537.6,532.9h1v1h-1zM580.6,559.8h1v1h-1zM610.1,537.3h1v1h-1zM530.8,546.8h1v1h-1zM554.4,533.6h1v1h-1zM535.4,533.2h1v1h-1zM551.3,565.2h1v1h-1zM575.7,568.2h1v1h-1zM580.5,557.9h1v1h-1zM589.3,552.7h1v1h-1zM598.2,564.2h1v1h-1zM605.0,548.7h1v1h-1zM541.2,587.6h1v1h-1zM553.4,553.9h1v1h-1zM551.0,533.2h1v1h-1zM571.0,526.1h1v1h-1zM556.3,568.9h1v1h-1zM563.3,558.9h1v1h-1zM576.0,551.5h1v1h-1zM562.9,555.4h1v1h-1zM536.4,554.9h1v1h-1zM533.8,532.2h1v1h-1zM545.8,522.4h1v1h-1zM572.6,556.2h1v1h-1zM614.7,548.0h1v1h-1zM578.7,532.4h1v1h-1zM577.7,525.7h1v1h-1zM608.8,528.7h1v1h-1zM550.1,557.7h1v1h-1zM536.8,548.4h1v1h-1zM584.4,547.6h1v1h-1zM583.2,536.5h1v1h-1zM574.8,508.2h1v1h-1zM597.5,533.8h1v1h-1zM538.9,545.3h1v1h-1zM602.1,533.1h1v1h-1zM559.6,538.9h1v1h-1zM537.2,522.9h1v1h-1zM574.7,557.0h1v1h-1zM541.7,548.9h1v1h-1zM571.2,551.5h1v1h-1zM556.1,545.8h1v1h-1zM567.0,527.0h1v1h-1zM556.6,558.5h1v1h-1zM546.3,567.2h1v1h-1zM554.2,526.4h1v1h-1zM634.0,556.5h1v1h-1zM642.1,551.8h1v1h-1zM636.8,560.8h1v1h-1zM633.9,565.2h1v1h-1zM639.2,558.1h1v1h-1zM643.9,556.6h1v1h-1zM644.6,565.1h1v1h-1zM640.0,565.1h1v1h-1zM624.8,569.9h1v1h-1zM623.4,566.9h1v1h-1zM642.8,546.2h1v1h-1zM629.7,561.2h1v1h-1zM628.3,565.7h1v1h-1zM642.3,553.9h1v1h-1zM631.1,555.3h1v1h-1zM630.4,554.5h1v1h-1zM623.3,570.1h1v1h-1zM644.4,554.6h1v1h-1zM639.7,556.8h1v1h-1zM646.1,566.4h1v1h-1zM614.8,567.2h1v1h-1zM630.9,562.1h1v1h-1zM650.5,563.7h1v1h-1zM636.5,565.2h1v1h-1zM622.5,566.7h1v1h-1zM634.1,562.4h1v1h-1zM639.3,553.2h1v1h-1zM627.4,576.5h1v1h-1zM621.2,569.0h1v1h-1zM643.1,561.6h1v1h-1zM637.1,553.9h1v1h-1zM632.5,556.2h1v1h-1zM654.0,556.2h1v1h-1zM643.1,560.2h1v1h-1zM633.2,569.3h1v1h-1zM644.4,561.7h1v1h-1zM641.8,563.4h1v1h-1zM634.1,565.2h1v1h-1zM637.3,560.5h1v1h-1zM642.4,570.0h1v1h-1zM618.6,576.8h1v1h-1zM632.8,569.6h1v1h-1zM627.6,565.0h1v1h-1zM645.7,557.7h1v1h-1zM639.7,554.7h1v1h-1zM626.4,574.6h1v1h-1zM638.0,561.0h1v1h-1zM624.3,562.2h1v1h-1zM627.5,565.7h1v1h-1zM635.6,559.5h1v1h-1zM630.7,565.1h1v1h-1zM647.0,550.6h1v1h-1zM624.0,573.0h1v1h-1zM623.9,565.5h1v1h-1zM637.7,570.5h1v1h-1zM618.5,555.6h1v1h-1zM635.9,567.6h1v1h-1zM637.9,557.5h1v1h-1zM638.3,551.2h1v1h-1zM643.9,566.1h1v1h-1zM634.8,566.8h1v1h-1zM627.2,573.3h1v1h-1zM630.9,560.6h1v1h-1zM629.8,556.3h1v1h-1zM642.6,569.2h1v1h-1zM623.9,566.5h1v1h-1zM640.6,557.5h1v1h-1zM622.7,569.6h1v1h-1zM645.5,558.7h1v1h-1zM627.1,564.6h1v1h-1zM619.5,569.1h1v1h-1zM647.4,562.8h1v1h-1zM635.8,564.5h1v1h-1zM632.0,564.6h1v1h-1zM631.3,565.1h1v1h-1zM632.0,565.0h1v1h-1zM642.8,559.2h1v1h-1zM625.1,569.4h1v1h-1zM634.4,560.5h1v1h-1zM641.6,555.7h1v1h-1zM644.9,561.2h1v1h-1zM630.5,561.2h1v1h-1zM635.5,558.0h1v1h-1zM645.0,547.3h1v1h-1zM637.9,559.7h1v1h-1zM626.9,569.3h1v1h-1zM632.3,566.1h1v1h-1zM632.7,562.3h1v1h-1zM641.2,564.7h1v1h-1zM645.5,558.1h1v1h-1zM649.7,554.6h1v1h-1zM624.5,558.1h1v1h-1zM623.8,563.3h1v1h-1zM620.8,570.5h1v1h-1zM636.9,561.7h1v1h-1zM638.7,560.6h1v1h-1zM634.4,561.4h1v1h-1zM637.0,556.3h1v1h-1zM647.9,564.7h1v1h-1zM636.9,573.0h1v1h-1zM628.0,570.2h1v1h-1zM622.3,571.2h1v1h-1zM630.0,569.8h1v1h-1zM637.6,566.2h1v1h-1zM642.0,562.3h1v1h-1zM634.2,570.9h1v1h-1zM639.8,563.0h1v1h-1zM649.3,555.2h1v1h-1zM652.1,560.6h1v1h-1zM637.3,554.6h1v1h-1zM647.4,555.8h1v1h-1zM637.5,562.2h1v1h-1zM645.1,561.4h1v1h-1zM620.5,565.8h1v1h-1zM639.7,561.5h1v1h-1zM643.7,561.7h1v1h-1zM651.0,552.2h1v1h-1zM648.2,558.9h1v1h-1zM639.3,564.2h1v1h-1zM633.7,566.8h1v1h-1zM634.8,566.3h1v1h-1zM629.9,570.7h1v1h-1zM623.2,564.6h1v1h-1zM636.2,563.4h1v1h-1zM629.6,563.1h1v1h-1zM638.9,566.2h1v1h-1zM648.1,554.7h1v1h-1zM636.0,560.7h1v1h-1zM623.2,565.6h1v1h-1zM646.6,551.0h1v1h-1zM661.9,555.8h1v1h-1zM652.0,556.3h1v1h-1zM616.3,573.0h1v1h-1zM650.7,553.1h1v1h-1zM647.9,560.9h1v1h-1zM643.6,562.7h1v1h-1zM641.8,562.9h1v1h-1zM647.2,559.5h1v1h-1zM642.2,561.7h1v1h-1zM637.9,557.2h1v1h-1zM620.8,563.9h1v1h-1zM625.7,559.5h1v1h-1zM642.8,557.7h1v1h-1zM647.9,572.5h1v1h-1zM643.5,556.7h1v1h-1zM640.0,559.5h1v1h-1zM639.2,571.2h1v1h-1zM650.8,562.2h1v1h-1zM639.2,569.7h1v1h-1zM644.0,563.2h1v1h-1zM626.3,563.4h1v1h-1zM638.2,560.3h1v1h-1zM632.1,554.1h1v1h-1zM630.1,564.3h1v1h-1zM639.4,555.5h1v1h-1zM635.5,571.4h1v1h-1zM638.1,551.7h1v1h-1zM635.0,562.7h1v1h-1zM647.9,558.1h1v1h-1zM648.8,558.4h1v1h-1zM647.0,564.2h1v1h-1zM650.3,557.1h1v1h-1zM642.4,578.9h1v1h-1zM625.9,567.6h1v1h-1zM640.9,556.7h1v1h-1zM644.0,558.0h1v1h-1zM643.7,559.9h1v1h-1zM628.4,570.7h1v1h-1zM654.4,558.9h1v1h-1zM639.2,552.4h1v1h-1zM639.5,560.6h1v1h-1zM629.7,555.6h1v1h-1zM640.6,565.1h1v1h-1zM643.0,570.5h1v1h-1zM619.9,571.0h1v1h-1zM636.4,569.1h1v1h-1zM636.4,557.3h1v1h-1zM636.2,564.4h1v1h-1zM630.2,560.9h1v1h-1zM639.0,565.3h1v1h-1zM634.6,565.3h1v1h-1zM632.2,562.2h1v1h-1zM638.4,566.0h1v1h-1zM650.7,555.3h1v1h-1zM640.7,570.0h1v1h-1zM644.1,557.0h1v1h-1zM640.3,553.4h1v1h-1zM618.2,566.2h1v1h-1zM630.4,558.1h1v1h-1zM645.8,555.8h1v1h-1zM637.5,562.0h1v1h-1zM634.9,557.0h1v1h-1zM653.8,544.8h1v1h-1zM636.4,565.5h1v1h-1zM634.9,562.2h1v1h-1zM639.4,562.0h1v1h-1zM633.8,568.6h1v1h-1zM641.2,567.5h1v1h-1zM637.5,551.8h1v1h-1zM622.2,565.8h1v1h-1zM640.7,552.2h1v1h-1zM631.8,570.3h1v1h-1zM639.7,557.2h1v1h-1zM635.8,563.0h1v1h-1zM633.0,562.0h1v1h-1zM631.1,565.5h1v1h-1zM650.7,563.1h1v1h-1zM625.8,578.2h1v1h-1zM635.7,555.5h1v1h-1zM623.6,568.4h1v1h-1zM638.8,557.9h1v1h-1zM629.7,564.0h1v1h-1zM639.0,564.3h1v1h-1zM641.6,548.1h1v1h-1zM631.5,565.5h1v1h-1zM640.0,564.5h1v1h-1zM623.7,575.4h1v1h-1zM626.3,565.5h1v1h-1zM632.7,561.4h1v1h-1zM629.9,569.0h1v1h-1zM643.7,560.7h1v1h-1zM625.6,563.7h1v1h-1zM636.2,564.2h1v1h-1zM631.9,562.7h1v1h-1zM659.8,552.3h1v1h-1zM634.1,550.9h1v1h-1zM630.2,572.9h1v1h-1zM644.2,552.9h1v1h-1zM643.6,559.8h1v1h-1zM629.8,568.9h1v1h-1zM631.4,562.8h1v1h-1zM636.9,562.9h1v1h-1zM632.9,565.1h1v1h-1zM636.8,562.9h1v1h-1zM640.2,557.3h1v1h-1zM624.8,566.8h1v1h-1zM647.5,558.9h1v1h-1zM638.7,557.4h1v1h-1zM626.8,560.1h1v1h-1zM628.7,563.6h1v1h-1zM623.3,567.2h1v1h-1zM623.0,571.1h1v1h-1zM636.5,553.4h1v1h-1zM632.0,565.2h1v1h-1zM640.1,564.4h1v1h-1zM633.7,562.6h1v1h-1zM634.7,565.5h1v1h-1zM630.7,563.8h1v1h-1zM638.0,559.7h1v1h-1zM627.3,572.8h1v1h-1zM641.1,555.6h1v1h-1zM653.9,550.7h1v1h-1zM629.2,563.4h1v1h-1zM641.4,567.3h1v1h-1zM648.7,559.5h1v1h-1zM637.3,565.0h1v1h-1zM629.9,561.5h1v1h-1zM641.4,561.0h1v1h-1zM638.8,556.0h1v1h-1zM638.9,553.9h1v1h-1zM644.8,558.5h1v1h-1zM631.2,562.1h1v1h-1zM661.0,567.0h1v1h-1zM630.7,571.4h1v1h-1zM611.5,578.5h1v1h-1zM636.9,563.2h1v1h-1zM628.4,559.1h1v1h-1zM638.8,558.9h1v1h-1zM641.2,565.3h1v1h-1zM635.8,565.1h1v1h-1zM638.3,562.5h1v1h-1zM632.3,565.1h1v1h-1zM640.6,560.7h1v1h-1zM632.8,556.5h1v1h-1zM627.5,573.7h1v1h-1zM645.6,559.6h1v1h-1zM639.3,560.1h1v1h-1zM642.7,564.1h1v1h-1zM634.6,564.4h1v1h-1zM645.1,550.5h1v1h-1zM628.6,562.7h1v1h-1zM626.7,564.2h1v1h-1zM629.4,563.2h1v1h-1zM640.9,554.3h1v1h-1zM637.6,568.4h1v1h-1zM638.4,555.2h1v1h-1zM631.5,570.0h1v1h-1zM634.5,559.8h1v1h-1zM643.6,555.5h1v1h-1zM627.1,569.2h1v1h-1zM636.9,558.7h1v1h-1zM640.8,565.7h1v1h-1zM646.2,558.4h1v1h-1zM640.8,562.7h1v1h-1zM623.9,575.8h1v1h-1zM631.0,561.7h1v1h-1zM629.6,560.3h1v1h-1zM646.3,557.9h1v1h-1zM631.8,555.1h1v1h-1zM638.2,561.1h1v1h-1zM627.8,565.4h1v1h-1zM620.9,572.0h1v1h-1zM626.2,569.0h1v1h-1zM637.6,551.1h1v1h-1zM627.1,562.9h1v1h-1zM643.6,562.0h1v1h-1zM642.2,567.9h1v1h-1zM634.3,560.5h1v1h-1zM620.5,563.9h1v1h-1zM641.7,555.7h1v1h-1zM629.2,570.0h1v1h-1zM615.4,578.1h1v1h-1zM648.0,548.2h1v1h-1zM640.9,560.2h1v1h-1zM644.6,556.9h1v1h-1zM635.7,569.4h1v1h-1zM631.6,566.3h1v1h-1zM642.3,559.0h1v1h-1zM644.4,561.3h1v1h-1zM644.0,550.4h1v1h-1zM627.8,567.3h1v1h-1zM646.9,564.7h1v1h-1zM636.9,558.2h1v1h-1zM627.3,556.4h1v1h-1zM632.5,566.7h1v1h-1zM636.2,554.9h1v1h-1zM635.9,562.6h1v1h-1zM630.3,572.0h1v1h-1zM640.6,565.8h1v1h-1zM637.7,556.8h1v1h-1zM646.1,563.4h1v1h-1zM631.7,557.6h1v1h-1zM643.8,556.1h1v1h-1zM626.7,565.9h1v1h-1zM641.6,556.2h1v1h-1zM637.1,566.8h1v1h-1zM643.3,551.5h1v1h-1zM643.0,568.1h1v1h-1zM644.7,558.1h1v1h-1zM640.0,552.8h1v1h-1zM631.7,561.6h1v1h-1zM654.7,554.2h1v1h-1zM628.4,574.0h1v1h-1zM647.4,549.2h1v1h-1zM635.1,554.3h1v1h-1zM645.8,546.8h1v1h-1zM652.8,549.8h1v1h-1zM627.8,576.4h1v1h-1zM641.4,561.7h1v1h-1zM644.2,553.9h1v1h-1zM644.3,557.3h1v1h-1zM641.3,561.2h1v1h-1zM648.7,550.4h1v1h-1zM624.8,570.4h1v1h-1zM657.2,555.8h1v1h-1zM635.4,565.9h1v1h-1zM626.4,566.9h1v1h-1zM622.3,568.8h1v1h-1zM643.0,567.7h1v1h-1zM632.5,568.5h1v1h-1zM648.4,551.8h1v1h-1zM634.4,553.8h1v1h-1zM629.2,567.4h1v1h-1zM619.3,568.1h1v1h-1zM643.0,566.4h1v1h-1zM615.2,573.2h1v1h-1zM631.5,552.8h1v1h-1zM628.0,568.7h1v1h-1zM636.6,565.5h1v1h-1zM634.2,566.4h1v1h-1zM628.4,560.8h1v1h-1zM635.4,553.9h1v1h-1zM647.4,556.1h1v1h-1zM628.3,561.3h1v1h-1zM628.5,566.2h1v1h-1zM633.6,567.6h1v1h-1zM626.9,565.9h1v1h-1zM623.8,565.3h1v1h-1zM648.5,556.3h1v1h-1zM644.4,558.3h1v1h-1zM627.4,561.7h1v1h-1zM627.1,567.9h1v1h-1zM638.8,575.7h1v1h-1zM651.1,560.0h1v1h-1zM628.4,566.2h1v1h-1zM629.0,577.1h1v1h-1zM630.6,570.5h1v1h-1zM625.2,570.8h1v1h-1zM626.2,564.2h1v1h-1zM638.2,562.0h1v1h-1zM636.3,561.9h1v1h-1zM629.4,564.6h1v1h-1zM636.2,557.6h1v1h-1zM641.6,560.7h1v1h-1zM630.3,571.3h1v1h-1zM631.8,554.6h1v1h-1zM647.6,555.4h1v1h-1zM649.4,558.7h1v1h-1zM629.1,570.9h1v1h-1zM640.7,564.9h1v1h-1zM637.1,569.6h1v1h-1zM644.7,556.8h1v1h-1zM623.8,567.4h1v1h-1zM637.3,556.8h1v1h-1zM635.1,570.2h1v1h-1zM632.7,569.4h1v1h-1zM628.7,560.6h1v1h-1zM644.8,557.6h1v1h-1zM638.6,566.3h1v1h-1zM650.8,549.7h1v1h-1zM641.8,560.9h1v1h-1zM638.0,570.4h1v1h-1zM634.7,559.9h1v1h-1zM641.1,550.0h1v1h-1zM639.9,556.2h1v1h-1zM639.5,557.1h1v1h-1zM641.1,558.9h1v1h-1zM630.6,567.4h1v1h-1zM643.2,551.2h1v1h-1zM625.6,565.5h1v1h-1zM633.5,570.0h1v1h-1zM650.4,558.5h1v1h-1zM646.2,556.3h1v1h-1zM625.0,568.6h1v1h-1zM621.6,576.7h1v1h-1zM638.9,566.8h1v1h-1zM631.2,556.3h1v1h-1zM635.0,565.2h1v1h-1zM634.9,560.2h1v1h-1zM637.4,560.7h1v1h-1zM648.7,550.2h1v1h-1zM617.7,569.8h1v1h-1zM639.0,553.3h1v1h-1zM636.4,564.4h1v1h-1zM639.6,562.3h1v1h-1zM630.2,557.6h1v1h-1zM644.9,556.7h1v1h-1zM624.9,574.9h1v1h-1zM643.1,545.2h1v1h-1zM659.0,553.1h1v1h-1zM622.8,572.8h1v1h-1zM639.5,567.0h1v1h-1zM636.8,553.6h1v1h-1zM635.3,560.5h1v1h-1zM639.2,560.0h1v1h-1zM641.5,553.8h1v1h-1zM632.0,561.4h1v1h-1zM640.3,551.9h1v1h-1zM636.7,573.9h1v1h-1zM621.2,573.9h1v1h-1zM637.6,566.6h1v1h-1zM637.2,563.1h1v1h-1zM639.9,562.9h1v1h-1zM626.3,565.8h1v1h-1zM652.4,562.3h1v1h-1zM629.4,560.4h1v1h-1zM635.2,567.9h1v1h-1zM644.6,555.6h1v1h-1zM616.2,570.6h1v1h-1zM622.4,574.2h1v1h-1zM649.5,559.8h1v1h-1zM641.8,562.6h1v1h-1zM652.6,560.6h1v1h-1zM649.1,550.8h1v1h-1zM632.2,563.9h1v1h-1zM617.5,568.9h1v1h-1zM636.5,561.7h1v1h-1zM658.5,551.5h1v1h-1zM635.0,562.1h1v1h-1zM633.7,556.2h1v1h-1zM646.3,557.9h1v1h-1zM639.8,560.8h1v1h-1zM630.0,556.9h1v1h-1zM634.2,565.7h1v1h-1zM635.6,566.1h1v1h-1zM629.9,563.5h1v1h-1zM638.0,560.9h1v1h-1zM638.2,568.5h1v1h-1zM633.1,564.2h1v1h-1zM631.1,567.2h1v1h-1zM638.6,557.5h1v1h-1zM628.0,559.7h1v1h-1zM634.2,563.8h1v1h-1zM632.4,563.3h1v1h-1zM637.8,573.3h1v1h-1zM646.8,569.2h1v1h-1zM637.8,562.6h1v1h-1zM653.5,556.6h1v1h-1zM642.3,557.0h1v1h-1zM632.0,567.9h1v1h-1zM631.5,560.9h1v1h-1zM623.8,569.1h1v1h-1zM635.8,565.1h1v1h-1zM629.2,559.0h1v1h-1zM646.2,558.0h1v1h-1zM643.5,553.3h1v1h-1zM625.5,554.1h1v1h-1zM639.2,565.8h1v1h-1zM648.1,565.9h1v1h-1zM620.9,563.3h1v1h-1zM632.1,560.0h1v1h-1zM634.8,558.8h1v1h-1zM624.0,567.3h1v1h-1zM637.7,557.7h1v1h-1zM636.9,555.4h1v1h-1zM633.8,561.5h1v1h-1zM632.7,563.3h1v1h-1zM625.7,560.0h1v1h-1zM629.5,568.8h1v1h-1zM628.4,560.9h1v1h-1zM653.8,553.3h1v1h-1zM633.3,559.0h1v1h-1zM649.3,559.1h1v1h-1zM638.9,569.0h1v1h-1zM626.3,558.0h1v1h-1zM646.2,560.0h1v1h-1zM632.2,567.9h1v1h-1zM635.8,572.2h1v1h-1zM625.7,568.6h1v1h-1zM645.1,562.8h1v1h-1zM633.5,561.4h1v1h-1zM632.9,567.1h1v1h-1zM633.1,562.8h1v1h-1zM645.5,557.6h1v1h-1zM638.7,560.5h1v1h-1zM636.7,550.8h1v1h-1zM628.5,567.4h1v1h-1zM631.1,561.3h1v1h-1zM637.1,573.3h1v1h-1zM630.0,560.1h1v1h-1zM621.1,571.0h1v1h-1zM636.1,558.0h1v1h-1zM633.1,568.5h1v1h-1zM645.4,560.0h1v1h-1zM646.6,562.8h1v1h-1zM632.6,567.7h1v1h-1zM638.0,565.3h1v1h-1zM639.0,571.7h1v1h-1zM625.7,568.5h1v1h-1zM627.2,577.7h1v1h-1zM632.1,562.1h1v1h-1zM636.4,561.9h1v1h-1zM651.4,555.3h1v1h-1zM638.8,566.4h1v1h-1zM649.7,551.5h1v1h-1zM639.2,554.2h1v1h-1zM640.9,567.3h1v1h-1zM632.1,562.6h1v1h-1zM646.9,559.8h1v1h-1zM643.6,556.7h1v1h-1zM633.9,561.3h1v1h-1zM650.2,548.6h1v1h-1zM632.1,571.8h1v1h-1zM636.0,556.8h1v1h-1zM638.6,560.0h1v1h-1zM635.5,565.0h1v1h-1zM643.4,551.5h1v1h-1zM638.3,568.8h1v1h-1zM625.0,566.6h1v1h-1zM626.5,569.7h1v1h-1zM629.3,563.5h1v1h-1zM633.0,565.9h1v1h-1zM625.3,559.9h1v1h-1zM638.2,568.2h1v1h-1zM632.2,566.0h1v1h-1zM638.9,561.6h1v1h-1zM636.4,559.3h1v1h-1zM634.5,569.0h1v1h-1zM640.4,566.8h1v1h-1zM630.3,565.3h1v1h-1zM631.0,557.7h1v1h-1zM644.4,557.2h1v1h-1zM638.7,553.9h1v1h-1zM634.4,562.3h1v1h-1zM633.2,568.6h1v1h-1zM640.5,561.0h1v1h-1zM638.6,558.9h1v1h-1zM630.4,563.3h1v1h-1zM627.7,565.0h1v1h-1zM635.6,568.2h1v1h-1zM632.8,576.0h1v1h-1zM632.1,564.6h1v1h-1zM636.3,559.0h1v1h-1zM636.0,553.3h1v1h-1zM646.2,554.9h1v1h-1zM636.3,552.9h1v1h-1zM641.5,553.4h1v1h-1zM648.3,551.6h1v1h-1zM630.2,568.1h1v1h-1zM647.6,547.2h1v1h-1zM622.0,576.5h1v1h-1zM640.4,552.6h1v1h-1zM632.8,567.2h1v1h-1zM633.2,571.1h1v1h-1zM630.4,565.5h1v1h-1zM646.5,565.2h1v1h-1zM638.6,564.1h1v1h-1zM633.6,562.9h1v1h-1zM631.6,566.1h1v1h-1zM643.8,553.7h1v1h-1zM626.5,566.6h1v1h-1zM653.8,555.7h1v1h-1zM637.7,561.3h1v1h-1zM622.1,564.7h1v1h-1zM649.6,545.7h1v1h-1zM652.0,549.2h1v1h-1zM654.1,567.8h1v1h-1zM649.5,555.7h1v1h-1zM641.6,557.0h1v1h-1zM632.7,564.7h1v1h-1zM609.4,576.6h1v1h-1zM633.8,557.7h1v1h-1zM634.1,566.4h1v1h-1zM629.9,566.7h1v1h-1zM624.9,567.5h1v1h-1zM626.6,570.2h1v1h-1zM627.5,569.1h1v1h-1zM619.4,570.4h1v1h-1zM646.0,553.7h1v1h-1zM637.0,557.4h1v1h-1zM640.7,564.1h1v1h-1zM646.4,564.5h1v1h-1zM647.8,553.4h1v1h-1zM637.5,564.3h1v1h-1zM638.2,554.6h1v1h-1zM654.0,567.5h1v1h-1zM637.0,548.5h1v1h-1zM652.3,554.3h1v1h-1zM656.1,548.2h1v1h-1zM641.1,564.1h1v1h-1zM624.1,565.7h1v1h-1zM640.8,563.6h1v1h-1zM639.9,547.2h1v1h-1zM615.9,572.8h1v1h-1zM650.3,548.2h1v1h-1zM639.9,565.3h1v1h-1zM628.1,557.5h1v1h-1zM638.8,558.7h1v1h-1zM635.7,561.3h1v1h-1zM635.5,564.1h1v1h-1zM631.9,563.8h1v1h-1zM631.6,559.7h1v1h-1zM639.5,556.5h1v1h-1zM641.1,559.9h1v1h-1zM645.8,561.0h1v1h-1zM619.2,569.4h1v1h-1zM642.2,560.1h1v1h-1zM636.9,567.4h1v1h-1zM642.3,552.6h1v1h-1zM637.3,566.8h1v1h-1zM637.8,554.9h1v1h-1zM643.2,562.2h1v1h-1zM646.4,558.6h1v1h-1zM637.5,566.0h1v1h-1zM627.0,575.0h1v1h-1zM640.0,561.7h1v1h-1zM643.0,563.3h1v1h-1zM617.5,575.0h1v1h-1zM635.6,558.4h1v1h-1zM644.3,563.5h1v1h-1zM639.8,557.4h1v1h-1zM637.4,556.7h1v1h-1zM658.3,549.2h1v1h-1zM644.1,567.1h1v1h-1zM629.1,562.5h1v1h-1zM617.2,569.1h1v1h-1zM625.1,567.8h1v1h-1zM634.6,562.9h1v1h-1zM636.8,559.5h1v1h-1zM637.5,561.3h1v1h-1zM630.3,563.1h1v1h-1zM631.6,557.5h1v1h-1zM636.3,552.5h1v1h-1zM641.1,559.9h1v1h-1zM637.9,567.4h1v1h-1zM644.7,556.2h1v1h-1zM639.5,566.9h1v1h-1zM635.1,564.6h1v1h-1zM640.1,555.1h1v1h-1zM638.9,559.0h1v1h-1zM634.2,565.2h1v1h-1zM642.1,554.9h1v1h-1zM634.3,562.0h1v1h-1zM628.3,567.5h1v1h-1zM634.7,559.1h1v1h-1zM644.6,558.1h1v1h-1zM626.5,565.9h1v1h-1zM634.9,564.2h1v1h-1zM655.9,556.4h1v1h-1zM648.9,555.7h1v1h-1zM640.5,562.8h1v1h-1zM635.6,563.7h1v1h-1zM632.6,567.3h1v1h-1zM628.7,574.2h1v1h-1zM604.4,568.8h1v1h-1zM635.4,564.4h1v1h-1zM637.7,553.1h1v1h-1zM640.2,555.9h1v1h-1zM638.2,559.1h1v1h-1zM634.2,555.2h1v1h-1zM625.2,564.0h1v1h-1zM627.3,567.3h1v1h-1zM624.4,568.4h1v1h-1zM641.2,556.1h1v1h-1zM628.2,563.8h1v1h-1zM643.3,566.3h1v1h-1zM655.1,554.4h1v1h-1zM641.8,560.7h1v1h-1zM636.3,556.6h1v1h-1zM633.4,569.1h1v1h-1zM648.4,553.8h1v1h-1zM622.5,577.8h1v1h-1zM636.7,564.3h1v1h-1zM635.0,553.4h1v1h-1zM639.2,555.9h1v1h-1zM634.0,559.9h1v1h-1zM634.2,575.4h1v1h-1zM649.5,546.3h1v1h-1zM623.2,565.2h1v1h-1zM630.7,568.5h1v1h-1zM650.0,552.4h1v1h-1zM641.4,558.8h1v1h-1zM619.4,575.5h1v1h-1zM651.5,551.3h1v1h-1zM641.9,557.0h1v1h-1zM635.6,560.0h1v1h-1zM635.3,562.8h1v1h-1zM631.2,565.7h1v1h-1zM625.3,571.1h1v1h-1zM628.2,556.0h1v1h-1zM643.6,557.2h1v1h-1zM631.9,568.7h1v1h-1zM636.2,572.2h1v1h-1zM640.1,553.1h1v1h-1zM632.1,560.5h1v1h-1zM634.0,571.8h1v1h-1zM659.9,560.7h1v1h-1zM640.4,563.2h1v1h-1zM637.9,550.0h1v1h-1zM648.5,567.1h1v1h-1zM632.0,563.8h1v1h-1zM630.3,563.6h1v1h-1zM629.0,559.4h1v1h-1zM646.9,547.5h1v1h-1zM645.4,552.3h1v1h-1zM634.3,552.6h1v1h-1zM642.1,554.4h1v1h-1zM658.0,547.9h1v1h-1zM638.6,564.5h1v1h-1zM628.1,561.4h1v1h-1zM627.3,568.9h1v1h-1zM639.0,566.2h1v1h-1zM624.1,562.6h1v1h-1zM635.5,560.2h1v1h-1zM639.2,566.7h1v1h-1zM637.6,557.4h1v1h-1zM636.1,558.5h1v1h-1zM630.8,574.1h1v1h-1zM642.3,568.9h1v1h-1zM634.7,562.5h1v1h-1zM625.6,568.0h1v1h-1zM642.8,562.9h1v1h-1zM626.4,566.9h1v1h-1zM644.4,556.2h1v1h-1zM642.6,556.8h1v1h-1zM636.4,559.0h1v1h-1zM623.7,563.3h1v1h-1zM638.0,559.9h1v1h-1zM636.4,559.1h1v1h-1zM644.1,557.8h1v1h-1zM639.9,558.1h1v1h-1zM647.7,556.6h1v1h-1zM640.2,571.8h1v1h-1zM640.2,552.4h1v1h-1zM630.7,566.2h1v1h-1zM625.1,559.3h1v1h-1zM635.5,554.3h1v1h-1zM645.9,560.2h1v1h-1zM633.8,569.4h1v1h-1zM630.6,558.5h1v1h-1zM644.3,558.7h1v1h-1zM634.5,568.2h1v1h-1zM635.3,565.9h1v1h-1zM638.4,567.2h1v1h-1zM641.2,557.5h1v1h-1zM649.5,554.6h1v1h-1zM651.5,549.0h1v1h-1zM637.0,550.3h1v1h-1zM641.0,567.0h1v1h-1zM633.1,565.9h1v1h-1zM634.6,570.3h1v1h-1zM639.4,562.6h1v1h-1zM646.0,550.1h1v1h-1zM642.5,560.1h1v1h-1zM647.7,557.3h1v1h-1zM641.7,559.5h1v1h-1zM628.0,563.1h1v1h-1zM635.0,555.8h1v1h-1zM636.1,559.8h1v1h-1zM652.2,554.0h1v1h-1zM637.6,562.0h1v1h-1zM642.5,551.1h1v1h-1zM621.5,576.7h1v1h-1zM629.3,560.5h1v1h-1zM646.6,559.2h1v1h-1zM629.6,568.9h1v1h-1zM626.8,574.6h1v1h-1zM633.8,564.9h1v1h-1zM636.5,572.0h1v1h-1zM628.3,565.1h1v1h-1zM655.0,543.5h1v1h-1zM632.3,565.3h1v1h-1zM634.7,565.1h1v1h-1zM646.5,551.8h1v1h-1zM630.9,571.2h1v1h-1zM653.4,540.9h1v1h-1zM641.2,565.1h1v1h-1zM630.7,560.1h1v1h-1zM626.8,565.2h1v1h-1zM626.7,569.9h1v1h-1zM630.6,567.3h1v1h-1zM623.1,572.4h1v1h-1zM642.3,564.4h1v1h-1zM638.9,572.8h1v1h-1zM644.9,558.6h1v1h-1zM650.4,554.2h1v1h-1zM637.9,569.9h1v1h-1zM632.6,563.7h1v1h-1zM638.7,562.0h1v1h-1zM634.6,568.1h1v1h-1zM655.2,552.0h1v1h-1zM623.9,565.1h1v1h-1zM624.6,560.6h1v1h-1zM627.7,571.3h1v1h-1zM637.9,565.1h1v1h-1zM635.6,567.7h1v1h-1zM633.1,570.2h1v1h-1zM644.2,559.8h1v1h-1zM623.9,561.8h1v1h-1zM638.8,555.7h1v1h-1zM635.1,561.8h1v1h-1zM648.5,553.3h1v1h-1zM637.7,559.1h1v1h-1zM630.1,567.1h1v1h-1zM644.9,551.0h1v1h-1zM649.5,567.9h1v1h-1zM637.9,564.1h1v1h-1zM627.6,563.8h1v1h-1zM639.3,560.4h1v1h-1zM648.5,552.3h1v1h-1zM634.5,565.6h1v1h-1zM636.0,561.0h1v1h-1zM635.6,564.5h1v1h-1zM620.0,582.5h1v1h-1zM643.0,553.8h1v1h-1zM628.8,559.6h1v1h-1zM640.4,550.8h1v1h-1zM657.7,550.0h1v1h-1zM624.5,577.8h1v1h-1zM636.6,564.6h1v1h-1zM635.0,561.4h1v1h-1zM654.3,544.2h1v1h-1zM638.8,557.2h1v1h-1zM633.7,563.0h1v1h-1zM620.8,572.0h1v1h-1zM638.4,564.1h1v1h-1zM631.5,568.0h1v1h-1zM632.6,567.7h1v1h-1zM648.2,560.2h1v1h-1zM624.2,567.7h1v1h-1zM627.7,575.9h1v1h-1zM638.3,554.7h1v1h-1zM623.5,574.5h1v1h-1zM628.0,567.8h1v1h-1zM633.8,562.5h1v1h-1zM632.8,563.7h1v1h-1zM650.5,551.5h1v1h-1zM641.1,562.5h1v1h-1zM630.9,558.9h1v1h-1zM629.0,568.3h1v1h-1zM638.0,566.7h1v1h-1zM639.8,561.2h1v1h-1zM636.8,563.1h1v1h-1zM637.0,565.3h1v1h-1zM629.2,570.7h1v1h-1zM650.6,555.5h1v1h-1zM641.5,553.9h1v1h-1zM637.5,554.3h1v1h-1zM645.2,558.5h1v1h-1zM645.9,563.8h1v1h-1zM630.3,568.9h1v1h-1zM650.0,567.6h1v1h-1zM635.7,565.2h1v1h-1zM631.2,567.6h1v1h-1zM641.8,567.2h1v1h-1zM635.4,562.9h1v1h-1zM640.9,559.3h1v1h-1zM654.5,542.9h1v1h-1zM621.9,565.8h1v1h-1zM642.6,559.5h1v1h-1zM640.3,552.7h1v1h-1zM641.8,562.6h1v1h-1zM650.8,560.1h1v1h-1zM631.3,560.5h1v1h-1zM626.9,563.7h1v1h-1zM635.8,568.8h1v1h-1zM650.9,556.2h1v1h-1zM641.8,558.9h1v1h-1zM625.5,569.6h1v1h-1zM630.4,556.5h1v1h-1zM629.4,572.7h1v1h-1zM626.7,573.3h1v1h-1zM624.9,566.8h1v1h-1zM641.0,558.1h1v1h-1zM628.3,565.6h1v1h-1zM651.1,559.1h1v1h-1zM638.4,564.2h1v1h-1zM646.9,564.3h1v1h-1zM634.3,558.5h1v1h-1zM628.2,566.0h1v1h-1zM634.1,563.2h1v1h-1zM631.3,577.0h1v1h-1zM630.6,571.9h1v1h-1zM629.2,561.2h1v1h-1zM626.5,560.8h1v1h-1zM622.5,563.9h1v1h-1zM634.6,566.4h1v1h-1zM621.2,570.9h1v1h-1zM635.7,562.4h1v1h-1zM618.0,572.6h1v1h-1zM642.4,565.4h1v1h-1zM634.1,569.4h1v1h-1zM637.3,557.1h1v1h-1zM641.2,565.0h1v1h-1zM638.7,561.0h1v1h-1zM634.5,566.3h1v1h-1zM621.0,570.3h1v1h-1zM625.5,564.2h1v1h-1zM638.4,567.5h1v1h-1zM636.5,557.3h1v1h-1zM660.2,553.4h1v1h-1zM613.2,571.7h1v1h-1zM630.3,561.7h1v1h-1zM645.8,568.9h1v1h-1zM637.5,554.8h1v1h-1zM644.2,559.2h1v1h-1zM633.1,564.6h1v1h-1zM626.6,567.3h1v1h-1zM639.7,566.7h1v1h-1zM654.1,551.3h1v1h-1zM639.9,556.6h1v1h-1zM637.7,567.4h1v1h-1zM642.3,558.1h1v1h-1zM652.3,559.8h1v1h-1zM647.3,557.8h1v1h-1zM648.3,556.2h1v1h-1zM644.2,558.9h1v1h-1zM636.6,554.2h1v1h-1zM645.2,561.2h1v1h-1zM631.2,564.7h1v1h-1zM641.9,563.0h1v1h-1zM618.6,577.4h1v1h-1zM627.7,575.6h1v1h-1zM646.6,558.4h1v1h-1zM638.5,562.7h1v1h-1zM633.1,571.3h1v1h-1zM630.8,561.8h1v1h-1zM634.6,554.8h1v1h-1zM645.7,552.1h1v1h-1zM649.9,561.1h1v1h-1zM654.3,551.3h1v1h-1zM634.0,560.9h1v1h-1zM643.6,554.4h1v1h-1zM633.8,551.4h1v1h-1zM637.1,562.9h1v1h-1zM654.1,550.2h1v1h-1zM645.1,561.2h1v1h-1zM644.4,553.0h1v1h-1zM606.2,572.8h1v1h-1zM645.1,559.2h1v1h-1zM649.4,567.5h1v1h-1zM630.5,562.6h1v1h-1zM650.1,547.7h1v1h-1zM614.6,573.0h1v1h-1zM639.6,568.5h1v1h-1zM643.1,559.0h1v1h-1zM631.7,554.8h1v1h-1zM641.3,556.9h1v1h-1zM633.3,565.1h1v1h-1zM618.7,569.4h1v1h-1zM631.2,574.6h1v1h-1zM635.6,568.3h1v1h-1zM628.0,557.7h1v1h-1zM644.5,556.8h1v1h-1zM624.8,572.6h1v1h-1zM641.2,551.2h1v1h-1zM634.6,573.2h1v1h-1zM637.7,554.6h1v1h-1zM629.3,572.4h1v1h-1zM650.0,559.8h1v1h-1zM623.3,572.1h1v1h-1zM629.4,562.6h1v1h-1zM632.3,569.5h1v1h-1zM641.2,563.0h1v1h-1zM632.8,561.1h1v1h-1zM646.2,554.7h1v1h-1zM634.2,566.0h1v1h-1zM635.1,567.8h1v1h-1zM641.7,563.2h1v1h-1zM657.2,550.3h1v1h-1zM655.3,547.3h1v1h-1zM629.7,552.1h1v1h-1zM630.7,560.4h1v1h-1zM643.0,565.8h1v1h-1zM657.3,550.3h1v1h-1zM646.2,556.9h1v1h-1zM620.2,547.4h1v1h-1zM633.5,553.3h1v1h-1zM644.4,553.8h1v1h-1zM642.5,556.0h1v1h-1zM641.0,555.2h1v1h-1zM640.3,569.9h1v1h-1zM640.0,553.4h1v1h-1zM629.7,565.7h1v1h-1zM643.9,552.4h1v1h-1zM628.6,557.0h1v1h-1zM652.4,556.7h1v1h-1zM639.6,558.4h1v1h-1zM653.8,557.6h1v1h-1zM635.8,568.8h1v1h-1zM641.9,558.2h1v1h-1zM633.4,563.4h1v1h-1zM649.0,549.2h1v1h-1zM621.9,572.0h1v1h-1zM646.1,565.5h1v1h-1zM641.8,551.9h1v1h-1zM644.0,559.7h1v1h-1zM627.7,557.5h1v1h-1zM622.9,568.3h1v1h-1zM625.2,568.8h1v1h-1zM635.3,566.0h1v1h-1zM644.5,553.8h1v1h-1zM633.3,567.3h1v1h-1zM630.9,569.8h1v1h-1zM642.0,564.4h1v1h-1zM631.3,568.4h1v1h-1zM634.8,564.0h1v1h-1zM642.3,556.6h1v1h-1zM636.3,549.6h1v1h-1zM630.5,567.9h1v1h-1zM617.1,548.1h1v1h-1zM612.2,568.2h1v1h-1zM641.4,567.5h1v1h-1zM612.5,575.3h1v1h-1zM615.1,581.5h1v1h-1zM637.6,556.8h1v1h-1zM625.6,566.2h1v1h-1zM624.1,579.4h1v1h-1zM636.3,557.8h1v1h-1zM638.4,548.9h1v1h-1zM634.3,560.9h1v1h-1zM624.2,566.9h1v1h-1zM635.3,549.0h1v1h-1zM637.2,593.7h1v1h-1zM643.1,555.4h1v1h-1zM637.0,580.4h1v1h-1zM617.3,586.6h1v1h-1zM627.2,586.0h1v1h-1zM620.7,579.3h1v1h-1zM624.3,580.3h1v1h-1zM644.4,564.6h1v1h-1zM620.7,579.3h1v1h-1zM637.2,552.2h1v1h-1zM639.8,560.8h1v1h-1zM630.5,555.4h1v1h-1zM635.0,572.9h1v1h-1zM620.6,576.9h1v1h-1zM607.2,573.9h1v1h-1zM635.7,554.0h1v1h-1zM634.2,550.8h1v1h-1zM657.6,561.0h1v1h-1zM647.0,550.7h1v1h-1zM601.4,573.7h1v1h-1zM650.3,557.6h1v1h-1zM647.9,564.1h1v1h-1zM636.6,574.4h1v1h-1zM624.1,563.2h1v1h-1zM647.0,565.0h1v1h-1zM624.8,556.1h1v1h-1zM652.2,525.4h1v1h-1zM644.5,559.5h1v1h-1zM614.5,574.7h1v1h-1zM638.5,586.4h1v1h-1zM636.1,537.8h1v1h-1zM619.5,576.7h1v1h-1zM625.5,566.4h1v1h-1zM631.0,580.0h1v1h-1zM636.5,562.0h1v1h-1zM623.5,578.0h1v1h-1zM622.8,572.1h1v1h-1zM637.7,570.9h1v1h-1zM642.7,564.5h1v1h-1zM658.6,564.7h1v1h-1zM622.0,558.8h1v1h-1zM622.8,581.6h1v1h-1zM617.4,585.7h1v1h-1zM637.8,557.1h1v1h-1zM618.8,568.1h1v1h-1zM642.2,561.0h1v1h-1zM641.7,563.7h1v1h-1zM650.2,554.3h1v1h-1zM630.3,553.9h1v1h-1zM627.9,556.1h1v1h-1zM611.9,569.0h1v1h-1zM641.1,539.0h1v1h-1zM615.1,555.9h1v1h-1zM637.0,569.2h1v1h-1zM636.4,561.7h1v1h-1zM621.9,570.1h1v1h-1zM620.6,566.2h1v1h-1zM637.4,560.7h1v1h-1zM648.0,537.6h1v1h-1zM611.0,581.8h1v1h-1zM624.6,562.5h1v1h-1zM624.8,566.6h1v1h-1zM630.0,569.3h1v1h-1zM644.3,580.1h1v1h-1zM604.0,572.6h1v1h-1zM620.4,570.8h1v1h-1zM618.8,569.8h1v1h-1zM635.7,563.4h1v1h-1zM635.2,570.7h1v1h-1zM618.1,568.8h1v1h-1zM645.9,570.2h1v1h-1zM645.0,552.4h1v1h-1zM623.3,577.8h1v1h-1zM632.1,568.0h1v1h-1zM627.4,575.8h1v1h-1zM634.4,554.1h1v1h-1zM636.9,559.8h1v1h-1zM628.6,571.9h1v1h-1zM634.0,558.5h1v1h-1zM616.7,565.2h1v1h-1zM630.3,553.3h1v1h-1zM623.9,591.4h1v1h-1zM623.7,568.2h1v1h-1zM615.8,566.7h1v1h-1zM635.3,565.6h1v1h-1zM609.8,572.3h1v1h-1zM619.2,580.2h1v1h-1zM630.7,581.6h1v1h-1zM636.8,551.5h1v1h-1zM644.5,556.0h1v1h-1zM630.6,566.4h1v1h-1zM615.0,582.3h1v1h-1zM634.0,553.8h1v1h-1zM614.0,575.3h1v1h-1zM648.0,564.1h1v1h-1zM636.2,559.4h1v1h-1zM646.5,566.0h1v1h-1zM621.5,562.0h1v1h-1zM603.6,585.7h1v1h-1zM671.4,551.4h1v1h-1zM637.8,571.0h1v1h-1zM629.2,587.8h1v1h-1zM618.7,560.6h1v1h-1zM653.3,567.7h1v1h-1zM642.0,560.8h1v1h-1zM631.5,566.7h1v1h-1zM637.7,557.1h1v1h-1zM645.7,578.5h1v1h-1zM625.1,557.4h1v1h-1zM633.7,589.7h1v1h-1zM619.4,582.7h1v1h-1zM623.2,560.1h1v1h-1zM646.3,558.8h1v1h-1zM631.5,572.4h1v1h-1zM647.0,562.7h1v1h-1zM652.5,551.7h1v1h-1zM625.2,574.2h1v1h-1zM640.6,544.6h1v1h-1zM627.9,573.3h1v1h-1zM630.0,584.0h1v1h-1zM611.2,573.6h1v1h-1zM620.9,552.3h1v1h-1zM629.0,565.4h1v1h-1zM626.6,560.3h1v1h-1zM643.3,550.9h1v1h-1zM623.9,553.4h1v1h-1zM647.4,545.2h1v1h-1zM654.7,548.5h1v1h-1zM631.4,581.9h1v1h-1zM618.0,582.9h1v1h-1zM614.9,565.7h1v1h-1zM639.4,566.2h1v1h-1zM636.4,566.9h1v1h-1zM652.7,542.2h1v1h-1zM622.9,576.8h1v1h-1zM612.7,564.1h1v1h-1zM664.2,568.7h1v1h-1zM638.8,563.8h1v1h-1zM629.9,556.8h1v1h-1zM620.5,558.7h1v1h-1zM615.2,571.8h1v1h-1zM637.6,553.8h1v1h-1zM633.8,551.1h1v1h-1zM637.0,560.3h1v1h-1zM631.1,567.4h1v1h-1zM649.2,561.9h1v1h-1zM623.4,569.4h1v1h-1zM637.2,568.9h1v1h-1zM645.9,552.4h1v1h-1zM616.3,576.5h1v1h-1zM617.1,574.4h1v1h-1zM668.0,566.6h1v1h-1zM612.6,562.8h1v1h-1zM637.2,560.6h1v1h-1zM641.3,564.7h1v1h-1zM636.4,569.4h1v1h-1zM611.4,583.3h1v1h-1zM613.3,562.0h1v1h-1zM600.1,575.2h1v1h-1zM637.4,559.7h1v1h-1zM616.2,547.9h1v1h-1zM639.4,551.1h1v1h-1zM627.2,569.2h1v1h-1zM631.2,569.6h1v1h-1zM654.0,565.5h1v1h-1zM618.6,569.0h1v1h-1zM629.0,557.4h1v1h-1zM640.7,558.5h1v1h-1zM635.2,570.8h1v1h-1zM659.9,550.2h1v1h-1zM641.6,584.1h1v1h-1zM653.2,561.6h1v1h-1zM622.3,569.9h1v1h-1zM623.8,563.5h1v1h-1zM609.2,569.5h1v1h-1zM605.4,583.6h1v1h-1zM639.0,558.9h1v1h-1zM632.5,566.3h1v1h-1zM628.7,569.2h1v1h-1zM629.7,570.6h1v1h-1zM621.3,569.3h1v1h-1zM654.4,549.9h1v1h-1zM621.3,578.2h1v1h-1zM636.3,565.5h1v1h-1zM634.5,560.3h1v1h-1zM625.1,572.7h1v1h-1zM634.4,571.1h1v1h-1zM638.1,586.2h1v1h-1zM633.2,579.2h1v1h-1zM634.1,587.6h1v1h-1zM645.2,553.4h1v1h-1zM653.2,552.9h1v1h-1zM645.6,553.3h1v1h-1zM636.9,565.4h1v1h-1zM651.1,537.4h1v1h-1zM606.5,583.4h1v1h-1zM642.1,557.0h1v1h-1zM633.4,547.1h1v1h-1zM627.0,560.2h1v1h-1zM643.9,564.2h1v1h-1zM630.0,577.8h1v1h-1zM623.4,575.8h1v1h-1zM629.0,571.0h1v1h-1zM628.2,580.9h1v1h-1zM626.3,587.7h1v1h-1zM642.7,553.5h1v1h-1zM626.2,580.9h1v1h-1zM651.7,546.8h1v1h-1zM634.3,571.0h1v1h-1zM663.9,562.2h1v1h-1zM629.4,575.7h1v1h-1zM633.2,556.3h1v1h-1zM631.6,563.3h1v1h-1zM629.3,567.2h1v1h-1zM636.9,556.0h1v1h-1zM641.2,546.5h1v1h-1zM641.1,567.6h1v1h-1zM637.8,548.5h1v1h-1zM625.5,569.6h1v1h-1zM638.4,571.1h1v1h-1zM611.7,572.1h1v1h-1zM646.6,549.1h1v1h-1zM615.9,565.8h1v1h-1zM628.5,564.0h1v1h-1zM648.9,563.1h1v1h-1zM606.6,581.6h1v1h-1zM633.4,573.8h1v1h-1zM631.8,579.8h1v1h-1zM634.1,560.0h1v1h-1zM616.1,580.0h1v1h-1zM630.3,548.3h1v1h-1zM643.4,575.2h1v1h-1zM604.2,580.1h1v1h-1zM640.9,580.4h1v1h-1zM648.5,552.8h1v1h-1zM638.3,571.2h1v1h-1zM612.4,586.5h1v1h-1zM638.8,572.1h1v1h-1zM620.3,577.8h1v1h-1zM631.5,562.7h1v1h-1zM632.6,569.0h1v1h-1zM611.8,572.0h1v1h-1zM637.0,547.6h1v1h-1zM654.9,584.6h1v1h-1zM641.2,562.8h1v1h-1zM618.2,558.7h1v1h-1zM615.7,579.8h1v1h-1zM620.4,571.3h1v1h-1zM626.2,576.6h1v1h-1zM649.2,569.6h1v1h-1zM641.0,573.7h1v1h-1zM655.0,549.6h1v1h-1zM635.7,558.0h1v1h-1zM632.8,563.2h1v1h-1zM633.7,572.5h1v1h-1zM614.7,544.7h1v1h-1zM635.8,575.3h1v1h-1zM626.8,582.4h1v1h-1zM662.4,556.9h1v1h-1zM629.3,571.9h1v1h-1zM642.4,547.3h1v1h-1zM638.8,542.7h1v1h-1zM617.8,572.5h1v1h-1zM636.3,552.3h1v1h-1zM632.7,578.7h1v1h-1zM610.1,578.4h1v1h-1zM649.2,546.7h1v1h-1zM648.1,565.3h1v1h-1zM627.9,567.3h1v1h-1zM631.6,566.3h1v1h-1zM629.4,559.1h1v1h-1zM644.3,579.3h1v1h-1zM629.5,581.0h1v1h-1zM621.7,556.0h1v1h-1zM640.7,565.6h1v1h-1zM638.2,554.1h1v1h-1zM626.8,577.8h1v1h-1zM653.5,561.7h1v1h-1zM637.3,537.3h1v1h-1zM623.4,581.8h1v1h-1zM657.7,549.3h1v1h-1zM598.1,581.6h1v1h-1zM614.6,567.0h1v1h-1zM624.0,564.6h1v1h-1zM619.1,576.6h1v1h-1zM636.1,551.1h1v1h-1zM610.9,593.7h1v1h-1zM639.7,565.6h1v1h-1zM609.3,595.0h1v1h-1zM618.1,571.5h1v1h-1zM636.5,557.0h1v1h-1zM633.7,560.7h1v1h-1zM604.4,560.4h1v1h-1zM623.7,563.0h1v1h-1zM637.8,580.9h1v1h-1zM628.8,589.1h1v1h-1zM626.2,568.8h1v1h-1zM629.0,549.6h1v1h-1zM631.0,564.0h1v1h-1zM620.8,577.0h1v1h-1zM637.4,561.0h1v1h-1zM620.2,572.6h1v1h-1zM621.2,560.5h1v1h-1zM625.3,577.6h1v1h-1zM628.1,565.4h1v1h-1zM627.5,573.4h1v1h-1zM629.8,575.0h1v1h-1zM629.8,575.2h1v1h-1zM627.9,559.6h1v1h-1zM637.4,562.1h1v1h-1zM625.8,582.6h1v1h-1zM625.2,560.0h1v1h-1zM627.3,582.1h1v1h-1zM613.9,583.5h1v1h-1zM638.7,559.7h1v1h-1zM627.3,560.0h1v1h-1zM604.7,565.0h1v1h-1zM613.1,555.5h1v1h-1zM625.9,573.9h1v1h-1zM619.2,566.5h1v1h-1zM621.4,567.2h1v1h-1zM637.0,576.8h1v1h-1zM639.7,567.3h1v1h-1zM650.1,567.6h1v1h-1zM638.1,569.8h1v1h-1zM642.6,552.1h1v1h-1zM619.8,570.7h1v1h-1zM607.9,570.8h1v1h-1zM627.1,570.8h1v1h-1zM640.8,576.6h1v1h-1zM600.0,578.2h1v1h-1zM636.1,579.4h1v1h-1zM623.2,573.0h1v1h-1zM629.5,557.1h1v1h-1zM634.8,575.0h1v1h-1zM626.8,568.6h1v1h-1zM646.1,559.6h1v1h-1zM627.2,570.5h1v1h-1zM637.4,568.4h1v1h-1zM647.9,565.5h1v1h-1zM615.5,554.6h1v1h-1zM630.2,583.7h1v1h-1zM631.9,561.5h1v1h-1zM635.1,570.4h1v1h-1zM648.0,547.9h1v1h-1zM641.6,564.9h1v1h-1zM642.3,573.8h1v1h-1zM601.7,584.9h1v1h-1zM638.0,556.1h1v1h-1zM629.7,577.5h1v1h-1zM611.3,581.5h1v1h-1zM642.0,580.8h1v1h-1zM620.1,563.4h1v1h-1zM644.7,559.1h1v1h-1zM636.8,537.8h1v1h-1zM663.2,537.1h1v1h-1zM609.4,578.2h1v1h-1zM637.9,555.8h1v1h-1zM601.9,581.1h1v1h-1zM634.4,555.8h1v1h-1zM633.0,559.7h1v1h-1zM617.7,577.7h1v1h-1zM631.3,566.6h1v1h-1zM614.8,564.2h1v1h-1zM627.6,561.2h1v1h-1zM635.8,565.1h1v1h-1zM628.3,565.4h1v1h-1zM636.7,574.9h1v1h-1zM616.9,580.5h1v1h-1zM643.2,570.5h1v1h-1zM623.8,570.7h1v1h-1zM659.3,543.7h1v1h-1zM642.4,560.0h1v1h-1zM653.4,560.7h1v1h-1zM642.5,556.3h1v1h-1zM624.6,584.8h1v1h-1zM614.3,566.2h1v1h-1zM627.9,554.4h1v1h-1zM639.6,551.0h1v1h-1zM631.8,563.6h1v1h-1zM601.9,577.0h1v1h-1zM610.6,573.0h1v1h-1zM600.1,570.5h1v1h-1zM642.1,565.6h1v1h-1zM646.2,578.2h1v1h-1zM641.0,561.1h1v1h-1zM629.6,573.1h1v1h-1zM606.6,578.4h1v1h-1zM613.6,612.5h1v1h-1zM607.3,594.2h1v1h-1zM609.6,599.9h1v1h-1zM615.7,590.7h1v1h-1zM618.9,588.0h1v1h-1zM604.1,616.9h1v1h-1zM613.0,594.9h1v1h-1zM618.1,581.2h1v1h-1zM611.0,581.9h1v1h-1zM617.0,596.0h1v1h-1zM614.8,575.1h1v1h-1zM609.0,573.4h1v1h-1zM605.9,582.0h1v1h-1zM615.3,597.2h1v1h-1zM603.4,598.9h1v1h-1zM615.7,610.6h1v1h-1zM618.5,572.7h1v1h-1zM616.4,594.0h1v1h-1zM615.5,582.1h1v1h-1zM621.9,592.3h1v1h-1zM610.3,568.9h1v1h-1zM612.2,574.2h1v1h-1zM605.2,611.1h1v1h-1zM613.3,603.1h1v1h-1zM620.0,600.1h1v1h-1zM611.2,576.7h1v1h-1zM612.7,592.6h1v1h-1zM612.8,587.4h1v1h-1zM614.5,573.4h1v1h-1zM619.7,576.6h1v1h-1zM614.3,580.3h1v1h-1zM621.4,584.2h1v1h-1zM608.4,586.5h1v1h-1zM618.7,575.9h1v1h-1zM606.2,584.5h1v1h-1zM618.0,554.8h1v1h-1zM619.0,618.9h1v1h-1zM612.7,602.5h1v1h-1zM612.9,568.1h1v1h-1zM611.2,598.6h1v1h-1zM607.3,587.4h1v1h-1zM609.9,595.9h1v1h-1zM627.9,592.0h1v1h-1zM606.2,611.6h1v1h-1zM612.0,585.9h1v1h-1zM616.5,600.5h1v1h-1zM614.9,595.3h1v1h-1zM614.7,576.1h1v1h-1zM618.2,601.8h1v1h-1zM609.2,569.3h1v1h-1zM610.2,593.3h1v1h-1zM621.8,593.8h1v1h-1zM594.9,583.3h1v1h-1zM614.0,594.0h1v1h-1zM604.9,586.6h1v1h-1zM614.5,599.6h1v1h-1zM618.4,611.5h1v1h-1zM609.7,585.7h1v1h-1zM611.1,597.1h1v1h-1zM633.0,507.0h1v1h-1zM591.4,548.8h1v1h-1zM625.9,543.2h1v1h-1zM652.1,513.6h1v1h-1zM635.5,507.2h1v1h-1zM646.6,518.9h1v1h-1zM651.1,540.6h1v1h-1zM611.4,533.7h1v1h-1zM641.0,513.1h1v1h-1zM636.4,540.5h1v1h-1zM633.1,536.4h1v1h-1zM638.4,540.9h1v1h-1zM624.7,516.1h1v1h-1zM646.8,485.7h1v1h-1zM613.6,545.1h1v1h-1zM607.0,550.0h1v1h-1zM675.1,513.5h1v1h-1zM606.6,527.4h1v1h-1zM654.8,548.4h1v1h-1zM672.8,510.2h1v1h-1zM653.6,513.3h1v1h-1zM659.8,528.5h1v1h-1zM670.3,519.9h1v1h-1zM652.6,501.4h1v1h-1zM600.5,529.1h1v1h-1zM631.6,534.9h1v1h-1zM594.3,504.7h1v1h-1zM610.7,539.3h1v1h-1zM639.7,516.5h1v1h-1zM648.3,518.6h1v1h-1zM636.2,520.9h1v1h-1zM589.4,533.9h1v1h-1zM633.9,555.9h1v1h-1zM631.7,511.8h1v1h-1zM634.0,509.8h1v1h-1zM627.7,515.3h1v1h-1zM638.5,506.8h1v1h-1zM625.7,514.7h1v1h-1zM600.3,520.0h1v1h-1zM649.1,532.5h1v1h-1zM638.0,519.3h1v1h-1zM656.6,516.7h1v1h-1zM648.5,494.1h1v1h-1zM593.9,509.7h1v1h-1zM662.0,517.0h1v1h-1zM642.3,503.9h1v1h-1zM585.0,564.8h1v1h-1zM677.1,548.5h1v1h-1z" fill="#0a0a0a" fill-opacity="0.8"/>
<path d="M525,630.2 L525,473.3 L682.4,473.3 L682.4,630.2" fill="none" stroke="#9a9a9a" stroke-width="1"/>
<line x1="524.5" y1="630.2" x2="682.4" y2="630.2" stroke="#222" stroke-width="1.1"/>
<line x1="525" y1="473.3" x2="525" y2="630.2" stroke="#222" stroke-width="1.1"/>
<line x1="604.4" y1="473.3" x2="604.4" y2="630.2" stroke="#444" stroke-width="1.6"/>
<line x1="525" y1="542.6" x2="682.4" y2="542.6" stroke="#444" stroke-width="1.6"/>
<rect x="525.5" y="473.8" width="50.3" height="18.5" fill="#fff" stroke="#333" stroke-width="1.2"/>
<text x="550.65" y="487" font-size="12" font-weight="bold" text-anchor="middle" fill="#222" textLength="32" lengthAdjust="spacingAndGlyphs"  stroke="#222" stroke-width="0.3">31.5 %</text>
<rect x="634.2" y="610.2" width="46.59999999999993" height="19.6" fill="#fff" stroke="#333" stroke-width="1.2"/>
<text x="658.3" y="624" font-size="12" font-weight="bold" text-anchor="middle" fill="#222" textLength="32" lengthAdjust="spacingAndGlyphs"  stroke="#222" stroke-width="0.3">61.6 %</text>
<line x1="521" y1="630.2" x2="525" y2="630.2" stroke="#111" stroke-width="1.3"/>
<text x="508" y="631.2" font-size="7" font-weight="normal" text-anchor="start" fill="#444" >10</text>
<text x="515.7" y="626.6" font-size="6" font-weight="normal" text-anchor="start" fill="#444" >0</text>
<line x1="522.5" y1="621.5" x2="525" y2="621.5" stroke="#333" stroke-width="0.8"/>
<line x1="522.5" y1="616.4" x2="525" y2="616.4" stroke="#333" stroke-width="0.8"/>
<line x1="522.5" y1="612.7" x2="525" y2="612.7" stroke="#333" stroke-width="0.8"/>
<line x1="522.5" y1="609.9" x2="525" y2="609.9" stroke="#333" stroke-width="0.8"/>
<line x1="522.5" y1="607.6" x2="525" y2="607.6" stroke="#333" stroke-width="0.8"/>
<line x1="522.5" y1="605.7" x2="525" y2="605.7" stroke="#333" stroke-width="0.8"/>
<line x1="522.5" y1="604.0" x2="525" y2="604.0" stroke="#333" stroke-width="0.8"/>
<line x1="522.5" y1="602.5" x2="525" y2="602.5" stroke="#333" stroke-width="0.8"/>
<line x1="521" y1="601.2" x2="525" y2="601.2" stroke="#111" stroke-width="1.3"/>
<text x="508" y="602.2" font-size="7" font-weight="normal" text-anchor="start" fill="#444" >10</text>
<text x="515.7" y="597.6" font-size="6" font-weight="normal" text-anchor="start" fill="#444" >1</text>
<line x1="522.5" y1="592.5" x2="525" y2="592.5" stroke="#333" stroke-width="0.8"/>
<line x1="522.5" y1="587.4" x2="525" y2="587.4" stroke="#333" stroke-width="0.8"/>
<line x1="522.5" y1="583.7" x2="525" y2="583.7" stroke="#333" stroke-width="0.8"/>
<line x1="522.5" y1="580.9" x2="525" y2="580.9" stroke="#333" stroke-width="0.8"/>
<line x1="522.5" y1="578.6" x2="525" y2="578.6" stroke="#333" stroke-width="0.8"/>
<line x1="522.5" y1="576.7" x2="525" y2="576.7" stroke="#333" stroke-width="0.8"/>
<line x1="522.5" y1="575.0" x2="525" y2="575.0" stroke="#333" stroke-width="0.8"/>
<line x1="522.5" y1="573.5" x2="525" y2="573.5" stroke="#333" stroke-width="0.8"/>
<line x1="521" y1="572.2" x2="525" y2="572.2" stroke="#111" stroke-width="1.3"/>
<text x="508" y="573.2" font-size="7" font-weight="normal" text-anchor="start" fill="#444" >10</text>
<text x="515.7" y="568.6" font-size="6" font-weight="normal" text-anchor="start" fill="#444" >2</text>
<line x1="522.5" y1="563.5" x2="525" y2="563.5" stroke="#333" stroke-width="0.8"/>
<line x1="522.5" y1="558.4" x2="525" y2="558.4" stroke="#333" stroke-width="0.8"/>
<line x1="522.5" y1="554.7" x2="525" y2="554.7" stroke="#333" stroke-width="0.8"/>
<line x1="522.5" y1="551.9" x2="525" y2="551.9" stroke="#333" stroke-width="0.8"/>
<line x1="522.5" y1="549.6" x2="525" y2="549.6" stroke="#333" stroke-width="0.8"/>
<line x1="522.5" y1="547.7" x2="525" y2="547.7" stroke="#333" stroke-width="0.8"/>
<line x1="522.5" y1="546.0" x2="525" y2="546.0" stroke="#333" stroke-width="0.8"/>
<line x1="522.5" y1="544.5" x2="525" y2="544.5" stroke="#333" stroke-width="0.8"/>
<line x1="521" y1="543.2" x2="525" y2="543.2" stroke="#111" stroke-width="1.3"/>
<text x="508" y="544.2" font-size="7" font-weight="normal" text-anchor="start" fill="#444" >10</text>
<text x="515.7" y="539.6" font-size="6" font-weight="normal" text-anchor="start" fill="#444" >3</text>
<line x1="522.5" y1="534.5" x2="525" y2="534.5" stroke="#333" stroke-width="0.8"/>
<line x1="522.5" y1="529.4" x2="525" y2="529.4" stroke="#333" stroke-width="0.8"/>
<line x1="522.5" y1="525.7" x2="525" y2="525.7" stroke="#333" stroke-width="0.8"/>
<line x1="522.5" y1="522.9" x2="525" y2="522.9" stroke="#333" stroke-width="0.8"/>
<line x1="522.5" y1="520.6" x2="525" y2="520.6" stroke="#333" stroke-width="0.8"/>
<line x1="522.5" y1="518.7" x2="525" y2="518.7" stroke="#333" stroke-width="0.8"/>
<line x1="522.5" y1="517.0" x2="525" y2="517.0" stroke="#333" stroke-width="0.8"/>
<line x1="522.5" y1="515.5" x2="525" y2="515.5" stroke="#333" stroke-width="0.8"/>
<line x1="521" y1="514.2" x2="525" y2="514.2" stroke="#111" stroke-width="1.3"/>
<text x="508" y="515.2" font-size="7" font-weight="normal" text-anchor="start" fill="#444" >10</text>
<text x="515.7" y="510.6" font-size="6" font-weight="normal" text-anchor="start" fill="#444" >4</text>
<line x1="522.5" y1="505.5" x2="525" y2="505.5" stroke="#333" stroke-width="0.8"/>
<line x1="522.5" y1="500.4" x2="525" y2="500.4" stroke="#333" stroke-width="0.8"/>
<line x1="522.5" y1="496.7" x2="525" y2="496.7" stroke="#333" stroke-width="0.8"/>
<line x1="522.5" y1="493.9" x2="525" y2="493.9" stroke="#333" stroke-width="0.8"/>
<line x1="522.5" y1="491.6" x2="525" y2="491.6" stroke="#333" stroke-width="0.8"/>
<line x1="522.5" y1="489.7" x2="525" y2="489.7" stroke="#333" stroke-width="0.8"/>
<line x1="522.5" y1="488.0" x2="525" y2="488.0" stroke="#333" stroke-width="0.8"/>
<line x1="522.5" y1="486.5" x2="525" y2="486.5" stroke="#333" stroke-width="0.8"/>
<line x1="521" y1="485.2" x2="525" y2="485.2" stroke="#111" stroke-width="1.3"/>
<text x="508" y="486.2" font-size="7" font-weight="normal" text-anchor="start" fill="#444" >10</text>
<text x="515.7" y="481.6" font-size="6" font-weight="normal" text-anchor="start" fill="#444" >5</text>
<line x1="540.4" y1="630.2" x2="540.4" y2="634.2" stroke="#111" stroke-width="1.3"/>
<line x1="550.0" y1="630.2" x2="550.0" y2="632.7" stroke="#333" stroke-width="0.8"/>
<line x1="555.7" y1="630.2" x2="555.7" y2="632.7" stroke="#333" stroke-width="0.8"/>
<line x1="559.7" y1="630.2" x2="559.7" y2="632.7" stroke="#333" stroke-width="0.8"/>
<line x1="562.8" y1="630.2" x2="562.8" y2="632.7" stroke="#333" stroke-width="0.8"/>
<line x1="565.3" y1="630.2" x2="565.3" y2="632.7" stroke="#333" stroke-width="0.8"/>
<line x1="567.4" y1="630.2" x2="567.4" y2="632.7" stroke="#333" stroke-width="0.8"/>
<line x1="569.3" y1="630.2" x2="569.3" y2="632.7" stroke="#333" stroke-width="0.8"/>
<line x1="570.9" y1="630.2" x2="570.9" y2="632.7" stroke="#333" stroke-width="0.8"/>
<text x="536.9" y="648.5" font-size="7" font-weight="normal" text-anchor="start" fill="#444" >10</text>
<text x="544.6" y="644" font-size="6" font-weight="normal" text-anchor="start" fill="#444" >1</text>
<line x1="572.4" y1="630.2" x2="572.4" y2="634.2" stroke="#111" stroke-width="1.3"/>
<line x1="582.0" y1="630.2" x2="582.0" y2="632.7" stroke="#333" stroke-width="0.8"/>
<line x1="587.7" y1="630.2" x2="587.7" y2="632.7" stroke="#333" stroke-width="0.8"/>
<line x1="591.7" y1="630.2" x2="591.7" y2="632.7" stroke="#333" stroke-width="0.8"/>
<line x1="594.8" y1="630.2" x2="594.8" y2="632.7" stroke="#333" stroke-width="0.8"/>
<line x1="597.3" y1="630.2" x2="597.3" y2="632.7" stroke="#333" stroke-width="0.8"/>
<line x1="599.4" y1="630.2" x2="599.4" y2="632.7" stroke="#333" stroke-width="0.8"/>
<line x1="601.3" y1="630.2" x2="601.3" y2="632.7" stroke="#333" stroke-width="0.8"/>
<line x1="602.9" y1="630.2" x2="602.9" y2="632.7" stroke="#333" stroke-width="0.8"/>
<text x="568.9" y="648.5" font-size="7" font-weight="normal" text-anchor="start" fill="#444" >10</text>
<text x="576.6" y="644" font-size="6" font-weight="normal" text-anchor="start" fill="#444" >2</text>
<line x1="604.4" y1="630.2" x2="604.4" y2="634.2" stroke="#111" stroke-width="1.3"/>
<line x1="614.0" y1="630.2" x2="614.0" y2="632.7" stroke="#333" stroke-width="0.8"/>
<line x1="619.7" y1="630.2" x2="619.7" y2="632.7" stroke="#333" stroke-width="0.8"/>
<line x1="623.7" y1="630.2" x2="623.7" y2="632.7" stroke="#333" stroke-width="0.8"/>
<line x1="626.8" y1="630.2" x2="626.8" y2="632.7" stroke="#333" stroke-width="0.8"/>
<line x1="629.3" y1="630.2" x2="629.3" y2="632.7" stroke="#333" stroke-width="0.8"/>
<line x1="631.4" y1="630.2" x2="631.4" y2="632.7" stroke="#333" stroke-width="0.8"/>
<line x1="633.3" y1="630.2" x2="633.3" y2="632.7" stroke="#333" stroke-width="0.8"/>
<line x1="634.9" y1="630.2" x2="634.9" y2="632.7" stroke="#333" stroke-width="0.8"/>
<text x="600.9" y="648.5" font-size="7" font-weight="normal" text-anchor="start" fill="#444" >10</text>
<text x="608.6" y="644" font-size="6" font-weight="normal" text-anchor="start" fill="#444" >3</text>
<line x1="636.4" y1="630.2" x2="636.4" y2="634.2" stroke="#111" stroke-width="1.3"/>
<line x1="646.0" y1="630.2" x2="646.0" y2="632.7" stroke="#333" stroke-width="0.8"/>
<line x1="651.7" y1="630.2" x2="651.7" y2="632.7" stroke="#333" stroke-width="0.8"/>
<line x1="655.7" y1="630.2" x2="655.7" y2="632.7" stroke="#333" stroke-width="0.8"/>
<line x1="658.8" y1="630.2" x2="658.8" y2="632.7" stroke="#333" stroke-width="0.8"/>
<line x1="661.3" y1="630.2" x2="661.3" y2="632.7" stroke="#333" stroke-width="0.8"/>
<line x1="663.4" y1="630.2" x2="663.4" y2="632.7" stroke="#333" stroke-width="0.8"/>
<line x1="665.3" y1="630.2" x2="665.3" y2="632.7" stroke="#333" stroke-width="0.8"/>
<line x1="666.9" y1="630.2" x2="666.9" y2="632.7" stroke="#333" stroke-width="0.8"/>
<text x="632.9" y="648.5" font-size="7" font-weight="normal" text-anchor="start" fill="#444" >10</text>
<text x="640.6" y="644" font-size="6" font-weight="normal" text-anchor="start" fill="#444" >4</text>
<line x1="668.4" y1="630.2" x2="668.4" y2="634.2" stroke="#111" stroke-width="1.3"/>
<line x1="678.0" y1="630.2" x2="678.0" y2="632.7" stroke="#333" stroke-width="0.8"/>
<text x="664.9" y="648.5" font-size="7" font-weight="normal" text-anchor="start" fill="#444" >10</text>
<text x="672.6" y="644" font-size="6" font-weight="normal" text-anchor="start" fill="#444" >5</text>
<text x="589.4" y="672.3" font-size="14.9" font-weight="bold" text-anchor="start" fill="#111"  stroke="#111" stroke-width="0.3">CD8</text>
<text x="0" y="0" font-size="14.3" font-weight="bold" text-anchor="middle" fill="#111" transform="translate(13.7,549.1) rotate(-90)" stroke="#111" stroke-width="0.3">CD4</text>
<text x="9.6" y="742.3" font-size="21.5" font-weight="bold" text-anchor="start" fill="#111"  stroke="#111" stroke-width="0.3">C</text>
<polyline points="69.8,921.7 140.2,920.4 210.6,909.7 281.0,901.0 351.4,882.9" fill="none" stroke="#2c8282" stroke-width="2.2" stroke-linejoin="round"/>
<polyline points="69.8,921.7 140.2,917.7 210.6,913.0 281.0,898.9 351.4,891.6" fill="none" stroke="#e8b424" stroke-width="2.2" stroke-linejoin="round"/>
<polyline points="69.8,921.7 140.2,919.0 210.6,911.7 281.0,896.9 351.4,887.6" fill="none" stroke="#f0a494" stroke-width="2.2" stroke-linejoin="round"/>
<polyline points="69.8,921.7 140.2,908.3 210.6,889.6 281.0,853.7 351.4,771.7" fill="none" stroke="#ee4c5c" stroke-width="2.2" stroke-linejoin="round"/>
<line x1="69.8" y1="923.7" x2="69.8" y2="919.7" stroke="#2c8282" stroke-width="1.8"/>
<line x1="66.0" y1="923.7" x2="73.6" y2="923.7" stroke="#2c8282" stroke-width="1.8"/>
<line x1="66.0" y1="919.7" x2="73.6" y2="919.7" stroke="#2c8282" stroke-width="1.8"/>
<path d="M69.8,926.3 L74.4,918.3 L65.2,918.3 Z" fill="#2c8282"/>
<line x1="140.2" y1="924.4" x2="140.2" y2="916.4" stroke="#2c8282" stroke-width="1.8"/>
<line x1="136.4" y1="924.4" x2="144.0" y2="924.4" stroke="#2c8282" stroke-width="1.8"/>
<line x1="136.4" y1="916.4" x2="144.0" y2="916.4" stroke="#2c8282" stroke-width="1.8"/>
<path d="M140.2,925.0 L144.8,916.9 L135.6,916.9 Z" fill="#2c8282"/>
<line x1="210.6" y1="914.3" x2="210.6" y2="905.0" stroke="#2c8282" stroke-width="1.8"/>
<line x1="206.8" y1="914.3" x2="214.4" y2="914.3" stroke="#2c8282" stroke-width="1.8"/>
<line x1="206.8" y1="905.0" x2="214.4" y2="905.0" stroke="#2c8282" stroke-width="1.8"/>
<path d="M210.6,914.3 L215.2,906.2 L206.0,906.2 Z" fill="#2c8282"/>
<line x1="281.0" y1="909.0" x2="281.0" y2="892.9" stroke="#2c8282" stroke-width="1.8"/>
<line x1="277.2" y1="909.0" x2="284.8" y2="909.0" stroke="#2c8282" stroke-width="1.8"/>
<line x1="277.2" y1="892.9" x2="284.8" y2="892.9" stroke="#2c8282" stroke-width="1.8"/>
<path d="M281.0,905.6 L285.6,897.5 L276.4,897.5 Z" fill="#2c8282"/>
<line x1="351.4" y1="894.3" x2="351.4" y2="871.5" stroke="#2c8282" stroke-width="1.8"/>
<line x1="347.6" y1="894.3" x2="355.2" y2="894.3" stroke="#2c8282" stroke-width="1.8"/>
<line x1="347.6" y1="871.5" x2="355.2" y2="871.5" stroke="#2c8282" stroke-width="1.8"/>
<path d="M351.4,887.5 L356.0,879.4 L346.8,879.4 Z" fill="#2c8282"/>
<line x1="69.8" y1="923.0" x2="69.8" y2="920.4" stroke="#e8b424" stroke-width="1.8"/>
<line x1="66.0" y1="923.0" x2="73.6" y2="923.0" stroke="#e8b424" stroke-width="1.8"/>
<line x1="66.0" y1="920.4" x2="73.6" y2="920.4" stroke="#e8b424" stroke-width="1.8"/>
<path d="M69.8,917.1 L74.4,925.2 L65.2,925.2 Z" fill="#e8b424"/>
<line x1="140.2" y1="921.7" x2="140.2" y2="913.7" stroke="#e8b424" stroke-width="1.8"/>
<line x1="136.4" y1="921.7" x2="144.0" y2="921.7" stroke="#e8b424" stroke-width="1.8"/>
<line x1="136.4" y1="913.7" x2="144.0" y2="913.7" stroke="#e8b424" stroke-width="1.8"/>
<path d="M140.2,913.1 L144.8,921.1 L135.6,921.1 Z" fill="#e8b424"/>
<line x1="210.6" y1="917.0" x2="210.6" y2="909.0" stroke="#e8b424" stroke-width="1.8"/>
<line x1="206.8" y1="917.0" x2="214.4" y2="917.0" stroke="#e8b424" stroke-width="1.8"/>
<line x1="206.8" y1="909.0" x2="214.4" y2="909.0" stroke="#e8b424" stroke-width="1.8"/>
<path d="M210.6,908.4 L215.2,916.5 L206.0,916.5 Z" fill="#e8b424"/>
<line x1="281.0" y1="904.3" x2="281.0" y2="893.6" stroke="#e8b424" stroke-width="1.8"/>
<line x1="277.2" y1="904.3" x2="284.8" y2="904.3" stroke="#e8b424" stroke-width="1.8"/>
<line x1="277.2" y1="893.6" x2="284.8" y2="893.6" stroke="#e8b424" stroke-width="1.8"/>
<path d="M281.0,894.3 L285.6,902.4 L276.4,902.4 Z" fill="#e8b424"/>
<line x1="351.4" y1="898.3" x2="351.4" y2="884.9" stroke="#e8b424" stroke-width="1.8"/>
<line x1="347.6" y1="898.3" x2="355.2" y2="898.3" stroke="#e8b424" stroke-width="1.8"/>
<line x1="347.6" y1="884.9" x2="355.2" y2="884.9" stroke="#e8b424" stroke-width="1.8"/>
<path d="M351.4,887.0 L356.0,895.0 L346.8,895.0 Z" fill="#e8b424"/>
<line x1="69.8" y1="923.0" x2="69.8" y2="920.4" stroke="#f0a494" stroke-width="1.8"/>
<line x1="66.0" y1="923.0" x2="73.6" y2="923.0" stroke="#f0a494" stroke-width="1.8"/>
<line x1="66.0" y1="920.4" x2="73.6" y2="920.4" stroke="#f0a494" stroke-width="1.8"/>
<rect x="65.6" y="917.5" width="8.4" height="8.4" fill="#f0a494"/>
<line x1="140.2" y1="921.7" x2="140.2" y2="916.4" stroke="#f0a494" stroke-width="1.8"/>
<line x1="136.4" y1="921.7" x2="144.0" y2="921.7" stroke="#f0a494" stroke-width="1.8"/>
<line x1="136.4" y1="916.4" x2="144.0" y2="916.4" stroke="#f0a494" stroke-width="1.8"/>
<rect x="136.0" y="914.8" width="8.4" height="8.4" fill="#f0a494"/>
<line x1="210.6" y1="919.0" x2="210.6" y2="904.3" stroke="#f0a494" stroke-width="1.8"/>
<line x1="206.8" y1="919.0" x2="214.4" y2="919.0" stroke="#f0a494" stroke-width="1.8"/>
<line x1="206.8" y1="904.3" x2="214.4" y2="904.3" stroke="#f0a494" stroke-width="1.8"/>
<rect x="206.4" y="907.5" width="8.4" height="8.4" fill="#f0a494"/>
<line x1="281.0" y1="906.3" x2="281.0" y2="887.6" stroke="#f0a494" stroke-width="1.8"/>
<line x1="277.2" y1="906.3" x2="284.8" y2="906.3" stroke="#f0a494" stroke-width="1.8"/>
<line x1="277.2" y1="887.6" x2="284.8" y2="887.6" stroke="#f0a494" stroke-width="1.8"/>
<rect x="276.8" y="892.7" width="8.4" height="8.4" fill="#f0a494"/>
<line x1="351.4" y1="900.3" x2="351.4" y2="874.8" stroke="#f0a494" stroke-width="1.8"/>
<line x1="347.6" y1="900.3" x2="355.2" y2="900.3" stroke="#f0a494" stroke-width="1.8"/>
<line x1="347.6" y1="874.8" x2="355.2" y2="874.8" stroke="#f0a494" stroke-width="1.8"/>
<rect x="347.2" y="883.4" width="8.4" height="8.4" fill="#f0a494"/>
<circle cx="69.8" cy="921.7" r="4.0" fill="#ee4c5c"/>
<circle cx="140.2" cy="908.3" r="4.0" fill="#ee4c5c"/>
<line x1="210.6" y1="889.6" x2="210.6" y2="884.2" stroke="#ee4c5c" stroke-width="1.8"/>
<line x1="206.8" y1="889.6" x2="214.4" y2="889.6" stroke="#ee4c5c" stroke-width="1.8"/>
<line x1="206.8" y1="884.2" x2="214.4" y2="884.2" stroke="#ee4c5c" stroke-width="1.8"/>
<circle cx="210.6" cy="889.6" r="4.0" fill="#ee4c5c"/>
<line x1="281.0" y1="853.7" x2="281.0" y2="841.6" stroke="#ee4c5c" stroke-width="1.8"/>
<line x1="277.2" y1="853.7" x2="284.8" y2="853.7" stroke="#ee4c5c" stroke-width="1.8"/>
<line x1="277.2" y1="841.6" x2="284.8" y2="841.6" stroke="#ee4c5c" stroke-width="1.8"/>
<circle cx="281.0" cy="853.7" r="4.0" fill="#ee4c5c"/>
<line x1="351.4" y1="771.7" x2="351.4" y2="752.3" stroke="#ee4c5c" stroke-width="1.8"/>
<line x1="347.6" y1="771.7" x2="355.2" y2="771.7" stroke="#ee4c5c" stroke-width="1.8"/>
<line x1="347.6" y1="752.3" x2="355.2" y2="752.3" stroke="#ee4c5c" stroke-width="1.8"/>
<circle cx="351.4" cy="771.7" r="4.0" fill="#ee4c5c"/>
<path d="M69.8,747.14 L69.8,935.1 L352.40000000000003,935.1" fill="none" stroke="#111" stroke-width="2.2"/>
<line x1="65.8" y1="935.1" x2="69.8" y2="935.1" stroke="#111" stroke-width="2"/>
<text x="63.2" y="940.2" font-size="14.4" font-weight="bold" text-anchor="end" fill="#111" stroke="#111" stroke-width="0.12">0</text>
<line x1="65.8" y1="908.3" x2="69.8" y2="908.3" stroke="#111" stroke-width="2"/>
<text x="63.2" y="913.4" font-size="14.4" font-weight="bold" text-anchor="end" fill="#111" stroke="#111" stroke-width="0.12">2</text>
<line x1="65.8" y1="881.5" x2="69.8" y2="881.5" stroke="#111" stroke-width="2"/>
<text x="63.2" y="886.6" font-size="14.4" font-weight="bold" text-anchor="end" fill="#111" stroke="#111" stroke-width="0.12">4</text>
<line x1="65.8" y1="854.8" x2="69.8" y2="854.8" stroke="#111" stroke-width="2"/>
<text x="63.2" y="859.9" font-size="14.4" font-weight="bold" text-anchor="end" fill="#111" stroke="#111" stroke-width="0.12">6</text>
<line x1="65.8" y1="828.0" x2="69.8" y2="828.0" stroke="#111" stroke-width="2"/>
<text x="63.2" y="833.1" font-size="14.4" font-weight="bold" text-anchor="end" fill="#111" stroke="#111" stroke-width="0.12">8</text>
<line x1="65.8" y1="801.2" x2="69.8" y2="801.2" stroke="#111" stroke-width="2"/>
<text x="63.2" y="806.3" font-size="14.4" font-weight="bold" text-anchor="end" fill="#111" stroke="#111" stroke-width="0.12">10</text>
<line x1="65.8" y1="774.4" x2="69.8" y2="774.4" stroke="#111" stroke-width="2"/>
<text x="63.2" y="779.5" font-size="14.4" font-weight="bold" text-anchor="end" fill="#111" stroke="#111" stroke-width="0.12">12</text>
<line x1="65.8" y1="747.6" x2="69.8" y2="747.6" stroke="#111" stroke-width="2"/>
<text x="63.2" y="752.7" font-size="14.4" font-weight="bold" text-anchor="end" fill="#111" stroke="#111" stroke-width="0.12">14</text>
<line x1="69.8" y1="935.1" x2="69.8" y2="939.1" stroke="#111" stroke-width="2"/>
<text x="69.8" y="955.8" font-size="14.4" font-weight="bold" text-anchor="middle" fill="#111" stroke="#111" stroke-width="0.12">0</text>
<line x1="140.2" y1="935.1" x2="140.2" y2="939.1" stroke="#111" stroke-width="2"/>
<text x="140.2" y="955.8" font-size="14.4" font-weight="bold" text-anchor="middle" fill="#111" stroke="#111" stroke-width="0.12">2</text>
<line x1="210.6" y1="935.1" x2="210.6" y2="939.1" stroke="#111" stroke-width="2"/>
<text x="210.6" y="955.8" font-size="14.4" font-weight="bold" text-anchor="middle" fill="#111" stroke="#111" stroke-width="0.12">4</text>
<line x1="281.0" y1="935.1" x2="281.0" y2="939.1" stroke="#111" stroke-width="2"/>
<text x="281.0" y="955.8" font-size="14.4" font-weight="bold" text-anchor="middle" fill="#111" stroke="#111" stroke-width="0.12">6</text>
<line x1="351.4" y1="935.1" x2="351.4" y2="939.1" stroke="#111" stroke-width="2"/>
<text x="351.4" y="955.8" font-size="14.4" font-weight="bold" text-anchor="middle" fill="#111" stroke="#111" stroke-width="0.12">8</text>
<text x="169" y="977.6" font-size="15.1" font-weight="bold" text-anchor="start" fill="#111"  stroke="#111" stroke-width="0.3">Time (Days)</text>
<text x="0" y="0" font-size="16.6" font-weight="normal" text-anchor="middle" fill="#111" textLength="113" lengthAdjust="spacingAndGlyphs" transform="translate(39.8,841.7) rotate(-90)" stroke="#111" stroke-width="0.3">Fold Expansion</text>
<line x1="394" y1="760.2" x2="414" y2="760.2" stroke="#ee4c5c" stroke-width="2.2"/>
<circle cx="404.0" cy="760.2" r="3.8" fill="#ee4c5c"/>
<text x="425" y="765.0" font-size="15.25" font-weight="normal" text-anchor="start" fill="#111" stroke="#111" stroke-width="0.2">FGFR4-CAR  T cells + RH4 cells</text>
<line x1="394" y1="785.4" x2="414" y2="785.4" stroke="#f0a494" stroke-width="2.2"/>
<rect x="400.0" y="781.4" width="8.0" height="8.0" fill="#f0a494"/>
<text x="425" y="790.2" font-size="15.25" font-weight="normal" text-anchor="start" fill="#111" stroke="#111" stroke-width="0.2">FGFR4-CAR  T cells + RD cells</text>
<line x1="394" y1="810.6" x2="414" y2="810.6" stroke="#e8b424" stroke-width="2.2"/>
<path d="M404.0,806.2 L408.4,813.9 L399.6,813.9 Z" fill="#e8b424"/>
<text x="425" y="815.4" font-size="15.25" font-weight="normal" text-anchor="start" fill="#111" stroke="#111" stroke-width="0.2">CD19-CAR  T cells + RH4 cells</text>
<line x1="394" y1="836" x2="414" y2="836" stroke="#2c8282" stroke-width="2.2"/>
<path d="M404.0,840.4 L408.4,832.7 L399.6,832.7 Z" fill="#2c8282"/>
<text x="425" y="840.8" font-size="15.25" font-weight="normal" text-anchor="start" fill="#111" stroke="#111" stroke-width="0.2">CD19-CAR  T cells + RD cells</text>
<text x="10.6" y="1048" font-size="21.5" font-weight="bold" text-anchor="start" fill="#111"  stroke="#111" stroke-width="0.3">D</text>
<polyline points="102.8,1233.2 158.7,1227.6 214.5,1226.5 270.6,1223.9 326.2,1221.7" fill="none" stroke="#2c8282" stroke-width="2.2" stroke-linejoin="round"/>
<polyline points="102.8,1233.6 158.7,1230.2 214.5,1228.9 270.6,1227.1 326.2,1219.3" fill="none" stroke="#e8b424" stroke-width="2.2" stroke-linejoin="round"/>
<polyline points="102.8,1231.4 158.7,1227.6 214.5,1223.0 270.6,1217.4 326.2,1214.6" fill="none" stroke="#f0a494" stroke-width="2.2" stroke-linejoin="round"/>
<polyline points="102.8,1204.6 158.7,1188.9 214.5,1149.1 270.6,1120.8 326.2,1067.0" fill="none" stroke="#ee4c5c" stroke-width="2.2" stroke-linejoin="round"/>
<line x1="102.8" y1="1234.7" x2="102.8" y2="1231.7" stroke="#2c8282" stroke-width="1.8"/>
<line x1="99.0" y1="1234.7" x2="106.6" y2="1234.7" stroke="#2c8282" stroke-width="1.8"/>
<line x1="99.0" y1="1231.7" x2="106.6" y2="1231.7" stroke="#2c8282" stroke-width="1.8"/>
<path d="M102.8,1237.8 L107.4,1229.8 L98.2,1229.8 Z" fill="#2c8282"/>
<line x1="158.7" y1="1229.1" x2="158.7" y2="1226.1" stroke="#2c8282" stroke-width="1.8"/>
<line x1="154.9" y1="1229.1" x2="162.5" y2="1229.1" stroke="#2c8282" stroke-width="1.8"/>
<line x1="154.9" y1="1226.1" x2="162.5" y2="1226.1" stroke="#2c8282" stroke-width="1.8"/>
<path d="M158.7,1232.2 L163.3,1224.2 L154.1,1224.2 Z" fill="#2c8282"/>
<line x1="214.5" y1="1228.4" x2="214.5" y2="1224.7" stroke="#2c8282" stroke-width="1.8"/>
<line x1="210.7" y1="1228.4" x2="218.3" y2="1228.4" stroke="#2c8282" stroke-width="1.8"/>
<line x1="210.7" y1="1224.7" x2="218.3" y2="1224.7" stroke="#2c8282" stroke-width="1.8"/>
<path d="M214.5,1231.1 L219.1,1223.1 L209.9,1223.1 Z" fill="#2c8282"/>
<line x1="270.6" y1="1226.7" x2="270.6" y2="1221.1" stroke="#2c8282" stroke-width="1.8"/>
<line x1="266.8" y1="1226.7" x2="274.4" y2="1226.7" stroke="#2c8282" stroke-width="1.8"/>
<line x1="266.8" y1="1221.1" x2="274.4" y2="1221.1" stroke="#2c8282" stroke-width="1.8"/>
<path d="M270.6,1228.5 L275.2,1220.5 L266.0,1220.5 Z" fill="#2c8282"/>
<line x1="326.2" y1="1224.5" x2="326.2" y2="1218.9" stroke="#2c8282" stroke-width="1.8"/>
<line x1="322.4" y1="1224.5" x2="330.0" y2="1224.5" stroke="#2c8282" stroke-width="1.8"/>
<line x1="322.4" y1="1218.9" x2="330.0" y2="1218.9" stroke="#2c8282" stroke-width="1.8"/>
<path d="M326.2,1226.3 L330.8,1218.2 L321.6,1218.2 Z" fill="#2c8282"/>
<line x1="102.8" y1="1234.7" x2="102.8" y2="1232.5" stroke="#e8b424" stroke-width="1.8"/>
<line x1="99.0" y1="1234.7" x2="106.6" y2="1234.7" stroke="#e8b424" stroke-width="1.8"/>
<line x1="99.0" y1="1232.5" x2="106.6" y2="1232.5" stroke="#e8b424" stroke-width="1.8"/>
<path d="M102.8,1229.0 L107.4,1237.0 L98.2,1237.0 Z" fill="#e8b424"/>
<line x1="158.7" y1="1231.7" x2="158.7" y2="1228.8" stroke="#e8b424" stroke-width="1.8"/>
<line x1="154.9" y1="1231.7" x2="162.5" y2="1231.7" stroke="#e8b424" stroke-width="1.8"/>
<line x1="154.9" y1="1228.8" x2="162.5" y2="1228.8" stroke="#e8b424" stroke-width="1.8"/>
<path d="M158.7,1225.6 L163.3,1233.7 L154.1,1233.7 Z" fill="#e8b424"/>
<line x1="214.5" y1="1230.8" x2="214.5" y2="1227.1" stroke="#e8b424" stroke-width="1.8"/>
<line x1="210.7" y1="1230.8" x2="218.3" y2="1230.8" stroke="#e8b424" stroke-width="1.8"/>
<line x1="210.7" y1="1227.1" x2="218.3" y2="1227.1" stroke="#e8b424" stroke-width="1.8"/>
<path d="M214.5,1224.3 L219.1,1232.4 L209.9,1232.4 Z" fill="#e8b424"/>
<line x1="270.6" y1="1229.3" x2="270.6" y2="1224.8" stroke="#e8b424" stroke-width="1.8"/>
<line x1="266.8" y1="1229.3" x2="274.4" y2="1229.3" stroke="#e8b424" stroke-width="1.8"/>
<line x1="266.8" y1="1224.8" x2="274.4" y2="1224.8" stroke="#e8b424" stroke-width="1.8"/>
<path d="M270.6,1222.5 L275.2,1230.5 L266.0,1230.5 Z" fill="#e8b424"/>
<line x1="326.2" y1="1222.1" x2="326.2" y2="1216.5" stroke="#e8b424" stroke-width="1.8"/>
<line x1="322.4" y1="1222.1" x2="330.0" y2="1222.1" stroke="#e8b424" stroke-width="1.8"/>
<line x1="322.4" y1="1216.5" x2="330.0" y2="1216.5" stroke="#e8b424" stroke-width="1.8"/>
<path d="M326.2,1214.7 L330.8,1222.7 L321.6,1222.7 Z" fill="#e8b424"/>
<line x1="102.8" y1="1233.6" x2="102.8" y2="1229.1" stroke="#f0a494" stroke-width="1.8"/>
<line x1="99.0" y1="1233.6" x2="106.6" y2="1233.6" stroke="#f0a494" stroke-width="1.8"/>
<line x1="99.0" y1="1229.1" x2="106.6" y2="1229.1" stroke="#f0a494" stroke-width="1.8"/>
<rect x="98.6" y="1227.2" width="8.4" height="8.4" fill="#f0a494"/>
<line x1="158.7" y1="1230.4" x2="158.7" y2="1224.8" stroke="#f0a494" stroke-width="1.8"/>
<line x1="154.9" y1="1230.4" x2="162.5" y2="1230.4" stroke="#f0a494" stroke-width="1.8"/>
<line x1="154.9" y1="1224.8" x2="162.5" y2="1224.8" stroke="#f0a494" stroke-width="1.8"/>
<rect x="154.5" y="1223.4" width="8.4" height="8.4" fill="#f0a494"/>
<line x1="214.5" y1="1227.6" x2="214.5" y2="1218.3" stroke="#f0a494" stroke-width="1.8"/>
<line x1="210.7" y1="1227.6" x2="218.3" y2="1227.6" stroke="#f0a494" stroke-width="1.8"/>
<line x1="210.7" y1="1218.3" x2="218.3" y2="1218.3" stroke="#f0a494" stroke-width="1.8"/>
<rect x="210.3" y="1218.8" width="8.4" height="8.4" fill="#f0a494"/>
<line x1="270.6" y1="1223.0" x2="270.6" y2="1211.8" stroke="#f0a494" stroke-width="1.8"/>
<line x1="266.8" y1="1223.0" x2="274.4" y2="1223.0" stroke="#f0a494" stroke-width="1.8"/>
<line x1="266.8" y1="1211.8" x2="274.4" y2="1211.8" stroke="#f0a494" stroke-width="1.8"/>
<rect x="266.4" y="1213.2" width="8.4" height="8.4" fill="#f0a494"/>
<line x1="326.2" y1="1222.1" x2="326.2" y2="1207.2" stroke="#f0a494" stroke-width="1.8"/>
<line x1="322.4" y1="1222.1" x2="330.0" y2="1222.1" stroke="#f0a494" stroke-width="1.8"/>
<line x1="322.4" y1="1207.2" x2="330.0" y2="1207.2" stroke="#f0a494" stroke-width="1.8"/>
<rect x="322.0" y="1210.4" width="8.4" height="8.4" fill="#f0a494"/>
<line x1="102.8" y1="1204.6" x2="102.8" y2="1197.9" stroke="#ee4c5c" stroke-width="1.8"/>
<line x1="99.0" y1="1204.6" x2="106.6" y2="1204.6" stroke="#ee4c5c" stroke-width="1.8"/>
<line x1="99.0" y1="1197.9" x2="106.6" y2="1197.9" stroke="#ee4c5c" stroke-width="1.8"/>
<circle cx="102.8" cy="1204.6" r="4.0" fill="#ee4c5c"/>
<line x1="158.7" y1="1188.9" x2="158.7" y2="1177.8" stroke="#ee4c5c" stroke-width="1.8"/>
<line x1="154.9" y1="1188.9" x2="162.5" y2="1188.9" stroke="#ee4c5c" stroke-width="1.8"/>
<line x1="154.9" y1="1177.8" x2="162.5" y2="1177.8" stroke="#ee4c5c" stroke-width="1.8"/>
<circle cx="158.7" cy="1188.9" r="4.0" fill="#ee4c5c"/>
<line x1="214.5" y1="1149.1" x2="214.5" y2="1137.0" stroke="#ee4c5c" stroke-width="1.8"/>
<line x1="210.7" y1="1149.1" x2="218.3" y2="1149.1" stroke="#ee4c5c" stroke-width="1.8"/>
<line x1="210.7" y1="1137.0" x2="218.3" y2="1137.0" stroke="#ee4c5c" stroke-width="1.8"/>
<circle cx="214.5" cy="1149.1" r="4.0" fill="#ee4c5c"/>
<line x1="270.6" y1="1120.8" x2="270.6" y2="1106.7" stroke="#ee4c5c" stroke-width="1.8"/>
<line x1="266.8" y1="1120.8" x2="274.4" y2="1120.8" stroke="#ee4c5c" stroke-width="1.8"/>
<line x1="266.8" y1="1106.7" x2="274.4" y2="1106.7" stroke="#ee4c5c" stroke-width="1.8"/>
<circle cx="270.6" cy="1120.8" r="4.0" fill="#ee4c5c"/>
<line x1="326.2" y1="1067.0" x2="326.2" y2="1052.3" stroke="#ee4c5c" stroke-width="1.8"/>
<line x1="322.4" y1="1067.0" x2="330.0" y2="1067.0" stroke="#ee4c5c" stroke-width="1.8"/>
<line x1="322.4" y1="1052.3" x2="330.0" y2="1052.3" stroke="#ee4c5c" stroke-width="1.8"/>
<circle cx="326.2" cy="1067.0" r="4.0" fill="#ee4c5c"/>
<path d="M75.2,1052.2 L75.2,1238.8 L354.2,1238.8" fill="none" stroke="#111" stroke-width="2.2"/>
<line x1="71.2" y1="1238.8" x2="75.2" y2="1238.8" stroke="#111" stroke-width="2"/>
<text x="68.2" y="1243.9" font-size="14.4" font-weight="bold" text-anchor="end" fill="#111" stroke="#111" stroke-width="0.12">0</text>
<line x1="71.2" y1="1201.6" x2="75.2" y2="1201.6" stroke="#111" stroke-width="2"/>
<text x="68.2" y="1206.7" font-size="14.4" font-weight="bold" text-anchor="end" fill="#111" stroke="#111" stroke-width="0.12">20</text>
<line x1="71.2" y1="1164.4" x2="75.2" y2="1164.4" stroke="#111" stroke-width="2"/>
<text x="68.2" y="1169.5" font-size="14.4" font-weight="bold" text-anchor="end" fill="#111" stroke="#111" stroke-width="0.12">40</text>
<line x1="71.2" y1="1127.1" x2="75.2" y2="1127.1" stroke="#111" stroke-width="2"/>
<text x="68.2" y="1132.2" font-size="14.4" font-weight="bold" text-anchor="end" fill="#111" stroke="#111" stroke-width="0.12">60</text>
<line x1="71.2" y1="1089.9" x2="75.2" y2="1089.9" stroke="#111" stroke-width="2"/>
<text x="68.2" y="1095.0" font-size="14.4" font-weight="bold" text-anchor="end" fill="#111" stroke="#111" stroke-width="0.12">80</text>
<line x1="71.2" y1="1052.7" x2="75.2" y2="1052.7" stroke="#111" stroke-width="2"/>
<text x="68.2" y="1057.8" font-size="14.4" font-weight="bold" text-anchor="end" fill="#111" stroke="#111" stroke-width="0.12">100</text>
<line x1="102.8" y1="1238.8" x2="102.8" y2="1243.3" stroke="#111" stroke-width="2"/>
<text x="102.8" y="1259.4" font-size="14.4" font-weight="bold" text-anchor="middle" fill="#111" stroke="#111" stroke-width="0.12">0.5:1</text>
<line x1="158.7" y1="1238.8" x2="158.7" y2="1243.3" stroke="#111" stroke-width="2"/>
<text x="158.7" y="1259.4" font-size="14.4" font-weight="bold" text-anchor="middle" fill="#111" stroke="#111" stroke-width="0.12">1:1</text>
<line x1="214.5" y1="1238.8" x2="214.5" y2="1243.3" stroke="#111" stroke-width="2"/>
<text x="214.5" y="1259.4" font-size="14.4" font-weight="bold" text-anchor="middle" fill="#111" stroke="#111" stroke-width="0.12">2:1</text>
<line x1="270.6" y1="1238.8" x2="270.6" y2="1243.3" stroke="#111" stroke-width="2"/>
<text x="270.6" y="1259.4" font-size="14.4" font-weight="bold" text-anchor="middle" fill="#111" stroke="#111" stroke-width="0.12">4:1</text>
<line x1="326.2" y1="1238.8" x2="326.2" y2="1243.3" stroke="#111" stroke-width="2"/>
<text x="326.2" y="1259.4" font-size="14.4" font-weight="bold" text-anchor="middle" fill="#111" stroke="#111" stroke-width="0.12">8:1</text>
<text x="142" y="1282.8" font-size="15.6" font-weight="bold" text-anchor="start" fill="#111"  stroke="#111" stroke-width="0.3">Effect / Target Ratio</text>
<text x="0" y="0" font-size="16.5" font-weight="normal" text-anchor="middle" fill="#111" textLength="129" lengthAdjust="spacingAndGlyphs" transform="translate(38.6,1145.2) rotate(-90)" stroke="#111" stroke-width="0.3">Specific Lysis (%)</text>
<line x1="396.4" y1="1065.3" x2="416" y2="1065.3" stroke="#ee4c5c" stroke-width="2.2"/>
<circle cx="406.2" cy="1065.3" r="3.8" fill="#ee4c5c"/>
<text x="426.8" y="1070.1" font-size="15.08" font-weight="normal" text-anchor="start" fill="#111" stroke="#111" stroke-width="0.2">FGFR4-CAR  T cells + RH4 cells</text>
<line x1="396.4" y1="1090.6" x2="416" y2="1090.6" stroke="#f0a494" stroke-width="2.2"/>
<rect x="402.2" y="1086.6" width="8.0" height="8.0" fill="#f0a494"/>
<text x="426.8" y="1095.4" font-size="15.08" font-weight="normal" text-anchor="start" fill="#111" stroke="#111" stroke-width="0.2">FGFR4-CAR  T cells + RD cells</text>
<line x1="396.4" y1="1115.7" x2="416" y2="1115.7" stroke="#e8b424" stroke-width="2.2"/>
<path d="M406.2,1111.3 L410.6,1119.0 L401.8,1119.0 Z" fill="#e8b424"/>
<text x="426.8" y="1120.5" font-size="15.08" font-weight="normal" text-anchor="start" fill="#111" stroke="#111" stroke-width="0.2">CD19-CAR  T cells + RH4 cells</text>
<line x1="396.4" y1="1140.8" x2="416" y2="1140.8" stroke="#2c8282" stroke-width="2.2"/>
<path d="M406.2,1145.2 L410.6,1137.5 L401.8,1137.5 Z" fill="#2c8282"/>
<text x="426.8" y="1145.6" font-size="15.08" font-weight="normal" text-anchor="start" fill="#111" stroke="#111" stroke-width="0.2">CD19-CAR  T cells + RD cells</text>
<text x="10.6" y="1349" font-size="21.5" font-weight="bold" text-anchor="start" fill="#111"  stroke="#111" stroke-width="0.3">E</text>
<rect x="86.8" y="1548.3" width="5.6" height="1.5" fill="#f0a494"/>
<rect x="92.8" y="1548.4" width="5.6" height="1.4" fill="#e8b424"/>
<rect x="98.8" y="1548.0" width="5.6" height="1.8" fill="#2c8282"/>
<rect x="80.8" y="1536.7" width="6.4" height="13.1" fill="#ee4c5c"/>
<line x1="84.0" y1="1536.7" x2="84.0" y2="1534.1" stroke="#ee4c5c" stroke-width="2"/>
<rect x="110.7" y="1548.3" width="5.6" height="1.5" fill="#f0a494"/>
<rect x="116.7" y="1548.4" width="5.6" height="1.4" fill="#e8b424"/>
<rect x="122.7" y="1548.0" width="5.6" height="1.8" fill="#2c8282"/>
<rect x="104.7" y="1548.1" width="6.4" height="1.7" fill="#ee4c5c"/>
<rect x="134.6" y="1548.3" width="5.6" height="1.5" fill="#f0a494"/>
<rect x="140.6" y="1548.4" width="5.6" height="1.4" fill="#e8b424"/>
<rect x="146.6" y="1548.0" width="5.6" height="1.8" fill="#2c8282"/>
<rect x="128.6" y="1548.4" width="6.4" height="1.4" fill="#ee4c5c"/>
<rect x="158.6" y="1548.3" width="5.6" height="1.5" fill="#f0a494"/>
<rect x="164.6" y="1548.4" width="5.6" height="1.4" fill="#e8b424"/>
<rect x="170.6" y="1548.0" width="5.6" height="1.8" fill="#2c8282"/>
<rect x="152.6" y="1548.0" width="6.4" height="1.8" fill="#ee4c5c"/>
<rect x="182.5" y="1548.3" width="5.6" height="1.5" fill="#f0a494"/>
<rect x="188.5" y="1548.4" width="5.6" height="1.4" fill="#e8b424"/>
<rect x="194.5" y="1548.0" width="5.6" height="1.8" fill="#2c8282"/>
<rect x="176.5" y="1548.1" width="6.4" height="1.7" fill="#ee4c5c"/>
<rect x="206.4" y="1548.3" width="5.6" height="1.5" fill="#f0a494"/>
<rect x="212.4" y="1548.4" width="5.6" height="1.4" fill="#e8b424"/>
<rect x="218.4" y="1548.0" width="5.6" height="1.8" fill="#2c8282"/>
<rect x="200.4" y="1539.2" width="6.4" height="10.6" fill="#ee4c5c"/>
<line x1="203.6" y1="1539.2" x2="203.6" y2="1537.8" stroke="#ee4c5c" stroke-width="2"/>
<rect x="230.3" y="1548.3" width="5.6" height="1.5" fill="#f0a494"/>
<rect x="236.3" y="1548.4" width="5.6" height="1.4" fill="#e8b424"/>
<rect x="242.3" y="1548.0" width="5.6" height="1.8" fill="#2c8282"/>
<rect x="224.3" y="1547.4" width="6.4" height="2.4" fill="#ee4c5c"/>
<rect x="254.2" y="1548.3" width="5.6" height="1.5" fill="#f0a494"/>
<rect x="260.2" y="1548.4" width="5.6" height="1.4" fill="#e8b424"/>
<rect x="266.2" y="1548.0" width="5.6" height="1.8" fill="#2c8282"/>
<rect x="248.2" y="1504.9" width="6.4" height="44.9" fill="#ee4c5c"/>
<line x1="251.4" y1="1504.9" x2="251.4" y2="1500.9" stroke="#ee4c5c" stroke-width="2"/>
<rect x="278.2" y="1548.3" width="5.6" height="1.5" fill="#f0a494"/>
<rect x="284.2" y="1548.4" width="5.6" height="1.4" fill="#e8b424"/>
<rect x="290.2" y="1548.0" width="5.6" height="1.8" fill="#2c8282"/>
<rect x="272.2" y="1529.1" width="6.4" height="20.7" fill="#ee4c5c"/>
<line x1="275.4" y1="1529.1" x2="275.4" y2="1526.6" stroke="#ee4c5c" stroke-width="2"/>
<rect x="302.1" y="1548.3" width="5.6" height="1.5" fill="#f0a494"/>
<rect x="308.1" y="1548.4" width="5.6" height="1.4" fill="#e8b424"/>
<rect x="314.1" y="1548.0" width="5.6" height="1.8" fill="#2c8282"/>
<rect x="296.1" y="1406.3" width="6.4" height="143.5" fill="#ee4c5c"/>
<line x1="299.3" y1="1406.3" x2="299.3" y2="1389.7" stroke="#ee4c5c" stroke-width="2"/>
<rect x="326.0" y="1548.3" width="5.6" height="1.5" fill="#f0a494"/>
<rect x="332.0" y="1548.4" width="5.6" height="1.4" fill="#e8b424"/>
<rect x="338.0" y="1548.0" width="5.6" height="1.8" fill="#2c8282"/>
<rect x="320.0" y="1541.7" width="6.4" height="8.1" fill="#ee4c5c"/>
<line x1="323.2" y1="1541.7" x2="323.2" y2="1541.0" stroke="#ee4c5c" stroke-width="2"/>
<rect x="349.9" y="1548.3" width="5.6" height="1.5" fill="#f0a494"/>
<rect x="355.9" y="1548.4" width="5.6" height="1.4" fill="#e8b424"/>
<rect x="361.9" y="1548.0" width="5.6" height="1.8" fill="#2c8282"/>
<rect x="343.9" y="1544.7" width="6.4" height="5.1" fill="#ee4c5c"/>
<path d="M80.3,1359.3 L80.3,1549.8 L365.5,1549.8" fill="none" stroke="#111" stroke-width="2.2"/>
<line x1="76.3" y1="1549.8" x2="80.3" y2="1549.8" stroke="#111" stroke-width="2"/>
<text x="72.8" y="1554.6" font-size="14.1" font-weight="bold" text-anchor="end" fill="#111"  stroke="#111" stroke-width="0.3">0</text>
<line x1="76.3" y1="1502.3" x2="80.3" y2="1502.3" stroke="#111" stroke-width="2"/>
<text x="72.8" y="1507.1" font-size="14.1" font-weight="bold" text-anchor="end" fill="#111"  stroke="#111" stroke-width="0.3">2000</text>
<line x1="76.3" y1="1454.8" x2="80.3" y2="1454.8" stroke="#111" stroke-width="2"/>
<text x="72.8" y="1459.6" font-size="14.1" font-weight="bold" text-anchor="end" fill="#111"  stroke="#111" stroke-width="0.3">4000</text>
<line x1="76.3" y1="1407.3" x2="80.3" y2="1407.3" stroke="#111" stroke-width="2"/>
<text x="72.8" y="1412.1" font-size="14.1" font-weight="bold" text-anchor="end" fill="#111"  stroke="#111" stroke-width="0.3">6000</text>
<line x1="76.3" y1="1359.8" x2="80.3" y2="1359.8" stroke="#111" stroke-width="2"/>
<text x="72.8" y="1364.6" font-size="14.1" font-weight="bold" text-anchor="end" fill="#111"  stroke="#111" stroke-width="0.3">8000</text>
<line x1="91.6" y1="1549.8" x2="91.6" y2="1555.3" stroke="#111" stroke-width="2"/>
<text x="0" y="0" font-size="14.8" font-weight="bold" text-anchor="end" fill="#111" transform="translate(96.6,1567.8) rotate(-45)" stroke="#111" stroke-width="0.3">IL-2</text>
<line x1="115.5" y1="1549.8" x2="115.5" y2="1555.3" stroke="#111" stroke-width="2"/>
<text x="0" y="0" font-size="14.8" font-weight="bold" text-anchor="end" fill="#111" transform="translate(120.5,1567.8) rotate(-45)" stroke="#111" stroke-width="0.3">IL-4</text>
<line x1="139.4" y1="1549.8" x2="139.4" y2="1555.3" stroke="#111" stroke-width="2"/>
<text x="0" y="0" font-size="14.8" font-weight="bold" text-anchor="end" fill="#111" transform="translate(144.4,1567.8) rotate(-45)" stroke="#111" stroke-width="0.3">IL-5</text>
<line x1="163.4" y1="1549.8" x2="163.4" y2="1555.3" stroke="#111" stroke-width="2"/>
<text x="0" y="0" font-size="14.8" font-weight="bold" text-anchor="end" fill="#111" transform="translate(168.4,1567.8) rotate(-45)" stroke="#111" stroke-width="0.3">IL-6</text>
<line x1="187.3" y1="1549.8" x2="187.3" y2="1555.3" stroke="#111" stroke-width="2"/>
<text x="0" y="0" font-size="14.8" font-weight="bold" text-anchor="end" fill="#111" transform="translate(192.3,1567.8) rotate(-45)" stroke="#111" stroke-width="0.3">IL-10</text>
<line x1="211.2" y1="1549.8" x2="211.2" y2="1555.3" stroke="#111" stroke-width="2"/>
<text x="0" y="0" font-size="14.8" font-weight="bold" text-anchor="end" fill="#111" transform="translate(216.2,1567.8) rotate(-45)" stroke="#111" stroke-width="0.3">IL-13</text>
<line x1="235.1" y1="1549.8" x2="235.1" y2="1555.3" stroke="#111" stroke-width="2"/>
<text x="0" y="0" font-size="14.8" font-weight="bold" text-anchor="end" fill="#111" transform="translate(240.1,1567.8) rotate(-45)" stroke="#111" stroke-width="0.3">IL-17</text>
<line x1="259.0" y1="1549.8" x2="259.0" y2="1555.3" stroke="#111" stroke-width="2"/>
<text x="0" y="0" font-size="14.8" font-weight="bold" text-anchor="end" fill="#111" transform="translate(264.0,1567.8) rotate(-45)" stroke="#111" stroke-width="0.3">IFN-γ</text>
<line x1="283.0" y1="1549.8" x2="283.0" y2="1555.3" stroke="#111" stroke-width="2"/>
<text x="0" y="0" font-size="14.8" font-weight="bold" text-anchor="end" fill="#111" transform="translate(288.0,1567.8) rotate(-45)" stroke="#111" stroke-width="0.3">TNF-α</text>
<line x1="306.9" y1="1549.8" x2="306.9" y2="1555.3" stroke="#111" stroke-width="2"/>
<text x="0" y="0" font-size="14.8" font-weight="bold" text-anchor="end" fill="#111" transform="translate(311.9,1567.8) rotate(-45)" stroke="#111" stroke-width="0.3">GM-CSF</text>
<line x1="330.8" y1="1549.8" x2="330.8" y2="1555.3" stroke="#111" stroke-width="2"/>
<text x="0" y="0" font-size="14.8" font-weight="bold" text-anchor="end" fill="#111" transform="translate(335.8,1567.8) rotate(-45)" stroke="#111" stroke-width="0.3">MIP-1a</text>
<line x1="354.7" y1="1549.8" x2="354.7" y2="1555.3" stroke="#111" stroke-width="2"/>
<text x="0" y="0" font-size="14.8" font-weight="bold" text-anchor="end" fill="#111" transform="translate(359.7,1567.8) rotate(-45)" stroke="#111" stroke-width="0.3">MIP-1b</text>
<text x="0" y="0" font-size="17" font-weight="normal" text-anchor="middle" fill="#111" textLength="166" lengthAdjust="spacingAndGlyphs" transform="translate(34.2,1452.4) rotate(-90)" stroke="#111" stroke-width="0.45">Concentration (pg/ml)</text>
<rect x="407.4" y="1366.0" width="23.4" height="12.6" fill="#ee4c5c"/>
<text x="439.9" y="1377.8" font-size="15.45" font-weight="normal" text-anchor="start" fill="#111" stroke="#111" stroke-width="0.2">FGFR4-CAR  T cells + RH4 cells</text>
<rect x="407.4" y="1391.8" width="23.4" height="12.6" fill="#f0a494"/>
<text x="439.9" y="1403.5" font-size="15.45" font-weight="normal" text-anchor="start" fill="#111" stroke="#111" stroke-width="0.2">FGFR4-CAR  T cells + RD cells</text>
<rect x="407.4" y="1417.5" width="23.4" height="12.6" fill="#e8b424"/>
<text x="439.9" y="1429.3" font-size="15.45" font-weight="normal" text-anchor="start" fill="#111" stroke="#111" stroke-width="0.2">CD19-CAR  T cells + RH4 cells</text>
<rect x="407.4" y="1443.2" width="23.4" height="12.6" fill="#2c8282"/>
<text x="439.9" y="1455.0" font-size="15.45" font-weight="normal" text-anchor="start" fill="#111" stroke="#111" stroke-width="0.2">CD19-CAR  T cells + RD cells</text>
</svg></body></html>
